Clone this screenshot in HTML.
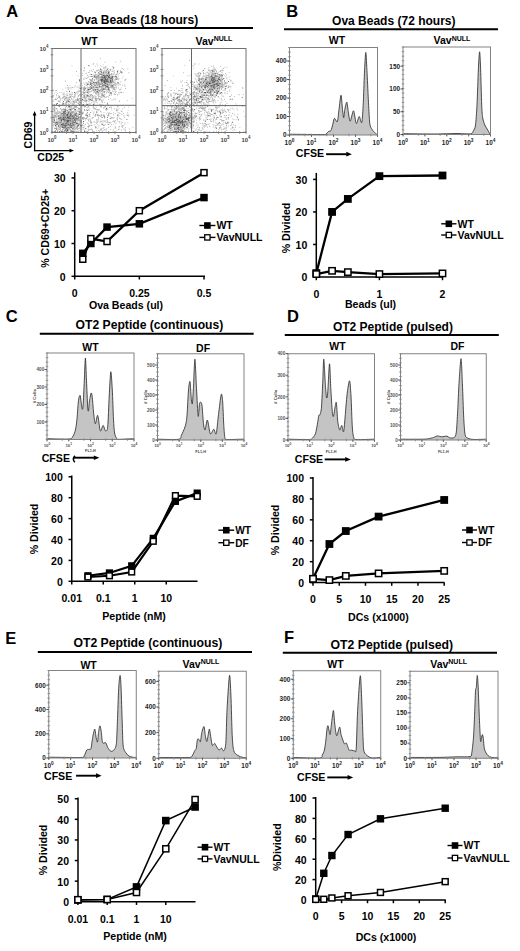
<!DOCTYPE html>
<html><head><meta charset="utf-8"><style>
html,body{margin:0;padding:0;background:#fff;}
svg{display:block;font-family:"Liberation Sans", sans-serif;}
</style></head><body>
<svg width="520" height="951" viewBox="0 0 520 951">
<rect width="520" height="951" fill="#fff"/>
<text x="6.20" y="16.60" font-size="16.5" font-weight="bold" text-anchor="start" fill="#000">A</text>
<text x="74.80" y="23.50" font-size="12" font-weight="bold" text-anchor="start" fill="#000">Ova Beads (18 hours)</text>
<line x1="39.00" y1="28.10" x2="253.00" y2="28.10" stroke="#000" stroke-width="2"/>
<text x="89.50" y="44.60" font-size="10.5" font-weight="bold" text-anchor="middle" fill="#000">WT</text>
<text x="214.00" y="45.00" font-size="10.5" font-weight="bold" text-anchor="middle" fill="#000">Vav<tspan font-size="7" dy="-3.6">NULL</tspan></text>
<path d="M75.4 128.7h.9v.9h-.9zM67.4 115.4h.9v.9h-.9zM59.9 120.2h.9v.9h-.9zM60.4 111.4h.9v.9h-.9zM70.6 114.5h.9v.9h-.9zM67.0 119.6h.9v.9h-.9zM57.2 123.2h.9v.9h-.9zM68.3 119.1h.9v.9h-.9zM75.0 121.2h.9v.9h-.9zM68.4 126.1h.9v.9h-.9zM71.5 120.8h.9v.9h-.9zM60.0 122.7h.9v.9h-.9zM67.5 124.3h.9v.9h-.9zM68.4 126.5h.9v.9h-.9zM71.3 113.5h.9v.9h-.9zM64.4 117.0h.9v.9h-.9zM79.9 119.4h.9v.9h-.9zM71.2 123.7h.9v.9h-.9zM65.2 110.7h.9v.9h-.9zM71.7 112.2h.9v.9h-.9zM64.2 127.5h.9v.9h-.9zM76.3 112.2h.9v.9h-.9zM58.3 119.7h.9v.9h-.9zM71.7 121.0h.9v.9h-.9zM69.0 114.1h.9v.9h-.9zM70.8 126.7h.9v.9h-.9zM64.2 111.4h.9v.9h-.9zM62.1 124.6h.9v.9h-.9zM55.7 119.4h.9v.9h-.9zM60.6 119.2h.9v.9h-.9zM65.4 120.1h.9v.9h-.9zM76.8 122.5h.9v.9h-.9zM63.9 122.3h.9v.9h-.9zM52.6 119.8h.9v.9h-.9zM70.0 116.6h.9v.9h-.9zM60.6 116.9h.9v.9h-.9zM66.0 127.5h.9v.9h-.9zM67.7 119.8h.9v.9h-.9zM69.5 109.1h.9v.9h-.9zM75.1 113.5h.9v.9h-.9zM69.9 113.2h.9v.9h-.9zM60.7 117.6h.9v.9h-.9zM79.3 124.2h.9v.9h-.9zM63.1 118.3h.9v.9h-.9zM59.5 119.8h.9v.9h-.9zM63.3 124.3h.9v.9h-.9zM61.5 115.7h.9v.9h-.9zM71.6 120.8h.9v.9h-.9zM74.5 111.8h.9v.9h-.9zM70.5 109.4h.9v.9h-.9zM65.7 117.8h.9v.9h-.9zM68.1 120.1h.9v.9h-.9zM74.0 125.3h.9v.9h-.9zM65.6 121.9h.9v.9h-.9zM71.3 126.2h.9v.9h-.9zM69.6 124.2h.9v.9h-.9zM65.3 113.6h.9v.9h-.9zM63.8 126.1h.9v.9h-.9zM73.4 120.9h.9v.9h-.9zM63.3 121.8h.9v.9h-.9zM77.8 128.1h.9v.9h-.9zM62.6 119.7h.9v.9h-.9zM73.3 127.6h.9v.9h-.9zM63.4 113.2h.9v.9h-.9zM69.3 113.1h.9v.9h-.9zM68.6 128.6h.9v.9h-.9zM60.3 124.8h.9v.9h-.9zM63.0 127.6h.9v.9h-.9zM72.1 121.8h.9v.9h-.9zM80.0 117.5h.9v.9h-.9zM62.5 131.1h.9v.9h-.9zM68.3 118.8h.9v.9h-.9zM74.0 106.1h.9v.9h-.9zM63.4 118.4h.9v.9h-.9zM78.8 108.0h.9v.9h-.9zM62.7 123.8h.9v.9h-.9zM69.7 128.6h.9v.9h-.9zM63.1 121.6h.9v.9h-.9zM74.6 125.4h.9v.9h-.9zM64.8 126.8h.9v.9h-.9zM61.0 130.8h.9v.9h-.9zM68.0 119.3h.9v.9h-.9zM68.8 125.1h.9v.9h-.9zM78.3 119.1h.9v.9h-.9zM64.6 123.5h.9v.9h-.9zM61.3 109.8h.9v.9h-.9zM72.4 117.7h.9v.9h-.9zM52.6 121.7h.9v.9h-.9zM68.0 129.6h.9v.9h-.9zM70.4 121.9h.9v.9h-.9zM70.8 117.8h.9v.9h-.9zM67.5 111.9h.9v.9h-.9zM70.4 115.2h.9v.9h-.9zM64.1 124.2h.9v.9h-.9zM73.0 114.0h.9v.9h-.9zM80.0 116.5h.9v.9h-.9zM72.4 125.7h.9v.9h-.9zM68.5 121.0h.9v.9h-.9zM78.7 125.3h.9v.9h-.9zM62.1 127.0h.9v.9h-.9zM68.3 114.3h.9v.9h-.9zM62.8 118.2h.9v.9h-.9zM71.5 122.3h.9v.9h-.9zM73.5 115.1h.9v.9h-.9zM67.5 119.2h.9v.9h-.9zM65.6 117.7h.9v.9h-.9zM77.1 128.3h.9v.9h-.9zM71.7 121.1h.9v.9h-.9zM73.8 119.5h.9v.9h-.9zM69.9 122.4h.9v.9h-.9zM67.6 129.9h.9v.9h-.9zM78.4 127.9h.9v.9h-.9zM71.6 117.3h.9v.9h-.9zM66.8 126.8h.9v.9h-.9zM74.6 125.1h.9v.9h-.9zM67.9 120.2h.9v.9h-.9zM72.4 119.5h.9v.9h-.9zM61.2 116.3h.9v.9h-.9zM66.1 122.0h.9v.9h-.9zM81.7 111.8h.9v.9h-.9zM70.1 119.5h.9v.9h-.9zM69.0 128.1h.9v.9h-.9zM75.1 119.1h.9v.9h-.9zM63.4 111.8h.9v.9h-.9zM66.5 127.5h.9v.9h-.9zM65.3 124.2h.9v.9h-.9zM71.6 122.4h.9v.9h-.9zM73.0 117.8h.9v.9h-.9zM65.0 125.0h.9v.9h-.9zM61.9 130.6h.9v.9h-.9zM71.3 116.8h.9v.9h-.9zM62.9 126.5h.9v.9h-.9zM59.3 116.2h.9v.9h-.9zM67.0 121.2h.9v.9h-.9zM67.1 122.3h.9v.9h-.9zM64.6 119.3h.9v.9h-.9zM75.2 123.9h.9v.9h-.9zM64.1 130.3h.9v.9h-.9zM54.1 120.5h.9v.9h-.9zM71.3 125.8h.9v.9h-.9zM67.7 117.7h.9v.9h-.9zM70.8 118.8h.9v.9h-.9zM70.1 102.9h.9v.9h-.9zM69.5 115.3h.9v.9h-.9zM73.1 124.5h.9v.9h-.9zM71.7 117.6h.9v.9h-.9zM69.8 117.9h.9v.9h-.9zM68.4 119.2h.9v.9h-.9zM61.3 131.1h.9v.9h-.9zM71.7 107.7h.9v.9h-.9zM72.8 111.6h.9v.9h-.9zM65.5 116.5h.9v.9h-.9zM63.5 121.4h.9v.9h-.9zM67.0 122.2h.9v.9h-.9zM71.2 114.7h.9v.9h-.9zM66.9 121.3h.9v.9h-.9zM62.9 115.0h.9v.9h-.9zM64.9 119.1h.9v.9h-.9zM64.8 122.6h.9v.9h-.9zM70.6 123.3h.9v.9h-.9zM70.1 114.7h.9v.9h-.9zM59.7 124.8h.9v.9h-.9zM59.5 118.7h.9v.9h-.9zM62.9 114.8h.9v.9h-.9zM62.9 111.0h.9v.9h-.9zM62.4 120.6h.9v.9h-.9zM59.9 124.0h.9v.9h-.9zM79.1 112.6h.9v.9h-.9zM65.5 128.5h.9v.9h-.9zM69.4 120.7h.9v.9h-.9zM73.0 128.6h.9v.9h-.9zM71.2 116.5h.9v.9h-.9zM62.5 109.1h.9v.9h-.9zM60.0 126.7h.9v.9h-.9zM66.3 112.0h.9v.9h-.9zM75.6 110.0h.9v.9h-.9zM75.2 118.1h.9v.9h-.9zM69.2 124.1h.9v.9h-.9zM68.7 127.6h.9v.9h-.9zM67.1 118.0h.9v.9h-.9zM62.7 111.3h.9v.9h-.9zM62.5 125.9h.9v.9h-.9zM72.4 128.3h.9v.9h-.9zM84.7 124.3h.9v.9h-.9zM70.3 112.1h.9v.9h-.9zM70.4 119.2h.9v.9h-.9zM69.0 108.6h.9v.9h-.9zM61.6 112.1h.9v.9h-.9zM53.1 124.6h.9v.9h-.9zM73.3 118.9h.9v.9h-.9zM69.3 114.0h.9v.9h-.9zM69.9 124.6h.9v.9h-.9zM77.0 129.4h.9v.9h-.9zM70.2 119.2h.9v.9h-.9zM61.6 116.4h.9v.9h-.9zM71.0 123.4h.9v.9h-.9zM71.2 120.1h.9v.9h-.9zM60.8 114.1h.9v.9h-.9zM69.3 116.5h.9v.9h-.9zM65.7 127.9h.9v.9h-.9zM70.0 109.4h.9v.9h-.9zM75.0 118.8h.9v.9h-.9zM54.2 120.7h.9v.9h-.9zM63.1 123.3h.9v.9h-.9zM74.9 126.7h.9v.9h-.9zM52.6 115.6h.9v.9h-.9zM68.2 103.9h.9v.9h-.9zM72.0 125.3h.9v.9h-.9zM62.0 117.7h.9v.9h-.9zM60.9 119.9h.9v.9h-.9zM66.7 120.0h.9v.9h-.9zM60.4 122.3h.9v.9h-.9zM64.8 125.7h.9v.9h-.9zM69.0 111.1h.9v.9h-.9zM57.6 120.4h.9v.9h-.9zM63.8 122.8h.9v.9h-.9zM72.2 120.1h.9v.9h-.9zM56.0 112.8h.9v.9h-.9zM70.7 113.7h.9v.9h-.9zM70.4 114.7h.9v.9h-.9zM66.4 102.2h.9v.9h-.9zM65.6 123.4h.9v.9h-.9zM61.2 114.9h.9v.9h-.9zM66.7 120.4h.9v.9h-.9zM56.3 126.7h.9v.9h-.9zM57.9 115.1h.9v.9h-.9zM75.7 114.0h.9v.9h-.9zM56.3 120.5h.9v.9h-.9zM61.0 113.3h.9v.9h-.9zM62.4 115.5h.9v.9h-.9zM60.7 113.8h.9v.9h-.9zM77.5 116.0h.9v.9h-.9zM73.3 111.6h.9v.9h-.9zM70.5 112.5h.9v.9h-.9zM64.0 123.8h.9v.9h-.9zM63.6 108.2h.9v.9h-.9zM63.4 119.1h.9v.9h-.9zM70.7 114.0h.9v.9h-.9zM65.1 120.4h.9v.9h-.9zM56.3 119.4h.9v.9h-.9zM61.6 122.6h.9v.9h-.9zM66.3 119.0h.9v.9h-.9zM52.6 119.3h.9v.9h-.9zM64.6 114.3h.9v.9h-.9zM70.9 116.9h.9v.9h-.9zM60.8 119.2h.9v.9h-.9zM56.4 119.3h.9v.9h-.9zM71.6 127.6h.9v.9h-.9zM64.3 109.3h.9v.9h-.9zM65.9 128.2h.9v.9h-.9zM67.9 127.7h.9v.9h-.9zM72.4 129.4h.9v.9h-.9zM70.9 116.0h.9v.9h-.9zM63.6 108.9h.9v.9h-.9zM80.7 122.5h.9v.9h-.9zM62.9 116.4h.9v.9h-.9zM67.9 116.2h.9v.9h-.9zM64.2 117.4h.9v.9h-.9zM73.9 118.9h.9v.9h-.9zM76.0 115.0h.9v.9h-.9zM63.5 119.5h.9v.9h-.9zM73.7 127.3h.9v.9h-.9zM60.0 127.7h.9v.9h-.9zM67.6 129.5h.9v.9h-.9zM65.9 115.0h.9v.9h-.9zM72.1 123.7h.9v.9h-.9zM64.0 120.1h.9v.9h-.9zM67.8 121.9h.9v.9h-.9zM55.9 112.8h.9v.9h-.9zM67.4 121.6h.9v.9h-.9zM75.7 118.2h.9v.9h-.9zM60.2 129.6h.9v.9h-.9zM74.4 126.2h.9v.9h-.9zM72.4 123.4h.9v.9h-.9zM60.7 120.2h.9v.9h-.9zM69.3 123.8h.9v.9h-.9zM70.1 114.0h.9v.9h-.9zM63.1 118.0h.9v.9h-.9zM69.0 119.9h.9v.9h-.9zM70.8 108.7h.9v.9h-.9zM64.3 125.3h.9v.9h-.9zM54.2 113.5h.9v.9h-.9zM56.2 127.3h.9v.9h-.9zM67.2 116.6h.9v.9h-.9zM68.0 119.5h.9v.9h-.9zM72.9 127.0h.9v.9h-.9zM72.9 122.1h.9v.9h-.9zM72.0 124.9h.9v.9h-.9zM69.2 120.5h.9v.9h-.9zM68.0 118.5h.9v.9h-.9zM66.5 123.0h.9v.9h-.9zM68.3 120.8h.9v.9h-.9zM60.0 112.5h.9v.9h-.9zM62.1 109.3h.9v.9h-.9zM55.3 108.4h.9v.9h-.9zM63.9 116.5h.9v.9h-.9zM61.9 117.0h.9v.9h-.9zM60.4 115.3h.9v.9h-.9zM64.7 119.7h.9v.9h-.9zM62.9 124.9h.9v.9h-.9zM71.2 131.1h.9v.9h-.9zM58.5 124.1h.9v.9h-.9zM65.0 110.1h.9v.9h-.9zM66.8 131.1h.9v.9h-.9zM75.5 130.9h.9v.9h-.9zM74.8 110.7h.9v.9h-.9zM69.7 120.9h.9v.9h-.9zM69.8 113.8h.9v.9h-.9zM54.1 131.1h.9v.9h-.9zM63.8 121.1h.9v.9h-.9zM58.9 125.8h.9v.9h-.9zM68.1 119.1h.9v.9h-.9zM64.2 119.6h.9v.9h-.9zM67.9 117.6h.9v.9h-.9zM73.3 121.3h.9v.9h-.9zM66.4 114.8h.9v.9h-.9zM74.9 127.8h.9v.9h-.9zM71.5 108.9h.9v.9h-.9zM67.2 127.7h.9v.9h-.9zM64.1 124.8h.9v.9h-.9zM70.4 105.3h.9v.9h-.9zM64.4 118.6h.9v.9h-.9zM62.9 114.6h.9v.9h-.9zM77.3 119.3h.9v.9h-.9zM72.1 112.0h.9v.9h-.9zM53.5 117.2h.9v.9h-.9zM69.6 115.7h.9v.9h-.9zM70.4 124.8h.9v.9h-.9zM64.1 119.6h.9v.9h-.9zM62.2 126.5h.9v.9h-.9zM78.5 123.0h.9v.9h-.9zM63.7 115.8h.9v.9h-.9zM65.2 125.3h.9v.9h-.9zM62.1 128.9h.9v.9h-.9zM59.1 120.0h.9v.9h-.9zM64.4 124.8h.9v.9h-.9zM83.4 127.0h.9v.9h-.9zM52.8 121.7h.9v.9h-.9zM82.4 113.0h.9v.9h-.9zM72.9 107.5h.9v.9h-.9zM77.3 114.9h.9v.9h-.9zM72.3 125.5h.9v.9h-.9zM69.1 110.9h.9v.9h-.9zM75.7 116.9h.9v.9h-.9zM74.9 119.1h.9v.9h-.9zM68.8 123.0h.9v.9h-.9zM63.8 112.9h.9v.9h-.9zM70.5 117.9h.9v.9h-.9zM69.8 120.8h.9v.9h-.9zM62.1 118.7h.9v.9h-.9zM71.0 122.9h.9v.9h-.9zM61.6 114.6h.9v.9h-.9zM69.2 121.1h.9v.9h-.9zM72.5 113.1h.9v.9h-.9zM73.0 130.6h.9v.9h-.9zM73.2 120.8h.9v.9h-.9zM72.9 112.3h.9v.9h-.9zM56.4 113.1h.9v.9h-.9zM63.3 113.3h.9v.9h-.9zM77.9 116.3h.9v.9h-.9zM72.0 119.9h.9v.9h-.9zM70.2 129.5h.9v.9h-.9zM68.0 112.8h.9v.9h-.9zM60.4 120.5h.9v.9h-.9zM65.4 119.1h.9v.9h-.9zM71.3 114.7h.9v.9h-.9zM69.0 124.7h.9v.9h-.9zM66.8 119.4h.9v.9h-.9zM71.0 123.5h.9v.9h-.9zM75.0 118.6h.9v.9h-.9zM59.6 116.7h.9v.9h-.9zM59.0 118.8h.9v.9h-.9zM73.7 106.5h.9v.9h-.9zM59.3 124.6h.9v.9h-.9zM65.0 124.8h.9v.9h-.9zM58.4 119.7h.9v.9h-.9zM71.8 127.3h.9v.9h-.9zM77.6 119.7h.9v.9h-.9zM61.3 117.7h.9v.9h-.9zM74.7 114.5h.9v.9h-.9zM78.9 111.9h.9v.9h-.9zM70.6 115.1h.9v.9h-.9zM55.7 122.4h.9v.9h-.9zM59.5 127.2h.9v.9h-.9zM61.2 120.6h.9v.9h-.9zM63.9 120.8h.9v.9h-.9zM71.0 120.4h.9v.9h-.9zM62.5 117.4h.9v.9h-.9zM72.0 119.9h.9v.9h-.9zM56.4 119.1h.9v.9h-.9zM64.5 114.0h.9v.9h-.9zM68.3 113.2h.9v.9h-.9zM65.4 113.2h.9v.9h-.9zM69.9 121.7h.9v.9h-.9zM71.6 119.1h.9v.9h-.9zM71.9 120.7h.9v.9h-.9zM58.6 125.7h.9v.9h-.9zM68.4 117.8h.9v.9h-.9zM52.6 107.2h.9v.9h-.9zM59.3 117.7h.9v.9h-.9zM70.0 119.5h.9v.9h-.9zM60.6 118.0h.9v.9h-.9zM65.5 117.3h.9v.9h-.9zM55.6 121.4h.9v.9h-.9zM74.2 111.8h.9v.9h-.9zM59.6 125.7h.9v.9h-.9zM64.9 126.9h.9v.9h-.9zM69.7 118.3h.9v.9h-.9zM68.9 117.7h.9v.9h-.9zM69.4 126.9h.9v.9h-.9zM55.2 126.3h.9v.9h-.9zM72.4 119.8h.9v.9h-.9zM53.2 120.6h.9v.9h-.9zM62.7 118.8h.9v.9h-.9zM67.4 114.6h.9v.9h-.9zM66.2 120.1h.9v.9h-.9zM76.5 119.4h.9v.9h-.9zM66.1 127.4h.9v.9h-.9zM56.8 123.7h.9v.9h-.9zM69.6 116.4h.9v.9h-.9zM64.1 121.7h.9v.9h-.9zM69.8 127.2h.9v.9h-.9zM53.6 111.2h.9v.9h-.9zM58.3 118.3h.9v.9h-.9zM71.0 125.0h.9v.9h-.9zM65.1 129.1h.9v.9h-.9zM66.5 124.1h.9v.9h-.9zM62.1 125.0h.9v.9h-.9zM72.6 131.2h.9v.9h-.9zM64.2 113.0h.9v.9h-.9zM63.6 112.0h.9v.9h-.9zM72.2 108.3h.9v.9h-.9zM64.0 126.4h.9v.9h-.9zM65.4 122.8h.9v.9h-.9zM70.2 123.6h.9v.9h-.9zM73.9 123.9h.9v.9h-.9zM65.1 116.1h.9v.9h-.9zM69.6 127.4h.9v.9h-.9zM72.1 115.8h.9v.9h-.9zM68.3 120.0h.9v.9h-.9zM63.9 127.8h.9v.9h-.9zM71.0 122.2h.9v.9h-.9zM59.1 104.2h.9v.9h-.9zM65.6 119.9h.9v.9h-.9zM65.3 122.9h.9v.9h-.9zM66.9 130.3h.9v.9h-.9zM66.2 118.4h.9v.9h-.9zM76.2 124.5h.9v.9h-.9zM71.5 123.2h.9v.9h-.9zM66.7 121.9h.9v.9h-.9zM70.5 120.6h.9v.9h-.9zM54.8 128.3h.9v.9h-.9zM63.9 116.6h.9v.9h-.9zM64.8 115.7h.9v.9h-.9zM72.7 118.2h.9v.9h-.9zM70.1 111.9h.9v.9h-.9zM71.9 113.2h.9v.9h-.9zM71.5 115.6h.9v.9h-.9zM63.1 112.5h.9v.9h-.9zM58.7 118.7h.9v.9h-.9zM74.4 114.9h.9v.9h-.9zM63.0 119.8h.9v.9h-.9zM68.5 126.3h.9v.9h-.9zM66.0 127.3h.9v.9h-.9zM60.5 121.0h.9v.9h-.9zM72.0 123.5h.9v.9h-.9zM62.4 113.8h.9v.9h-.9zM55.0 116.8h.9v.9h-.9zM65.3 111.0h.9v.9h-.9zM72.5 121.0h.9v.9h-.9zM65.4 116.8h.9v.9h-.9zM70.3 117.1h.9v.9h-.9zM73.9 110.2h.9v.9h-.9zM60.0 130.8h.9v.9h-.9zM73.8 129.8h.9v.9h-.9zM73.5 125.5h.9v.9h-.9zM65.8 128.8h.9v.9h-.9zM69.7 112.2h.9v.9h-.9zM83.0 120.8h.9v.9h-.9zM75.2 115.8h.9v.9h-.9zM60.9 125.3h.9v.9h-.9zM68.6 112.0h.9v.9h-.9zM53.6 126.6h.9v.9h-.9zM59.6 124.5h.9v.9h-.9zM73.9 122.2h.9v.9h-.9zM76.9 122.2h.9v.9h-.9zM68.9 120.0h.9v.9h-.9zM69.7 122.1h.9v.9h-.9zM75.0 115.3h.9v.9h-.9zM70.9 109.5h.9v.9h-.9zM67.4 130.9h.9v.9h-.9zM67.5 127.7h.9v.9h-.9zM64.6 122.7h.9v.9h-.9zM69.4 106.8h.9v.9h-.9zM61.8 131.1h.9v.9h-.9zM61.6 127.2h.9v.9h-.9zM78.2 119.7h.9v.9h-.9zM73.5 122.2h.9v.9h-.9zM69.8 114.1h.9v.9h-.9zM64.1 111.9h.9v.9h-.9zM64.8 119.8h.9v.9h-.9zM71.4 127.6h.9v.9h-.9zM62.7 104.2h.9v.9h-.9zM57.9 127.6h.9v.9h-.9zM71.7 128.5h.9v.9h-.9zM68.6 113.5h.9v.9h-.9zM59.6 121.3h.9v.9h-.9zM68.5 110.5h.9v.9h-.9zM69.4 126.1h.9v.9h-.9zM78.1 114.9h.9v.9h-.9zM70.7 124.7h.9v.9h-.9zM70.7 121.7h.9v.9h-.9zM68.0 111.1h.9v.9h-.9zM68.6 115.3h.9v.9h-.9zM76.7 131.1h.9v.9h-.9zM74.2 107.1h.9v.9h-.9zM73.5 120.7h.9v.9h-.9zM59.9 112.7h.9v.9h-.9zM73.9 116.1h.9v.9h-.9zM66.5 120.4h.9v.9h-.9zM73.1 103.9h.9v.9h-.9zM75.0 115.1h.9v.9h-.9zM64.4 123.7h.9v.9h-.9zM70.9 119.1h.9v.9h-.9zM60.3 116.3h.9v.9h-.9zM56.6 124.7h.9v.9h-.9zM76.6 116.2h.9v.9h-.9zM63.9 111.3h.9v.9h-.9zM62.4 113.9h.9v.9h-.9zM67.1 130.4h.9v.9h-.9zM73.8 125.9h.9v.9h-.9zM60.7 125.0h.9v.9h-.9zM62.3 114.7h.9v.9h-.9zM71.8 119.4h.9v.9h-.9zM65.0 124.5h.9v.9h-.9zM59.5 124.1h.9v.9h-.9zM77.2 119.2h.9v.9h-.9zM63.6 121.8h.9v.9h-.9zM61.9 123.6h.9v.9h-.9zM64.6 122.6h.9v.9h-.9zM68.7 111.8h.9v.9h-.9zM70.1 123.6h.9v.9h-.9zM63.9 123.9h.9v.9h-.9zM63.4 120.7h.9v.9h-.9zM70.4 123.3h.9v.9h-.9zM62.8 119.1h.9v.9h-.9zM55.1 125.2h.9v.9h-.9zM59.7 116.4h.9v.9h-.9zM63.7 122.5h.9v.9h-.9zM65.2 118.3h.9v.9h-.9zM67.5 118.0h.9v.9h-.9zM66.9 114.1h.9v.9h-.9zM63.4 112.7h.9v.9h-.9zM71.3 122.0h.9v.9h-.9zM63.1 123.3h.9v.9h-.9zM56.9 105.0h.9v.9h-.9zM59.3 129.0h.9v.9h-.9zM68.6 129.3h.9v.9h-.9zM62.4 126.1h.9v.9h-.9zM77.3 125.9h.9v.9h-.9zM68.9 126.5h.9v.9h-.9zM59.5 115.4h.9v.9h-.9zM67.1 115.4h.9v.9h-.9zM78.4 124.0h.9v.9h-.9zM62.2 130.1h.9v.9h-.9zM77.2 127.1h.9v.9h-.9zM69.0 126.9h.9v.9h-.9zM77.2 129.0h.9v.9h-.9zM63.9 109.3h.9v.9h-.9zM56.0 129.1h.9v.9h-.9zM73.9 127.1h.9v.9h-.9zM67.0 120.5h.9v.9h-.9zM70.2 122.8h.9v.9h-.9zM58.1 120.9h.9v.9h-.9zM66.0 128.5h.9v.9h-.9zM60.1 108.1h.9v.9h-.9zM77.9 117.9h.9v.9h-.9zM62.4 122.3h.9v.9h-.9zM77.0 126.5h.9v.9h-.9zM72.7 125.6h.9v.9h-.9zM65.1 120.5h.9v.9h-.9zM69.7 130.9h.9v.9h-.9zM69.4 118.5h.9v.9h-.9zM66.2 118.4h.9v.9h-.9zM60.8 123.0h.9v.9h-.9zM62.7 119.5h.9v.9h-.9zM58.5 129.5h.9v.9h-.9zM78.2 118.8h.9v.9h-.9zM55.1 122.9h.9v.9h-.9zM68.6 123.0h.9v.9h-.9zM71.4 117.3h.9v.9h-.9zM74.4 121.9h.9v.9h-.9zM79.3 119.3h.9v.9h-.9zM52.6 131.1h.9v.9h-.9zM70.6 109.0h.9v.9h-.9zM63.0 115.2h.9v.9h-.9zM73.1 116.2h.9v.9h-.9zM74.6 117.0h.9v.9h-.9zM73.2 116.3h.9v.9h-.9zM59.2 123.5h.9v.9h-.9zM56.3 113.8h.9v.9h-.9zM69.6 109.9h.9v.9h-.9zM69.2 112.4h.9v.9h-.9zM73.4 125.1h.9v.9h-.9zM81.0 121.2h.9v.9h-.9zM63.8 124.9h.9v.9h-.9zM58.2 117.3h.9v.9h-.9zM60.5 116.6h.9v.9h-.9zM59.8 122.3h.9v.9h-.9zM67.2 119.5h.9v.9h-.9zM68.9 122.3h.9v.9h-.9zM63.8 126.5h.9v.9h-.9zM76.3 102.2h.9v.9h-.9zM72.3 113.4h.9v.9h-.9zM69.3 120.5h.9v.9h-.9zM58.8 111.9h.9v.9h-.9zM58.9 117.6h.9v.9h-.9zM65.1 118.4h.9v.9h-.9zM66.7 122.5h.9v.9h-.9zM64.9 129.5h.9v.9h-.9zM66.6 124.1h.9v.9h-.9zM65.7 126.8h.9v.9h-.9zM66.6 114.9h.9v.9h-.9zM79.4 108.3h.9v.9h-.9zM68.1 117.9h.9v.9h-.9zM69.2 117.5h.9v.9h-.9zM61.2 122.0h.9v.9h-.9zM67.0 118.6h.9v.9h-.9zM62.7 129.2h.9v.9h-.9zM68.4 118.9h.9v.9h-.9zM58.8 115.3h.9v.9h-.9zM71.8 115.5h.9v.9h-.9zM71.2 119.3h.9v.9h-.9zM69.6 122.1h.9v.9h-.9zM64.2 118.4h.9v.9h-.9zM66.6 123.9h.9v.9h-.9zM82.7 125.2h.9v.9h-.9zM66.2 115.8h.9v.9h-.9zM67.8 119.7h.9v.9h-.9zM68.7 119.8h.9v.9h-.9zM66.8 127.6h.9v.9h-.9zM78.0 120.6h.9v.9h-.9zM77.3 125.6h.9v.9h-.9zM74.8 121.6h.9v.9h-.9zM68.4 124.8h.9v.9h-.9zM60.7 120.3h.9v.9h-.9zM59.6 125.5h.9v.9h-.9zM68.4 123.6h.9v.9h-.9zM64.8 115.4h.9v.9h-.9zM73.3 117.4h.9v.9h-.9zM65.6 120.2h.9v.9h-.9zM60.2 113.7h.9v.9h-.9zM73.6 118.1h.9v.9h-.9zM65.4 114.7h.9v.9h-.9zM73.1 122.8h.9v.9h-.9zM63.5 109.7h.9v.9h-.9zM78.7 116.6h.9v.9h-.9zM59.4 117.0h.9v.9h-.9zM59.6 120.0h.9v.9h-.9zM63.4 112.9h.9v.9h-.9zM71.4 114.9h.9v.9h-.9zM54.9 122.0h.9v.9h-.9zM56.2 115.8h.9v.9h-.9zM63.7 127.6h.9v.9h-.9zM73.9 121.9h.9v.9h-.9zM70.7 117.3h.9v.9h-.9zM62.5 115.8h.9v.9h-.9zM58.4 123.3h.9v.9h-.9zM59.9 128.3h.9v.9h-.9zM77.8 120.5h.9v.9h-.9zM66.7 114.9h.9v.9h-.9zM72.9 120.5h.9v.9h-.9zM57.3 114.4h.9v.9h-.9zM70.1 117.0h.9v.9h-.9zM69.9 121.5h.9v.9h-.9zM76.3 119.4h.9v.9h-.9zM73.9 126.6h.9v.9h-.9zM75.6 117.9h.9v.9h-.9zM65.7 116.4h.9v.9h-.9zM67.8 112.9h.9v.9h-.9zM61.5 117.4h.9v.9h-.9zM65.2 126.0h.9v.9h-.9zM59.9 118.9h.9v.9h-.9zM60.0 114.8h.9v.9h-.9zM63.5 122.5h.9v.9h-.9zM78.3 131.1h.9v.9h-.9zM66.5 107.7h.9v.9h-.9zM77.1 120.1h.9v.9h-.9zM64.3 126.6h.9v.9h-.9zM66.3 118.7h.9v.9h-.9zM61.3 125.5h.9v.9h-.9zM72.5 114.9h.9v.9h-.9zM62.3 117.5h.9v.9h-.9zM62.0 118.6h.9v.9h-.9zM73.5 123.6h.9v.9h-.9zM53.9 119.9h.9v.9h-.9zM72.1 119.7h.9v.9h-.9zM63.7 123.1h.9v.9h-.9zM63.6 119.8h.9v.9h-.9zM82.9 112.2h.9v.9h-.9zM67.5 120.2h.9v.9h-.9zM76.8 123.7h.9v.9h-.9zM68.4 118.2h.9v.9h-.9zM75.1 120.4h.9v.9h-.9zM66.4 121.0h.9v.9h-.9zM71.5 120.2h.9v.9h-.9zM67.5 124.1h.9v.9h-.9zM70.6 117.1h.9v.9h-.9zM60.3 117.8h.9v.9h-.9zM63.7 125.3h.9v.9h-.9zM71.1 120.4h.9v.9h-.9zM60.0 112.2h.9v.9h-.9zM69.4 118.5h.9v.9h-.9zM70.7 108.2h.9v.9h-.9zM74.5 129.0h.9v.9h-.9zM68.1 121.4h.9v.9h-.9zM65.7 125.4h.9v.9h-.9zM61.1 116.5h.9v.9h-.9zM69.6 111.5h.9v.9h-.9zM70.2 122.7h.9v.9h-.9zM78.4 116.8h.9v.9h-.9zM68.0 124.8h.9v.9h-.9zM66.9 126.3h.9v.9h-.9zM67.0 121.5h.9v.9h-.9zM67.0 123.9h.9v.9h-.9zM62.8 125.3h.9v.9h-.9zM73.7 113.7h.9v.9h-.9zM57.3 112.0h.9v.9h-.9zM61.8 124.1h.9v.9h-.9zM67.4 131.3h.9v.9h-.9zM77.3 110.8h.9v.9h-.9zM64.5 118.2h.9v.9h-.9zM77.4 124.7h.9v.9h-.9zM73.0 115.1h.9v.9h-.9zM80.2 113.4h.9v.9h-.9zM67.2 114.2h.9v.9h-.9zM61.2 121.5h.9v.9h-.9zM61.2 124.1h.9v.9h-.9zM70.4 120.3h.9v.9h-.9zM71.1 126.8h.9v.9h-.9zM74.1 113.2h.9v.9h-.9zM71.2 125.4h.9v.9h-.9zM64.6 117.7h.9v.9h-.9zM74.8 124.0h.9v.9h-.9zM67.9 128.6h.9v.9h-.9zM73.1 130.4h.9v.9h-.9zM64.5 125.9h.9v.9h-.9zM54.1 116.1h.9v.9h-.9zM77.9 114.2h.9v.9h-.9zM66.0 117.9h.9v.9h-.9zM70.1 126.8h.9v.9h-.9zM77.4 119.1h.9v.9h-.9zM69.2 125.3h.9v.9h-.9zM74.5 118.3h.9v.9h-.9zM75.8 111.4h.9v.9h-.9zM68.8 111.7h.9v.9h-.9zM64.0 115.3h.9v.9h-.9zM78.5 130.0h.9v.9h-.9zM72.1 121.0h.9v.9h-.9zM54.3 109.8h.9v.9h-.9zM68.2 124.4h.9v.9h-.9zM62.0 123.2h.9v.9h-.9zM81.8 124.4h.9v.9h-.9zM66.8 119.3h.9v.9h-.9zM69.9 121.9h.9v.9h-.9zM57.7 129.3h.9v.9h-.9zM64.1 126.6h.9v.9h-.9zM60.6 116.7h.9v.9h-.9zM60.9 119.6h.9v.9h-.9zM64.7 121.0h.9v.9h-.9zM70.1 129.8h.9v.9h-.9zM70.0 123.1h.9v.9h-.9zM70.2 124.9h.9v.9h-.9zM72.9 121.7h.9v.9h-.9zM59.4 114.3h.9v.9h-.9zM68.9 118.1h.9v.9h-.9zM64.3 116.9h.9v.9h-.9zM62.3 126.6h.9v.9h-.9zM72.1 112.4h.9v.9h-.9zM64.0 126.3h.9v.9h-.9zM69.1 120.4h.9v.9h-.9zM68.6 121.7h.9v.9h-.9zM62.5 129.0h.9v.9h-.9zM52.6 111.7h.9v.9h-.9zM56.2 112.3h.9v.9h-.9zM64.8 121.2h.9v.9h-.9zM75.8 123.4h.9v.9h-.9zM67.8 119.1h.9v.9h-.9zM69.5 124.8h.9v.9h-.9zM62.2 130.5h.9v.9h-.9zM66.9 125.1h.9v.9h-.9zM64.5 128.2h.9v.9h-.9zM73.6 121.9h.9v.9h-.9zM71.1 118.1h.9v.9h-.9zM61.1 126.9h.9v.9h-.9zM59.2 116.9h.9v.9h-.9zM59.4 114.3h.9v.9h-.9zM60.7 124.4h.9v.9h-.9zM54.9 115.0h.9v.9h-.9zM67.5 129.7h.9v.9h-.9zM74.5 121.7h.9v.9h-.9zM57.9 116.0h.9v.9h-.9zM77.0 114.7h.9v.9h-.9zM60.0 117.3h.9v.9h-.9zM57.1 116.2h.9v.9h-.9zM71.4 126.9h.9v.9h-.9zM70.0 114.2h.9v.9h-.9zM63.3 111.8h.9v.9h-.9zM66.1 122.4h.9v.9h-.9zM67.3 114.4h.9v.9h-.9zM70.7 125.5h.9v.9h-.9zM75.0 107.1h.9v.9h-.9zM52.6 113.5h.9v.9h-.9zM71.7 120.2h.9v.9h-.9zM68.6 118.5h.9v.9h-.9zM62.6 114.1h.9v.9h-.9zM87.6 118.5h.9v.9h-.9zM70.6 123.3h.9v.9h-.9zM72.8 119.7h.9v.9h-.9zM62.9 116.5h.9v.9h-.9zM60.5 117.9h.9v.9h-.9zM59.0 122.0h.9v.9h-.9zM71.3 127.3h.9v.9h-.9zM75.4 117.8h.9v.9h-.9zM68.2 115.2h.9v.9h-.9zM70.3 119.6h.9v.9h-.9zM60.1 126.0h.9v.9h-.9zM66.1 111.7h.9v.9h-.9zM55.9 124.1h.9v.9h-.9zM55.5 124.0h.9v.9h-.9zM76.8 123.2h.9v.9h-.9zM63.1 121.3h.9v.9h-.9zM54.9 123.7h.9v.9h-.9zM71.2 120.9h.9v.9h-.9zM74.0 119.0h.9v.9h-.9zM56.0 128.5h.9v.9h-.9zM67.6 116.3h.9v.9h-.9zM63.7 117.8h.9v.9h-.9zM68.3 112.4h.9v.9h-.9zM71.2 118.1h.9v.9h-.9zM71.1 114.8h.9v.9h-.9zM69.3 118.2h.9v.9h-.9zM73.6 117.2h.9v.9h-.9zM63.1 119.8h.9v.9h-.9zM63.3 120.5h.9v.9h-.9zM63.4 117.2h.9v.9h-.9zM54.2 123.5h.9v.9h-.9zM69.4 121.7h.9v.9h-.9zM70.5 121.1h.9v.9h-.9zM63.0 123.7h.9v.9h-.9zM66.8 121.0h.9v.9h-.9zM60.0 120.5h.9v.9h-.9zM66.7 114.9h.9v.9h-.9zM62.1 117.5h.9v.9h-.9zM67.1 116.3h.9v.9h-.9zM60.0 120.4h.9v.9h-.9zM59.2 121.9h.9v.9h-.9zM61.5 118.8h.9v.9h-.9zM74.2 106.8h.9v.9h-.9zM58.4 116.9h.9v.9h-.9zM66.1 114.8h.9v.9h-.9zM60.9 116.3h.9v.9h-.9zM60.5 120.6h.9v.9h-.9zM67.2 124.0h.9v.9h-.9zM69.7 107.2h.9v.9h-.9zM67.4 114.7h.9v.9h-.9zM72.6 118.1h.9v.9h-.9zM61.4 126.2h.9v.9h-.9zM69.9 108.6h.9v.9h-.9zM65.9 124.2h.9v.9h-.9zM59.0 125.6h.9v.9h-.9zM65.0 116.7h.9v.9h-.9zM56.3 128.3h.9v.9h-.9zM69.3 108.7h.9v.9h-.9zM62.1 116.2h.9v.9h-.9zM65.7 115.1h.9v.9h-.9zM72.5 123.4h.9v.9h-.9zM71.6 126.1h.9v.9h-.9zM64.9 102.4h.9v.9h-.9zM59.5 122.9h.9v.9h-.9zM60.5 112.9h.9v.9h-.9zM70.8 119.3h.9v.9h-.9zM70.2 119.4h.9v.9h-.9zM70.9 124.0h.9v.9h-.9zM69.7 111.0h.9v.9h-.9zM65.6 123.0h.9v.9h-.9zM64.5 122.9h.9v.9h-.9zM67.7 127.0h.9v.9h-.9zM52.6 121.0h.9v.9h-.9zM73.8 124.0h.9v.9h-.9zM63.7 118.7h.9v.9h-.9zM64.7 122.5h.9v.9h-.9zM73.8 122.7h.9v.9h-.9zM53.6 117.7h.9v.9h-.9zM66.1 116.0h.9v.9h-.9zM67.5 119.7h.9v.9h-.9zM66.4 118.3h.9v.9h-.9zM68.8 116.5h.9v.9h-.9zM70.5 109.5h.9v.9h-.9zM64.5 121.7h.9v.9h-.9zM62.9 101.2h.9v.9h-.9zM57.7 118.8h.9v.9h-.9zM62.8 124.0h.9v.9h-.9zM67.0 113.8h.9v.9h-.9zM61.5 125.6h.9v.9h-.9zM67.7 122.1h.9v.9h-.9zM67.1 121.2h.9v.9h-.9zM63.5 114.2h.9v.9h-.9zM60.7 114.8h.9v.9h-.9zM67.3 119.3h.9v.9h-.9zM56.7 124.5h.9v.9h-.9zM55.9 126.0h.9v.9h-.9zM63.8 111.7h.9v.9h-.9zM76.4 114.2h.9v.9h-.9zM65.3 119.0h.9v.9h-.9zM53.8 121.4h.9v.9h-.9zM55.2 116.5h.9v.9h-.9zM67.4 129.4h.9v.9h-.9zM62.3 119.8h.9v.9h-.9zM64.6 126.8h.9v.9h-.9zM70.3 118.5h.9v.9h-.9zM74.2 96.5h.9v.9h-.9zM63.8 115.8h.9v.9h-.9zM53.9 115.1h.9v.9h-.9zM52.5 119.8h.9v.9h-.9zM63.9 119.1h.9v.9h-.9zM82.4 128.7h.9v.9h-.9zM72.6 114.9h.9v.9h-.9zM62.6 128.3h.9v.9h-.9zM56.7 113.4h.9v.9h-.9zM65.0 119.5h.9v.9h-.9zM61.0 114.4h.9v.9h-.9zM60.0 112.1h.9v.9h-.9zM63.5 131.1h.9v.9h-.9zM56.0 119.4h.9v.9h-.9zM66.3 122.9h.9v.9h-.9zM64.3 109.5h.9v.9h-.9zM62.1 115.4h.9v.9h-.9zM67.8 106.2h.9v.9h-.9zM55.3 124.3h.9v.9h-.9zM58.6 112.8h.9v.9h-.9zM61.7 113.0h.9v.9h-.9zM71.7 119.7h.9v.9h-.9zM70.2 112.5h.9v.9h-.9zM75.4 106.0h.9v.9h-.9zM59.6 116.3h.9v.9h-.9zM84.6 117.9h.9v.9h-.9zM76.5 112.7h.9v.9h-.9zM52.6 114.8h.9v.9h-.9zM64.6 116.0h.9v.9h-.9zM65.6 118.3h.9v.9h-.9zM62.8 108.4h.9v.9h-.9zM77.4 125.9h.9v.9h-.9zM56.9 111.0h.9v.9h-.9zM59.2 101.0h.9v.9h-.9zM55.3 121.6h.9v.9h-.9zM55.2 116.0h.9v.9h-.9zM64.5 113.3h.9v.9h-.9zM71.2 119.4h.9v.9h-.9zM78.0 120.7h.9v.9h-.9zM61.6 131.2h.9v.9h-.9zM69.7 121.9h.9v.9h-.9zM69.6 115.4h.9v.9h-.9zM58.7 127.8h.9v.9h-.9zM60.5 115.6h.9v.9h-.9zM74.8 125.9h.9v.9h-.9zM67.2 131.1h.9v.9h-.9zM79.3 119.5h.9v.9h-.9zM64.9 126.9h.9v.9h-.9zM73.1 130.6h.9v.9h-.9zM79.5 120.4h.9v.9h-.9zM71.3 110.4h.9v.9h-.9zM71.9 111.9h.9v.9h-.9zM54.9 131.1h.9v.9h-.9zM82.9 117.1h.9v.9h-.9zM69.8 131.1h.9v.9h-.9zM55.0 130.0h.9v.9h-.9zM64.2 123.0h.9v.9h-.9zM77.7 125.6h.9v.9h-.9zM79.6 109.7h.9v.9h-.9zM74.8 118.1h.9v.9h-.9zM69.3 105.7h.9v.9h-.9zM86.2 117.6h.9v.9h-.9zM71.1 106.3h.9v.9h-.9zM65.2 119.5h.9v.9h-.9zM68.1 109.2h.9v.9h-.9zM70.2 114.8h.9v.9h-.9zM77.6 109.8h.9v.9h-.9zM62.0 115.7h.9v.9h-.9zM58.9 126.9h.9v.9h-.9zM52.6 108.5h.9v.9h-.9zM56.6 122.1h.9v.9h-.9zM53.7 124.3h.9v.9h-.9zM70.0 121.2h.9v.9h-.9zM63.7 128.7h.9v.9h-.9zM63.1 113.9h.9v.9h-.9zM65.4 128.7h.9v.9h-.9zM79.3 126.7h.9v.9h-.9zM75.2 128.4h.9v.9h-.9zM71.3 99.2h.9v.9h-.9zM68.6 117.0h.9v.9h-.9zM56.5 103.1h.9v.9h-.9zM68.3 109.3h.9v.9h-.9zM67.0 111.5h.9v.9h-.9zM70.0 110.3h.9v.9h-.9zM62.9 115.9h.9v.9h-.9zM52.6 118.8h.9v.9h-.9zM67.2 119.9h.9v.9h-.9zM70.0 110.2h.9v.9h-.9zM78.6 124.0h.9v.9h-.9zM70.1 116.1h.9v.9h-.9zM60.6 113.3h.9v.9h-.9zM70.4 118.8h.9v.9h-.9zM74.4 119.9h.9v.9h-.9zM63.0 127.3h.9v.9h-.9zM70.4 114.2h.9v.9h-.9zM67.0 128.9h.9v.9h-.9zM79.7 117.2h.9v.9h-.9zM84.0 117.3h.9v.9h-.9zM63.6 124.1h.9v.9h-.9zM77.3 118.3h.9v.9h-.9zM78.0 108.0h.9v.9h-.9zM71.0 122.8h.9v.9h-.9zM70.7 123.3h.9v.9h-.9zM68.6 122.6h.9v.9h-.9zM74.7 109.2h.9v.9h-.9zM67.6 120.2h.9v.9h-.9zM70.4 131.1h.9v.9h-.9zM64.6 111.4h.9v.9h-.9zM69.4 129.2h.9v.9h-.9zM72.9 120.5h.9v.9h-.9zM52.9 116.1h.9v.9h-.9zM65.8 117.6h.9v.9h-.9zM76.5 115.4h.9v.9h-.9zM61.3 116.7h.9v.9h-.9zM67.3 123.5h.9v.9h-.9zM66.3 125.4h.9v.9h-.9zM66.5 119.9h.9v.9h-.9zM82.7 118.9h.9v.9h-.9zM75.7 122.1h.9v.9h-.9zM71.0 114.2h.9v.9h-.9zM57.2 109.5h.9v.9h-.9zM66.0 116.4h.9v.9h-.9zM69.2 117.7h.9v.9h-.9zM68.4 127.0h.9v.9h-.9zM78.5 101.3h.9v.9h-.9zM71.9 118.2h.9v.9h-.9zM70.2 116.3h.9v.9h-.9zM61.3 116.7h.9v.9h-.9zM74.3 118.3h.9v.9h-.9zM74.8 111.0h.9v.9h-.9zM59.9 116.7h.9v.9h-.9zM71.4 126.3h.9v.9h-.9zM68.8 125.9h.9v.9h-.9zM77.6 109.2h.9v.9h-.9zM52.8 109.6h.9v.9h-.9zM69.4 116.0h.9v.9h-.9zM65.2 114.1h.9v.9h-.9zM59.4 122.2h.9v.9h-.9zM66.6 120.4h.9v.9h-.9zM71.8 129.8h.9v.9h-.9zM78.6 119.5h.9v.9h-.9zM71.0 127.0h.9v.9h-.9zM61.8 117.0h.9v.9h-.9zM83.3 123.0h.9v.9h-.9zM72.4 103.5h.9v.9h-.9zM78.6 120.6h.9v.9h-.9zM61.5 118.8h.9v.9h-.9zM71.9 108.6h.9v.9h-.9zM75.0 100.7h.9v.9h-.9zM80.0 115.8h.9v.9h-.9zM69.3 115.9h.9v.9h-.9zM61.6 125.7h.9v.9h-.9zM58.4 117.4h.9v.9h-.9zM71.9 108.4h.9v.9h-.9zM74.9 115.3h.9v.9h-.9zM78.6 117.6h.9v.9h-.9zM58.0 125.8h.9v.9h-.9zM77.8 125.5h.9v.9h-.9zM75.3 121.8h.9v.9h-.9zM64.3 116.5h.9v.9h-.9zM68.5 100.9h.9v.9h-.9zM76.3 115.0h.9v.9h-.9zM52.6 116.7h.9v.9h-.9zM63.8 112.2h.9v.9h-.9zM54.0 110.7h.9v.9h-.9zM69.6 114.5h.9v.9h-.9zM73.8 128.6h.9v.9h-.9zM63.9 105.4h.9v.9h-.9zM58.2 118.5h.9v.9h-.9zM73.7 116.5h.9v.9h-.9zM77.9 123.7h.9v.9h-.9zM63.7 113.2h.9v.9h-.9zM66.7 113.1h.9v.9h-.9zM68.7 109.3h.9v.9h-.9zM70.6 109.6h.9v.9h-.9zM58.2 105.0h.9v.9h-.9zM56.3 114.1h.9v.9h-.9zM69.2 117.1h.9v.9h-.9zM69.4 118.3h.9v.9h-.9zM62.8 127.2h.9v.9h-.9zM57.0 109.8h.9v.9h-.9zM85.2 119.7h.9v.9h-.9zM57.2 130.7h.9v.9h-.9zM66.5 116.3h.9v.9h-.9zM58.0 117.4h.9v.9h-.9zM62.6 121.0h.9v.9h-.9zM78.2 118.3h.9v.9h-.9zM63.1 114.7h.9v.9h-.9zM79.4 113.4h.9v.9h-.9zM76.5 116.5h.9v.9h-.9zM73.5 108.7h.9v.9h-.9zM65.0 110.0h.9v.9h-.9zM59.8 117.5h.9v.9h-.9zM82.0 125.1h.9v.9h-.9zM67.0 113.2h.9v.9h-.9zM61.5 117.9h.9v.9h-.9zM81.9 117.2h.9v.9h-.9zM65.2 125.2h.9v.9h-.9zM62.2 102.4h.9v.9h-.9zM60.0 115.9h.9v.9h-.9zM59.9 125.8h.9v.9h-.9zM77.6 109.8h.9v.9h-.9zM67.3 119.6h.9v.9h-.9zM63.1 112.8h.9v.9h-.9zM70.8 114.7h.9v.9h-.9zM83.2 117.7h.9v.9h-.9zM67.0 119.4h.9v.9h-.9zM68.9 114.5h.9v.9h-.9zM72.1 124.4h.9v.9h-.9zM68.9 121.2h.9v.9h-.9zM54.5 114.4h.9v.9h-.9zM67.7 115.3h.9v.9h-.9zM76.7 120.9h.9v.9h-.9zM66.7 112.5h.9v.9h-.9zM63.4 115.8h.9v.9h-.9zM81.7 108.3h.9v.9h-.9zM81.4 125.3h.9v.9h-.9zM59.2 120.7h.9v.9h-.9zM54.3 123.5h.9v.9h-.9zM88.8 124.7h.9v.9h-.9zM70.3 117.4h.9v.9h-.9zM52.6 106.1h.9v.9h-.9zM52.6 108.2h.9v.9h-.9zM75.8 128.1h.9v.9h-.9zM69.4 114.7h.9v.9h-.9zM73.2 131.1h.9v.9h-.9zM68.3 129.0h.9v.9h-.9zM79.1 111.4h.9v.9h-.9zM68.1 111.3h.9v.9h-.9zM58.6 123.5h.9v.9h-.9zM66.3 116.0h.9v.9h-.9zM74.7 121.5h.9v.9h-.9zM52.6 125.1h.9v.9h-.9zM84.3 110.3h.9v.9h-.9zM77.8 123.4h.9v.9h-.9zM70.4 100.4h.9v.9h-.9zM57.5 114.9h.9v.9h-.9zM67.5 118.9h.9v.9h-.9zM74.2 119.0h.9v.9h-.9zM65.3 110.0h.9v.9h-.9zM60.1 116.3h.9v.9h-.9zM66.2 125.8h.9v.9h-.9zM74.1 122.9h.9v.9h-.9zM67.8 130.9h.9v.9h-.9zM61.7 129.2h.9v.9h-.9zM80.9 120.1h.9v.9h-.9zM62.2 113.0h.9v.9h-.9zM69.4 102.2h.9v.9h-.9zM78.5 111.1h.9v.9h-.9zM67.6 111.1h.9v.9h-.9zM61.8 105.3h.9v.9h-.9zM82.6 122.6h.9v.9h-.9zM54.1 122.0h.9v.9h-.9zM61.5 111.2h.9v.9h-.9zM65.4 102.3h.9v.9h-.9zM68.7 117.9h.9v.9h-.9zM80.4 111.0h.9v.9h-.9zM54.4 110.3h.9v.9h-.9zM61.7 124.6h.9v.9h-.9zM87.0 122.6h.9v.9h-.9zM70.8 109.0h.9v.9h-.9zM54.3 108.3h.9v.9h-.9zM72.9 127.0h.9v.9h-.9zM65.0 107.6h.9v.9h-.9zM73.9 117.1h.9v.9h-.9zM60.3 105.4h.9v.9h-.9zM62.7 120.4h.9v.9h-.9zM77.7 111.0h.9v.9h-.9zM54.1 117.8h.9v.9h-.9zM60.0 123.0h.9v.9h-.9zM64.9 103.7h.9v.9h-.9zM66.6 113.3h.9v.9h-.9zM62.2 113.3h.9v.9h-.9zM66.0 124.1h.9v.9h-.9zM71.5 118.2h.9v.9h-.9zM59.4 105.4h.9v.9h-.9zM84.1 130.1h.9v.9h-.9zM52.6 121.0h.9v.9h-.9zM70.5 118.8h.9v.9h-.9zM68.6 114.7h.9v.9h-.9zM76.0 120.3h.9v.9h-.9zM68.8 114.4h.9v.9h-.9zM79.3 116.3h.9v.9h-.9zM69.3 113.8h.9v.9h-.9zM71.3 110.9h.9v.9h-.9zM79.8 103.5h.9v.9h-.9zM68.0 115.6h.9v.9h-.9zM78.7 119.0h.9v.9h-.9zM70.1 120.0h.9v.9h-.9zM68.9 116.2h.9v.9h-.9zM69.1 109.3h.9v.9h-.9zM84.2 131.1h.9v.9h-.9zM69.1 129.3h.9v.9h-.9zM68.9 108.6h.9v.9h-.9zM83.0 105.5h.9v.9h-.9zM57.6 127.4h.9v.9h-.9zM74.9 122.7h.9v.9h-.9zM63.6 112.3h.9v.9h-.9zM56.4 127.7h.9v.9h-.9zM71.0 122.4h.9v.9h-.9zM62.1 114.2h.9v.9h-.9zM64.0 127.2h.9v.9h-.9zM68.9 123.2h.9v.9h-.9zM70.5 112.9h.9v.9h-.9zM56.6 131.3h.9v.9h-.9zM82.5 117.8h.9v.9h-.9zM76.7 128.5h.9v.9h-.9zM80.6 125.7h.9v.9h-.9zM66.0 123.6h.9v.9h-.9zM62.5 120.0h.9v.9h-.9zM58.6 105.1h.9v.9h-.9zM70.8 123.4h.9v.9h-.9zM71.2 111.9h.9v.9h-.9zM66.8 107.7h.9v.9h-.9zM70.8 122.6h.9v.9h-.9zM84.2 110.0h.9v.9h-.9zM65.7 117.2h.9v.9h-.9zM88.1 120.0h.9v.9h-.9zM71.2 106.2h.9v.9h-.9zM65.8 131.1h.9v.9h-.9zM79.3 123.4h.9v.9h-.9zM69.2 113.2h.9v.9h-.9zM87.3 113.6h.9v.9h-.9zM62.7 124.1h.9v.9h-.9zM69.3 111.0h.9v.9h-.9zM55.3 111.5h.9v.9h-.9zM81.2 113.5h.9v.9h-.9zM114.9 83.1h.9v.9h-.9zM101.0 79.8h.9v.9h-.9zM105.7 80.2h.9v.9h-.9zM110.4 86.4h.9v.9h-.9zM107.0 72.9h.9v.9h-.9zM109.3 74.7h.9v.9h-.9zM104.5 77.7h.9v.9h-.9zM110.2 84.4h.9v.9h-.9zM109.4 74.3h.9v.9h-.9zM111.9 76.6h.9v.9h-.9zM97.9 83.7h.9v.9h-.9zM116.4 73.9h.9v.9h-.9zM103.9 76.1h.9v.9h-.9zM103.5 85.0h.9v.9h-.9zM110.5 79.9h.9v.9h-.9zM107.0 75.3h.9v.9h-.9zM103.2 75.6h.9v.9h-.9zM109.3 82.3h.9v.9h-.9zM104.1 82.6h.9v.9h-.9zM101.4 89.4h.9v.9h-.9zM100.2 76.3h.9v.9h-.9zM105.6 83.1h.9v.9h-.9zM107.5 74.7h.9v.9h-.9zM109.2 83.0h.9v.9h-.9zM99.9 68.5h.9v.9h-.9zM109.2 73.9h.9v.9h-.9zM111.6 88.1h.9v.9h-.9zM113.0 80.6h.9v.9h-.9zM110.7 78.2h.9v.9h-.9zM101.4 78.4h.9v.9h-.9zM103.7 80.2h.9v.9h-.9zM106.3 83.7h.9v.9h-.9zM98.0 82.2h.9v.9h-.9zM104.6 78.8h.9v.9h-.9zM111.9 79.6h.9v.9h-.9zM110.9 86.9h.9v.9h-.9zM105.7 70.0h.9v.9h-.9zM103.2 76.7h.9v.9h-.9zM106.8 80.2h.9v.9h-.9zM95.4 86.9h.9v.9h-.9zM102.8 72.3h.9v.9h-.9zM123.1 69.1h.9v.9h-.9zM102.3 79.3h.9v.9h-.9zM103.6 78.8h.9v.9h-.9zM107.6 74.1h.9v.9h-.9zM100.6 71.8h.9v.9h-.9zM107.2 91.1h.9v.9h-.9zM112.3 78.5h.9v.9h-.9zM113.1 82.1h.9v.9h-.9zM106.8 75.0h.9v.9h-.9zM105.9 81.1h.9v.9h-.9zM99.2 73.3h.9v.9h-.9zM104.4 75.0h.9v.9h-.9zM105.5 80.6h.9v.9h-.9zM107.9 82.4h.9v.9h-.9zM106.4 80.4h.9v.9h-.9zM105.6 79.0h.9v.9h-.9zM104.2 80.5h.9v.9h-.9zM110.5 85.6h.9v.9h-.9zM114.6 82.8h.9v.9h-.9zM102.7 72.5h.9v.9h-.9zM97.4 77.5h.9v.9h-.9zM107.0 84.0h.9v.9h-.9zM106.5 79.1h.9v.9h-.9zM99.4 82.5h.9v.9h-.9zM117.6 82.7h.9v.9h-.9zM101.5 82.1h.9v.9h-.9zM107.3 80.8h.9v.9h-.9zM99.4 80.9h.9v.9h-.9zM110.9 73.1h.9v.9h-.9zM108.6 85.3h.9v.9h-.9zM107.8 75.6h.9v.9h-.9zM104.9 82.7h.9v.9h-.9zM109.1 78.5h.9v.9h-.9zM102.5 75.5h.9v.9h-.9zM105.0 73.2h.9v.9h-.9zM108.1 88.7h.9v.9h-.9zM106.7 82.0h.9v.9h-.9zM104.6 81.7h.9v.9h-.9zM101.4 73.6h.9v.9h-.9zM102.8 81.5h.9v.9h-.9zM102.5 75.4h.9v.9h-.9zM102.6 88.3h.9v.9h-.9zM97.0 84.5h.9v.9h-.9zM102.7 76.2h.9v.9h-.9zM102.9 79.3h.9v.9h-.9zM103.3 77.7h.9v.9h-.9zM106.6 75.6h.9v.9h-.9zM107.0 77.9h.9v.9h-.9zM105.7 79.4h.9v.9h-.9zM108.2 70.0h.9v.9h-.9zM110.8 76.1h.9v.9h-.9zM101.0 84.1h.9v.9h-.9zM102.4 79.3h.9v.9h-.9zM101.0 81.0h.9v.9h-.9zM107.7 77.7h.9v.9h-.9zM104.8 71.3h.9v.9h-.9zM112.1 75.7h.9v.9h-.9zM105.2 76.5h.9v.9h-.9zM107.3 77.8h.9v.9h-.9zM103.9 77.5h.9v.9h-.9zM99.8 84.1h.9v.9h-.9zM106.5 81.2h.9v.9h-.9zM102.3 83.9h.9v.9h-.9zM96.5 87.3h.9v.9h-.9zM102.8 77.8h.9v.9h-.9zM97.7 78.8h.9v.9h-.9zM106.2 76.5h.9v.9h-.9zM112.9 77.9h.9v.9h-.9zM110.5 79.1h.9v.9h-.9zM106.9 77.5h.9v.9h-.9zM102.9 86.0h.9v.9h-.9zM112.1 84.7h.9v.9h-.9zM102.3 76.9h.9v.9h-.9zM106.8 77.2h.9v.9h-.9zM109.3 87.0h.9v.9h-.9zM102.9 76.9h.9v.9h-.9zM97.7 85.1h.9v.9h-.9zM102.3 79.0h.9v.9h-.9zM104.3 75.6h.9v.9h-.9zM108.8 85.4h.9v.9h-.9zM112.7 77.4h.9v.9h-.9zM122.6 75.7h.9v.9h-.9zM106.1 72.5h.9v.9h-.9zM102.6 78.4h.9v.9h-.9zM100.6 76.8h.9v.9h-.9zM99.3 76.7h.9v.9h-.9zM94.3 74.8h.9v.9h-.9zM103.4 78.2h.9v.9h-.9zM112.8 73.5h.9v.9h-.9zM102.0 83.0h.9v.9h-.9zM100.9 77.1h.9v.9h-.9zM96.6 63.5h.9v.9h-.9zM117.6 82.6h.9v.9h-.9zM116.9 78.4h.9v.9h-.9zM100.8 80.0h.9v.9h-.9zM108.0 81.8h.9v.9h-.9zM101.6 79.6h.9v.9h-.9zM108.0 85.6h.9v.9h-.9zM103.9 88.3h.9v.9h-.9zM109.4 80.9h.9v.9h-.9zM102.6 80.6h.9v.9h-.9zM109.3 74.0h.9v.9h-.9zM109.4 80.3h.9v.9h-.9zM104.5 74.9h.9v.9h-.9zM104.8 82.3h.9v.9h-.9zM115.2 79.7h.9v.9h-.9zM111.2 82.6h.9v.9h-.9zM105.1 66.9h.9v.9h-.9zM106.9 78.6h.9v.9h-.9zM99.7 79.1h.9v.9h-.9zM112.6 76.0h.9v.9h-.9zM93.0 84.0h.9v.9h-.9zM96.1 69.7h.9v.9h-.9zM103.9 76.3h.9v.9h-.9zM106.8 77.9h.9v.9h-.9zM107.7 76.8h.9v.9h-.9zM107.9 76.4h.9v.9h-.9zM97.6 78.8h.9v.9h-.9zM103.9 78.9h.9v.9h-.9zM105.0 80.0h.9v.9h-.9zM94.1 85.9h.9v.9h-.9zM109.2 78.1h.9v.9h-.9zM110.9 92.0h.9v.9h-.9zM101.5 85.6h.9v.9h-.9zM115.3 75.0h.9v.9h-.9zM108.5 72.5h.9v.9h-.9zM107.4 75.6h.9v.9h-.9zM112.7 85.0h.9v.9h-.9zM115.3 78.5h.9v.9h-.9zM102.6 78.4h.9v.9h-.9zM100.5 77.7h.9v.9h-.9zM110.4 83.8h.9v.9h-.9zM108.2 71.3h.9v.9h-.9zM114.2 88.1h.9v.9h-.9zM110.7 77.0h.9v.9h-.9zM109.5 78.5h.9v.9h-.9zM97.5 84.6h.9v.9h-.9zM110.7 81.6h.9v.9h-.9zM109.8 79.2h.9v.9h-.9zM104.3 77.4h.9v.9h-.9zM108.7 70.9h.9v.9h-.9zM104.8 81.9h.9v.9h-.9zM104.8 67.3h.9v.9h-.9zM106.9 83.4h.9v.9h-.9zM107.0 79.3h.9v.9h-.9zM108.5 84.1h.9v.9h-.9zM107.5 78.7h.9v.9h-.9zM116.9 70.8h.9v.9h-.9zM106.7 78.6h.9v.9h-.9zM111.7 78.6h.9v.9h-.9zM104.6 89.3h.9v.9h-.9zM104.0 83.9h.9v.9h-.9zM106.1 85.0h.9v.9h-.9zM102.0 80.5h.9v.9h-.9zM109.2 79.1h.9v.9h-.9zM107.7 71.3h.9v.9h-.9zM108.8 77.7h.9v.9h-.9zM116.3 74.3h.9v.9h-.9zM98.0 89.1h.9v.9h-.9zM116.6 78.0h.9v.9h-.9zM95.6 75.5h.9v.9h-.9zM107.7 81.2h.9v.9h-.9zM111.4 84.9h.9v.9h-.9zM109.5 78.2h.9v.9h-.9zM113.5 86.9h.9v.9h-.9zM108.1 77.2h.9v.9h-.9zM110.3 79.8h.9v.9h-.9zM105.9 79.6h.9v.9h-.9zM112.4 86.5h.9v.9h-.9zM111.6 81.2h.9v.9h-.9zM104.2 71.3h.9v.9h-.9zM101.4 81.1h.9v.9h-.9zM91.3 81.1h.9v.9h-.9zM110.0 79.2h.9v.9h-.9zM109.8 74.2h.9v.9h-.9zM106.5 77.0h.9v.9h-.9zM106.4 79.0h.9v.9h-.9zM103.6 70.2h.9v.9h-.9zM104.7 66.6h.9v.9h-.9zM106.5 81.1h.9v.9h-.9zM110.0 76.4h.9v.9h-.9zM104.4 81.1h.9v.9h-.9zM108.3 73.0h.9v.9h-.9zM108.8 87.5h.9v.9h-.9zM96.5 77.0h.9v.9h-.9zM104.4 73.9h.9v.9h-.9zM98.8 87.3h.9v.9h-.9zM107.1 81.1h.9v.9h-.9zM111.3 73.1h.9v.9h-.9zM112.7 75.9h.9v.9h-.9zM111.8 79.0h.9v.9h-.9zM113.5 81.9h.9v.9h-.9zM105.9 84.0h.9v.9h-.9zM102.7 82.3h.9v.9h-.9zM98.6 78.3h.9v.9h-.9zM100.8 85.7h.9v.9h-.9zM104.4 81.1h.9v.9h-.9zM103.3 86.0h.9v.9h-.9zM104.4 76.1h.9v.9h-.9zM103.9 72.4h.9v.9h-.9zM109.8 84.6h.9v.9h-.9zM113.6 81.6h.9v.9h-.9zM105.3 85.6h.9v.9h-.9zM114.0 76.0h.9v.9h-.9zM99.3 76.7h.9v.9h-.9zM106.1 84.6h.9v.9h-.9zM112.0 81.0h.9v.9h-.9zM112.4 77.8h.9v.9h-.9zM105.6 68.2h.9v.9h-.9zM103.3 77.9h.9v.9h-.9zM112.5 78.6h.9v.9h-.9zM104.2 69.4h.9v.9h-.9zM105.0 75.9h.9v.9h-.9zM98.1 77.8h.9v.9h-.9zM102.9 77.9h.9v.9h-.9zM106.4 82.5h.9v.9h-.9zM99.9 70.8h.9v.9h-.9zM107.0 79.6h.9v.9h-.9zM102.2 78.0h.9v.9h-.9zM101.6 86.0h.9v.9h-.9zM115.4 84.7h.9v.9h-.9zM99.7 82.5h.9v.9h-.9zM107.9 79.5h.9v.9h-.9zM105.3 77.8h.9v.9h-.9zM102.9 75.7h.9v.9h-.9zM101.7 90.9h.9v.9h-.9zM109.1 75.8h.9v.9h-.9zM102.6 81.8h.9v.9h-.9zM115.9 87.5h.9v.9h-.9zM100.9 72.6h.9v.9h-.9zM102.7 80.6h.9v.9h-.9zM103.2 76.3h.9v.9h-.9zM117.3 72.8h.9v.9h-.9zM109.7 78.3h.9v.9h-.9zM99.1 80.4h.9v.9h-.9zM105.1 75.7h.9v.9h-.9zM103.8 79.5h.9v.9h-.9zM120.2 81.5h.9v.9h-.9zM104.7 72.1h.9v.9h-.9zM107.3 83.0h.9v.9h-.9zM121.4 71.3h.9v.9h-.9zM98.2 70.2h.9v.9h-.9zM97.6 84.9h.9v.9h-.9zM105.5 75.5h.9v.9h-.9zM105.3 84.8h.9v.9h-.9zM110.7 77.2h.9v.9h-.9zM112.8 84.1h.9v.9h-.9zM104.7 76.8h.9v.9h-.9zM104.0 74.4h.9v.9h-.9zM94.5 84.7h.9v.9h-.9zM113.5 67.0h.9v.9h-.9zM104.4 74.3h.9v.9h-.9zM103.9 81.0h.9v.9h-.9zM112.0 81.5h.9v.9h-.9zM109.9 84.6h.9v.9h-.9zM107.5 84.7h.9v.9h-.9zM110.9 75.7h.9v.9h-.9zM110.1 77.1h.9v.9h-.9zM98.5 82.0h.9v.9h-.9zM103.5 81.7h.9v.9h-.9zM109.7 78.8h.9v.9h-.9zM94.7 81.6h.9v.9h-.9zM112.3 66.0h.9v.9h-.9zM102.8 76.1h.9v.9h-.9zM107.4 77.6h.9v.9h-.9zM101.2 69.4h.9v.9h-.9zM95.9 77.9h.9v.9h-.9zM109.5 73.9h.9v.9h-.9zM109.5 77.0h.9v.9h-.9zM110.8 85.5h.9v.9h-.9zM108.5 74.4h.9v.9h-.9zM111.7 80.0h.9v.9h-.9zM109.8 84.8h.9v.9h-.9zM98.9 85.1h.9v.9h-.9zM107.4 85.7h.9v.9h-.9zM105.5 83.1h.9v.9h-.9zM111.3 85.7h.9v.9h-.9zM104.4 86.3h.9v.9h-.9zM103.4 73.1h.9v.9h-.9zM101.6 72.6h.9v.9h-.9zM113.7 83.9h.9v.9h-.9zM96.0 77.9h.9v.9h-.9zM107.5 80.1h.9v.9h-.9zM103.1 75.6h.9v.9h-.9zM110.7 78.6h.9v.9h-.9zM101.2 80.4h.9v.9h-.9zM102.5 77.8h.9v.9h-.9zM119.9 72.0h.9v.9h-.9zM100.7 86.8h.9v.9h-.9zM107.2 78.2h.9v.9h-.9zM111.3 78.1h.9v.9h-.9zM100.7 86.6h.9v.9h-.9zM106.6 80.0h.9v.9h-.9zM107.0 78.8h.9v.9h-.9zM97.0 83.5h.9v.9h-.9zM106.5 78.0h.9v.9h-.9zM105.1 78.6h.9v.9h-.9zM101.2 82.9h.9v.9h-.9zM107.6 85.5h.9v.9h-.9zM108.9 74.0h.9v.9h-.9zM102.6 78.1h.9v.9h-.9zM106.0 86.1h.9v.9h-.9zM96.4 78.1h.9v.9h-.9zM116.9 82.4h.9v.9h-.9zM113.0 88.2h.9v.9h-.9zM110.4 69.3h.9v.9h-.9zM108.0 78.1h.9v.9h-.9zM101.2 84.1h.9v.9h-.9zM102.1 85.4h.9v.9h-.9zM108.5 76.5h.9v.9h-.9zM101.4 88.2h.9v.9h-.9zM104.9 80.8h.9v.9h-.9zM104.2 78.1h.9v.9h-.9zM96.7 75.4h.9v.9h-.9zM106.8 72.9h.9v.9h-.9zM102.6 79.5h.9v.9h-.9zM101.5 70.5h.9v.9h-.9zM110.7 79.0h.9v.9h-.9zM104.2 76.7h.9v.9h-.9zM107.9 76.9h.9v.9h-.9zM106.2 84.5h.9v.9h-.9zM113.7 87.3h.9v.9h-.9zM100.5 78.8h.9v.9h-.9zM99.0 73.7h.9v.9h-.9zM98.4 77.0h.9v.9h-.9zM103.5 74.1h.9v.9h-.9zM110.2 77.8h.9v.9h-.9zM107.2 73.7h.9v.9h-.9zM109.1 83.1h.9v.9h-.9zM100.3 73.6h.9v.9h-.9zM110.1 84.6h.9v.9h-.9zM101.0 69.3h.9v.9h-.9zM101.1 79.3h.9v.9h-.9zM105.7 77.2h.9v.9h-.9zM108.4 74.5h.9v.9h-.9zM105.0 77.3h.9v.9h-.9zM107.4 79.0h.9v.9h-.9zM108.1 80.0h.9v.9h-.9zM110.5 74.2h.9v.9h-.9zM124.7 85.9h.9v.9h-.9zM98.5 82.2h.9v.9h-.9zM112.6 67.4h.9v.9h-.9zM101.7 81.5h.9v.9h-.9zM96.8 83.4h.9v.9h-.9zM103.5 79.0h.9v.9h-.9zM114.1 79.5h.9v.9h-.9zM102.9 77.0h.9v.9h-.9zM113.4 82.1h.9v.9h-.9zM114.3 90.9h.9v.9h-.9zM101.1 78.6h.9v.9h-.9zM108.5 72.5h.9v.9h-.9zM100.7 71.6h.9v.9h-.9zM104.4 79.4h.9v.9h-.9zM115.1 92.0h.9v.9h-.9zM107.6 80.9h.9v.9h-.9zM93.6 79.1h.9v.9h-.9zM114.0 86.8h.9v.9h-.9zM103.5 76.1h.9v.9h-.9zM106.4 75.9h.9v.9h-.9zM100.9 76.0h.9v.9h-.9zM116.1 86.4h.9v.9h-.9zM107.8 83.5h.9v.9h-.9zM103.2 76.0h.9v.9h-.9zM98.9 85.3h.9v.9h-.9zM94.1 75.8h.9v.9h-.9zM121.7 77.7h.9v.9h-.9zM105.2 81.2h.9v.9h-.9zM106.5 73.6h.9v.9h-.9zM104.4 77.3h.9v.9h-.9zM106.7 78.9h.9v.9h-.9zM104.3 84.4h.9v.9h-.9zM112.9 78.2h.9v.9h-.9zM111.5 84.9h.9v.9h-.9zM105.9 71.1h.9v.9h-.9zM104.3 79.1h.9v.9h-.9zM107.5 79.6h.9v.9h-.9zM111.4 74.4h.9v.9h-.9zM100.1 74.2h.9v.9h-.9zM103.4 81.4h.9v.9h-.9zM109.6 76.9h.9v.9h-.9zM109.1 73.6h.9v.9h-.9zM105.4 70.2h.9v.9h-.9zM113.8 72.6h.9v.9h-.9zM101.1 87.4h.9v.9h-.9zM111.4 73.8h.9v.9h-.9zM111.1 92.7h.9v.9h-.9zM107.6 74.3h.9v.9h-.9zM102.7 87.7h.9v.9h-.9zM103.1 74.9h.9v.9h-.9zM101.5 70.5h.9v.9h-.9zM109.7 75.9h.9v.9h-.9zM113.9 76.1h.9v.9h-.9zM106.0 69.4h.9v.9h-.9zM95.9 81.7h.9v.9h-.9zM104.4 78.0h.9v.9h-.9zM106.2 82.3h.9v.9h-.9zM109.4 82.8h.9v.9h-.9zM91.8 71.1h.9v.9h-.9zM118.0 85.2h.9v.9h-.9zM96.5 76.4h.9v.9h-.9zM108.4 74.9h.9v.9h-.9zM103.3 71.1h.9v.9h-.9zM100.0 89.0h.9v.9h-.9zM106.6 78.5h.9v.9h-.9zM109.3 75.1h.9v.9h-.9zM107.8 78.5h.9v.9h-.9zM109.6 74.0h.9v.9h-.9zM104.9 84.7h.9v.9h-.9zM108.9 74.4h.9v.9h-.9zM95.0 81.9h.9v.9h-.9zM108.1 76.0h.9v.9h-.9zM100.4 78.6h.9v.9h-.9zM107.3 82.1h.9v.9h-.9zM108.5 81.0h.9v.9h-.9zM102.3 80.8h.9v.9h-.9zM106.9 91.7h.9v.9h-.9zM102.8 77.6h.9v.9h-.9zM106.4 78.2h.9v.9h-.9zM105.0 81.6h.9v.9h-.9zM100.8 82.0h.9v.9h-.9zM111.6 76.1h.9v.9h-.9zM108.5 79.7h.9v.9h-.9zM107.7 75.1h.9v.9h-.9zM98.2 80.7h.9v.9h-.9zM109.9 80.5h.9v.9h-.9zM103.4 83.8h.9v.9h-.9zM94.2 82.4h.9v.9h-.9zM100.7 78.9h.9v.9h-.9zM100.5 73.7h.9v.9h-.9zM105.0 83.2h.9v.9h-.9zM79.3 81.3h.9v.9h-.9zM90.6 82.8h.9v.9h-.9zM117.7 76.6h.9v.9h-.9zM103.0 75.5h.9v.9h-.9zM97.2 90.1h.9v.9h-.9zM105.0 83.4h.9v.9h-.9zM85.6 73.3h.9v.9h-.9zM93.1 91.7h.9v.9h-.9zM97.9 75.5h.9v.9h-.9zM110.0 86.2h.9v.9h-.9zM94.6 71.5h.9v.9h-.9zM95.1 89.3h.9v.9h-.9zM92.4 89.4h.9v.9h-.9zM91.4 99.7h.9v.9h-.9zM99.2 79.4h.9v.9h-.9zM108.7 91.2h.9v.9h-.9zM94.4 79.6h.9v.9h-.9zM104.8 87.5h.9v.9h-.9zM112.5 69.6h.9v.9h-.9zM102.9 98.7h.9v.9h-.9zM95.7 74.0h.9v.9h-.9zM92.0 88.2h.9v.9h-.9zM108.0 76.3h.9v.9h-.9zM107.8 87.2h.9v.9h-.9zM98.9 74.7h.9v.9h-.9zM108.3 85.8h.9v.9h-.9zM92.3 82.6h.9v.9h-.9zM103.7 92.0h.9v.9h-.9zM117.0 95.4h.9v.9h-.9zM96.1 92.6h.9v.9h-.9zM106.1 81.7h.9v.9h-.9zM95.2 84.2h.9v.9h-.9zM115.5 88.9h.9v.9h-.9zM92.7 96.0h.9v.9h-.9zM98.3 84.2h.9v.9h-.9zM103.0 85.0h.9v.9h-.9zM91.9 80.0h.9v.9h-.9zM82.8 91.1h.9v.9h-.9zM115.5 74.0h.9v.9h-.9zM88.1 95.4h.9v.9h-.9zM105.7 97.1h.9v.9h-.9zM115.2 93.9h.9v.9h-.9zM100.6 90.6h.9v.9h-.9zM105.7 83.1h.9v.9h-.9zM107.8 79.8h.9v.9h-.9zM100.0 88.7h.9v.9h-.9zM110.1 86.9h.9v.9h-.9zM92.9 86.5h.9v.9h-.9zM122.0 84.8h.9v.9h-.9zM108.7 74.0h.9v.9h-.9zM104.7 87.7h.9v.9h-.9zM94.9 84.5h.9v.9h-.9zM99.6 89.9h.9v.9h-.9zM102.8 71.5h.9v.9h-.9zM86.9 74.8h.9v.9h-.9zM95.7 75.7h.9v.9h-.9zM90.6 85.7h.9v.9h-.9zM122.7 92.4h.9v.9h-.9zM99.1 86.4h.9v.9h-.9zM108.8 89.1h.9v.9h-.9zM98.4 74.2h.9v.9h-.9zM90.4 100.2h.9v.9h-.9zM109.4 77.6h.9v.9h-.9zM97.0 84.7h.9v.9h-.9zM87.8 76.2h.9v.9h-.9zM103.6 80.5h.9v.9h-.9zM84.4 77.2h.9v.9h-.9zM114.4 98.6h.9v.9h-.9zM93.2 90.0h.9v.9h-.9zM100.3 78.1h.9v.9h-.9zM108.7 92.7h.9v.9h-.9zM83.7 70.6h.9v.9h-.9zM112.6 91.3h.9v.9h-.9zM92.9 89.4h.9v.9h-.9zM109.6 69.1h.9v.9h-.9zM85.3 88.2h.9v.9h-.9zM91.1 87.6h.9v.9h-.9zM90.0 86.6h.9v.9h-.9zM106.8 78.2h.9v.9h-.9zM97.1 80.6h.9v.9h-.9zM104.0 83.6h.9v.9h-.9zM100.5 83.3h.9v.9h-.9zM99.7 86.2h.9v.9h-.9zM88.7 89.6h.9v.9h-.9zM113.6 85.2h.9v.9h-.9zM84.5 94.0h.9v.9h-.9zM99.1 85.2h.9v.9h-.9zM102.3 101.3h.9v.9h-.9zM91.1 84.7h.9v.9h-.9zM97.8 90.5h.9v.9h-.9zM109.3 92.4h.9v.9h-.9zM104.5 87.6h.9v.9h-.9zM105.5 89.0h.9v.9h-.9zM125.0 88.0h.9v.9h-.9zM74.6 85.5h.9v.9h-.9zM103.6 74.7h.9v.9h-.9zM100.7 84.1h.9v.9h-.9zM94.5 87.0h.9v.9h-.9zM86.7 95.6h.9v.9h-.9zM83.5 70.2h.9v.9h-.9zM110.3 90.4h.9v.9h-.9zM108.6 70.8h.9v.9h-.9zM105.5 75.8h.9v.9h-.9zM109.4 91.5h.9v.9h-.9zM85.6 78.1h.9v.9h-.9zM86.6 97.4h.9v.9h-.9zM112.9 74.1h.9v.9h-.9zM100.0 58.3h.9v.9h-.9zM108.8 88.3h.9v.9h-.9zM96.2 75.8h.9v.9h-.9zM99.3 85.4h.9v.9h-.9zM112.1 86.9h.9v.9h-.9zM97.8 89.5h.9v.9h-.9zM105.0 84.4h.9v.9h-.9zM105.9 92.7h.9v.9h-.9zM100.8 80.6h.9v.9h-.9zM89.4 73.7h.9v.9h-.9zM127.4 68.6h.9v.9h-.9zM102.2 86.3h.9v.9h-.9zM112.2 77.6h.9v.9h-.9zM101.7 82.9h.9v.9h-.9zM102.6 87.0h.9v.9h-.9zM106.0 70.0h.9v.9h-.9zM104.0 77.3h.9v.9h-.9zM114.8 78.9h.9v.9h-.9zM95.1 90.2h.9v.9h-.9zM119.9 84.3h.9v.9h-.9zM96.6 80.6h.9v.9h-.9zM83.8 69.9h.9v.9h-.9zM128.4 72.3h.9v.9h-.9zM97.1 89.5h.9v.9h-.9zM106.6 84.1h.9v.9h-.9zM100.4 95.9h.9v.9h-.9zM124.0 84.8h.9v.9h-.9zM89.2 70.5h.9v.9h-.9zM98.4 94.1h.9v.9h-.9zM105.1 81.9h.9v.9h-.9zM106.0 86.3h.9v.9h-.9zM106.7 85.0h.9v.9h-.9zM89.8 87.3h.9v.9h-.9zM97.5 73.2h.9v.9h-.9zM124.7 80.3h.9v.9h-.9zM110.8 77.9h.9v.9h-.9zM101.5 93.3h.9v.9h-.9zM89.0 84.5h.9v.9h-.9zM114.8 79.3h.9v.9h-.9zM106.3 82.1h.9v.9h-.9zM96.0 78.9h.9v.9h-.9zM101.9 84.1h.9v.9h-.9zM96.6 87.9h.9v.9h-.9zM99.6 86.2h.9v.9h-.9zM108.4 85.2h.9v.9h-.9zM99.2 74.4h.9v.9h-.9zM97.1 65.4h.9v.9h-.9zM100.8 69.1h.9v.9h-.9zM105.0 88.4h.9v.9h-.9zM90.4 86.2h.9v.9h-.9zM85.9 72.8h.9v.9h-.9zM101.1 87.8h.9v.9h-.9zM108.4 87.9h.9v.9h-.9zM97.5 87.2h.9v.9h-.9zM105.6 77.0h.9v.9h-.9zM101.0 90.9h.9v.9h-.9zM111.5 76.0h.9v.9h-.9zM106.1 91.5h.9v.9h-.9zM95.7 85.0h.9v.9h-.9zM102.3 87.3h.9v.9h-.9zM106.2 86.2h.9v.9h-.9zM101.3 91.2h.9v.9h-.9zM71.5 65.4h.9v.9h-.9zM97.4 86.7h.9v.9h-.9zM95.1 76.1h.9v.9h-.9zM95.6 76.8h.9v.9h-.9zM103.1 91.4h.9v.9h-.9zM105.6 89.4h.9v.9h-.9zM107.3 82.3h.9v.9h-.9zM82.4 72.8h.9v.9h-.9zM93.8 88.3h.9v.9h-.9zM111.1 79.8h.9v.9h-.9zM99.7 86.3h.9v.9h-.9zM99.6 79.6h.9v.9h-.9zM84.2 84.1h.9v.9h-.9zM107.4 68.1h.9v.9h-.9zM100.7 88.9h.9v.9h-.9zM107.4 89.0h.9v.9h-.9zM97.4 88.7h.9v.9h-.9zM108.5 90.1h.9v.9h-.9zM96.3 86.2h.9v.9h-.9zM102.8 80.7h.9v.9h-.9zM93.4 89.4h.9v.9h-.9zM90.1 91.3h.9v.9h-.9zM100.5 80.3h.9v.9h-.9zM112.9 81.8h.9v.9h-.9zM101.2 78.3h.9v.9h-.9zM84.1 86.5h.9v.9h-.9zM95.7 93.9h.9v.9h-.9zM109.5 76.5h.9v.9h-.9zM85.7 82.0h.9v.9h-.9zM107.8 80.9h.9v.9h-.9zM117.2 81.8h.9v.9h-.9zM96.2 87.2h.9v.9h-.9zM104.9 85.2h.9v.9h-.9zM104.8 82.7h.9v.9h-.9zM119.1 73.2h.9v.9h-.9zM89.7 76.0h.9v.9h-.9zM112.5 71.1h.9v.9h-.9zM97.1 70.1h.9v.9h-.9zM86.9 91.6h.9v.9h-.9zM96.9 76.1h.9v.9h-.9zM104.1 84.0h.9v.9h-.9zM103.1 88.4h.9v.9h-.9zM88.5 101.0h.9v.9h-.9zM118.1 83.2h.9v.9h-.9zM80.8 93.4h.9v.9h-.9zM94.9 93.2h.9v.9h-.9zM99.1 76.3h.9v.9h-.9zM95.1 65.7h.9v.9h-.9zM90.8 95.8h.9v.9h-.9zM91.8 85.6h.9v.9h-.9zM76.2 82.0h.9v.9h-.9zM95.4 88.6h.9v.9h-.9zM86.7 87.3h.9v.9h-.9zM98.9 104.3h.9v.9h-.9zM116.1 76.5h.9v.9h-.9zM101.8 91.9h.9v.9h-.9zM92.2 85.6h.9v.9h-.9zM99.5 83.8h.9v.9h-.9zM106.9 70.6h.9v.9h-.9zM102.0 80.2h.9v.9h-.9zM100.0 90.0h.9v.9h-.9zM77.5 75.4h.9v.9h-.9zM89.1 96.6h.9v.9h-.9zM115.5 87.1h.9v.9h-.9zM93.9 89.1h.9v.9h-.9zM90.8 70.1h.9v.9h-.9zM110.4 80.5h.9v.9h-.9zM89.9 83.5h.9v.9h-.9zM113.1 87.6h.9v.9h-.9zM100.0 64.9h.9v.9h-.9zM104.0 94.5h.9v.9h-.9zM102.9 78.6h.9v.9h-.9zM99.1 92.7h.9v.9h-.9zM92.8 69.1h.9v.9h-.9zM97.4 95.2h.9v.9h-.9zM124.9 79.0h.9v.9h-.9zM105.7 76.2h.9v.9h-.9zM97.5 74.7h.9v.9h-.9zM117.6 83.3h.9v.9h-.9zM92.2 99.1h.9v.9h-.9zM118.5 93.5h.9v.9h-.9zM97.1 85.3h.9v.9h-.9zM112.1 87.1h.9v.9h-.9zM97.0 75.6h.9v.9h-.9zM97.2 95.2h.9v.9h-.9zM96.2 82.8h.9v.9h-.9zM116.3 73.6h.9v.9h-.9zM99.1 82.5h.9v.9h-.9zM114.8 79.5h.9v.9h-.9zM102.2 85.5h.9v.9h-.9zM101.1 75.7h.9v.9h-.9zM111.0 93.4h.9v.9h-.9zM86.4 107.2h.9v.9h-.9zM104.5 83.1h.9v.9h-.9zM117.9 83.2h.9v.9h-.9zM100.8 98.9h.9v.9h-.9zM92.7 74.3h.9v.9h-.9zM106.3 74.0h.9v.9h-.9zM81.7 99.8h.9v.9h-.9zM112.8 89.2h.9v.9h-.9zM103.0 81.4h.9v.9h-.9zM108.8 76.0h.9v.9h-.9zM91.5 84.8h.9v.9h-.9zM106.4 89.8h.9v.9h-.9zM83.3 89.8h.9v.9h-.9zM114.4 83.4h.9v.9h-.9zM103.1 76.0h.9v.9h-.9zM120.9 72.3h.9v.9h-.9zM114.9 83.5h.9v.9h-.9zM107.0 87.0h.9v.9h-.9zM103.3 95.5h.9v.9h-.9zM94.9 91.4h.9v.9h-.9zM101.4 80.2h.9v.9h-.9zM108.2 85.1h.9v.9h-.9zM96.5 79.0h.9v.9h-.9zM112.0 79.4h.9v.9h-.9zM89.6 80.9h.9v.9h-.9zM114.2 88.6h.9v.9h-.9zM87.5 77.1h.9v.9h-.9zM90.5 99.4h.9v.9h-.9zM85.8 90.7h.9v.9h-.9zM114.2 84.1h.9v.9h-.9zM106.7 81.7h.9v.9h-.9zM102.8 84.0h.9v.9h-.9zM88.6 95.8h.9v.9h-.9zM103.9 96.2h.9v.9h-.9zM103.3 78.0h.9v.9h-.9zM111.3 76.9h.9v.9h-.9zM92.6 88.2h.9v.9h-.9zM110.0 98.2h.9v.9h-.9zM103.8 78.7h.9v.9h-.9zM106.3 85.7h.9v.9h-.9zM93.6 89.0h.9v.9h-.9zM111.3 99.7h.9v.9h-.9zM125.5 78.8h.9v.9h-.9zM86.6 84.0h.9v.9h-.9zM106.3 81.0h.9v.9h-.9zM109.2 83.9h.9v.9h-.9zM96.6 89.1h.9v.9h-.9zM96.4 70.8h.9v.9h-.9zM119.1 83.5h.9v.9h-.9zM98.8 99.4h.9v.9h-.9zM96.9 102.4h.9v.9h-.9zM89.9 95.5h.9v.9h-.9zM104.6 93.7h.9v.9h-.9zM92.4 82.6h.9v.9h-.9zM102.4 94.5h.9v.9h-.9zM102.7 64.4h.9v.9h-.9zM106.6 87.2h.9v.9h-.9zM91.3 90.8h.9v.9h-.9zM104.0 94.1h.9v.9h-.9zM112.2 91.4h.9v.9h-.9zM97.4 77.6h.9v.9h-.9zM103.7 76.2h.9v.9h-.9zM113.6 70.3h.9v.9h-.9zM85.3 91.2h.9v.9h-.9zM101.1 89.5h.9v.9h-.9zM103.6 81.2h.9v.9h-.9zM94.2 71.3h.9v.9h-.9zM93.3 84.3h.9v.9h-.9zM110.8 85.8h.9v.9h-.9zM91.9 89.5h.9v.9h-.9zM103.3 90.7h.9v.9h-.9zM101.6 88.7h.9v.9h-.9zM90.4 98.8h.9v.9h-.9zM109.7 76.4h.9v.9h-.9zM94.9 73.5h.9v.9h-.9zM91.5 79.4h.9v.9h-.9zM98.2 89.6h.9v.9h-.9zM88.0 92.7h.9v.9h-.9zM117.9 87.5h.9v.9h-.9zM105.6 71.8h.9v.9h-.9zM98.1 80.1h.9v.9h-.9zM97.7 87.8h.9v.9h-.9zM77.9 98.5h.9v.9h-.9zM83.6 92.5h.9v.9h-.9zM98.2 89.3h.9v.9h-.9zM96.7 83.8h.9v.9h-.9zM84.0 67.1h.9v.9h-.9zM114.9 94.1h.9v.9h-.9zM97.4 86.8h.9v.9h-.9zM104.5 61.8h.9v.9h-.9zM98.3 68.9h.9v.9h-.9zM111.4 70.9h.9v.9h-.9zM89.8 86.0h.9v.9h-.9zM115.6 91.0h.9v.9h-.9zM111.5 81.0h.9v.9h-.9zM101.3 75.6h.9v.9h-.9zM104.8 79.5h.9v.9h-.9zM107.1 86.1h.9v.9h-.9zM99.8 89.2h.9v.9h-.9zM84.5 84.2h.9v.9h-.9zM79.1 80.7h.9v.9h-.9zM101.8 85.0h.9v.9h-.9zM95.6 96.2h.9v.9h-.9zM101.9 85.7h.9v.9h-.9zM95.8 101.6h.9v.9h-.9zM99.7 89.1h.9v.9h-.9zM97.4 93.7h.9v.9h-.9zM105.1 71.9h.9v.9h-.9zM102.6 89.4h.9v.9h-.9zM113.9 87.7h.9v.9h-.9zM98.8 85.7h.9v.9h-.9zM113.1 98.9h.9v.9h-.9zM107.5 95.9h.9v.9h-.9zM92.1 85.9h.9v.9h-.9zM112.8 82.1h.9v.9h-.9zM107.2 81.2h.9v.9h-.9zM93.8 82.3h.9v.9h-.9zM102.1 81.1h.9v.9h-.9zM102.5 104.5h.9v.9h-.9zM90.1 81.9h.9v.9h-.9zM112.5 82.3h.9v.9h-.9zM95.7 84.3h.9v.9h-.9zM92.0 80.9h.9v.9h-.9zM111.5 75.0h.9v.9h-.9zM106.1 71.6h.9v.9h-.9zM101.5 93.8h.9v.9h-.9zM95.2 91.8h.9v.9h-.9zM118.4 92.0h.9v.9h-.9zM124.4 79.7h.9v.9h-.9zM102.8 86.3h.9v.9h-.9zM81.7 86.9h.9v.9h-.9zM89.9 76.2h.9v.9h-.9zM111.5 80.2h.9v.9h-.9zM90.2 86.4h.9v.9h-.9zM91.8 87.7h.9v.9h-.9zM107.5 88.2h.9v.9h-.9zM101.6 88.0h.9v.9h-.9zM97.3 80.6h.9v.9h-.9zM97.7 90.8h.9v.9h-.9zM76.1 71.1h.9v.9h-.9zM107.5 85.2h.9v.9h-.9zM85.4 87.0h.9v.9h-.9zM124.3 84.4h.9v.9h-.9zM109.1 89.8h.9v.9h-.9zM100.9 88.7h.9v.9h-.9zM97.3 74.4h.9v.9h-.9zM94.5 89.5h.9v.9h-.9zM117.7 74.6h.9v.9h-.9zM119.1 89.3h.9v.9h-.9zM104.7 89.3h.9v.9h-.9zM87.2 85.5h.9v.9h-.9zM96.4 82.8h.9v.9h-.9zM80.6 69.1h.9v.9h-.9zM114.3 83.8h.9v.9h-.9zM87.9 88.8h.9v.9h-.9zM100.9 81.9h.9v.9h-.9zM97.4 74.8h.9v.9h-.9zM96.7 81.3h.9v.9h-.9zM112.9 86.9h.9v.9h-.9zM113.8 81.9h.9v.9h-.9zM107.8 80.9h.9v.9h-.9zM95.8 90.2h.9v.9h-.9zM90.5 88.4h.9v.9h-.9zM100.5 91.1h.9v.9h-.9zM102.2 77.0h.9v.9h-.9zM114.9 77.8h.9v.9h-.9zM114.0 71.8h.9v.9h-.9zM95.3 74.7h.9v.9h-.9zM106.6 81.0h.9v.9h-.9zM98.1 94.5h.9v.9h-.9zM103.2 96.3h.9v.9h-.9zM110.7 94.7h.9v.9h-.9zM83.7 68.1h.9v.9h-.9zM90.5 74.1h.9v.9h-.9zM87.3 74.9h.9v.9h-.9zM113.7 74.4h.9v.9h-.9zM105.6 66.2h.9v.9h-.9zM108.3 99.0h.9v.9h-.9zM111.5 84.3h.9v.9h-.9zM101.6 102.4h.9v.9h-.9zM108.5 74.4h.9v.9h-.9zM108.4 75.8h.9v.9h-.9zM108.3 88.1h.9v.9h-.9zM93.4 77.0h.9v.9h-.9zM113.8 83.7h.9v.9h-.9zM88.6 88.7h.9v.9h-.9zM94.5 89.5h.9v.9h-.9zM98.3 92.3h.9v.9h-.9zM110.3 82.0h.9v.9h-.9zM106.6 76.7h.9v.9h-.9zM80.6 92.4h.9v.9h-.9zM97.7 76.9h.9v.9h-.9zM115.0 98.6h.9v.9h-.9zM94.3 97.5h.9v.9h-.9zM108.2 78.6h.9v.9h-.9zM98.3 86.6h.9v.9h-.9zM99.3 82.2h.9v.9h-.9zM111.2 94.7h.9v.9h-.9zM100.7 86.4h.9v.9h-.9zM106.2 88.5h.9v.9h-.9zM107.8 83.4h.9v.9h-.9zM104.7 88.7h.9v.9h-.9zM91.8 78.8h.9v.9h-.9zM86.5 77.8h.9v.9h-.9zM99.2 82.5h.9v.9h-.9zM110.3 93.7h.9v.9h-.9zM94.1 83.5h.9v.9h-.9zM111.9 77.1h.9v.9h-.9zM89.1 82.4h.9v.9h-.9zM114.5 77.2h.9v.9h-.9zM99.3 71.0h.9v.9h-.9zM90.6 80.6h.9v.9h-.9zM82.0 75.2h.9v.9h-.9zM95.6 98.1h.9v.9h-.9zM101.5 89.7h.9v.9h-.9zM108.2 96.8h.9v.9h-.9zM101.4 66.2h.9v.9h-.9zM102.7 96.1h.9v.9h-.9zM85.7 85.0h.9v.9h-.9zM105.8 81.3h.9v.9h-.9zM114.8 81.5h.9v.9h-.9zM109.1 90.2h.9v.9h-.9zM89.1 65.2h.9v.9h-.9zM105.9 72.6h.9v.9h-.9zM102.0 77.6h.9v.9h-.9zM105.9 80.9h.9v.9h-.9zM98.1 82.0h.9v.9h-.9zM103.7 81.2h.9v.9h-.9zM108.6 72.6h.9v.9h-.9zM92.6 83.1h.9v.9h-.9zM95.2 74.5h.9v.9h-.9zM95.4 78.3h.9v.9h-.9zM108.1 92.0h.9v.9h-.9zM99.1 79.0h.9v.9h-.9zM103.2 72.4h.9v.9h-.9zM104.8 84.0h.9v.9h-.9zM120.1 89.1h.9v.9h-.9zM93.6 75.6h.9v.9h-.9zM88.5 86.8h.9v.9h-.9zM102.9 83.8h.9v.9h-.9zM98.5 86.7h.9v.9h-.9zM89.3 79.0h.9v.9h-.9zM106.2 95.9h.9v.9h-.9zM89.6 97.7h.9v.9h-.9zM110.8 78.7h.9v.9h-.9zM116.9 94.2h.9v.9h-.9zM95.0 82.7h.9v.9h-.9zM104.9 82.0h.9v.9h-.9zM91.6 76.4h.9v.9h-.9zM88.3 81.4h.9v.9h-.9zM91.6 79.5h.9v.9h-.9zM101.5 74.9h.9v.9h-.9zM103.7 73.8h.9v.9h-.9zM93.8 80.1h.9v.9h-.9zM98.7 100.1h.9v.9h-.9zM115.0 61.7h.9v.9h-.9zM120.7 87.6h.9v.9h-.9zM98.6 74.4h.9v.9h-.9zM99.0 70.6h.9v.9h-.9zM88.5 65.7h.9v.9h-.9zM91.6 79.7h.9v.9h-.9zM114.4 89.6h.9v.9h-.9zM100.6 96.9h.9v.9h-.9zM102.0 76.3h.9v.9h-.9zM109.5 79.9h.9v.9h-.9zM96.4 91.8h.9v.9h-.9zM112.5 89.5h.9v.9h-.9zM111.5 82.6h.9v.9h-.9zM90.8 90.8h.9v.9h-.9zM102.8 72.3h.9v.9h-.9zM101.2 79.5h.9v.9h-.9zM120.2 60.8h.9v.9h-.9zM111.2 87.0h.9v.9h-.9zM90.5 96.9h.9v.9h-.9zM92.7 97.6h.9v.9h-.9zM98.9 72.3h.9v.9h-.9zM102.5 89.5h.9v.9h-.9zM87.8 93.4h.9v.9h-.9zM98.9 77.4h.9v.9h-.9zM102.4 72.4h.9v.9h-.9zM113.5 89.0h.9v.9h-.9zM77.8 92.2h.9v.9h-.9zM88.4 104.2h.9v.9h-.9zM77.3 98.7h.9v.9h-.9zM81.6 105.9h.9v.9h-.9zM83.4 99.5h.9v.9h-.9zM96.1 100.3h.9v.9h-.9zM99.7 103.7h.9v.9h-.9zM94.8 95.7h.9v.9h-.9zM80.4 95.5h.9v.9h-.9zM100.2 97.2h.9v.9h-.9zM78.4 99.5h.9v.9h-.9zM78.3 98.5h.9v.9h-.9zM87.4 107.5h.9v.9h-.9zM90.7 87.1h.9v.9h-.9zM92.2 97.5h.9v.9h-.9zM84.6 98.3h.9v.9h-.9zM86.1 109.6h.9v.9h-.9zM94.9 99.5h.9v.9h-.9zM77.5 102.6h.9v.9h-.9zM101.8 91.5h.9v.9h-.9zM82.3 99.2h.9v.9h-.9zM84.0 89.8h.9v.9h-.9zM101.5 97.0h.9v.9h-.9zM84.6 95.4h.9v.9h-.9zM84.5 97.9h.9v.9h-.9zM90.7 80.7h.9v.9h-.9zM97.6 93.8h.9v.9h-.9zM80.4 100.0h.9v.9h-.9zM95.2 96.9h.9v.9h-.9zM89.7 88.0h.9v.9h-.9zM74.4 101.9h.9v.9h-.9zM90.6 100.1h.9v.9h-.9zM82.8 100.0h.9v.9h-.9zM79.1 93.9h.9v.9h-.9zM103.6 111.9h.9v.9h-.9zM84.2 105.7h.9v.9h-.9zM86.0 95.1h.9v.9h-.9zM80.6 95.1h.9v.9h-.9zM66.9 97.3h.9v.9h-.9zM94.2 84.8h.9v.9h-.9zM81.4 98.8h.9v.9h-.9zM94.1 91.6h.9v.9h-.9zM92.3 98.3h.9v.9h-.9zM98.2 96.0h.9v.9h-.9zM79.5 101.8h.9v.9h-.9zM89.1 104.5h.9v.9h-.9zM68.9 91.2h.9v.9h-.9zM80.3 99.4h.9v.9h-.9zM89.1 95.8h.9v.9h-.9zM95.2 88.8h.9v.9h-.9zM80.7 93.7h.9v.9h-.9zM89.9 103.4h.9v.9h-.9zM86.7 90.2h.9v.9h-.9zM96.1 91.2h.9v.9h-.9zM89.3 87.5h.9v.9h-.9zM101.3 86.7h.9v.9h-.9zM104.0 101.9h.9v.9h-.9zM83.1 92.9h.9v.9h-.9zM88.8 91.9h.9v.9h-.9zM89.4 93.8h.9v.9h-.9zM76.8 107.0h.9v.9h-.9zM82.3 92.0h.9v.9h-.9zM92.9 86.1h.9v.9h-.9zM73.6 96.1h.9v.9h-.9zM82.5 88.5h.9v.9h-.9zM85.8 83.1h.9v.9h-.9zM88.5 88.6h.9v.9h-.9zM89.2 115.3h.9v.9h-.9zM80.8 86.9h.9v.9h-.9zM97.6 92.0h.9v.9h-.9zM85.0 98.1h.9v.9h-.9zM88.6 96.0h.9v.9h-.9zM80.5 102.0h.9v.9h-.9zM80.2 100.4h.9v.9h-.9zM79.5 90.8h.9v.9h-.9zM93.5 105.3h.9v.9h-.9zM101.0 95.5h.9v.9h-.9zM106.7 103.7h.9v.9h-.9zM96.3 92.0h.9v.9h-.9zM91.1 102.3h.9v.9h-.9zM92.8 101.1h.9v.9h-.9zM84.8 93.7h.9v.9h-.9zM92.7 87.0h.9v.9h-.9zM83.0 102.2h.9v.9h-.9zM87.1 91.9h.9v.9h-.9zM77.9 96.0h.9v.9h-.9zM90.7 94.0h.9v.9h-.9zM90.7 105.3h.9v.9h-.9zM92.3 100.1h.9v.9h-.9zM89.2 109.8h.9v.9h-.9zM81.0 102.5h.9v.9h-.9zM82.6 94.0h.9v.9h-.9zM92.0 96.6h.9v.9h-.9zM72.9 103.4h.9v.9h-.9zM92.1 88.3h.9v.9h-.9zM88.4 98.4h.9v.9h-.9zM95.8 106.8h.9v.9h-.9zM83.1 89.6h.9v.9h-.9zM81.1 94.7h.9v.9h-.9zM88.1 81.0h.9v.9h-.9zM90.6 87.5h.9v.9h-.9zM86.1 100.9h.9v.9h-.9zM78.3 100.6h.9v.9h-.9zM72.0 87.1h.9v.9h-.9zM89.9 87.5h.9v.9h-.9zM98.1 97.4h.9v.9h-.9zM89.2 99.1h.9v.9h-.9zM76.2 99.6h.9v.9h-.9zM73.7 92.3h.9v.9h-.9zM75.2 99.4h.9v.9h-.9zM93.3 107.0h.9v.9h-.9zM80.6 87.9h.9v.9h-.9zM73.4 87.2h.9v.9h-.9zM83.6 90.0h.9v.9h-.9zM91.6 88.2h.9v.9h-.9zM86.3 104.9h.9v.9h-.9zM89.3 87.1h.9v.9h-.9zM86.6 88.3h.9v.9h-.9zM93.8 95.3h.9v.9h-.9zM79.4 109.9h.9v.9h-.9zM81.5 111.7h.9v.9h-.9zM87.2 90.7h.9v.9h-.9zM86.4 92.1h.9v.9h-.9zM97.2 90.0h.9v.9h-.9zM80.7 83.0h.9v.9h-.9zM85.0 98.4h.9v.9h-.9zM84.5 89.2h.9v.9h-.9zM73.3 101.9h.9v.9h-.9zM88.9 100.3h.9v.9h-.9zM77.7 90.5h.9v.9h-.9zM83.9 96.7h.9v.9h-.9zM73.3 104.2h.9v.9h-.9zM83.0 87.7h.9v.9h-.9zM95.9 93.6h.9v.9h-.9zM78.7 91.1h.9v.9h-.9zM92.6 87.4h.9v.9h-.9zM88.7 102.9h.9v.9h-.9zM82.6 92.4h.9v.9h-.9zM100.0 111.1h.9v.9h-.9zM89.3 91.3h.9v.9h-.9zM84.8 99.6h.9v.9h-.9zM95.5 95.9h.9v.9h-.9zM100.8 104.8h.9v.9h-.9zM87.1 95.0h.9v.9h-.9zM86.8 99.8h.9v.9h-.9zM77.2 91.4h.9v.9h-.9zM84.7 92.1h.9v.9h-.9zM76.6 87.2h.9v.9h-.9zM85.5 86.7h.9v.9h-.9zM93.9 105.2h.9v.9h-.9zM96.2 112.3h.9v.9h-.9zM91.4 93.9h.9v.9h-.9zM70.7 88.4h.9v.9h-.9zM87.9 96.5h.9v.9h-.9zM93.5 91.8h.9v.9h-.9zM79.1 94.3h.9v.9h-.9zM86.0 99.4h.9v.9h-.9zM97.0 89.5h.9v.9h-.9zM93.4 102.6h.9v.9h-.9zM85.0 98.1h.9v.9h-.9zM98.5 86.2h.9v.9h-.9zM87.7 90.1h.9v.9h-.9zM79.3 104.5h.9v.9h-.9zM79.7 84.2h.9v.9h-.9zM88.2 87.3h.9v.9h-.9zM77.6 85.8h.9v.9h-.9zM81.6 98.3h.9v.9h-.9zM68.8 92.7h.9v.9h-.9zM79.7 85.2h.9v.9h-.9zM79.7 85.5h.9v.9h-.9zM102.4 99.8h.9v.9h-.9zM104.8 91.2h.9v.9h-.9zM87.1 93.7h.9v.9h-.9zM86.4 93.9h.9v.9h-.9zM90.5 95.9h.9v.9h-.9zM77.3 106.9h.9v.9h-.9zM90.8 99.9h.9v.9h-.9zM94.3 107.8h.9v.9h-.9zM86.4 94.4h.9v.9h-.9zM78.6 89.7h.9v.9h-.9zM75.2 85.7h.9v.9h-.9zM80.2 89.7h.9v.9h-.9zM89.5 114.7h.9v.9h-.9zM88.3 99.3h.9v.9h-.9zM85.5 99.9h.9v.9h-.9zM81.6 100.3h.9v.9h-.9zM95.1 92.8h.9v.9h-.9zM78.6 99.0h.9v.9h-.9zM101.0 100.1h.9v.9h-.9zM93.1 96.8h.9v.9h-.9zM93.6 108.4h.9v.9h-.9zM80.2 91.0h.9v.9h-.9zM84.0 93.2h.9v.9h-.9zM76.6 98.7h.9v.9h-.9zM88.3 95.8h.9v.9h-.9zM100.0 98.8h.9v.9h-.9zM100.6 100.9h.9v.9h-.9zM72.5 104.5h.9v.9h-.9zM91.6 85.7h.9v.9h-.9zM91.5 90.2h.9v.9h-.9zM95.1 100.2h.9v.9h-.9zM83.0 104.6h.9v.9h-.9zM95.4 114.4h.9v.9h-.9zM101.9 95.5h.9v.9h-.9zM85.4 101.5h.9v.9h-.9zM82.7 95.9h.9v.9h-.9zM97.7 109.4h.9v.9h-.9zM76.0 91.8h.9v.9h-.9zM83.7 87.5h.9v.9h-.9zM78.0 95.2h.9v.9h-.9zM87.1 85.7h.9v.9h-.9zM92.1 87.4h.9v.9h-.9zM83.4 82.6h.9v.9h-.9zM91.3 98.4h.9v.9h-.9zM76.2 107.7h.9v.9h-.9zM103.0 105.2h.9v.9h-.9zM95.5 98.2h.9v.9h-.9zM72.6 101.0h.9v.9h-.9zM83.5 96.9h.9v.9h-.9zM70.6 87.0h.9v.9h-.9zM84.2 95.8h.9v.9h-.9zM74.6 109.3h.9v.9h-.9zM72.1 104.7h.9v.9h-.9zM55.4 99.0h.9v.9h-.9zM68.7 87.6h.9v.9h-.9zM67.1 93.4h.9v.9h-.9zM70.6 107.5h.9v.9h-.9zM66.8 99.8h.9v.9h-.9zM58.8 101.0h.9v.9h-.9zM64.3 96.0h.9v.9h-.9zM72.0 96.1h.9v.9h-.9zM79.8 103.7h.9v.9h-.9zM55.5 97.6h.9v.9h-.9zM69.3 101.7h.9v.9h-.9zM68.9 104.1h.9v.9h-.9zM66.8 107.6h.9v.9h-.9zM72.8 104.2h.9v.9h-.9zM73.6 97.3h.9v.9h-.9zM68.5 87.5h.9v.9h-.9zM69.0 90.8h.9v.9h-.9zM72.4 100.3h.9v.9h-.9zM63.3 94.3h.9v.9h-.9zM69.1 99.0h.9v.9h-.9zM62.7 92.8h.9v.9h-.9zM69.8 93.9h.9v.9h-.9zM65.2 87.5h.9v.9h-.9zM71.6 102.8h.9v.9h-.9zM75.2 92.3h.9v.9h-.9zM53.0 95.3h.9v.9h-.9zM77.1 98.1h.9v.9h-.9zM65.3 104.8h.9v.9h-.9zM65.4 103.0h.9v.9h-.9zM74.2 100.6h.9v.9h-.9zM74.1 102.9h.9v.9h-.9zM65.1 106.8h.9v.9h-.9zM88.3 103.9h.9v.9h-.9zM69.4 85.4h.9v.9h-.9zM53.5 99.5h.9v.9h-.9zM74.5 101.1h.9v.9h-.9zM52.6 100.8h.9v.9h-.9zM59.7 101.8h.9v.9h-.9zM75.3 101.9h.9v.9h-.9zM65.4 98.1h.9v.9h-.9zM81.5 110.4h.9v.9h-.9zM58.4 106.2h.9v.9h-.9zM82.5 97.2h.9v.9h-.9zM68.0 96.9h.9v.9h-.9zM70.6 96.0h.9v.9h-.9zM68.5 99.0h.9v.9h-.9zM63.0 94.3h.9v.9h-.9zM66.3 103.5h.9v.9h-.9zM66.3 97.0h.9v.9h-.9zM66.8 95.0h.9v.9h-.9zM70.8 94.8h.9v.9h-.9zM57.0 93.2h.9v.9h-.9zM68.1 106.8h.9v.9h-.9zM72.4 105.6h.9v.9h-.9zM86.3 95.8h.9v.9h-.9zM55.9 103.2h.9v.9h-.9zM74.4 104.9h.9v.9h-.9zM52.6 101.0h.9v.9h-.9zM54.1 93.4h.9v.9h-.9zM80.5 96.0h.9v.9h-.9zM66.1 96.8h.9v.9h-.9zM68.1 100.7h.9v.9h-.9zM62.0 97.5h.9v.9h-.9zM63.7 103.5h.9v.9h-.9zM70.1 102.7h.9v.9h-.9zM64.0 109.2h.9v.9h-.9zM67.5 101.5h.9v.9h-.9zM71.2 98.1h.9v.9h-.9zM73.7 97.0h.9v.9h-.9zM58.2 95.2h.9v.9h-.9zM74.9 95.5h.9v.9h-.9zM74.2 101.9h.9v.9h-.9zM61.8 104.2h.9v.9h-.9zM60.5 98.5h.9v.9h-.9zM60.0 98.5h.9v.9h-.9zM69.2 100.8h.9v.9h-.9zM68.2 103.2h.9v.9h-.9zM52.6 104.1h.9v.9h-.9zM66.0 106.0h.9v.9h-.9zM55.6 91.9h.9v.9h-.9zM55.3 90.1h.9v.9h-.9zM64.4 99.6h.9v.9h-.9zM66.8 99.0h.9v.9h-.9zM73.3 97.5h.9v.9h-.9zM72.8 102.1h.9v.9h-.9zM53.7 108.2h.9v.9h-.9zM75.6 106.5h.9v.9h-.9zM60.8 91.9h.9v.9h-.9zM70.3 93.6h.9v.9h-.9zM76.8 97.4h.9v.9h-.9zM65.4 100.4h.9v.9h-.9zM73.9 102.9h.9v.9h-.9zM65.6 97.0h.9v.9h-.9zM79.0 102.0h.9v.9h-.9zM68.1 99.3h.9v.9h-.9zM68.5 106.9h.9v.9h-.9zM56.3 95.2h.9v.9h-.9zM73.6 105.2h.9v.9h-.9zM68.5 97.6h.9v.9h-.9zM84.8 101.1h.9v.9h-.9zM62.5 94.3h.9v.9h-.9zM79.2 100.7h.9v.9h-.9zM69.2 94.3h.9v.9h-.9zM58.8 92.2h.9v.9h-.9zM71.4 105.3h.9v.9h-.9zM59.4 95.8h.9v.9h-.9zM67.4 95.2h.9v.9h-.9zM71.7 92.1h.9v.9h-.9zM70.9 101.7h.9v.9h-.9zM59.1 105.9h.9v.9h-.9zM66.7 98.3h.9v.9h-.9zM78.4 95.1h.9v.9h-.9zM53.2 94.9h.9v.9h-.9zM67.3 88.4h.9v.9h-.9zM61.6 110.8h.9v.9h-.9zM52.6 95.6h.9v.9h-.9zM74.9 93.1h.9v.9h-.9zM58.1 97.1h.9v.9h-.9zM59.8 99.8h.9v.9h-.9zM79.1 104.4h.9v.9h-.9zM68.9 95.8h.9v.9h-.9zM63.8 92.5h.9v.9h-.9zM64.6 98.1h.9v.9h-.9zM72.7 98.9h.9v.9h-.9zM83.9 88.4h.9v.9h-.9zM68.9 94.3h.9v.9h-.9zM69.5 99.5h.9v.9h-.9zM68.2 88.8h.9v.9h-.9zM64.2 109.1h.9v.9h-.9zM56.1 95.3h.9v.9h-.9zM79.4 104.9h.9v.9h-.9zM61.8 103.6h.9v.9h-.9zM65.9 93.8h.9v.9h-.9zM62.3 88.8h.9v.9h-.9zM68.7 98.5h.9v.9h-.9zM74.9 93.5h.9v.9h-.9zM56.2 94.2h.9v.9h-.9zM65.6 98.3h.9v.9h-.9zM72.7 108.1h.9v.9h-.9zM74.5 100.9h.9v.9h-.9zM66.0 104.2h.9v.9h-.9zM81.7 94.0h.9v.9h-.9zM64.1 99.6h.9v.9h-.9zM67.5 100.2h.9v.9h-.9zM54.0 104.0h.9v.9h-.9zM62.3 100.2h.9v.9h-.9zM68.3 101.1h.9v.9h-.9zM64.4 94.5h.9v.9h-.9zM77.7 95.5h.9v.9h-.9zM57.0 97.8h.9v.9h-.9zM109.7 118.3h.9v.9h-.9zM98.2 119.5h.9v.9h-.9zM87.8 126.8h.9v.9h-.9zM105.7 109.9h.9v.9h-.9zM115.0 126.3h.9v.9h-.9zM101.9 101.6h.9v.9h-.9zM102.8 125.1h.9v.9h-.9zM83.0 123.2h.9v.9h-.9zM108.6 121.8h.9v.9h-.9zM120.6 113.4h.9v.9h-.9zM96.8 120.6h.9v.9h-.9zM95.5 126.1h.9v.9h-.9zM108.0 126.9h.9v.9h-.9zM92.2 116.9h.9v.9h-.9zM110.5 116.5h.9v.9h-.9zM66.6 131.1h.9v.9h-.9zM93.5 111.5h.9v.9h-.9zM89.4 114.7h.9v.9h-.9zM97.8 125.4h.9v.9h-.9zM103.3 114.2h.9v.9h-.9zM90.2 116.4h.9v.9h-.9zM88.9 118.6h.9v.9h-.9zM82.3 127.0h.9v.9h-.9zM97.3 115.2h.9v.9h-.9zM106.5 119.7h.9v.9h-.9zM73.1 108.1h.9v.9h-.9zM101.8 120.8h.9v.9h-.9zM93.8 121.3h.9v.9h-.9zM91.2 122.7h.9v.9h-.9zM93.7 115.4h.9v.9h-.9zM76.8 128.3h.9v.9h-.9zM102.0 131.1h.9v.9h-.9zM121.5 118.7h.9v.9h-.9zM96.7 111.8h.9v.9h-.9zM100.9 111.7h.9v.9h-.9zM100.3 115.8h.9v.9h-.9zM100.8 114.1h.9v.9h-.9zM98.2 115.7h.9v.9h-.9zM91.7 110.4h.9v.9h-.9zM83.4 118.9h.9v.9h-.9zM102.7 130.0h.9v.9h-.9zM96.6 119.3h.9v.9h-.9zM128.4 115.5h.9v.9h-.9zM95.5 113.7h.9v.9h-.9zM100.5 119.5h.9v.9h-.9zM76.1 101.4h.9v.9h-.9zM96.6 122.0h.9v.9h-.9zM91.9 129.0h.9v.9h-.9zM92.8 112.8h.9v.9h-.9zM77.0 122.6h.9v.9h-.9zM97.8 108.9h.9v.9h-.9zM121.4 111.1h.9v.9h-.9zM106.3 128.3h.9v.9h-.9zM80.7 126.0h.9v.9h-.9zM111.2 124.1h.9v.9h-.9zM103.2 127.9h.9v.9h-.9zM93.1 103.9h.9v.9h-.9zM90.5 121.5h.9v.9h-.9zM122.4 108.5h.9v.9h-.9zM79.3 127.8h.9v.9h-.9zM101.2 117.0h.9v.9h-.9zM96.3 118.9h.9v.9h-.9zM107.1 119.0h.9v.9h-.9zM98.2 118.3h.9v.9h-.9zM102.2 127.7h.9v.9h-.9zM82.8 117.3h.9v.9h-.9zM81.1 109.8h.9v.9h-.9zM118.4 115.6h.9v.9h-.9zM96.6 109.0h.9v.9h-.9zM90.3 129.1h.9v.9h-.9zM102.1 123.8h.9v.9h-.9zM85.8 104.0h.9v.9h-.9zM105.2 123.8h.9v.9h-.9zM107.2 120.6h.9v.9h-.9zM104.4 116.7h.9v.9h-.9zM100.4 104.2h.9v.9h-.9zM99.4 125.6h.9v.9h-.9zM110.1 126.2h.9v.9h-.9zM100.3 121.1h.9v.9h-.9zM92.7 117.1h.9v.9h-.9zM85.1 114.3h.9v.9h-.9zM87.7 119.2h.9v.9h-.9zM95.1 115.9h.9v.9h-.9zM94.2 102.7h.9v.9h-.9zM80.1 117.7h.9v.9h-.9zM100.4 106.2h.9v.9h-.9zM99.0 131.1h.9v.9h-.9zM95.8 127.1h.9v.9h-.9zM83.5 117.7h.9v.9h-.9zM103.4 119.9h.9v.9h-.9zM108.5 114.0h.9v.9h-.9zM117.1 116.8h.9v.9h-.9zM89.1 125.5h.9v.9h-.9zM87.4 89.1h.9v.9h-.9zM117.3 105.6h.9v.9h-.9zM119.8 118.0h.9v.9h-.9zM91.4 117.9h.9v.9h-.9zM106.3 113.6h.9v.9h-.9zM84.9 124.0h.9v.9h-.9zM102.7 121.5h.9v.9h-.9zM97.5 109.6h.9v.9h-.9zM96.9 104.7h.9v.9h-.9zM111.0 117.2h.9v.9h-.9zM107.6 122.7h.9v.9h-.9zM99.0 109.3h.9v.9h-.9zM84.5 118.1h.9v.9h-.9zM97.6 121.3h.9v.9h-.9zM107.3 121.5h.9v.9h-.9zM122.0 122.2h.9v.9h-.9zM132.4 126.8h.9v.9h-.9zM95.9 111.7h.9v.9h-.9zM85.9 108.9h.9v.9h-.9zM103.3 114.1h.9v.9h-.9zM117.6 111.8h.9v.9h-.9zM119.2 112.6h.9v.9h-.9zM89.3 125.2h.9v.9h-.9zM114.3 116.9h.9v.9h-.9zM112.9 112.6h.9v.9h-.9zM88.6 116.1h.9v.9h-.9zM121.1 110.6h.9v.9h-.9zM92.2 117.6h.9v.9h-.9zM109.9 129.1h.9v.9h-.9zM109.7 113.0h.9v.9h-.9zM96.2 122.9h.9v.9h-.9zM124.5 129.3h.9v.9h-.9zM108.0 113.0h.9v.9h-.9zM120.8 110.9h.9v.9h-.9zM123.2 113.0h.9v.9h-.9zM87.7 106.6h.9v.9h-.9zM101.5 114.8h.9v.9h-.9zM127.8 115.0h.9v.9h-.9zM89.2 107.7h.9v.9h-.9zM93.3 114.4h.9v.9h-.9zM127.6 113.6h.9v.9h-.9zM109.2 122.1h.9v.9h-.9zM119.1 117.6h.9v.9h-.9zM117.5 121.3h.9v.9h-.9zM85.1 106.2h.9v.9h-.9zM117.1 106.4h.9v.9h-.9zM124.0 107.1h.9v.9h-.9zM83.3 128.7h.9v.9h-.9zM90.4 125.2h.9v.9h-.9zM90.1 120.3h.9v.9h-.9zM90.3 119.3h.9v.9h-.9zM115.2 120.2h.9v.9h-.9zM121.5 113.9h.9v.9h-.9zM106.6 121.7h.9v.9h-.9zM124.4 122.5h.9v.9h-.9zM82.1 118.0h.9v.9h-.9zM81.6 114.0h.9v.9h-.9zM123.4 115.0h.9v.9h-.9zM100.3 129.1h.9v.9h-.9zM114.1 108.7h.9v.9h-.9zM127.4 122.4h.9v.9h-.9zM127.7 110.2h.9v.9h-.9zM118.2 113.6h.9v.9h-.9zM88.0 106.0h.9v.9h-.9zM109.0 106.9h.9v.9h-.9zM86.5 115.7h.9v.9h-.9zM108.4 113.7h.9v.9h-.9zM81.3 106.6h.9v.9h-.9zM105.9 130.6h.9v.9h-.9zM110.9 113.0h.9v.9h-.9zM98.1 130.0h.9v.9h-.9zM91.0 128.5h.9v.9h-.9zM101.2 124.1h.9v.9h-.9zM104.6 107.2h.9v.9h-.9zM87.1 126.2h.9v.9h-.9zM110.4 122.1h.9v.9h-.9zM125.0 127.3h.9v.9h-.9zM99.6 129.6h.9v.9h-.9zM104.3 121.0h.9v.9h-.9zM88.0 123.5h.9v.9h-.9zM92.8 107.5h.9v.9h-.9zM106.0 107.8h.9v.9h-.9zM103.9 115.4h.9v.9h-.9zM122.7 125.1h.9v.9h-.9zM89.1 113.5h.9v.9h-.9zM82.4 112.1h.9v.9h-.9zM115.8 107.9h.9v.9h-.9zM94.9 126.3h.9v.9h-.9zM85.6 129.4h.9v.9h-.9zM91.4 125.1h.9v.9h-.9zM98.0 117.2h.9v.9h-.9zM96.2 119.6h.9v.9h-.9zM105.7 108.8h.9v.9h-.9zM109.1 112.4h.9v.9h-.9zM102.9 115.5h.9v.9h-.9zM85.6 114.3h.9v.9h-.9zM110.4 106.3h.9v.9h-.9zM89.2 128.9h.9v.9h-.9zM101.2 106.7h.9v.9h-.9zM115.4 123.1h.9v.9h-.9zM109.1 107.0h.9v.9h-.9zM128.0 106.7h.9v.9h-.9zM111.7 117.3h.9v.9h-.9zM120.6 119.2h.9v.9h-.9zM84.6 124.2h.9v.9h-.9zM104.1 116.7h.9v.9h-.9zM99.4 121.7h.9v.9h-.9zM111.1 108.6h.9v.9h-.9zM117.0 119.6h.9v.9h-.9zM88.3 129.4h.9v.9h-.9zM91.1 124.6h.9v.9h-.9zM97.1 124.2h.9v.9h-.9zM111.0 108.6h.9v.9h-.9zM109.0 122.2h.9v.9h-.9zM82.8 122.5h.9v.9h-.9zM88.4 127.5h.9v.9h-.9zM97.5 114.1h.9v.9h-.9zM89.7 120.8h.9v.9h-.9zM91.1 121.6h.9v.9h-.9zM88.3 109.0h.9v.9h-.9zM83.1 123.2h.9v.9h-.9zM105.5 121.8h.9v.9h-.9zM108.4 126.7h.9v.9h-.9zM113.0 129.5h.9v.9h-.9zM112.9 124.4h.9v.9h-.9zM107.2 108.9h.9v.9h-.9zM107.3 112.2h.9v.9h-.9zM100.6 121.0h.9v.9h-.9zM88.8 114.2h.9v.9h-.9zM118.5 127.5h.9v.9h-.9zM116.5 110.3h.9v.9h-.9zM98.3 127.4h.9v.9h-.9zM121.2 122.5h.9v.9h-.9zM123.4 128.5h.9v.9h-.9zM100.7 128.0h.9v.9h-.9zM88.3 120.7h.9v.9h-.9zM93.7 122.1h.9v.9h-.9zM104.7 120.2h.9v.9h-.9zM116.5 118.5h.9v.9h-.9zM122.0 124.9h.9v.9h-.9zM120.6 123.7h.9v.9h-.9zM127.2 112.2h.9v.9h-.9zM87.5 110.2h.9v.9h-.9zM113.8 108.4h.9v.9h-.9zM83.7 128.7h.9v.9h-.9zM107.4 107.4h.9v.9h-.9zM104.4 117.6h.9v.9h-.9zM82.1 118.3h.9v.9h-.9zM94.3 124.3h.9v.9h-.9zM103.5 127.0h.9v.9h-.9zM95.6 121.8h.9v.9h-.9zM121.1 129.6h.9v.9h-.9zM92.1 130.8h.9v.9h-.9zM84.2 130.2h.9v.9h-.9zM114.8 113.2h.9v.9h-.9zM118.4 108.5h.9v.9h-.9zM116.9 109.4h.9v.9h-.9zM97.8 110.0h.9v.9h-.9zM115.9 130.4h.9v.9h-.9zM85.9 130.9h.9v.9h-.9zM110.8 107.0h.9v.9h-.9zM96.6 127.9h.9v.9h-.9zM109.7 123.7h.9v.9h-.9zM116.6 117.7h.9v.9h-.9zM113.1 114.3h.9v.9h-.9zM117.6 106.5h.9v.9h-.9zM105.0 109.2h.9v.9h-.9zM54.7 122.4h.9v.9h-.9zM73.3 118.3h.9v.9h-.9zM133.6 114.8h.9v.9h-.9zM112.7 130.9h.9v.9h-.9zM105.4 129.3h.9v.9h-.9zM83.8 125.8h.9v.9h-.9zM96.0 130.3h.9v.9h-.9zM78.7 119.5h.9v.9h-.9zM112.4 121.0h.9v.9h-.9zM74.5 100.0h.9v.9h-.9zM79.0 122.2h.9v.9h-.9zM69.4 114.8h.9v.9h-.9zM83.9 96.0h.9v.9h-.9zM72.5 103.8h.9v.9h-.9zM112.7 129.7h.9v.9h-.9zM131.8 97.9h.9v.9h-.9zM121.1 125.8h.9v.9h-.9zM80.7 102.6h.9v.9h-.9zM108.5 115.5h.9v.9h-.9zM109.4 83.1h.9v.9h-.9zM90.9 84.8h.9v.9h-.9zM128.9 128.6h.9v.9h-.9zM66.3 95.4h.9v.9h-.9zM68.4 110.5h.9v.9h-.9zM54.1 112.4h.9v.9h-.9zM98.4 83.9h.9v.9h-.9zM127.2 99.9h.9v.9h-.9zM99.7 129.8h.9v.9h-.9zM56.1 90.0h.9v.9h-.9zM91.8 129.8h.9v.9h-.9zM70.7 96.5h.9v.9h-.9zM92.9 106.1h.9v.9h-.9zM111.2 93.4h.9v.9h-.9zM66.2 100.6h.9v.9h-.9zM124.4 124.2h.9v.9h-.9zM119.6 91.5h.9v.9h-.9zM86.3 102.8h.9v.9h-.9zM111.7 99.7h.9v.9h-.9zM53.1 89.7h.9v.9h-.9zM81.9 85.4h.9v.9h-.9zM68.7 114.1h.9v.9h-.9zM78.9 114.1h.9v.9h-.9zM94.4 90.5h.9v.9h-.9zM96.2 109.3h.9v.9h-.9zM74.0 128.6h.9v.9h-.9zM115.1 120.4h.9v.9h-.9zM101.5 91.0h.9v.9h-.9zM67.4 87.1h.9v.9h-.9zM67.1 100.6h.9v.9h-.9zM100.6 122.6h.9v.9h-.9z" fill="#000" fill-opacity="0.3"/>
<path d="M68.3 120.8h.9v.9h-.9zM72.9 117.8h.9v.9h-.9zM66.7 121.2h.9v.9h-.9zM73.3 117.6h.9v.9h-.9zM75.7 119.2h.9v.9h-.9zM68.0 112.6h.9v.9h-.9zM58.2 118.0h.9v.9h-.9zM70.8 127.1h.9v.9h-.9zM67.2 115.5h.9v.9h-.9zM57.6 113.2h.9v.9h-.9zM68.2 120.1h.9v.9h-.9zM72.4 127.9h.9v.9h-.9zM61.3 131.1h.9v.9h-.9zM66.7 113.8h.9v.9h-.9zM67.0 120.8h.9v.9h-.9zM64.8 113.1h.9v.9h-.9zM74.3 113.8h.9v.9h-.9zM69.9 109.1h.9v.9h-.9zM73.4 117.0h.9v.9h-.9zM65.1 130.4h.9v.9h-.9zM54.6 131.0h.9v.9h-.9zM74.0 119.3h.9v.9h-.9zM61.6 113.0h.9v.9h-.9zM64.9 111.3h.9v.9h-.9zM78.5 117.5h.9v.9h-.9zM59.3 117.7h.9v.9h-.9zM62.3 123.3h.9v.9h-.9zM67.1 120.7h.9v.9h-.9zM67.6 127.0h.9v.9h-.9zM53.7 119.1h.9v.9h-.9zM67.1 130.0h.9v.9h-.9zM65.8 120.5h.9v.9h-.9zM65.2 127.3h.9v.9h-.9zM66.9 129.1h.9v.9h-.9zM68.0 112.3h.9v.9h-.9zM76.2 126.8h.9v.9h-.9zM74.2 119.5h.9v.9h-.9zM61.7 124.1h.9v.9h-.9zM63.7 112.4h.9v.9h-.9zM68.1 124.0h.9v.9h-.9zM77.9 125.1h.9v.9h-.9zM57.0 124.2h.9v.9h-.9zM63.0 117.1h.9v.9h-.9zM63.6 109.4h.9v.9h-.9zM65.7 114.8h.9v.9h-.9zM55.1 112.7h.9v.9h-.9zM74.6 109.0h.9v.9h-.9zM63.6 114.9h.9v.9h-.9zM81.1 125.2h.9v.9h-.9zM64.6 110.4h.9v.9h-.9zM74.8 121.8h.9v.9h-.9zM64.7 126.0h.9v.9h-.9zM75.6 130.7h.9v.9h-.9zM66.9 114.3h.9v.9h-.9zM61.1 123.9h.9v.9h-.9zM58.1 125.1h.9v.9h-.9zM72.3 116.1h.9v.9h-.9zM65.2 109.1h.9v.9h-.9zM75.6 112.8h.9v.9h-.9zM75.2 113.5h.9v.9h-.9zM54.5 128.1h.9v.9h-.9zM62.9 124.9h.9v.9h-.9zM77.2 118.3h.9v.9h-.9zM66.5 124.8h.9v.9h-.9zM65.8 117.7h.9v.9h-.9zM56.3 128.5h.9v.9h-.9zM82.3 112.9h.9v.9h-.9zM65.4 129.3h.9v.9h-.9zM62.3 127.0h.9v.9h-.9zM72.4 121.9h.9v.9h-.9zM64.6 112.6h.9v.9h-.9zM62.2 126.8h.9v.9h-.9zM61.3 119.5h.9v.9h-.9zM60.7 118.7h.9v.9h-.9zM64.9 119.4h.9v.9h-.9zM62.3 118.7h.9v.9h-.9zM70.1 118.3h.9v.9h-.9zM61.8 124.4h.9v.9h-.9zM72.3 115.5h.9v.9h-.9zM60.9 119.7h.9v.9h-.9zM63.1 123.5h.9v.9h-.9zM60.6 108.8h.9v.9h-.9zM61.1 120.4h.9v.9h-.9zM80.7 121.7h.9v.9h-.9zM71.8 123.2h.9v.9h-.9zM76.3 118.4h.9v.9h-.9zM58.8 118.0h.9v.9h-.9zM68.2 120.9h.9v.9h-.9zM69.4 106.1h.9v.9h-.9zM83.2 121.1h.9v.9h-.9zM63.7 126.7h.9v.9h-.9zM59.7 122.2h.9v.9h-.9zM70.6 130.5h.9v.9h-.9zM55.5 115.3h.9v.9h-.9zM66.3 114.6h.9v.9h-.9zM70.9 130.2h.9v.9h-.9zM72.6 125.4h.9v.9h-.9zM64.0 130.6h.9v.9h-.9zM75.8 117.7h.9v.9h-.9zM63.7 116.6h.9v.9h-.9zM67.5 114.2h.9v.9h-.9zM54.2 119.8h.9v.9h-.9zM52.7 116.7h.9v.9h-.9zM75.4 117.8h.9v.9h-.9zM69.9 126.7h.9v.9h-.9zM80.0 125.1h.9v.9h-.9zM65.5 123.1h.9v.9h-.9zM58.6 111.3h.9v.9h-.9zM70.1 124.5h.9v.9h-.9zM70.0 120.4h.9v.9h-.9zM63.4 113.5h.9v.9h-.9zM63.1 117.1h.9v.9h-.9zM57.5 123.2h.9v.9h-.9zM76.0 115.8h.9v.9h-.9zM68.7 118.2h.9v.9h-.9zM63.7 116.7h.9v.9h-.9zM63.4 127.4h.9v.9h-.9zM72.6 120.4h.9v.9h-.9zM66.9 110.0h.9v.9h-.9zM73.3 124.3h.9v.9h-.9zM68.7 124.8h.9v.9h-.9zM62.3 118.6h.9v.9h-.9zM67.8 123.7h.9v.9h-.9zM66.9 117.0h.9v.9h-.9zM70.3 115.6h.9v.9h-.9zM70.0 123.3h.9v.9h-.9zM73.6 115.6h.9v.9h-.9zM73.7 115.7h.9v.9h-.9zM55.0 125.0h.9v.9h-.9zM68.2 119.9h.9v.9h-.9zM61.4 125.7h.9v.9h-.9zM60.3 117.0h.9v.9h-.9zM64.3 125.0h.9v.9h-.9zM61.4 124.0h.9v.9h-.9zM75.6 106.1h.9v.9h-.9zM67.2 129.9h.9v.9h-.9zM75.2 120.6h.9v.9h-.9zM76.9 123.1h.9v.9h-.9zM70.5 126.2h.9v.9h-.9zM67.4 120.6h.9v.9h-.9zM72.3 123.4h.9v.9h-.9zM67.7 117.9h.9v.9h-.9zM73.9 122.2h.9v.9h-.9zM60.4 118.4h.9v.9h-.9zM75.1 113.6h.9v.9h-.9zM68.7 116.1h.9v.9h-.9zM62.6 119.0h.9v.9h-.9zM63.0 117.5h.9v.9h-.9zM63.5 114.8h.9v.9h-.9zM75.6 118.0h.9v.9h-.9zM67.4 122.2h.9v.9h-.9zM56.2 124.4h.9v.9h-.9zM67.1 116.7h.9v.9h-.9zM82.3 117.6h.9v.9h-.9zM68.0 123.4h.9v.9h-.9zM64.0 118.4h.9v.9h-.9zM71.7 116.6h.9v.9h-.9zM67.4 117.1h.9v.9h-.9zM65.2 117.1h.9v.9h-.9zM78.3 123.7h.9v.9h-.9zM56.9 130.5h.9v.9h-.9zM71.7 118.5h.9v.9h-.9zM57.8 121.8h.9v.9h-.9zM79.1 114.1h.9v.9h-.9zM58.1 115.7h.9v.9h-.9zM76.3 112.9h.9v.9h-.9zM64.2 120.6h.9v.9h-.9zM77.0 125.5h.9v.9h-.9zM76.2 123.0h.9v.9h-.9zM53.8 117.3h.9v.9h-.9zM85.7 115.1h.9v.9h-.9zM53.3 122.3h.9v.9h-.9zM84.4 131.1h.9v.9h-.9zM66.3 130.2h.9v.9h-.9zM77.8 116.8h.9v.9h-.9zM75.1 109.0h.9v.9h-.9zM57.0 121.8h.9v.9h-.9zM72.5 121.5h.9v.9h-.9zM69.1 117.7h.9v.9h-.9zM69.4 96.9h.9v.9h-.9zM54.3 107.3h.9v.9h-.9zM54.2 106.2h.9v.9h-.9zM64.7 111.4h.9v.9h-.9zM59.1 131.1h.9v.9h-.9zM63.5 119.1h.9v.9h-.9zM69.6 117.7h.9v.9h-.9zM64.7 123.7h.9v.9h-.9zM73.7 131.1h.9v.9h-.9zM71.9 118.4h.9v.9h-.9zM66.4 128.0h.9v.9h-.9zM67.5 119.8h.9v.9h-.9zM74.5 120.2h.9v.9h-.9zM86.0 113.4h.9v.9h-.9zM75.8 122.8h.9v.9h-.9zM68.2 117.1h.9v.9h-.9zM72.6 110.9h.9v.9h-.9zM53.8 109.5h.9v.9h-.9zM56.2 108.3h.9v.9h-.9zM66.5 119.7h.9v.9h-.9zM58.1 126.2h.9v.9h-.9zM73.5 117.8h.9v.9h-.9zM70.3 113.2h.9v.9h-.9zM56.3 117.5h.9v.9h-.9zM75.2 114.9h.9v.9h-.9zM65.7 109.5h.9v.9h-.9zM66.5 122.6h.9v.9h-.9zM69.9 114.5h.9v.9h-.9zM55.7 121.7h.9v.9h-.9zM87.0 115.0h.9v.9h-.9zM55.9 122.0h.9v.9h-.9zM78.8 108.6h.9v.9h-.9zM71.3 125.0h.9v.9h-.9zM86.9 116.5h.9v.9h-.9zM79.8 120.7h.9v.9h-.9zM77.9 103.3h.9v.9h-.9zM70.7 114.3h.9v.9h-.9zM63.1 111.8h.9v.9h-.9zM65.5 124.7h.9v.9h-.9zM86.9 110.0h.9v.9h-.9zM71.9 131.1h.9v.9h-.9zM71.5 111.6h.9v.9h-.9zM76.3 126.5h.9v.9h-.9zM55.7 122.9h.9v.9h-.9zM69.3 119.7h.9v.9h-.9zM58.9 105.6h.9v.9h-.9zM63.7 110.9h.9v.9h-.9zM65.6 125.4h.9v.9h-.9zM108.2 76.1h.9v.9h-.9zM94.8 72.1h.9v.9h-.9zM99.7 73.8h.9v.9h-.9zM106.5 79.5h.9v.9h-.9zM107.2 75.0h.9v.9h-.9zM101.7 82.7h.9v.9h-.9zM102.3 84.8h.9v.9h-.9zM104.3 75.8h.9v.9h-.9zM105.4 79.4h.9v.9h-.9zM116.3 76.9h.9v.9h-.9zM104.9 78.8h.9v.9h-.9zM107.2 69.1h.9v.9h-.9zM103.5 67.4h.9v.9h-.9zM103.9 88.7h.9v.9h-.9zM110.0 80.5h.9v.9h-.9zM103.1 72.6h.9v.9h-.9zM107.1 86.6h.9v.9h-.9zM110.0 69.7h.9v.9h-.9zM106.9 80.6h.9v.9h-.9zM104.5 80.5h.9v.9h-.9zM98.1 80.7h.9v.9h-.9zM104.1 82.3h.9v.9h-.9zM100.5 77.4h.9v.9h-.9zM105.3 78.9h.9v.9h-.9zM108.5 82.0h.9v.9h-.9zM115.9 75.9h.9v.9h-.9zM109.1 77.0h.9v.9h-.9zM104.3 77.5h.9v.9h-.9zM99.6 86.4h.9v.9h-.9zM98.9 90.3h.9v.9h-.9zM108.0 73.2h.9v.9h-.9zM105.2 75.3h.9v.9h-.9zM100.6 79.0h.9v.9h-.9zM104.9 81.5h.9v.9h-.9zM101.7 80.3h.9v.9h-.9zM106.9 75.3h.9v.9h-.9zM107.8 88.6h.9v.9h-.9zM103.4 76.9h.9v.9h-.9zM116.5 83.5h.9v.9h-.9zM104.1 82.1h.9v.9h-.9zM104.2 79.8h.9v.9h-.9zM102.6 78.4h.9v.9h-.9zM103.7 82.0h.9v.9h-.9zM91.9 78.2h.9v.9h-.9zM102.9 88.5h.9v.9h-.9zM106.8 78.6h.9v.9h-.9zM111.7 84.9h.9v.9h-.9zM100.8 76.5h.9v.9h-.9zM111.6 77.1h.9v.9h-.9zM106.3 80.9h.9v.9h-.9zM110.3 78.0h.9v.9h-.9zM101.4 74.1h.9v.9h-.9zM98.0 72.3h.9v.9h-.9zM103.8 80.7h.9v.9h-.9zM112.2 79.3h.9v.9h-.9zM110.9 82.2h.9v.9h-.9zM105.9 74.8h.9v.9h-.9zM101.1 80.6h.9v.9h-.9zM105.5 81.5h.9v.9h-.9zM103.2 74.8h.9v.9h-.9zM103.7 81.9h.9v.9h-.9zM108.4 72.2h.9v.9h-.9zM103.3 75.0h.9v.9h-.9zM111.6 85.8h.9v.9h-.9zM105.1 78.2h.9v.9h-.9zM105.7 86.3h.9v.9h-.9zM112.4 76.1h.9v.9h-.9zM109.8 81.4h.9v.9h-.9zM112.6 86.2h.9v.9h-.9zM111.4 77.9h.9v.9h-.9zM103.4 81.5h.9v.9h-.9zM112.1 76.7h.9v.9h-.9zM107.8 72.0h.9v.9h-.9zM113.0 67.5h.9v.9h-.9zM97.8 82.4h.9v.9h-.9zM96.4 81.9h.9v.9h-.9zM119.9 70.6h.9v.9h-.9zM102.1 76.6h.9v.9h-.9zM108.6 71.6h.9v.9h-.9zM117.3 70.6h.9v.9h-.9zM105.6 76.8h.9v.9h-.9zM117.2 71.5h.9v.9h-.9zM96.1 83.4h.9v.9h-.9zM110.2 79.7h.9v.9h-.9zM110.3 93.0h.9v.9h-.9zM121.7 68.2h.9v.9h-.9zM101.7 78.8h.9v.9h-.9zM100.0 68.8h.9v.9h-.9zM91.0 74.1h.9v.9h-.9zM89.2 88.9h.9v.9h-.9zM104.1 76.7h.9v.9h-.9zM94.2 76.3h.9v.9h-.9zM107.1 83.9h.9v.9h-.9zM99.3 95.7h.9v.9h-.9zM90.2 82.8h.9v.9h-.9zM98.8 90.9h.9v.9h-.9zM100.9 79.7h.9v.9h-.9zM107.4 103.9h.9v.9h-.9zM108.2 86.8h.9v.9h-.9zM104.4 81.6h.9v.9h-.9zM110.4 91.9h.9v.9h-.9zM94.6 77.1h.9v.9h-.9zM91.2 75.9h.9v.9h-.9zM102.1 79.0h.9v.9h-.9zM106.2 80.5h.9v.9h-.9zM103.3 67.5h.9v.9h-.9zM91.2 87.2h.9v.9h-.9zM102.3 93.4h.9v.9h-.9zM93.6 75.4h.9v.9h-.9zM94.5 85.1h.9v.9h-.9zM110.4 81.2h.9v.9h-.9zM102.2 74.7h.9v.9h-.9zM120.8 71.4h.9v.9h-.9zM102.8 89.1h.9v.9h-.9zM92.8 86.8h.9v.9h-.9zM87.7 84.0h.9v.9h-.9zM103.9 91.5h.9v.9h-.9zM102.9 79.9h.9v.9h-.9zM90.8 79.7h.9v.9h-.9zM105.2 86.8h.9v.9h-.9zM87.5 82.8h.9v.9h-.9zM100.4 92.7h.9v.9h-.9zM98.2 75.7h.9v.9h-.9zM107.6 81.0h.9v.9h-.9zM120.7 92.0h.9v.9h-.9zM105.3 83.0h.9v.9h-.9zM90.7 82.5h.9v.9h-.9zM91.6 83.3h.9v.9h-.9zM98.6 83.4h.9v.9h-.9zM83.5 86.7h.9v.9h-.9zM79.1 80.0h.9v.9h-.9zM83.4 78.6h.9v.9h-.9zM92.2 78.4h.9v.9h-.9zM106.9 78.8h.9v.9h-.9zM92.8 81.6h.9v.9h-.9zM101.6 79.3h.9v.9h-.9zM94.5 82.3h.9v.9h-.9zM99.4 83.6h.9v.9h-.9zM91.6 76.0h.9v.9h-.9zM116.7 78.4h.9v.9h-.9zM101.9 89.9h.9v.9h-.9zM97.9 75.4h.9v.9h-.9zM116.2 79.0h.9v.9h-.9zM90.7 84.5h.9v.9h-.9zM89.9 88.9h.9v.9h-.9zM87.5 83.1h.9v.9h-.9zM100.6 70.5h.9v.9h-.9zM109.2 74.8h.9v.9h-.9zM101.2 71.8h.9v.9h-.9zM96.5 76.7h.9v.9h-.9zM90.1 84.0h.9v.9h-.9zM93.4 89.6h.9v.9h-.9zM121.6 72.3h.9v.9h-.9zM108.3 77.1h.9v.9h-.9zM96.6 91.0h.9v.9h-.9zM96.4 87.0h.9v.9h-.9zM87.1 104.1h.9v.9h-.9zM95.3 86.5h.9v.9h-.9zM103.6 84.6h.9v.9h-.9zM87.6 89.4h.9v.9h-.9zM114.9 76.1h.9v.9h-.9zM103.5 77.0h.9v.9h-.9zM104.8 78.9h.9v.9h-.9zM117.8 82.2h.9v.9h-.9zM95.2 98.6h.9v.9h-.9zM99.3 85.7h.9v.9h-.9zM110.5 82.6h.9v.9h-.9zM100.5 105.8h.9v.9h-.9zM101.1 80.9h.9v.9h-.9zM90.0 79.5h.9v.9h-.9zM88.1 64.9h.9v.9h-.9zM104.8 85.1h.9v.9h-.9zM108.4 89.3h.9v.9h-.9zM101.1 79.5h.9v.9h-.9zM95.0 89.3h.9v.9h-.9zM96.6 82.4h.9v.9h-.9zM88.4 72.2h.9v.9h-.9zM79.1 79.3h.9v.9h-.9zM106.7 86.1h.9v.9h-.9zM111.8 80.6h.9v.9h-.9zM94.4 101.4h.9v.9h-.9zM118.4 78.5h.9v.9h-.9zM101.5 94.6h.9v.9h-.9zM119.1 100.7h.9v.9h-.9zM115.3 85.4h.9v.9h-.9zM92.9 63.5h.9v.9h-.9zM108.9 94.8h.9v.9h-.9zM106.1 108.1h.9v.9h-.9zM84.3 89.7h.9v.9h-.9zM80.1 88.1h.9v.9h-.9zM108.2 88.7h.9v.9h-.9zM87.0 83.9h.9v.9h-.9zM88.1 89.1h.9v.9h-.9zM84.9 88.2h.9v.9h-.9zM84.3 100.4h.9v.9h-.9zM104.1 91.4h.9v.9h-.9zM83.1 104.6h.9v.9h-.9zM93.1 82.0h.9v.9h-.9zM96.8 88.9h.9v.9h-.9zM93.2 104.1h.9v.9h-.9zM83.7 92.0h.9v.9h-.9zM82.0 105.1h.9v.9h-.9zM97.5 98.0h.9v.9h-.9zM102.8 94.8h.9v.9h-.9zM93.3 104.0h.9v.9h-.9zM86.2 99.9h.9v.9h-.9zM74.2 108.5h.9v.9h-.9zM79.5 104.9h.9v.9h-.9zM79.0 103.8h.9v.9h-.9zM99.3 98.4h.9v.9h-.9zM89.9 99.0h.9v.9h-.9zM86.6 103.9h.9v.9h-.9zM91.4 100.2h.9v.9h-.9zM83.9 109.3h.9v.9h-.9zM90.4 94.8h.9v.9h-.9zM87.2 95.5h.9v.9h-.9zM87.5 95.0h.9v.9h-.9zM80.3 94.2h.9v.9h-.9zM74.1 92.0h.9v.9h-.9zM97.6 92.6h.9v.9h-.9zM104.4 96.6h.9v.9h-.9zM79.6 98.0h.9v.9h-.9zM85.6 97.4h.9v.9h-.9zM95.8 98.4h.9v.9h-.9zM85.5 96.4h.9v.9h-.9zM88.1 91.4h.9v.9h-.9zM83.6 94.9h.9v.9h-.9zM78.7 87.5h.9v.9h-.9zM83.7 97.3h.9v.9h-.9zM96.3 111.4h.9v.9h-.9zM83.5 92.2h.9v.9h-.9zM83.5 88.6h.9v.9h-.9zM97.0 91.3h.9v.9h-.9zM87.1 91.9h.9v.9h-.9zM82.5 104.0h.9v.9h-.9zM88.5 98.4h.9v.9h-.9zM80.7 88.6h.9v.9h-.9zM73.3 100.9h.9v.9h-.9zM91.9 95.2h.9v.9h-.9zM77.5 99.4h.9v.9h-.9zM97.1 114.6h.9v.9h-.9zM79.1 111.5h.9v.9h-.9zM98.9 98.8h.9v.9h-.9zM83.7 95.3h.9v.9h-.9zM96.3 99.6h.9v.9h-.9zM71.7 93.8h.9v.9h-.9zM68.0 100.7h.9v.9h-.9zM68.4 106.0h.9v.9h-.9zM64.2 98.7h.9v.9h-.9zM63.1 102.9h.9v.9h-.9zM57.8 100.6h.9v.9h-.9zM63.1 101.3h.9v.9h-.9zM82.0 98.9h.9v.9h-.9zM70.1 96.4h.9v.9h-.9zM63.0 96.4h.9v.9h-.9zM64.6 96.6h.9v.9h-.9zM55.5 99.0h.9v.9h-.9zM59.3 97.3h.9v.9h-.9zM76.5 100.4h.9v.9h-.9zM66.2 101.5h.9v.9h-.9zM62.5 97.5h.9v.9h-.9zM74.2 94.5h.9v.9h-.9zM62.6 103.6h.9v.9h-.9zM77.0 99.6h.9v.9h-.9zM58.6 96.2h.9v.9h-.9zM56.9 103.1h.9v.9h-.9zM76.8 93.4h.9v.9h-.9zM66.9 84.9h.9v.9h-.9zM68.3 100.9h.9v.9h-.9zM112.6 117.5h.9v.9h-.9zM95.4 105.2h.9v.9h-.9zM100.7 115.3h.9v.9h-.9zM87.0 111.9h.9v.9h-.9zM103.5 115.3h.9v.9h-.9zM126.7 114.8h.9v.9h-.9zM88.3 125.8h.9v.9h-.9zM107.2 115.4h.9v.9h-.9zM113.6 120.6h.9v.9h-.9zM95.1 114.6h.9v.9h-.9zM90.5 122.3h.9v.9h-.9zM119.3 121.6h.9v.9h-.9zM108.1 114.7h.9v.9h-.9zM80.5 112.2h.9v.9h-.9zM94.8 108.5h.9v.9h-.9zM116.9 114.5h.9v.9h-.9zM78.0 113.4h.9v.9h-.9zM113.9 121.7h.9v.9h-.9zM107.0 117.0h.9v.9h-.9zM107.0 102.8h.9v.9h-.9zM104.0 116.5h.9v.9h-.9zM114.7 127.5h.9v.9h-.9zM101.1 129.4h.9v.9h-.9zM88.3 129.7h.9v.9h-.9zM117.4 115.2h.9v.9h-.9zM122.2 126.6h.9v.9h-.9zM84.3 106.5h.9v.9h-.9zM104.7 106.0h.9v.9h-.9zM116.5 109.4h.9v.9h-.9zM103.4 107.5h.9v.9h-.9zM126.4 119.1h.9v.9h-.9zM125.0 130.4h.9v.9h-.9zM116.3 109.9h.9v.9h-.9zM95.0 127.4h.9v.9h-.9zM102.0 116.9h.9v.9h-.9zM102.3 123.8h.9v.9h-.9zM123.8 116.7h.9v.9h-.9zM107.8 124.1h.9v.9h-.9zM104.2 129.4h.9v.9h-.9zM85.6 118.3h.9v.9h-.9zM106.4 108.7h.9v.9h-.9zM118.2 129.2h.9v.9h-.9zM110.4 118.0h.9v.9h-.9zM103.7 124.8h.9v.9h-.9zM90.2 111.9h.9v.9h-.9zM98.7 115.1h.9v.9h-.9zM69.2 91.1h.9v.9h-.9zM90.8 87.9h.9v.9h-.9zM108.2 104.9h.9v.9h-.9zM66.4 90.8h.9v.9h-.9zM85.2 128.0h.9v.9h-.9zM113.8 93.5h.9v.9h-.9zM56.1 104.1h.9v.9h-.9zM118.8 125.9h.9v.9h-.9zM64.9 80.7h.9v.9h-.9zM100.5 80.1h.9v.9h-.9z" fill="#000" fill-opacity="0.55"/>
<rect x="52.00" y="48.50" width="84.00" height="84.00" fill="none" stroke="#707070" stroke-width="1.0"/>
<line x1="81.00" y1="48.50" x2="81.00" y2="132.50" stroke="#666" stroke-width="1.0"/>
<line x1="52.00" y1="105.30" x2="136.00" y2="105.30" stroke="#666" stroke-width="1.0"/>
<path d="M50.70 132.50h2.6 M50.70 117.82h2.6 M50.70 111.50h2.6 M50.70 96.82h2.6 M50.70 90.50h2.6 M50.70 75.82h2.6 M50.70 69.50h2.6 M50.70 54.82h2.6 M50.70 48.50h2.6" stroke="#777" stroke-width="0.9" fill="none"/>
<path d="M52.00 131.20v2.6 M66.68 131.20v2.6 M73.00 131.20v2.6 M87.68 131.20v2.6 M94.00 131.20v2.6 M108.68 131.20v2.6 M115.00 131.20v2.6 M129.68 131.20v2.6 M136.00 131.20v2.6" stroke="#777" stroke-width="0.9" fill="none"/>
<text x="44.00" y="134.60" font-size="5.9" font-weight="bold" text-anchor="middle" fill="#444">10<tspan font-size="4.43" dy="-2.95">0</tspan></text>
<text x="52.00" y="141.70" font-size="5.9" font-weight="bold" text-anchor="middle" fill="#444">10<tspan font-size="4.43" dy="-2.95">0</tspan></text>
<text x="44.00" y="113.60" font-size="5.9" font-weight="bold" text-anchor="middle" fill="#444">10<tspan font-size="4.43" dy="-2.95">1</tspan></text>
<text x="73.00" y="141.70" font-size="5.9" font-weight="bold" text-anchor="middle" fill="#444">10<tspan font-size="4.43" dy="-2.95">1</tspan></text>
<text x="44.00" y="92.60" font-size="5.9" font-weight="bold" text-anchor="middle" fill="#444">10<tspan font-size="4.43" dy="-2.95">2</tspan></text>
<text x="94.00" y="141.70" font-size="5.9" font-weight="bold" text-anchor="middle" fill="#444">10<tspan font-size="4.43" dy="-2.95">2</tspan></text>
<text x="44.00" y="71.60" font-size="5.9" font-weight="bold" text-anchor="middle" fill="#444">10<tspan font-size="4.43" dy="-2.95">3</tspan></text>
<text x="115.00" y="141.70" font-size="5.9" font-weight="bold" text-anchor="middle" fill="#444">10<tspan font-size="4.43" dy="-2.95">3</tspan></text>
<text x="44.00" y="50.60" font-size="5.9" font-weight="bold" text-anchor="middle" fill="#444">10<tspan font-size="4.43" dy="-2.95">4</tspan></text>
<text x="136.00" y="141.70" font-size="5.9" font-weight="bold" text-anchor="middle" fill="#444">10<tspan font-size="4.43" dy="-2.95">4</tspan></text>
<path d="M192.7 116.5h.9v.9h-.9zM180.1 121.4h.9v.9h-.9zM182.9 112.1h.9v.9h-.9zM174.8 116.0h.9v.9h-.9zM170.5 115.4h.9v.9h-.9zM174.2 118.8h.9v.9h-.9zM171.6 123.0h.9v.9h-.9zM173.9 101.3h.9v.9h-.9zM185.2 118.1h.9v.9h-.9zM172.7 122.1h.9v.9h-.9zM179.0 120.8h.9v.9h-.9zM171.9 121.6h.9v.9h-.9zM167.5 129.2h.9v.9h-.9zM169.3 119.3h.9v.9h-.9zM175.6 117.1h.9v.9h-.9zM176.1 107.5h.9v.9h-.9zM178.4 109.9h.9v.9h-.9zM166.4 131.1h.9v.9h-.9zM181.2 119.7h.9v.9h-.9zM177.8 111.0h.9v.9h-.9zM169.7 122.3h.9v.9h-.9zM162.7 121.4h.9v.9h-.9zM165.2 120.4h.9v.9h-.9zM169.3 130.4h.9v.9h-.9zM183.3 116.6h.9v.9h-.9zM164.2 114.9h.9v.9h-.9zM176.3 113.7h.9v.9h-.9zM178.5 125.7h.9v.9h-.9zM176.3 117.1h.9v.9h-.9zM181.8 117.9h.9v.9h-.9zM182.2 117.8h.9v.9h-.9zM169.7 120.3h.9v.9h-.9zM175.8 124.3h.9v.9h-.9zM162.6 119.5h.9v.9h-.9zM182.0 111.8h.9v.9h-.9zM181.0 118.4h.9v.9h-.9zM177.4 118.4h.9v.9h-.9zM174.5 116.6h.9v.9h-.9zM183.7 125.0h.9v.9h-.9zM180.5 116.9h.9v.9h-.9zM183.5 121.6h.9v.9h-.9zM182.1 128.4h.9v.9h-.9zM191.5 127.9h.9v.9h-.9zM187.9 122.0h.9v.9h-.9zM182.5 121.1h.9v.9h-.9zM179.0 117.3h.9v.9h-.9zM181.5 128.9h.9v.9h-.9zM176.0 121.7h.9v.9h-.9zM181.2 120.3h.9v.9h-.9zM183.3 121.7h.9v.9h-.9zM182.0 124.1h.9v.9h-.9zM184.5 121.8h.9v.9h-.9zM178.6 110.7h.9v.9h-.9zM186.4 114.7h.9v.9h-.9zM184.1 113.4h.9v.9h-.9zM172.9 121.2h.9v.9h-.9zM174.5 116.1h.9v.9h-.9zM183.2 124.4h.9v.9h-.9zM171.9 117.4h.9v.9h-.9zM173.9 120.2h.9v.9h-.9zM182.4 119.3h.9v.9h-.9zM172.2 116.6h.9v.9h-.9zM178.9 122.1h.9v.9h-.9zM181.3 121.2h.9v.9h-.9zM185.1 125.3h.9v.9h-.9zM162.6 119.6h.9v.9h-.9zM196.7 112.7h.9v.9h-.9zM178.3 127.0h.9v.9h-.9zM177.5 128.5h.9v.9h-.9zM176.2 116.0h.9v.9h-.9zM170.5 123.9h.9v.9h-.9zM179.2 120.5h.9v.9h-.9zM176.7 116.1h.9v.9h-.9zM180.8 122.7h.9v.9h-.9zM170.3 119.6h.9v.9h-.9zM174.1 128.5h.9v.9h-.9zM180.8 131.1h.9v.9h-.9zM170.4 123.4h.9v.9h-.9zM175.7 119.6h.9v.9h-.9zM170.6 124.1h.9v.9h-.9zM178.7 122.9h.9v.9h-.9zM179.5 115.1h.9v.9h-.9zM162.9 118.9h.9v.9h-.9zM173.4 117.3h.9v.9h-.9zM183.7 119.9h.9v.9h-.9zM187.3 121.6h.9v.9h-.9zM182.7 112.9h.9v.9h-.9zM179.7 128.2h.9v.9h-.9zM182.3 122.7h.9v.9h-.9zM166.9 130.6h.9v.9h-.9zM187.2 125.2h.9v.9h-.9zM180.5 127.8h.9v.9h-.9zM171.9 124.7h.9v.9h-.9zM188.6 126.2h.9v.9h-.9zM167.1 108.7h.9v.9h-.9zM177.0 119.2h.9v.9h-.9zM171.4 111.8h.9v.9h-.9zM176.2 113.6h.9v.9h-.9zM173.0 125.7h.9v.9h-.9zM179.1 116.0h.9v.9h-.9zM170.2 119.4h.9v.9h-.9zM188.8 115.8h.9v.9h-.9zM176.1 124.7h.9v.9h-.9zM172.5 120.8h.9v.9h-.9zM168.7 124.5h.9v.9h-.9zM185.0 116.6h.9v.9h-.9zM178.7 118.0h.9v.9h-.9zM181.6 125.5h.9v.9h-.9zM192.9 109.5h.9v.9h-.9zM175.5 118.0h.9v.9h-.9zM176.1 124.7h.9v.9h-.9zM172.8 112.5h.9v.9h-.9zM170.2 123.2h.9v.9h-.9zM176.4 116.0h.9v.9h-.9zM183.2 116.4h.9v.9h-.9zM175.6 114.7h.9v.9h-.9zM188.9 120.2h.9v.9h-.9zM174.2 119.0h.9v.9h-.9zM176.0 121.0h.9v.9h-.9zM166.4 113.5h.9v.9h-.9zM180.8 127.0h.9v.9h-.9zM170.9 121.2h.9v.9h-.9zM173.7 106.8h.9v.9h-.9zM175.5 114.0h.9v.9h-.9zM183.2 119.2h.9v.9h-.9zM177.2 111.7h.9v.9h-.9zM178.9 128.8h.9v.9h-.9zM169.6 125.6h.9v.9h-.9zM186.6 119.3h.9v.9h-.9zM184.7 121.0h.9v.9h-.9zM174.3 108.4h.9v.9h-.9zM193.0 122.0h.9v.9h-.9zM176.4 112.4h.9v.9h-.9zM188.7 113.5h.9v.9h-.9zM187.1 127.0h.9v.9h-.9zM177.2 112.5h.9v.9h-.9zM183.3 126.8h.9v.9h-.9zM172.9 122.3h.9v.9h-.9zM170.8 117.8h.9v.9h-.9zM182.2 131.1h.9v.9h-.9zM178.0 120.7h.9v.9h-.9zM165.2 121.5h.9v.9h-.9zM171.6 112.1h.9v.9h-.9zM167.8 121.3h.9v.9h-.9zM174.9 124.6h.9v.9h-.9zM176.0 120.5h.9v.9h-.9zM187.0 125.3h.9v.9h-.9zM182.5 129.4h.9v.9h-.9zM178.9 114.5h.9v.9h-.9zM172.3 111.1h.9v.9h-.9zM179.8 118.1h.9v.9h-.9zM180.8 125.5h.9v.9h-.9zM172.2 121.6h.9v.9h-.9zM185.8 121.0h.9v.9h-.9zM183.6 119.3h.9v.9h-.9zM171.3 119.1h.9v.9h-.9zM165.2 124.8h.9v.9h-.9zM169.5 121.3h.9v.9h-.9zM179.7 119.3h.9v.9h-.9zM173.8 115.6h.9v.9h-.9zM179.0 118.3h.9v.9h-.9zM173.2 116.1h.9v.9h-.9zM165.0 118.3h.9v.9h-.9zM175.8 124.6h.9v.9h-.9zM186.7 127.7h.9v.9h-.9zM173.0 124.4h.9v.9h-.9zM176.4 122.7h.9v.9h-.9zM173.7 121.5h.9v.9h-.9zM172.5 122.3h.9v.9h-.9zM189.1 112.2h.9v.9h-.9zM168.8 123.6h.9v.9h-.9zM182.7 118.2h.9v.9h-.9zM181.4 123.1h.9v.9h-.9zM181.1 128.9h.9v.9h-.9zM173.2 124.5h.9v.9h-.9zM178.8 116.3h.9v.9h-.9zM180.8 112.6h.9v.9h-.9zM167.7 127.1h.9v.9h-.9zM170.2 130.8h.9v.9h-.9zM184.4 117.3h.9v.9h-.9zM171.7 106.9h.9v.9h-.9zM177.0 110.5h.9v.9h-.9zM187.9 110.2h.9v.9h-.9zM177.9 103.8h.9v.9h-.9zM175.2 128.6h.9v.9h-.9zM174.5 115.5h.9v.9h-.9zM174.3 122.8h.9v.9h-.9zM183.4 119.0h.9v.9h-.9zM163.9 122.4h.9v.9h-.9zM183.9 131.1h.9v.9h-.9zM173.9 125.1h.9v.9h-.9zM189.2 114.3h.9v.9h-.9zM178.0 114.1h.9v.9h-.9zM172.9 119.3h.9v.9h-.9zM180.7 115.3h.9v.9h-.9zM175.5 128.8h.9v.9h-.9zM180.8 124.7h.9v.9h-.9zM180.1 119.3h.9v.9h-.9zM180.3 123.7h.9v.9h-.9zM177.5 126.0h.9v.9h-.9zM173.0 117.0h.9v.9h-.9zM169.8 127.9h.9v.9h-.9zM180.9 121.8h.9v.9h-.9zM181.6 115.4h.9v.9h-.9zM178.1 117.3h.9v.9h-.9zM165.1 118.8h.9v.9h-.9zM171.7 129.2h.9v.9h-.9zM172.5 116.7h.9v.9h-.9zM184.0 120.4h.9v.9h-.9zM168.6 121.9h.9v.9h-.9zM172.4 130.9h.9v.9h-.9zM170.4 115.9h.9v.9h-.9zM162.6 116.3h.9v.9h-.9zM171.1 122.2h.9v.9h-.9zM175.5 120.2h.9v.9h-.9zM194.0 131.1h.9v.9h-.9zM188.1 130.7h.9v.9h-.9zM171.3 108.5h.9v.9h-.9zM179.2 123.5h.9v.9h-.9zM176.1 118.2h.9v.9h-.9zM186.8 119.0h.9v.9h-.9zM174.2 119.3h.9v.9h-.9zM175.2 120.5h.9v.9h-.9zM181.0 113.9h.9v.9h-.9zM172.0 109.4h.9v.9h-.9zM182.3 125.9h.9v.9h-.9zM181.0 123.1h.9v.9h-.9zM181.8 121.9h.9v.9h-.9zM170.9 126.3h.9v.9h-.9zM186.4 110.4h.9v.9h-.9zM175.9 113.5h.9v.9h-.9zM180.9 118.7h.9v.9h-.9zM187.0 127.3h.9v.9h-.9zM174.4 117.5h.9v.9h-.9zM173.6 124.0h.9v.9h-.9zM171.3 123.2h.9v.9h-.9zM168.2 126.9h.9v.9h-.9zM180.6 113.4h.9v.9h-.9zM172.3 121.3h.9v.9h-.9zM179.3 102.9h.9v.9h-.9zM178.8 129.8h.9v.9h-.9zM174.5 112.2h.9v.9h-.9zM185.6 122.0h.9v.9h-.9zM178.8 124.3h.9v.9h-.9zM169.3 116.3h.9v.9h-.9zM170.0 113.5h.9v.9h-.9zM175.3 114.0h.9v.9h-.9zM188.2 123.6h.9v.9h-.9zM172.1 114.8h.9v.9h-.9zM191.3 118.7h.9v.9h-.9zM172.2 121.6h.9v.9h-.9zM175.9 115.9h.9v.9h-.9zM184.4 116.0h.9v.9h-.9zM171.8 123.7h.9v.9h-.9zM176.2 114.0h.9v.9h-.9zM175.7 117.9h.9v.9h-.9zM176.0 115.9h.9v.9h-.9zM181.3 118.3h.9v.9h-.9zM173.5 127.0h.9v.9h-.9zM171.3 125.1h.9v.9h-.9zM181.4 118.6h.9v.9h-.9zM171.8 122.1h.9v.9h-.9zM172.6 121.3h.9v.9h-.9zM180.2 126.9h.9v.9h-.9zM180.1 126.8h.9v.9h-.9zM172.5 118.2h.9v.9h-.9zM181.7 127.7h.9v.9h-.9zM184.9 114.5h.9v.9h-.9zM175.9 124.3h.9v.9h-.9zM180.3 116.2h.9v.9h-.9zM190.6 121.5h.9v.9h-.9zM179.3 125.4h.9v.9h-.9zM176.5 115.1h.9v.9h-.9zM171.2 122.8h.9v.9h-.9zM174.5 119.0h.9v.9h-.9zM182.7 127.1h.9v.9h-.9zM175.8 122.0h.9v.9h-.9zM165.2 113.5h.9v.9h-.9zM172.8 115.0h.9v.9h-.9zM182.0 107.8h.9v.9h-.9zM180.7 124.6h.9v.9h-.9zM192.0 117.5h.9v.9h-.9zM180.5 129.5h.9v.9h-.9zM183.6 114.8h.9v.9h-.9zM175.2 113.5h.9v.9h-.9zM177.9 124.6h.9v.9h-.9zM186.4 123.9h.9v.9h-.9zM183.3 126.9h.9v.9h-.9zM172.1 124.6h.9v.9h-.9zM183.9 119.4h.9v.9h-.9zM171.2 121.4h.9v.9h-.9zM178.5 124.7h.9v.9h-.9zM165.8 118.2h.9v.9h-.9zM190.7 128.3h.9v.9h-.9zM176.5 118.7h.9v.9h-.9zM175.7 114.6h.9v.9h-.9zM174.5 120.2h.9v.9h-.9zM169.6 120.0h.9v.9h-.9zM174.5 111.1h.9v.9h-.9zM177.8 121.8h.9v.9h-.9zM181.1 124.6h.9v.9h-.9zM168.1 109.1h.9v.9h-.9zM184.2 125.1h.9v.9h-.9zM185.8 125.1h.9v.9h-.9zM174.0 128.7h.9v.9h-.9zM162.6 122.9h.9v.9h-.9zM173.9 124.8h.9v.9h-.9zM185.3 116.7h.9v.9h-.9zM186.4 127.0h.9v.9h-.9zM167.2 131.1h.9v.9h-.9zM169.8 112.3h.9v.9h-.9zM183.7 116.1h.9v.9h-.9zM170.8 130.1h.9v.9h-.9zM187.2 121.0h.9v.9h-.9zM187.8 120.5h.9v.9h-.9zM179.2 118.7h.9v.9h-.9zM168.9 118.4h.9v.9h-.9zM171.3 123.0h.9v.9h-.9zM178.5 117.0h.9v.9h-.9zM185.9 122.7h.9v.9h-.9zM189.4 118.1h.9v.9h-.9zM175.0 116.1h.9v.9h-.9zM179.0 119.5h.9v.9h-.9zM177.7 131.1h.9v.9h-.9zM180.2 118.9h.9v.9h-.9zM175.5 119.2h.9v.9h-.9zM184.1 120.7h.9v.9h-.9zM172.2 120.5h.9v.9h-.9zM176.3 118.9h.9v.9h-.9zM169.6 119.7h.9v.9h-.9zM165.7 128.1h.9v.9h-.9zM182.3 125.0h.9v.9h-.9zM171.4 121.9h.9v.9h-.9zM185.9 119.2h.9v.9h-.9zM170.5 119.8h.9v.9h-.9zM162.8 126.1h.9v.9h-.9zM180.4 112.2h.9v.9h-.9zM182.1 127.4h.9v.9h-.9zM181.7 124.5h.9v.9h-.9zM187.6 121.9h.9v.9h-.9zM186.7 119.3h.9v.9h-.9zM173.0 118.6h.9v.9h-.9zM170.7 122.9h.9v.9h-.9zM172.9 122.7h.9v.9h-.9zM179.6 130.3h.9v.9h-.9zM176.4 119.5h.9v.9h-.9zM173.5 131.1h.9v.9h-.9zM185.6 119.2h.9v.9h-.9zM168.5 116.7h.9v.9h-.9zM177.7 130.0h.9v.9h-.9zM169.2 129.2h.9v.9h-.9zM168.2 122.6h.9v.9h-.9zM170.0 117.9h.9v.9h-.9zM162.6 124.1h.9v.9h-.9zM177.7 114.2h.9v.9h-.9zM163.6 120.1h.9v.9h-.9zM177.3 111.8h.9v.9h-.9zM180.6 119.7h.9v.9h-.9zM183.8 119.3h.9v.9h-.9zM169.3 113.7h.9v.9h-.9zM175.5 115.1h.9v.9h-.9zM179.3 115.2h.9v.9h-.9zM183.3 127.6h.9v.9h-.9zM173.6 115.5h.9v.9h-.9zM179.9 114.8h.9v.9h-.9zM169.7 125.4h.9v.9h-.9zM180.4 108.0h.9v.9h-.9zM172.9 112.7h.9v.9h-.9zM176.0 121.5h.9v.9h-.9zM174.4 121.3h.9v.9h-.9zM183.3 118.5h.9v.9h-.9zM169.2 114.5h.9v.9h-.9zM176.3 122.7h.9v.9h-.9zM172.2 116.9h.9v.9h-.9zM183.7 117.3h.9v.9h-.9zM178.5 121.1h.9v.9h-.9zM184.9 121.8h.9v.9h-.9zM177.0 118.6h.9v.9h-.9zM173.9 126.5h.9v.9h-.9zM191.3 110.9h.9v.9h-.9zM173.4 118.6h.9v.9h-.9zM174.5 118.2h.9v.9h-.9zM168.0 116.5h.9v.9h-.9zM169.0 120.3h.9v.9h-.9zM181.6 120.1h.9v.9h-.9zM176.7 116.3h.9v.9h-.9zM173.4 118.2h.9v.9h-.9zM183.1 114.4h.9v.9h-.9zM173.6 120.3h.9v.9h-.9zM171.4 124.3h.9v.9h-.9zM174.9 123.4h.9v.9h-.9zM188.7 115.2h.9v.9h-.9zM168.9 113.5h.9v.9h-.9zM180.5 123.6h.9v.9h-.9zM177.4 120.2h.9v.9h-.9zM187.3 125.7h.9v.9h-.9zM178.9 124.1h.9v.9h-.9zM167.7 127.5h.9v.9h-.9zM190.8 121.3h.9v.9h-.9zM174.6 127.8h.9v.9h-.9zM174.2 121.0h.9v.9h-.9zM181.4 119.5h.9v.9h-.9zM182.0 108.9h.9v.9h-.9zM175.0 120.7h.9v.9h-.9zM180.3 113.6h.9v.9h-.9zM179.1 115.8h.9v.9h-.9zM179.2 126.5h.9v.9h-.9zM183.6 126.2h.9v.9h-.9zM173.3 121.4h.9v.9h-.9zM183.2 121.8h.9v.9h-.9zM178.7 128.8h.9v.9h-.9zM169.7 111.3h.9v.9h-.9zM185.7 131.1h.9v.9h-.9zM180.7 121.0h.9v.9h-.9zM162.8 120.1h.9v.9h-.9zM193.3 118.2h.9v.9h-.9zM172.9 116.8h.9v.9h-.9zM187.7 117.9h.9v.9h-.9zM180.2 127.7h.9v.9h-.9zM178.7 120.6h.9v.9h-.9zM170.8 113.2h.9v.9h-.9zM184.5 112.8h.9v.9h-.9zM184.4 127.9h.9v.9h-.9zM187.2 119.4h.9v.9h-.9zM172.1 121.1h.9v.9h-.9zM185.9 123.8h.9v.9h-.9zM180.6 119.8h.9v.9h-.9zM170.0 129.8h.9v.9h-.9zM180.6 124.7h.9v.9h-.9zM165.3 115.5h.9v.9h-.9zM174.8 119.9h.9v.9h-.9zM185.2 117.2h.9v.9h-.9zM178.3 116.2h.9v.9h-.9zM176.1 122.7h.9v.9h-.9zM169.4 125.2h.9v.9h-.9zM180.4 115.8h.9v.9h-.9zM185.9 116.6h.9v.9h-.9zM186.6 118.1h.9v.9h-.9zM187.0 122.9h.9v.9h-.9zM172.6 124.9h.9v.9h-.9zM178.0 116.3h.9v.9h-.9zM176.6 127.9h.9v.9h-.9zM179.8 119.1h.9v.9h-.9zM182.7 112.2h.9v.9h-.9zM181.7 128.4h.9v.9h-.9zM170.1 114.0h.9v.9h-.9zM172.0 119.3h.9v.9h-.9zM171.1 122.2h.9v.9h-.9zM181.2 123.2h.9v.9h-.9zM173.9 125.5h.9v.9h-.9zM167.6 116.6h.9v.9h-.9zM177.0 128.1h.9v.9h-.9zM175.1 124.2h.9v.9h-.9zM188.0 131.1h.9v.9h-.9zM188.7 115.8h.9v.9h-.9zM179.3 123.5h.9v.9h-.9zM181.9 123.6h.9v.9h-.9zM176.8 120.8h.9v.9h-.9zM168.7 124.8h.9v.9h-.9zM179.6 117.1h.9v.9h-.9zM189.1 120.6h.9v.9h-.9zM173.4 124.1h.9v.9h-.9zM180.4 124.4h.9v.9h-.9zM177.0 125.1h.9v.9h-.9zM178.3 127.7h.9v.9h-.9zM179.7 115.7h.9v.9h-.9zM171.0 124.0h.9v.9h-.9zM181.5 120.2h.9v.9h-.9zM179.4 115.8h.9v.9h-.9zM170.4 117.1h.9v.9h-.9zM178.2 120.8h.9v.9h-.9zM189.7 115.0h.9v.9h-.9zM174.8 121.1h.9v.9h-.9zM181.5 114.5h.9v.9h-.9zM168.4 122.1h.9v.9h-.9zM180.0 124.0h.9v.9h-.9zM181.7 111.5h.9v.9h-.9zM184.4 119.8h.9v.9h-.9zM190.9 118.3h.9v.9h-.9zM163.8 119.9h.9v.9h-.9zM178.8 122.5h.9v.9h-.9zM178.9 117.5h.9v.9h-.9zM166.9 119.6h.9v.9h-.9zM175.5 116.7h.9v.9h-.9zM177.9 118.8h.9v.9h-.9zM164.7 115.6h.9v.9h-.9zM172.2 119.0h.9v.9h-.9zM181.1 108.2h.9v.9h-.9zM185.3 117.4h.9v.9h-.9zM181.0 114.2h.9v.9h-.9zM177.4 121.9h.9v.9h-.9zM179.3 119.5h.9v.9h-.9zM178.4 116.6h.9v.9h-.9zM175.1 125.0h.9v.9h-.9zM186.5 118.2h.9v.9h-.9zM173.4 121.3h.9v.9h-.9zM184.5 119.4h.9v.9h-.9zM171.5 109.5h.9v.9h-.9zM183.0 122.1h.9v.9h-.9zM173.5 122.6h.9v.9h-.9zM170.2 126.6h.9v.9h-.9zM184.1 127.4h.9v.9h-.9zM174.8 128.9h.9v.9h-.9zM166.8 126.0h.9v.9h-.9zM185.9 118.9h.9v.9h-.9zM183.7 121.3h.9v.9h-.9zM186.8 119.2h.9v.9h-.9zM177.9 113.7h.9v.9h-.9zM190.7 115.7h.9v.9h-.9zM170.9 115.3h.9v.9h-.9zM180.4 129.7h.9v.9h-.9zM183.9 112.1h.9v.9h-.9zM178.7 119.5h.9v.9h-.9zM186.1 121.4h.9v.9h-.9zM190.1 115.0h.9v.9h-.9zM185.0 126.0h.9v.9h-.9zM173.0 112.8h.9v.9h-.9zM173.4 122.8h.9v.9h-.9zM182.6 121.5h.9v.9h-.9zM177.8 125.0h.9v.9h-.9zM179.5 129.2h.9v.9h-.9zM175.8 117.1h.9v.9h-.9zM177.7 120.4h.9v.9h-.9zM185.8 118.3h.9v.9h-.9zM174.3 116.6h.9v.9h-.9zM172.7 109.1h.9v.9h-.9zM178.5 123.6h.9v.9h-.9zM178.7 116.1h.9v.9h-.9zM183.5 124.8h.9v.9h-.9zM179.2 124.3h.9v.9h-.9zM176.9 123.0h.9v.9h-.9zM181.0 113.5h.9v.9h-.9zM174.4 116.4h.9v.9h-.9zM180.1 105.4h.9v.9h-.9zM179.4 120.5h.9v.9h-.9zM168.1 121.9h.9v.9h-.9zM172.8 117.0h.9v.9h-.9zM186.4 118.6h.9v.9h-.9zM184.3 120.4h.9v.9h-.9zM175.7 118.3h.9v.9h-.9zM182.4 125.4h.9v.9h-.9zM171.7 116.2h.9v.9h-.9zM180.0 123.7h.9v.9h-.9zM170.8 126.7h.9v.9h-.9zM174.6 124.9h.9v.9h-.9zM171.8 121.5h.9v.9h-.9zM191.9 120.6h.9v.9h-.9zM180.6 121.3h.9v.9h-.9zM174.4 130.7h.9v.9h-.9zM187.6 116.6h.9v.9h-.9zM180.9 131.1h.9v.9h-.9zM180.6 121.1h.9v.9h-.9zM183.9 125.5h.9v.9h-.9zM169.9 115.8h.9v.9h-.9zM187.8 117.3h.9v.9h-.9zM177.3 116.8h.9v.9h-.9zM189.8 113.3h.9v.9h-.9zM178.8 118.3h.9v.9h-.9zM175.7 113.4h.9v.9h-.9zM172.5 119.4h.9v.9h-.9zM179.2 109.7h.9v.9h-.9zM178.2 115.5h.9v.9h-.9zM177.3 118.0h.9v.9h-.9zM180.5 120.6h.9v.9h-.9zM166.8 106.4h.9v.9h-.9zM168.3 122.2h.9v.9h-.9zM166.8 114.6h.9v.9h-.9zM189.3 118.4h.9v.9h-.9zM181.6 117.5h.9v.9h-.9zM178.2 108.5h.9v.9h-.9zM179.6 123.9h.9v.9h-.9zM166.4 125.9h.9v.9h-.9zM189.7 105.4h.9v.9h-.9zM176.2 128.8h.9v.9h-.9zM181.9 116.3h.9v.9h-.9zM173.5 118.3h.9v.9h-.9zM181.9 115.4h.9v.9h-.9zM172.5 130.5h.9v.9h-.9zM174.2 108.7h.9v.9h-.9zM179.9 114.8h.9v.9h-.9zM169.5 111.1h.9v.9h-.9zM186.5 123.5h.9v.9h-.9zM171.0 119.5h.9v.9h-.9zM181.4 123.9h.9v.9h-.9zM177.5 108.0h.9v.9h-.9zM188.4 119.7h.9v.9h-.9zM186.4 112.8h.9v.9h-.9zM182.6 128.4h.9v.9h-.9zM184.9 113.2h.9v.9h-.9zM172.2 124.6h.9v.9h-.9zM183.6 127.0h.9v.9h-.9zM181.6 122.0h.9v.9h-.9zM184.0 108.7h.9v.9h-.9zM177.2 130.7h.9v.9h-.9zM175.9 122.5h.9v.9h-.9zM179.3 118.3h.9v.9h-.9zM177.4 121.0h.9v.9h-.9zM184.0 107.7h.9v.9h-.9zM179.1 127.2h.9v.9h-.9zM170.0 119.5h.9v.9h-.9zM192.9 116.8h.9v.9h-.9zM184.0 122.0h.9v.9h-.9zM168.2 119.0h.9v.9h-.9zM165.7 118.4h.9v.9h-.9zM183.4 124.4h.9v.9h-.9zM179.4 117.3h.9v.9h-.9zM181.7 127.9h.9v.9h-.9zM182.5 126.5h.9v.9h-.9zM180.5 123.2h.9v.9h-.9zM171.8 129.6h.9v.9h-.9zM173.0 116.2h.9v.9h-.9zM175.8 118.9h.9v.9h-.9zM177.5 128.5h.9v.9h-.9zM187.2 117.9h.9v.9h-.9zM188.6 124.1h.9v.9h-.9zM179.6 128.3h.9v.9h-.9zM178.3 122.5h.9v.9h-.9zM178.6 113.6h.9v.9h-.9zM169.5 114.8h.9v.9h-.9zM171.9 117.0h.9v.9h-.9zM174.0 127.1h.9v.9h-.9zM177.6 125.2h.9v.9h-.9zM179.7 115.4h.9v.9h-.9zM175.7 111.6h.9v.9h-.9zM177.2 120.9h.9v.9h-.9zM183.8 112.4h.9v.9h-.9zM176.4 107.0h.9v.9h-.9zM167.5 112.6h.9v.9h-.9zM175.4 130.4h.9v.9h-.9zM182.3 119.3h.9v.9h-.9zM174.7 117.2h.9v.9h-.9zM180.2 119.7h.9v.9h-.9zM182.3 117.1h.9v.9h-.9zM182.7 117.9h.9v.9h-.9zM185.0 126.3h.9v.9h-.9zM178.2 115.9h.9v.9h-.9zM170.3 117.6h.9v.9h-.9zM170.5 116.5h.9v.9h-.9zM171.6 123.0h.9v.9h-.9zM162.6 131.1h.9v.9h-.9zM171.4 123.9h.9v.9h-.9zM180.4 116.6h.9v.9h-.9zM187.8 115.0h.9v.9h-.9zM168.5 118.8h.9v.9h-.9zM180.8 117.9h.9v.9h-.9zM177.9 119.8h.9v.9h-.9zM180.0 116.4h.9v.9h-.9zM186.9 118.9h.9v.9h-.9zM178.6 114.6h.9v.9h-.9zM177.6 129.4h.9v.9h-.9zM179.3 116.1h.9v.9h-.9zM178.9 120.6h.9v.9h-.9zM182.1 130.1h.9v.9h-.9zM167.6 116.2h.9v.9h-.9zM173.0 108.7h.9v.9h-.9zM176.3 119.8h.9v.9h-.9zM182.9 124.2h.9v.9h-.9zM181.6 124.0h.9v.9h-.9zM174.6 131.1h.9v.9h-.9zM171.6 123.4h.9v.9h-.9zM184.0 123.3h.9v.9h-.9zM182.5 126.3h.9v.9h-.9zM180.2 114.9h.9v.9h-.9zM174.3 109.9h.9v.9h-.9zM183.4 117.3h.9v.9h-.9zM172.3 120.5h.9v.9h-.9zM172.2 109.6h.9v.9h-.9zM183.8 119.9h.9v.9h-.9zM177.0 125.0h.9v.9h-.9zM185.6 116.4h.9v.9h-.9zM180.2 121.3h.9v.9h-.9zM171.0 129.6h.9v.9h-.9zM179.9 119.7h.9v.9h-.9zM169.5 120.5h.9v.9h-.9zM171.8 129.1h.9v.9h-.9zM175.1 127.1h.9v.9h-.9zM168.4 121.6h.9v.9h-.9zM178.4 115.1h.9v.9h-.9zM184.2 118.1h.9v.9h-.9zM184.2 121.6h.9v.9h-.9zM173.4 119.8h.9v.9h-.9zM172.2 119.9h.9v.9h-.9zM181.0 124.1h.9v.9h-.9zM171.3 113.4h.9v.9h-.9zM176.8 119.1h.9v.9h-.9zM179.3 111.4h.9v.9h-.9zM187.6 108.3h.9v.9h-.9zM171.5 117.3h.9v.9h-.9zM166.2 117.7h.9v.9h-.9zM172.5 111.2h.9v.9h-.9zM174.3 128.1h.9v.9h-.9zM178.3 128.3h.9v.9h-.9zM185.5 121.2h.9v.9h-.9zM175.5 107.4h.9v.9h-.9zM164.4 121.6h.9v.9h-.9zM171.9 118.7h.9v.9h-.9zM178.0 108.6h.9v.9h-.9zM173.7 127.6h.9v.9h-.9zM170.7 113.9h.9v.9h-.9zM178.0 119.4h.9v.9h-.9zM178.4 117.0h.9v.9h-.9zM181.5 128.7h.9v.9h-.9zM177.2 123.2h.9v.9h-.9zM176.1 116.7h.9v.9h-.9zM172.5 124.8h.9v.9h-.9zM174.1 109.9h.9v.9h-.9zM174.4 117.4h.9v.9h-.9zM182.9 126.3h.9v.9h-.9zM179.6 129.5h.9v.9h-.9zM182.1 129.6h.9v.9h-.9zM169.4 120.3h.9v.9h-.9zM178.3 119.3h.9v.9h-.9zM171.9 119.0h.9v.9h-.9zM177.8 126.7h.9v.9h-.9zM174.3 121.8h.9v.9h-.9zM177.3 121.0h.9v.9h-.9zM168.4 120.5h.9v.9h-.9zM193.9 120.5h.9v.9h-.9zM180.4 122.6h.9v.9h-.9zM167.8 118.8h.9v.9h-.9zM176.0 119.6h.9v.9h-.9zM169.2 127.1h.9v.9h-.9zM177.4 118.0h.9v.9h-.9zM167.7 122.5h.9v.9h-.9zM179.8 111.9h.9v.9h-.9zM188.1 119.1h.9v.9h-.9zM167.8 127.6h.9v.9h-.9zM170.8 115.2h.9v.9h-.9zM168.5 114.9h.9v.9h-.9zM175.7 114.1h.9v.9h-.9zM179.1 114.4h.9v.9h-.9zM176.7 107.2h.9v.9h-.9zM173.9 119.9h.9v.9h-.9zM181.2 118.2h.9v.9h-.9zM178.0 122.3h.9v.9h-.9zM171.7 123.4h.9v.9h-.9zM179.2 117.1h.9v.9h-.9zM184.1 121.4h.9v.9h-.9zM184.1 128.8h.9v.9h-.9zM180.9 123.2h.9v.9h-.9zM176.6 117.7h.9v.9h-.9zM182.2 121.6h.9v.9h-.9zM187.7 123.0h.9v.9h-.9zM177.9 113.1h.9v.9h-.9zM176.6 122.0h.9v.9h-.9zM176.4 116.1h.9v.9h-.9zM178.1 129.6h.9v.9h-.9zM170.1 123.3h.9v.9h-.9zM175.8 120.3h.9v.9h-.9zM179.5 116.5h.9v.9h-.9zM173.1 126.0h.9v.9h-.9zM168.4 114.9h.9v.9h-.9zM172.2 115.8h.9v.9h-.9zM178.0 131.2h.9v.9h-.9zM173.8 119.7h.9v.9h-.9zM174.7 126.4h.9v.9h-.9zM172.2 122.2h.9v.9h-.9zM173.4 117.1h.9v.9h-.9zM188.4 115.1h.9v.9h-.9zM176.6 122.6h.9v.9h-.9zM189.3 122.1h.9v.9h-.9zM174.6 121.9h.9v.9h-.9zM188.3 123.6h.9v.9h-.9zM171.8 127.1h.9v.9h-.9zM172.1 127.7h.9v.9h-.9zM180.7 124.2h.9v.9h-.9zM179.2 122.0h.9v.9h-.9zM162.6 113.4h.9v.9h-.9zM190.8 121.0h.9v.9h-.9zM176.6 123.9h.9v.9h-.9zM183.4 121.6h.9v.9h-.9zM184.0 124.1h.9v.9h-.9zM173.7 121.4h.9v.9h-.9zM183.9 115.2h.9v.9h-.9zM177.8 116.1h.9v.9h-.9zM175.7 111.4h.9v.9h-.9zM178.1 116.7h.9v.9h-.9zM184.3 118.4h.9v.9h-.9zM190.3 127.1h.9v.9h-.9zM178.2 122.7h.9v.9h-.9zM169.3 119.9h.9v.9h-.9zM173.2 112.9h.9v.9h-.9zM170.4 128.2h.9v.9h-.9zM173.9 120.2h.9v.9h-.9zM172.3 117.7h.9v.9h-.9zM173.8 119.5h.9v.9h-.9zM177.4 125.2h.9v.9h-.9zM176.8 119.4h.9v.9h-.9zM171.8 123.6h.9v.9h-.9zM179.8 118.3h.9v.9h-.9zM165.7 119.5h.9v.9h-.9zM177.3 127.5h.9v.9h-.9zM175.7 125.1h.9v.9h-.9zM170.5 111.1h.9v.9h-.9zM173.4 121.1h.9v.9h-.9zM169.4 108.7h.9v.9h-.9zM172.7 118.9h.9v.9h-.9zM164.9 118.8h.9v.9h-.9zM181.3 112.9h.9v.9h-.9zM177.4 119.0h.9v.9h-.9zM178.1 121.2h.9v.9h-.9zM170.3 122.6h.9v.9h-.9zM189.5 121.7h.9v.9h-.9zM167.4 117.7h.9v.9h-.9zM188.3 118.3h.9v.9h-.9zM177.3 111.9h.9v.9h-.9zM166.5 118.9h.9v.9h-.9zM178.6 115.6h.9v.9h-.9zM178.7 117.3h.9v.9h-.9zM163.2 117.8h.9v.9h-.9zM167.0 121.5h.9v.9h-.9zM178.7 122.1h.9v.9h-.9zM184.0 115.7h.9v.9h-.9zM171.2 119.7h.9v.9h-.9zM167.2 120.4h.9v.9h-.9zM181.5 116.4h.9v.9h-.9zM174.7 115.6h.9v.9h-.9zM177.5 122.5h.9v.9h-.9zM170.1 125.1h.9v.9h-.9zM170.4 120.1h.9v.9h-.9zM178.4 114.0h.9v.9h-.9zM174.5 113.4h.9v.9h-.9zM183.1 118.8h.9v.9h-.9zM167.1 124.2h.9v.9h-.9zM174.2 130.7h.9v.9h-.9zM175.8 123.6h.9v.9h-.9zM169.5 118.3h.9v.9h-.9zM175.7 125.0h.9v.9h-.9zM185.2 120.4h.9v.9h-.9zM175.8 114.4h.9v.9h-.9zM172.4 119.0h.9v.9h-.9zM183.5 130.4h.9v.9h-.9zM170.6 124.8h.9v.9h-.9zM185.7 123.8h.9v.9h-.9zM187.4 120.2h.9v.9h-.9zM174.3 121.1h.9v.9h-.9zM173.1 108.8h.9v.9h-.9zM177.1 123.3h.9v.9h-.9zM185.4 119.1h.9v.9h-.9zM184.2 115.2h.9v.9h-.9zM184.7 115.8h.9v.9h-.9zM176.1 112.1h.9v.9h-.9zM187.9 117.6h.9v.9h-.9zM184.2 119.5h.9v.9h-.9zM178.7 124.4h.9v.9h-.9zM169.5 122.6h.9v.9h-.9zM174.8 114.3h.9v.9h-.9zM184.0 119.2h.9v.9h-.9zM185.4 120.9h.9v.9h-.9zM177.3 116.5h.9v.9h-.9zM183.3 116.8h.9v.9h-.9zM176.8 116.5h.9v.9h-.9zM192.0 108.1h.9v.9h-.9zM182.5 126.9h.9v.9h-.9zM184.6 131.0h.9v.9h-.9zM186.9 110.6h.9v.9h-.9zM178.2 114.6h.9v.9h-.9zM176.0 119.0h.9v.9h-.9zM184.0 125.2h.9v.9h-.9zM177.2 115.5h.9v.9h-.9zM174.5 125.6h.9v.9h-.9zM185.6 113.7h.9v.9h-.9zM174.1 110.8h.9v.9h-.9zM179.4 130.5h.9v.9h-.9zM169.3 116.3h.9v.9h-.9zM170.4 120.7h.9v.9h-.9zM184.0 111.6h.9v.9h-.9zM182.0 131.1h.9v.9h-.9zM180.8 108.5h.9v.9h-.9zM171.2 123.1h.9v.9h-.9zM177.0 124.4h.9v.9h-.9zM170.7 119.1h.9v.9h-.9zM172.1 113.3h.9v.9h-.9zM181.1 128.1h.9v.9h-.9zM172.7 111.0h.9v.9h-.9zM180.1 115.5h.9v.9h-.9zM168.9 118.1h.9v.9h-.9zM163.0 122.7h.9v.9h-.9zM185.7 123.0h.9v.9h-.9zM170.1 125.7h.9v.9h-.9zM170.9 127.9h.9v.9h-.9zM171.7 123.8h.9v.9h-.9zM164.0 127.7h.9v.9h-.9zM169.2 119.8h.9v.9h-.9zM183.0 125.8h.9v.9h-.9zM178.2 111.2h.9v.9h-.9zM185.9 118.3h.9v.9h-.9zM168.4 129.3h.9v.9h-.9zM194.7 118.4h.9v.9h-.9zM184.8 126.4h.9v.9h-.9zM180.3 124.5h.9v.9h-.9zM179.7 108.5h.9v.9h-.9zM172.7 117.6h.9v.9h-.9zM171.9 121.0h.9v.9h-.9zM177.1 124.5h.9v.9h-.9zM191.8 116.1h.9v.9h-.9zM182.5 131.2h.9v.9h-.9zM177.4 110.9h.9v.9h-.9zM179.5 119.7h.9v.9h-.9zM174.5 125.5h.9v.9h-.9zM189.5 118.2h.9v.9h-.9zM171.3 111.9h.9v.9h-.9zM180.1 117.1h.9v.9h-.9zM164.5 108.2h.9v.9h-.9zM181.0 126.1h.9v.9h-.9zM168.9 129.2h.9v.9h-.9zM174.1 121.2h.9v.9h-.9zM170.9 126.6h.9v.9h-.9zM176.0 120.1h.9v.9h-.9zM179.6 116.0h.9v.9h-.9zM186.4 122.4h.9v.9h-.9zM173.2 113.3h.9v.9h-.9zM178.6 121.2h.9v.9h-.9zM176.2 113.4h.9v.9h-.9zM185.8 121.0h.9v.9h-.9zM176.3 116.4h.9v.9h-.9zM168.9 125.8h.9v.9h-.9zM176.0 128.7h.9v.9h-.9zM188.8 120.1h.9v.9h-.9zM182.1 130.3h.9v.9h-.9zM171.4 124.7h.9v.9h-.9zM177.0 122.9h.9v.9h-.9zM186.9 117.3h.9v.9h-.9zM182.4 131.1h.9v.9h-.9zM185.3 123.1h.9v.9h-.9zM179.8 119.4h.9v.9h-.9zM188.4 117.0h.9v.9h-.9zM175.1 114.3h.9v.9h-.9zM178.6 117.2h.9v.9h-.9zM199.3 110.5h.9v.9h-.9zM180.4 124.2h.9v.9h-.9zM178.9 119.6h.9v.9h-.9zM167.1 119.5h.9v.9h-.9zM185.7 111.8h.9v.9h-.9zM182.4 125.5h.9v.9h-.9zM179.3 119.8h.9v.9h-.9zM165.1 127.8h.9v.9h-.9zM199.2 128.6h.9v.9h-.9zM171.6 114.1h.9v.9h-.9zM178.6 113.5h.9v.9h-.9zM163.1 114.9h.9v.9h-.9zM185.7 131.1h.9v.9h-.9zM182.7 123.8h.9v.9h-.9zM183.3 122.4h.9v.9h-.9zM178.9 112.0h.9v.9h-.9zM173.5 121.1h.9v.9h-.9zM193.8 117.2h.9v.9h-.9zM184.0 113.4h.9v.9h-.9zM190.7 123.8h.9v.9h-.9zM173.4 113.3h.9v.9h-.9zM190.4 113.0h.9v.9h-.9zM171.2 107.2h.9v.9h-.9zM175.7 131.1h.9v.9h-.9zM195.6 101.7h.9v.9h-.9zM171.3 121.6h.9v.9h-.9zM177.4 125.7h.9v.9h-.9zM184.3 113.6h.9v.9h-.9zM178.1 121.5h.9v.9h-.9zM174.1 99.8h.9v.9h-.9zM173.4 120.1h.9v.9h-.9zM179.4 102.5h.9v.9h-.9zM169.5 123.0h.9v.9h-.9zM170.2 125.1h.9v.9h-.9zM167.1 102.6h.9v.9h-.9zM181.7 113.1h.9v.9h-.9zM165.3 115.9h.9v.9h-.9zM179.3 112.1h.9v.9h-.9zM193.8 114.9h.9v.9h-.9zM165.9 118.8h.9v.9h-.9zM179.4 117.6h.9v.9h-.9zM191.3 121.6h.9v.9h-.9zM176.0 123.7h.9v.9h-.9zM185.0 120.0h.9v.9h-.9zM169.3 126.7h.9v.9h-.9zM182.7 108.0h.9v.9h-.9zM183.9 115.4h.9v.9h-.9zM175.9 112.7h.9v.9h-.9zM174.4 127.5h.9v.9h-.9zM183.6 109.4h.9v.9h-.9zM182.2 127.8h.9v.9h-.9zM191.8 122.2h.9v.9h-.9zM170.4 115.4h.9v.9h-.9zM172.1 112.6h.9v.9h-.9zM166.1 118.6h.9v.9h-.9zM179.8 113.0h.9v.9h-.9zM195.0 114.5h.9v.9h-.9zM185.5 131.1h.9v.9h-.9zM182.1 131.1h.9v.9h-.9zM185.6 110.3h.9v.9h-.9zM171.5 105.9h.9v.9h-.9zM172.6 112.6h.9v.9h-.9zM180.4 100.8h.9v.9h-.9zM162.6 114.5h.9v.9h-.9zM171.7 124.7h.9v.9h-.9zM174.6 111.7h.9v.9h-.9zM181.9 104.2h.9v.9h-.9zM180.5 125.8h.9v.9h-.9zM186.0 111.5h.9v.9h-.9zM193.9 121.3h.9v.9h-.9zM182.2 126.2h.9v.9h-.9zM177.9 116.5h.9v.9h-.9zM178.0 122.0h.9v.9h-.9zM184.2 117.3h.9v.9h-.9zM185.6 128.7h.9v.9h-.9zM180.8 105.5h.9v.9h-.9zM162.6 114.6h.9v.9h-.9zM176.0 116.7h.9v.9h-.9zM178.5 117.2h.9v.9h-.9zM189.9 117.6h.9v.9h-.9zM173.4 113.8h.9v.9h-.9zM175.2 116.7h.9v.9h-.9zM170.0 104.4h.9v.9h-.9zM165.8 108.4h.9v.9h-.9zM167.6 113.7h.9v.9h-.9zM180.8 113.6h.9v.9h-.9zM165.3 127.0h.9v.9h-.9zM176.7 100.5h.9v.9h-.9zM173.8 113.7h.9v.9h-.9zM180.5 103.4h.9v.9h-.9zM179.0 125.7h.9v.9h-.9zM164.7 123.4h.9v.9h-.9zM191.7 111.7h.9v.9h-.9zM173.4 120.6h.9v.9h-.9zM183.2 118.1h.9v.9h-.9zM180.9 115.8h.9v.9h-.9zM181.3 113.9h.9v.9h-.9zM180.1 112.6h.9v.9h-.9zM173.6 104.8h.9v.9h-.9zM171.3 118.2h.9v.9h-.9zM187.8 116.4h.9v.9h-.9zM170.9 114.9h.9v.9h-.9zM190.9 108.2h.9v.9h-.9zM204.0 110.1h.9v.9h-.9zM185.4 118.6h.9v.9h-.9zM192.4 126.3h.9v.9h-.9zM187.8 129.2h.9v.9h-.9zM180.1 123.0h.9v.9h-.9zM178.0 123.2h.9v.9h-.9zM179.4 111.9h.9v.9h-.9zM169.0 113.6h.9v.9h-.9zM175.2 109.0h.9v.9h-.9zM178.7 122.2h.9v.9h-.9zM181.5 113.2h.9v.9h-.9zM177.7 128.5h.9v.9h-.9zM186.1 115.6h.9v.9h-.9zM174.3 124.6h.9v.9h-.9zM168.0 113.2h.9v.9h-.9zM174.8 124.7h.9v.9h-.9zM175.4 124.7h.9v.9h-.9zM173.9 118.6h.9v.9h-.9zM172.2 121.3h.9v.9h-.9zM174.1 117.1h.9v.9h-.9zM170.3 129.7h.9v.9h-.9zM173.5 130.5h.9v.9h-.9zM175.7 107.7h.9v.9h-.9zM171.8 119.4h.9v.9h-.9zM168.3 130.8h.9v.9h-.9zM180.9 120.2h.9v.9h-.9zM172.3 126.7h.9v.9h-.9zM177.0 106.7h.9v.9h-.9zM177.9 121.2h.9v.9h-.9zM175.7 114.6h.9v.9h-.9zM180.8 107.1h.9v.9h-.9zM185.9 113.1h.9v.9h-.9zM191.8 127.6h.9v.9h-.9zM166.6 111.2h.9v.9h-.9zM184.6 120.7h.9v.9h-.9zM182.7 123.8h.9v.9h-.9zM162.6 130.4h.9v.9h-.9zM166.6 120.0h.9v.9h-.9zM169.8 121.9h.9v.9h-.9zM178.0 116.4h.9v.9h-.9zM186.4 111.3h.9v.9h-.9zM183.5 109.9h.9v.9h-.9zM184.9 124.8h.9v.9h-.9zM180.4 127.9h.9v.9h-.9zM191.7 118.7h.9v.9h-.9zM181.2 108.1h.9v.9h-.9zM170.1 127.7h.9v.9h-.9zM185.9 113.2h.9v.9h-.9zM180.3 112.4h.9v.9h-.9zM190.1 112.9h.9v.9h-.9zM190.9 118.0h.9v.9h-.9zM168.5 125.9h.9v.9h-.9zM184.2 122.9h.9v.9h-.9zM188.9 114.1h.9v.9h-.9zM164.5 117.4h.9v.9h-.9zM181.6 120.9h.9v.9h-.9zM171.1 122.2h.9v.9h-.9zM166.8 119.9h.9v.9h-.9zM184.4 121.3h.9v.9h-.9zM183.9 105.8h.9v.9h-.9zM176.0 116.1h.9v.9h-.9zM175.9 115.0h.9v.9h-.9zM179.8 123.9h.9v.9h-.9zM186.3 117.5h.9v.9h-.9zM176.4 121.4h.9v.9h-.9zM172.8 125.0h.9v.9h-.9zM182.0 121.1h.9v.9h-.9zM183.9 110.7h.9v.9h-.9zM170.0 114.5h.9v.9h-.9zM175.6 112.7h.9v.9h-.9zM169.6 128.4h.9v.9h-.9zM177.9 118.0h.9v.9h-.9zM162.6 119.5h.9v.9h-.9zM182.2 125.8h.9v.9h-.9zM162.6 112.2h.9v.9h-.9zM192.3 119.2h.9v.9h-.9zM190.3 124.2h.9v.9h-.9zM189.8 113.7h.9v.9h-.9zM185.2 118.9h.9v.9h-.9zM177.7 105.0h.9v.9h-.9zM180.1 101.6h.9v.9h-.9zM183.4 107.9h.9v.9h-.9zM189.8 106.7h.9v.9h-.9zM183.2 122.4h.9v.9h-.9zM182.4 101.0h.9v.9h-.9zM184.8 118.6h.9v.9h-.9zM183.8 120.6h.9v.9h-.9zM180.1 127.1h.9v.9h-.9zM184.0 121.3h.9v.9h-.9zM176.4 122.8h.9v.9h-.9zM169.3 112.7h.9v.9h-.9zM182.4 128.1h.9v.9h-.9zM172.6 120.9h.9v.9h-.9zM180.1 130.4h.9v.9h-.9zM187.4 101.5h.9v.9h-.9zM175.0 120.4h.9v.9h-.9zM184.1 115.2h.9v.9h-.9zM187.0 117.5h.9v.9h-.9zM168.2 118.0h.9v.9h-.9zM185.6 121.3h.9v.9h-.9zM186.8 122.9h.9v.9h-.9zM187.3 125.2h.9v.9h-.9zM183.2 108.0h.9v.9h-.9zM180.5 110.3h.9v.9h-.9zM168.7 102.9h.9v.9h-.9zM198.9 119.6h.9v.9h-.9zM167.4 118.8h.9v.9h-.9zM178.8 125.0h.9v.9h-.9zM170.0 115.4h.9v.9h-.9zM186.2 118.4h.9v.9h-.9zM190.1 124.9h.9v.9h-.9zM180.8 88.1h.9v.9h-.9zM176.6 105.2h.9v.9h-.9zM189.5 115.7h.9v.9h-.9zM171.7 121.6h.9v.9h-.9zM169.8 110.9h.9v.9h-.9zM174.2 126.4h.9v.9h-.9zM180.5 120.2h.9v.9h-.9zM166.7 117.7h.9v.9h-.9zM187.6 119.7h.9v.9h-.9zM178.3 116.5h.9v.9h-.9zM180.8 126.9h.9v.9h-.9zM184.8 105.4h.9v.9h-.9zM182.1 108.7h.9v.9h-.9zM180.1 109.6h.9v.9h-.9zM192.4 130.7h.9v.9h-.9zM180.7 128.1h.9v.9h-.9zM173.2 109.7h.9v.9h-.9zM174.6 119.2h.9v.9h-.9zM185.7 121.2h.9v.9h-.9zM171.2 120.2h.9v.9h-.9zM185.2 116.0h.9v.9h-.9zM180.2 119.0h.9v.9h-.9zM186.8 121.3h.9v.9h-.9zM187.7 119.5h.9v.9h-.9zM184.2 115.2h.9v.9h-.9zM174.8 108.5h.9v.9h-.9zM182.4 125.6h.9v.9h-.9zM180.0 122.3h.9v.9h-.9zM183.1 114.1h.9v.9h-.9zM187.4 117.5h.9v.9h-.9zM177.5 121.2h.9v.9h-.9zM175.7 127.7h.9v.9h-.9zM175.8 125.6h.9v.9h-.9zM176.2 108.8h.9v.9h-.9zM181.4 119.7h.9v.9h-.9zM181.5 114.2h.9v.9h-.9zM167.2 125.6h.9v.9h-.9zM188.8 116.5h.9v.9h-.9zM177.9 106.9h.9v.9h-.9zM181.2 109.4h.9v.9h-.9zM180.3 127.8h.9v.9h-.9zM174.3 114.8h.9v.9h-.9zM169.6 113.2h.9v.9h-.9zM170.4 124.3h.9v.9h-.9zM172.3 123.7h.9v.9h-.9zM185.9 117.4h.9v.9h-.9zM177.2 118.1h.9v.9h-.9zM164.4 117.7h.9v.9h-.9zM189.8 111.7h.9v.9h-.9zM195.1 113.0h.9v.9h-.9zM181.4 128.8h.9v.9h-.9zM189.9 110.6h.9v.9h-.9zM186.8 111.1h.9v.9h-.9zM179.0 112.2h.9v.9h-.9zM188.5 128.2h.9v.9h-.9zM176.3 131.1h.9v.9h-.9zM180.6 117.5h.9v.9h-.9zM166.2 112.6h.9v.9h-.9zM176.1 118.4h.9v.9h-.9zM164.0 118.1h.9v.9h-.9zM172.8 117.3h.9v.9h-.9zM176.0 117.5h.9v.9h-.9zM181.6 124.5h.9v.9h-.9zM169.4 118.9h.9v.9h-.9zM177.8 111.0h.9v.9h-.9zM189.2 106.1h.9v.9h-.9zM165.2 117.7h.9v.9h-.9zM167.1 127.1h.9v.9h-.9zM190.4 116.0h.9v.9h-.9zM164.3 131.1h.9v.9h-.9zM193.1 118.5h.9v.9h-.9zM184.2 116.3h.9v.9h-.9zM175.2 115.1h.9v.9h-.9zM183.0 120.7h.9v.9h-.9zM180.9 121.9h.9v.9h-.9zM186.1 116.9h.9v.9h-.9zM162.6 114.6h.9v.9h-.9zM170.8 124.1h.9v.9h-.9zM174.4 120.4h.9v.9h-.9zM169.6 128.0h.9v.9h-.9zM184.7 109.6h.9v.9h-.9zM189.1 121.8h.9v.9h-.9zM170.7 109.0h.9v.9h-.9zM177.8 120.8h.9v.9h-.9zM171.2 117.0h.9v.9h-.9zM186.1 103.9h.9v.9h-.9zM192.0 123.5h.9v.9h-.9zM168.9 120.6h.9v.9h-.9zM195.9 128.5h.9v.9h-.9zM186.4 113.8h.9v.9h-.9zM194.0 115.8h.9v.9h-.9zM173.5 109.0h.9v.9h-.9zM175.5 107.8h.9v.9h-.9zM179.6 112.3h.9v.9h-.9zM171.7 120.9h.9v.9h-.9zM192.1 118.1h.9v.9h-.9zM183.6 106.1h.9v.9h-.9zM173.6 129.0h.9v.9h-.9zM182.2 109.2h.9v.9h-.9zM188.9 106.7h.9v.9h-.9zM169.3 119.9h.9v.9h-.9zM192.6 125.7h.9v.9h-.9zM178.1 121.2h.9v.9h-.9zM183.4 123.6h.9v.9h-.9zM171.9 127.7h.9v.9h-.9zM174.7 122.8h.9v.9h-.9zM169.2 117.3h.9v.9h-.9zM162.6 111.4h.9v.9h-.9zM169.2 127.7h.9v.9h-.9zM165.1 123.3h.9v.9h-.9zM165.1 126.7h.9v.9h-.9zM192.1 117.3h.9v.9h-.9zM210.7 73.9h.9v.9h-.9zM219.3 70.9h.9v.9h-.9zM211.0 82.7h.9v.9h-.9zM214.3 81.8h.9v.9h-.9zM198.7 80.8h.9v.9h-.9zM209.4 85.4h.9v.9h-.9zM220.4 87.3h.9v.9h-.9zM211.2 84.2h.9v.9h-.9zM217.3 73.9h.9v.9h-.9zM219.7 86.9h.9v.9h-.9zM207.1 77.9h.9v.9h-.9zM211.3 85.9h.9v.9h-.9zM219.1 84.1h.9v.9h-.9zM207.0 82.0h.9v.9h-.9zM206.4 81.3h.9v.9h-.9zM196.5 76.0h.9v.9h-.9zM218.3 87.1h.9v.9h-.9zM213.7 72.2h.9v.9h-.9zM216.0 84.4h.9v.9h-.9zM211.8 74.3h.9v.9h-.9zM210.0 82.4h.9v.9h-.9zM210.3 81.7h.9v.9h-.9zM213.6 68.0h.9v.9h-.9zM212.8 74.5h.9v.9h-.9zM221.2 74.2h.9v.9h-.9zM218.8 77.1h.9v.9h-.9zM212.2 70.7h.9v.9h-.9zM213.9 84.3h.9v.9h-.9zM211.6 79.8h.9v.9h-.9zM215.4 81.2h.9v.9h-.9zM216.1 71.6h.9v.9h-.9zM209.4 84.7h.9v.9h-.9zM209.7 79.1h.9v.9h-.9zM211.2 85.2h.9v.9h-.9zM213.4 88.7h.9v.9h-.9zM211.5 80.2h.9v.9h-.9zM212.6 74.5h.9v.9h-.9zM205.0 82.6h.9v.9h-.9zM213.5 95.7h.9v.9h-.9zM228.7 76.5h.9v.9h-.9zM211.3 83.2h.9v.9h-.9zM205.1 83.8h.9v.9h-.9zM213.5 80.3h.9v.9h-.9zM212.0 80.6h.9v.9h-.9zM205.4 77.2h.9v.9h-.9zM216.3 79.7h.9v.9h-.9zM209.6 76.2h.9v.9h-.9zM217.4 81.4h.9v.9h-.9zM206.5 84.8h.9v.9h-.9zM218.4 80.7h.9v.9h-.9zM212.6 88.5h.9v.9h-.9zM206.9 82.9h.9v.9h-.9zM219.5 74.3h.9v.9h-.9zM211.3 74.7h.9v.9h-.9zM213.5 77.4h.9v.9h-.9zM216.1 76.3h.9v.9h-.9zM212.5 81.8h.9v.9h-.9zM217.4 75.3h.9v.9h-.9zM210.7 77.7h.9v.9h-.9zM210.4 80.8h.9v.9h-.9zM214.6 79.8h.9v.9h-.9zM221.5 72.3h.9v.9h-.9zM224.8 88.3h.9v.9h-.9zM218.8 79.3h.9v.9h-.9zM204.7 84.7h.9v.9h-.9zM223.4 84.4h.9v.9h-.9zM221.7 81.5h.9v.9h-.9zM219.8 82.6h.9v.9h-.9zM212.2 75.0h.9v.9h-.9zM211.2 84.0h.9v.9h-.9zM217.8 83.3h.9v.9h-.9zM214.9 84.6h.9v.9h-.9zM211.9 82.3h.9v.9h-.9zM215.2 74.7h.9v.9h-.9zM212.2 73.0h.9v.9h-.9zM208.8 86.9h.9v.9h-.9zM224.4 83.3h.9v.9h-.9zM211.7 69.8h.9v.9h-.9zM212.1 83.4h.9v.9h-.9zM217.5 77.9h.9v.9h-.9zM215.4 79.5h.9v.9h-.9zM211.6 89.8h.9v.9h-.9zM208.5 85.0h.9v.9h-.9zM215.8 84.3h.9v.9h-.9zM220.3 75.4h.9v.9h-.9zM215.7 82.4h.9v.9h-.9zM216.8 83.1h.9v.9h-.9zM212.6 87.0h.9v.9h-.9zM209.1 92.1h.9v.9h-.9zM219.7 83.8h.9v.9h-.9zM207.2 74.7h.9v.9h-.9zM206.3 82.0h.9v.9h-.9zM214.7 80.1h.9v.9h-.9zM202.1 78.1h.9v.9h-.9zM217.2 79.5h.9v.9h-.9zM220.2 80.9h.9v.9h-.9zM220.9 87.7h.9v.9h-.9zM198.5 78.1h.9v.9h-.9zM221.5 87.8h.9v.9h-.9zM213.4 82.3h.9v.9h-.9zM221.6 76.8h.9v.9h-.9zM210.8 76.6h.9v.9h-.9zM212.2 85.6h.9v.9h-.9zM216.7 82.2h.9v.9h-.9zM217.8 78.8h.9v.9h-.9zM212.6 78.9h.9v.9h-.9zM199.9 74.5h.9v.9h-.9zM213.3 73.4h.9v.9h-.9zM208.4 73.0h.9v.9h-.9zM202.4 81.4h.9v.9h-.9zM212.6 73.2h.9v.9h-.9zM214.8 89.8h.9v.9h-.9zM215.9 80.5h.9v.9h-.9zM217.6 72.5h.9v.9h-.9zM211.5 86.1h.9v.9h-.9zM213.6 67.6h.9v.9h-.9zM214.7 81.6h.9v.9h-.9zM214.9 79.9h.9v.9h-.9zM218.5 83.4h.9v.9h-.9zM226.3 81.7h.9v.9h-.9zM216.1 81.3h.9v.9h-.9zM208.5 81.0h.9v.9h-.9zM214.0 71.0h.9v.9h-.9zM227.0 82.5h.9v.9h-.9zM214.1 84.1h.9v.9h-.9zM222.7 85.3h.9v.9h-.9zM212.8 82.4h.9v.9h-.9zM211.3 76.9h.9v.9h-.9zM211.5 76.1h.9v.9h-.9zM229.9 86.7h.9v.9h-.9zM213.9 74.4h.9v.9h-.9zM205.5 79.4h.9v.9h-.9zM221.6 83.7h.9v.9h-.9zM223.5 78.2h.9v.9h-.9zM212.1 78.2h.9v.9h-.9zM208.3 75.5h.9v.9h-.9zM214.3 91.8h.9v.9h-.9zM213.6 82.8h.9v.9h-.9zM202.2 82.9h.9v.9h-.9zM212.7 77.3h.9v.9h-.9zM204.7 87.2h.9v.9h-.9zM219.5 78.9h.9v.9h-.9zM209.6 81.3h.9v.9h-.9zM208.7 71.7h.9v.9h-.9zM208.6 88.9h.9v.9h-.9zM205.6 81.1h.9v.9h-.9zM213.0 74.0h.9v.9h-.9zM220.6 92.5h.9v.9h-.9zM217.6 82.0h.9v.9h-.9zM220.3 85.8h.9v.9h-.9zM199.4 84.5h.9v.9h-.9zM215.1 82.9h.9v.9h-.9zM218.7 81.3h.9v.9h-.9zM216.0 76.6h.9v.9h-.9zM221.0 81.0h.9v.9h-.9zM218.5 79.5h.9v.9h-.9zM206.1 81.5h.9v.9h-.9zM213.1 84.2h.9v.9h-.9zM214.7 86.7h.9v.9h-.9zM215.5 81.6h.9v.9h-.9zM218.0 73.7h.9v.9h-.9zM208.0 87.0h.9v.9h-.9zM211.1 84.8h.9v.9h-.9zM216.7 72.7h.9v.9h-.9zM217.1 76.7h.9v.9h-.9zM211.8 74.6h.9v.9h-.9zM213.2 86.4h.9v.9h-.9zM221.9 86.9h.9v.9h-.9zM213.6 79.6h.9v.9h-.9zM211.6 73.5h.9v.9h-.9zM228.8 86.1h.9v.9h-.9zM220.4 80.7h.9v.9h-.9zM214.5 82.8h.9v.9h-.9zM205.9 86.1h.9v.9h-.9zM210.8 87.1h.9v.9h-.9zM212.6 78.1h.9v.9h-.9zM211.3 79.7h.9v.9h-.9zM218.7 77.8h.9v.9h-.9zM209.2 84.1h.9v.9h-.9zM205.0 84.2h.9v.9h-.9zM213.7 81.8h.9v.9h-.9zM212.1 78.7h.9v.9h-.9zM210.1 81.6h.9v.9h-.9zM218.0 78.8h.9v.9h-.9zM217.8 78.9h.9v.9h-.9zM224.5 81.8h.9v.9h-.9zM206.9 75.0h.9v.9h-.9zM207.2 85.4h.9v.9h-.9zM218.4 80.8h.9v.9h-.9zM202.1 70.8h.9v.9h-.9zM211.3 90.2h.9v.9h-.9zM220.8 85.2h.9v.9h-.9zM205.4 80.0h.9v.9h-.9zM222.7 87.1h.9v.9h-.9zM205.7 79.6h.9v.9h-.9zM214.4 75.1h.9v.9h-.9zM219.8 75.0h.9v.9h-.9zM213.9 83.2h.9v.9h-.9zM211.5 84.8h.9v.9h-.9zM208.0 70.0h.9v.9h-.9zM212.3 79.7h.9v.9h-.9zM207.7 81.0h.9v.9h-.9zM216.4 87.8h.9v.9h-.9zM208.8 78.9h.9v.9h-.9zM211.9 79.4h.9v.9h-.9zM218.3 78.5h.9v.9h-.9zM199.5 73.7h.9v.9h-.9zM216.1 73.0h.9v.9h-.9zM220.5 83.4h.9v.9h-.9zM207.3 81.7h.9v.9h-.9zM229.4 79.2h.9v.9h-.9zM212.0 71.8h.9v.9h-.9zM220.0 81.1h.9v.9h-.9zM210.0 81.8h.9v.9h-.9zM222.9 68.1h.9v.9h-.9zM213.3 82.0h.9v.9h-.9zM207.0 80.4h.9v.9h-.9zM217.3 93.6h.9v.9h-.9zM222.2 73.7h.9v.9h-.9zM215.0 89.6h.9v.9h-.9zM211.0 83.0h.9v.9h-.9zM212.5 75.2h.9v.9h-.9zM213.9 87.1h.9v.9h-.9zM214.8 72.5h.9v.9h-.9zM215.9 93.2h.9v.9h-.9zM217.9 80.6h.9v.9h-.9zM209.5 85.5h.9v.9h-.9zM220.0 85.7h.9v.9h-.9zM211.9 88.2h.9v.9h-.9zM216.7 80.1h.9v.9h-.9zM212.1 71.1h.9v.9h-.9zM213.0 65.6h.9v.9h-.9zM213.0 80.5h.9v.9h-.9zM216.1 81.9h.9v.9h-.9zM212.0 82.9h.9v.9h-.9zM208.6 75.4h.9v.9h-.9zM216.8 73.2h.9v.9h-.9zM214.4 77.8h.9v.9h-.9zM200.3 85.2h.9v.9h-.9zM209.4 79.7h.9v.9h-.9zM215.7 80.2h.9v.9h-.9zM214.9 79.5h.9v.9h-.9zM210.4 78.2h.9v.9h-.9zM213.1 79.7h.9v.9h-.9zM207.7 82.1h.9v.9h-.9zM213.4 85.0h.9v.9h-.9zM213.4 74.5h.9v.9h-.9zM209.4 84.6h.9v.9h-.9zM208.7 76.3h.9v.9h-.9zM208.6 70.4h.9v.9h-.9zM217.0 80.6h.9v.9h-.9zM217.0 83.8h.9v.9h-.9zM216.4 85.5h.9v.9h-.9zM212.9 82.8h.9v.9h-.9zM211.3 73.0h.9v.9h-.9zM210.1 88.3h.9v.9h-.9zM220.4 86.2h.9v.9h-.9zM218.0 79.7h.9v.9h-.9zM216.0 78.2h.9v.9h-.9zM219.4 82.9h.9v.9h-.9zM211.7 82.5h.9v.9h-.9zM214.7 79.3h.9v.9h-.9zM211.7 77.7h.9v.9h-.9zM218.1 84.2h.9v.9h-.9zM209.9 83.8h.9v.9h-.9zM209.9 76.8h.9v.9h-.9zM212.6 84.1h.9v.9h-.9zM205.3 75.4h.9v.9h-.9zM216.3 77.9h.9v.9h-.9zM211.8 76.9h.9v.9h-.9zM213.9 70.6h.9v.9h-.9zM221.3 87.9h.9v.9h-.9zM217.8 80.0h.9v.9h-.9zM207.8 72.7h.9v.9h-.9zM221.8 82.9h.9v.9h-.9zM211.8 86.3h.9v.9h-.9zM216.5 85.5h.9v.9h-.9zM217.5 78.5h.9v.9h-.9zM211.5 82.4h.9v.9h-.9zM211.5 83.5h.9v.9h-.9zM206.4 79.8h.9v.9h-.9zM213.2 80.4h.9v.9h-.9zM196.7 82.1h.9v.9h-.9zM219.2 75.6h.9v.9h-.9zM218.0 81.7h.9v.9h-.9zM209.4 81.5h.9v.9h-.9zM220.9 81.8h.9v.9h-.9zM222.7 85.4h.9v.9h-.9zM211.5 79.9h.9v.9h-.9zM214.3 82.6h.9v.9h-.9zM216.4 84.5h.9v.9h-.9zM209.9 84.4h.9v.9h-.9zM226.4 84.9h.9v.9h-.9zM217.3 87.9h.9v.9h-.9zM217.6 77.2h.9v.9h-.9zM213.1 78.0h.9v.9h-.9zM221.2 71.7h.9v.9h-.9zM213.1 84.8h.9v.9h-.9zM212.9 76.7h.9v.9h-.9zM209.5 78.0h.9v.9h-.9zM220.9 78.0h.9v.9h-.9zM218.6 76.6h.9v.9h-.9zM205.1 76.9h.9v.9h-.9zM206.8 83.8h.9v.9h-.9zM213.7 77.7h.9v.9h-.9zM219.5 85.7h.9v.9h-.9zM213.5 89.1h.9v.9h-.9zM222.3 81.7h.9v.9h-.9zM215.0 81.3h.9v.9h-.9zM216.5 85.0h.9v.9h-.9zM219.2 85.8h.9v.9h-.9zM219.0 75.8h.9v.9h-.9zM219.5 80.2h.9v.9h-.9zM221.3 79.5h.9v.9h-.9zM215.4 81.0h.9v.9h-.9zM221.9 92.6h.9v.9h-.9zM211.5 78.1h.9v.9h-.9zM214.3 79.8h.9v.9h-.9zM211.2 84.9h.9v.9h-.9zM215.8 83.0h.9v.9h-.9zM216.1 85.7h.9v.9h-.9zM213.7 81.0h.9v.9h-.9zM221.3 79.8h.9v.9h-.9zM213.4 87.8h.9v.9h-.9zM217.1 81.0h.9v.9h-.9zM217.8 82.7h.9v.9h-.9zM203.3 75.7h.9v.9h-.9zM211.5 80.4h.9v.9h-.9zM209.4 69.7h.9v.9h-.9zM212.2 78.1h.9v.9h-.9zM207.5 77.4h.9v.9h-.9zM211.0 77.5h.9v.9h-.9zM208.4 79.3h.9v.9h-.9zM213.8 78.2h.9v.9h-.9zM210.9 69.9h.9v.9h-.9zM209.1 76.8h.9v.9h-.9zM216.8 86.0h.9v.9h-.9zM214.5 84.5h.9v.9h-.9zM208.5 86.8h.9v.9h-.9zM210.2 82.2h.9v.9h-.9zM207.7 76.8h.9v.9h-.9zM214.6 85.3h.9v.9h-.9zM212.8 79.0h.9v.9h-.9zM208.9 77.2h.9v.9h-.9zM212.5 87.3h.9v.9h-.9zM211.7 83.4h.9v.9h-.9zM203.6 86.4h.9v.9h-.9zM217.5 75.9h.9v.9h-.9zM217.0 73.6h.9v.9h-.9zM210.1 81.3h.9v.9h-.9zM212.6 85.9h.9v.9h-.9zM219.6 85.2h.9v.9h-.9zM205.8 81.2h.9v.9h-.9zM225.8 83.2h.9v.9h-.9zM210.2 75.7h.9v.9h-.9zM211.3 88.5h.9v.9h-.9zM217.4 92.3h.9v.9h-.9zM210.0 93.9h.9v.9h-.9zM221.7 77.8h.9v.9h-.9zM217.7 83.2h.9v.9h-.9zM218.4 83.7h.9v.9h-.9zM210.2 81.1h.9v.9h-.9zM204.5 83.7h.9v.9h-.9zM212.6 73.4h.9v.9h-.9zM203.8 84.3h.9v.9h-.9zM214.2 73.0h.9v.9h-.9zM210.8 79.8h.9v.9h-.9zM213.3 72.7h.9v.9h-.9zM208.4 76.6h.9v.9h-.9zM224.4 75.3h.9v.9h-.9zM213.7 80.4h.9v.9h-.9zM212.2 81.5h.9v.9h-.9zM220.3 76.5h.9v.9h-.9zM213.7 74.3h.9v.9h-.9zM218.8 85.4h.9v.9h-.9zM215.4 77.9h.9v.9h-.9zM214.1 78.4h.9v.9h-.9zM213.2 86.5h.9v.9h-.9zM219.0 82.6h.9v.9h-.9zM207.3 80.3h.9v.9h-.9zM221.8 75.7h.9v.9h-.9zM205.0 77.2h.9v.9h-.9zM218.6 84.0h.9v.9h-.9zM215.6 79.9h.9v.9h-.9zM213.2 83.4h.9v.9h-.9zM214.2 75.1h.9v.9h-.9zM206.8 80.2h.9v.9h-.9zM216.4 87.2h.9v.9h-.9zM206.1 75.1h.9v.9h-.9zM215.2 86.7h.9v.9h-.9zM211.8 81.2h.9v.9h-.9zM214.9 77.7h.9v.9h-.9zM213.4 77.2h.9v.9h-.9zM215.0 68.8h.9v.9h-.9zM217.8 82.8h.9v.9h-.9zM213.7 77.2h.9v.9h-.9zM214.1 86.0h.9v.9h-.9zM210.5 71.8h.9v.9h-.9zM211.7 78.6h.9v.9h-.9zM214.5 82.2h.9v.9h-.9zM209.2 73.3h.9v.9h-.9zM215.0 80.6h.9v.9h-.9zM221.0 75.7h.9v.9h-.9zM214.5 82.5h.9v.9h-.9zM214.9 79.7h.9v.9h-.9zM209.3 82.8h.9v.9h-.9zM205.5 78.6h.9v.9h-.9zM212.4 82.2h.9v.9h-.9zM210.1 78.3h.9v.9h-.9zM216.9 86.3h.9v.9h-.9zM212.4 82.3h.9v.9h-.9zM210.3 78.5h.9v.9h-.9zM216.7 79.8h.9v.9h-.9zM219.0 84.9h.9v.9h-.9zM213.7 69.2h.9v.9h-.9zM210.1 70.5h.9v.9h-.9zM208.5 84.1h.9v.9h-.9zM214.2 79.6h.9v.9h-.9zM212.3 75.4h.9v.9h-.9zM214.2 75.3h.9v.9h-.9zM222.2 82.4h.9v.9h-.9zM221.5 81.8h.9v.9h-.9zM217.2 91.4h.9v.9h-.9zM225.7 82.8h.9v.9h-.9zM225.2 83.5h.9v.9h-.9zM207.9 83.8h.9v.9h-.9zM217.1 80.4h.9v.9h-.9zM211.0 80.3h.9v.9h-.9zM214.3 79.3h.9v.9h-.9zM212.2 84.1h.9v.9h-.9zM213.7 77.6h.9v.9h-.9zM221.6 75.1h.9v.9h-.9zM224.9 89.7h.9v.9h-.9zM220.4 75.2h.9v.9h-.9zM214.3 85.3h.9v.9h-.9zM215.9 84.2h.9v.9h-.9zM210.6 76.1h.9v.9h-.9zM213.9 83.7h.9v.9h-.9zM213.8 85.4h.9v.9h-.9zM213.6 85.3h.9v.9h-.9zM206.9 75.3h.9v.9h-.9zM209.7 78.9h.9v.9h-.9zM215.1 82.7h.9v.9h-.9zM217.7 80.9h.9v.9h-.9zM210.5 77.6h.9v.9h-.9zM220.8 85.2h.9v.9h-.9zM207.0 71.8h.9v.9h-.9zM209.9 85.0h.9v.9h-.9zM222.5 78.9h.9v.9h-.9zM218.0 76.7h.9v.9h-.9zM215.3 76.7h.9v.9h-.9zM216.2 84.6h.9v.9h-.9zM211.8 84.8h.9v.9h-.9zM208.3 79.0h.9v.9h-.9zM181.1 102.9h.9v.9h-.9zM195.8 79.6h.9v.9h-.9zM209.6 83.2h.9v.9h-.9zM205.5 89.3h.9v.9h-.9zM217.7 76.2h.9v.9h-.9zM215.5 77.1h.9v.9h-.9zM218.4 90.0h.9v.9h-.9zM221.8 69.3h.9v.9h-.9zM209.9 84.0h.9v.9h-.9zM217.8 80.7h.9v.9h-.9zM205.3 83.1h.9v.9h-.9zM224.0 84.5h.9v.9h-.9zM190.5 80.0h.9v.9h-.9zM206.6 90.4h.9v.9h-.9zM208.1 74.9h.9v.9h-.9zM198.1 73.5h.9v.9h-.9zM197.5 89.7h.9v.9h-.9zM200.4 85.5h.9v.9h-.9zM221.5 77.4h.9v.9h-.9zM206.8 92.1h.9v.9h-.9zM212.8 80.8h.9v.9h-.9zM201.4 88.3h.9v.9h-.9zM202.5 86.4h.9v.9h-.9zM206.3 89.5h.9v.9h-.9zM198.5 77.3h.9v.9h-.9zM205.1 103.6h.9v.9h-.9zM231.6 81.5h.9v.9h-.9zM205.9 100.2h.9v.9h-.9zM207.2 81.7h.9v.9h-.9zM205.5 84.1h.9v.9h-.9zM218.1 91.1h.9v.9h-.9zM216.0 84.4h.9v.9h-.9zM186.7 92.4h.9v.9h-.9zM204.3 79.4h.9v.9h-.9zM210.7 85.4h.9v.9h-.9zM229.8 80.8h.9v.9h-.9zM203.8 83.2h.9v.9h-.9zM208.9 88.7h.9v.9h-.9zM214.6 80.9h.9v.9h-.9zM196.1 87.9h.9v.9h-.9zM212.7 86.5h.9v.9h-.9zM203.3 82.1h.9v.9h-.9zM218.7 74.3h.9v.9h-.9zM208.5 96.6h.9v.9h-.9zM206.4 81.2h.9v.9h-.9zM221.6 86.4h.9v.9h-.9zM195.8 92.0h.9v.9h-.9zM221.3 99.7h.9v.9h-.9zM213.8 81.3h.9v.9h-.9zM211.3 94.1h.9v.9h-.9zM180.7 81.8h.9v.9h-.9zM202.3 87.9h.9v.9h-.9zM214.7 69.6h.9v.9h-.9zM226.5 77.9h.9v.9h-.9zM204.6 93.9h.9v.9h-.9zM208.0 101.2h.9v.9h-.9zM214.6 80.1h.9v.9h-.9zM205.9 84.7h.9v.9h-.9zM221.0 89.0h.9v.9h-.9zM206.3 94.1h.9v.9h-.9zM226.5 102.8h.9v.9h-.9zM214.5 70.1h.9v.9h-.9zM205.2 89.7h.9v.9h-.9zM222.5 100.4h.9v.9h-.9zM225.8 76.8h.9v.9h-.9zM214.0 100.4h.9v.9h-.9zM210.1 89.6h.9v.9h-.9zM212.2 98.1h.9v.9h-.9zM198.6 88.3h.9v.9h-.9zM208.4 80.4h.9v.9h-.9zM210.3 72.4h.9v.9h-.9zM207.3 88.0h.9v.9h-.9zM205.6 93.2h.9v.9h-.9zM210.0 86.6h.9v.9h-.9zM207.9 85.7h.9v.9h-.9zM210.0 85.9h.9v.9h-.9zM201.9 95.8h.9v.9h-.9zM213.0 82.2h.9v.9h-.9zM206.0 82.1h.9v.9h-.9zM208.2 81.6h.9v.9h-.9zM193.9 90.9h.9v.9h-.9zM203.1 102.2h.9v.9h-.9zM191.6 65.3h.9v.9h-.9zM199.2 76.3h.9v.9h-.9zM203.1 78.8h.9v.9h-.9zM197.5 95.2h.9v.9h-.9zM212.1 98.8h.9v.9h-.9zM210.8 78.7h.9v.9h-.9zM200.8 93.5h.9v.9h-.9zM220.6 101.8h.9v.9h-.9zM223.0 89.9h.9v.9h-.9zM216.5 73.4h.9v.9h-.9zM214.3 88.3h.9v.9h-.9zM193.4 67.9h.9v.9h-.9zM222.5 95.8h.9v.9h-.9zM199.6 96.3h.9v.9h-.9zM215.7 84.7h.9v.9h-.9zM206.8 82.0h.9v.9h-.9zM217.9 87.7h.9v.9h-.9zM218.7 96.9h.9v.9h-.9zM201.2 83.7h.9v.9h-.9zM216.5 92.1h.9v.9h-.9zM215.8 75.2h.9v.9h-.9zM214.9 78.7h.9v.9h-.9zM217.8 85.7h.9v.9h-.9zM220.8 75.2h.9v.9h-.9zM200.2 81.3h.9v.9h-.9zM208.9 94.9h.9v.9h-.9zM217.9 76.8h.9v.9h-.9zM202.7 79.0h.9v.9h-.9zM201.8 98.6h.9v.9h-.9zM210.8 89.1h.9v.9h-.9zM186.4 80.2h.9v.9h-.9zM213.6 86.0h.9v.9h-.9zM199.6 82.1h.9v.9h-.9zM210.7 75.5h.9v.9h-.9zM205.3 85.0h.9v.9h-.9zM204.4 92.1h.9v.9h-.9zM200.9 87.0h.9v.9h-.9zM227.2 87.4h.9v.9h-.9zM198.2 88.3h.9v.9h-.9zM208.4 89.3h.9v.9h-.9zM209.0 100.9h.9v.9h-.9zM220.9 76.0h.9v.9h-.9zM225.1 73.1h.9v.9h-.9zM220.8 98.1h.9v.9h-.9zM196.7 93.3h.9v.9h-.9zM210.0 94.3h.9v.9h-.9zM218.1 87.3h.9v.9h-.9zM222.8 84.0h.9v.9h-.9zM205.6 89.3h.9v.9h-.9zM206.4 97.9h.9v.9h-.9zM211.7 99.2h.9v.9h-.9zM204.4 68.0h.9v.9h-.9zM209.6 75.8h.9v.9h-.9zM211.6 78.3h.9v.9h-.9zM211.2 87.8h.9v.9h-.9zM215.2 91.8h.9v.9h-.9zM187.2 91.1h.9v.9h-.9zM213.9 67.3h.9v.9h-.9zM198.1 82.9h.9v.9h-.9zM194.5 73.5h.9v.9h-.9zM205.3 73.6h.9v.9h-.9zM224.4 89.0h.9v.9h-.9zM227.1 91.3h.9v.9h-.9zM204.6 92.8h.9v.9h-.9zM189.1 99.2h.9v.9h-.9zM202.4 99.5h.9v.9h-.9zM212.5 85.9h.9v.9h-.9zM204.3 85.6h.9v.9h-.9zM213.6 90.7h.9v.9h-.9zM225.8 85.3h.9v.9h-.9zM230.4 86.3h.9v.9h-.9zM206.8 85.8h.9v.9h-.9zM200.7 80.8h.9v.9h-.9zM183.2 72.3h.9v.9h-.9zM213.9 91.4h.9v.9h-.9zM192.0 84.0h.9v.9h-.9zM215.3 101.8h.9v.9h-.9zM206.8 87.0h.9v.9h-.9zM208.7 78.3h.9v.9h-.9zM204.2 75.8h.9v.9h-.9zM220.0 103.5h.9v.9h-.9zM209.7 75.8h.9v.9h-.9zM215.7 89.3h.9v.9h-.9zM197.8 78.7h.9v.9h-.9zM212.4 99.9h.9v.9h-.9zM229.4 91.2h.9v.9h-.9zM208.8 104.6h.9v.9h-.9zM202.8 83.4h.9v.9h-.9zM217.5 88.7h.9v.9h-.9zM203.7 85.8h.9v.9h-.9zM213.5 72.2h.9v.9h-.9zM217.1 88.8h.9v.9h-.9zM220.9 84.0h.9v.9h-.9zM203.2 80.9h.9v.9h-.9zM199.4 72.0h.9v.9h-.9zM205.0 84.7h.9v.9h-.9zM213.5 84.6h.9v.9h-.9zM210.0 94.4h.9v.9h-.9zM192.4 86.0h.9v.9h-.9zM214.0 88.6h.9v.9h-.9zM201.8 99.1h.9v.9h-.9zM200.9 85.8h.9v.9h-.9zM205.9 78.5h.9v.9h-.9zM209.9 81.2h.9v.9h-.9zM225.3 88.1h.9v.9h-.9zM220.7 98.7h.9v.9h-.9zM199.2 80.6h.9v.9h-.9zM224.3 91.7h.9v.9h-.9zM221.8 87.5h.9v.9h-.9zM200.1 96.0h.9v.9h-.9zM218.5 91.2h.9v.9h-.9zM205.3 87.2h.9v.9h-.9zM215.0 86.5h.9v.9h-.9zM212.4 89.0h.9v.9h-.9zM187.4 75.6h.9v.9h-.9zM212.5 95.1h.9v.9h-.9zM212.6 90.2h.9v.9h-.9zM214.7 96.9h.9v.9h-.9zM206.2 83.2h.9v.9h-.9zM220.2 65.8h.9v.9h-.9zM190.6 88.1h.9v.9h-.9zM195.6 75.3h.9v.9h-.9zM209.2 84.4h.9v.9h-.9zM211.7 84.5h.9v.9h-.9zM202.8 94.0h.9v.9h-.9zM200.7 84.3h.9v.9h-.9zM213.4 98.7h.9v.9h-.9zM216.2 83.0h.9v.9h-.9zM199.5 81.6h.9v.9h-.9zM189.1 60.0h.9v.9h-.9zM218.3 81.4h.9v.9h-.9zM203.3 74.8h.9v.9h-.9zM211.1 85.6h.9v.9h-.9zM188.0 84.2h.9v.9h-.9zM205.6 87.4h.9v.9h-.9zM197.7 93.3h.9v.9h-.9zM214.0 84.5h.9v.9h-.9zM209.1 93.0h.9v.9h-.9zM212.2 94.0h.9v.9h-.9zM215.0 78.2h.9v.9h-.9zM202.3 105.7h.9v.9h-.9zM201.9 87.2h.9v.9h-.9zM208.9 81.2h.9v.9h-.9zM192.3 80.9h.9v.9h-.9zM206.8 93.9h.9v.9h-.9zM205.6 72.2h.9v.9h-.9zM209.6 77.1h.9v.9h-.9zM219.2 82.2h.9v.9h-.9zM203.7 88.4h.9v.9h-.9zM207.4 76.7h.9v.9h-.9zM211.3 66.0h.9v.9h-.9zM204.1 93.8h.9v.9h-.9zM204.0 68.4h.9v.9h-.9zM216.6 82.2h.9v.9h-.9zM215.9 70.5h.9v.9h-.9zM207.6 94.8h.9v.9h-.9zM200.8 84.1h.9v.9h-.9zM219.1 90.4h.9v.9h-.9zM207.5 96.9h.9v.9h-.9zM203.5 95.4h.9v.9h-.9zM212.1 84.1h.9v.9h-.9zM207.3 87.8h.9v.9h-.9zM195.0 73.6h.9v.9h-.9zM223.8 66.9h.9v.9h-.9zM209.7 90.1h.9v.9h-.9zM197.8 75.2h.9v.9h-.9zM218.4 76.9h.9v.9h-.9zM212.4 94.0h.9v.9h-.9zM192.2 81.5h.9v.9h-.9zM221.3 70.2h.9v.9h-.9zM221.0 80.4h.9v.9h-.9zM201.9 78.8h.9v.9h-.9zM205.3 78.2h.9v.9h-.9zM214.6 81.7h.9v.9h-.9zM199.0 84.8h.9v.9h-.9zM193.3 84.4h.9v.9h-.9zM207.7 95.4h.9v.9h-.9zM194.8 78.3h.9v.9h-.9zM216.5 91.7h.9v.9h-.9zM188.5 86.1h.9v.9h-.9zM203.6 81.5h.9v.9h-.9zM207.9 90.5h.9v.9h-.9zM203.4 78.2h.9v.9h-.9zM216.8 79.2h.9v.9h-.9zM212.5 74.1h.9v.9h-.9zM215.9 81.6h.9v.9h-.9zM201.4 78.9h.9v.9h-.9zM211.3 80.7h.9v.9h-.9zM211.7 96.8h.9v.9h-.9zM221.2 86.2h.9v.9h-.9zM218.8 79.0h.9v.9h-.9zM216.9 86.9h.9v.9h-.9zM216.4 85.8h.9v.9h-.9zM205.8 81.4h.9v.9h-.9zM239.3 94.4h.9v.9h-.9zM210.9 95.6h.9v.9h-.9zM206.7 98.9h.9v.9h-.9zM209.0 89.9h.9v.9h-.9zM226.5 66.8h.9v.9h-.9zM213.6 103.4h.9v.9h-.9zM231.1 94.6h.9v.9h-.9zM212.5 89.5h.9v.9h-.9zM206.2 75.3h.9v.9h-.9zM191.4 90.0h.9v.9h-.9zM225.7 82.5h.9v.9h-.9zM224.3 82.8h.9v.9h-.9zM184.3 65.2h.9v.9h-.9zM210.8 71.9h.9v.9h-.9zM199.4 88.0h.9v.9h-.9zM212.3 79.2h.9v.9h-.9zM213.0 90.1h.9v.9h-.9zM207.6 83.4h.9v.9h-.9zM221.4 92.4h.9v.9h-.9zM204.2 87.0h.9v.9h-.9zM216.4 92.0h.9v.9h-.9zM209.9 82.8h.9v.9h-.9zM208.6 85.7h.9v.9h-.9zM216.2 84.1h.9v.9h-.9zM201.3 90.0h.9v.9h-.9zM196.5 88.0h.9v.9h-.9zM199.0 82.6h.9v.9h-.9zM213.6 96.5h.9v.9h-.9zM212.8 86.8h.9v.9h-.9zM201.7 94.9h.9v.9h-.9zM205.6 76.5h.9v.9h-.9zM199.8 82.8h.9v.9h-.9zM229.3 88.7h.9v.9h-.9zM186.5 85.1h.9v.9h-.9zM203.0 89.9h.9v.9h-.9zM193.1 65.5h.9v.9h-.9zM214.8 95.3h.9v.9h-.9zM220.7 89.2h.9v.9h-.9zM199.0 88.7h.9v.9h-.9zM217.6 80.8h.9v.9h-.9zM192.5 93.1h.9v.9h-.9zM202.9 72.1h.9v.9h-.9zM232.2 83.1h.9v.9h-.9zM202.4 82.9h.9v.9h-.9zM204.6 78.1h.9v.9h-.9zM201.2 78.5h.9v.9h-.9zM206.7 77.2h.9v.9h-.9zM207.9 84.5h.9v.9h-.9zM220.3 92.2h.9v.9h-.9zM202.8 103.4h.9v.9h-.9zM206.8 99.0h.9v.9h-.9zM201.6 77.6h.9v.9h-.9zM209.9 80.5h.9v.9h-.9zM200.2 86.5h.9v.9h-.9zM198.5 63.6h.9v.9h-.9zM211.6 76.3h.9v.9h-.9zM215.0 86.4h.9v.9h-.9zM225.1 81.9h.9v.9h-.9zM203.6 85.1h.9v.9h-.9zM210.0 97.7h.9v.9h-.9zM210.8 72.4h.9v.9h-.9zM189.7 75.2h.9v.9h-.9zM204.0 86.3h.9v.9h-.9zM205.5 91.9h.9v.9h-.9zM211.0 81.2h.9v.9h-.9zM215.0 80.4h.9v.9h-.9zM206.3 94.7h.9v.9h-.9zM215.0 73.9h.9v.9h-.9zM209.5 84.7h.9v.9h-.9zM218.0 85.0h.9v.9h-.9zM224.0 82.5h.9v.9h-.9zM196.8 85.9h.9v.9h-.9zM222.9 73.9h.9v.9h-.9zM222.7 85.5h.9v.9h-.9zM213.2 92.8h.9v.9h-.9zM200.7 82.2h.9v.9h-.9zM215.2 82.2h.9v.9h-.9zM238.3 93.9h.9v.9h-.9zM197.1 88.1h.9v.9h-.9zM199.8 84.9h.9v.9h-.9zM212.7 83.3h.9v.9h-.9zM205.7 84.8h.9v.9h-.9zM214.8 82.7h.9v.9h-.9zM213.3 100.1h.9v.9h-.9zM215.5 90.8h.9v.9h-.9zM216.2 88.3h.9v.9h-.9zM223.2 95.7h.9v.9h-.9zM210.3 94.0h.9v.9h-.9zM210.3 83.4h.9v.9h-.9zM207.2 84.2h.9v.9h-.9zM212.3 82.5h.9v.9h-.9zM212.8 79.5h.9v.9h-.9zM203.7 72.9h.9v.9h-.9zM202.6 89.4h.9v.9h-.9zM194.7 86.5h.9v.9h-.9zM211.5 87.2h.9v.9h-.9zM208.8 83.3h.9v.9h-.9zM208.1 84.6h.9v.9h-.9zM212.8 94.1h.9v.9h-.9zM208.7 99.2h.9v.9h-.9zM176.2 87.7h.9v.9h-.9zM210.9 95.3h.9v.9h-.9zM207.8 68.5h.9v.9h-.9zM201.2 100.3h.9v.9h-.9zM207.8 91.7h.9v.9h-.9zM209.5 83.8h.9v.9h-.9zM192.8 92.5h.9v.9h-.9zM210.7 70.6h.9v.9h-.9zM212.2 86.1h.9v.9h-.9zM200.5 85.4h.9v.9h-.9zM197.6 76.4h.9v.9h-.9zM206.3 86.6h.9v.9h-.9zM198.1 93.0h.9v.9h-.9zM202.2 86.0h.9v.9h-.9zM202.4 76.6h.9v.9h-.9zM199.1 78.4h.9v.9h-.9zM207.8 102.6h.9v.9h-.9zM193.5 92.2h.9v.9h-.9zM210.7 95.2h.9v.9h-.9zM198.7 92.2h.9v.9h-.9zM205.8 86.5h.9v.9h-.9zM226.0 74.6h.9v.9h-.9zM208.4 77.3h.9v.9h-.9zM228.4 85.0h.9v.9h-.9zM217.2 82.3h.9v.9h-.9zM203.1 82.5h.9v.9h-.9zM206.2 90.1h.9v.9h-.9zM215.6 90.3h.9v.9h-.9zM216.2 90.9h.9v.9h-.9zM206.8 79.4h.9v.9h-.9zM228.8 71.9h.9v.9h-.9zM201.4 83.5h.9v.9h-.9zM197.6 88.7h.9v.9h-.9zM212.3 86.7h.9v.9h-.9zM220.9 93.7h.9v.9h-.9zM214.4 79.5h.9v.9h-.9zM205.4 89.0h.9v.9h-.9zM193.0 86.3h.9v.9h-.9zM206.2 104.2h.9v.9h-.9zM219.6 78.4h.9v.9h-.9zM207.0 87.5h.9v.9h-.9zM200.9 81.4h.9v.9h-.9zM201.6 76.9h.9v.9h-.9zM194.0 86.4h.9v.9h-.9zM213.2 86.1h.9v.9h-.9zM214.8 94.6h.9v.9h-.9zM202.3 107.0h.9v.9h-.9zM197.1 73.0h.9v.9h-.9zM213.5 83.4h.9v.9h-.9zM218.0 90.1h.9v.9h-.9zM205.5 92.7h.9v.9h-.9zM224.0 99.0h.9v.9h-.9zM214.8 96.2h.9v.9h-.9zM208.3 86.1h.9v.9h-.9zM216.5 83.7h.9v.9h-.9zM205.2 82.3h.9v.9h-.9zM207.5 103.7h.9v.9h-.9zM196.2 88.7h.9v.9h-.9zM201.0 82.6h.9v.9h-.9zM214.5 86.3h.9v.9h-.9zM221.3 95.4h.9v.9h-.9zM205.2 78.9h.9v.9h-.9zM201.4 82.1h.9v.9h-.9zM209.0 85.0h.9v.9h-.9zM215.9 93.3h.9v.9h-.9zM195.5 84.5h.9v.9h-.9zM205.9 76.7h.9v.9h-.9zM200.2 105.6h.9v.9h-.9zM216.2 91.0h.9v.9h-.9zM189.0 87.6h.9v.9h-.9zM234.0 96.2h.9v.9h-.9zM205.9 86.3h.9v.9h-.9zM205.0 95.5h.9v.9h-.9zM211.3 78.7h.9v.9h-.9zM204.1 81.1h.9v.9h-.9zM196.6 87.5h.9v.9h-.9zM211.3 87.8h.9v.9h-.9zM212.9 86.7h.9v.9h-.9zM183.8 96.6h.9v.9h-.9zM202.6 76.2h.9v.9h-.9zM196.0 74.4h.9v.9h-.9zM210.0 84.9h.9v.9h-.9zM207.7 81.7h.9v.9h-.9zM210.4 80.1h.9v.9h-.9zM197.4 74.7h.9v.9h-.9zM218.4 74.5h.9v.9h-.9zM219.4 77.4h.9v.9h-.9zM205.9 78.4h.9v.9h-.9zM208.7 94.7h.9v.9h-.9zM209.5 89.8h.9v.9h-.9zM201.6 83.7h.9v.9h-.9zM209.0 81.7h.9v.9h-.9zM211.5 84.4h.9v.9h-.9zM212.1 76.6h.9v.9h-.9zM198.0 72.5h.9v.9h-.9zM210.5 87.5h.9v.9h-.9zM212.9 84.0h.9v.9h-.9zM202.8 78.7h.9v.9h-.9zM210.0 89.3h.9v.9h-.9zM217.6 92.7h.9v.9h-.9zM207.8 84.9h.9v.9h-.9zM197.3 88.9h.9v.9h-.9zM203.7 89.1h.9v.9h-.9zM201.0 106.8h.9v.9h-.9zM190.7 73.4h.9v.9h-.9zM203.0 81.2h.9v.9h-.9zM200.3 85.1h.9v.9h-.9zM220.9 87.9h.9v.9h-.9zM215.8 70.2h.9v.9h-.9zM211.3 88.3h.9v.9h-.9zM197.5 85.2h.9v.9h-.9zM208.8 82.6h.9v.9h-.9zM208.5 67.2h.9v.9h-.9zM209.5 78.6h.9v.9h-.9zM200.9 79.7h.9v.9h-.9zM210.0 91.5h.9v.9h-.9zM198.2 79.5h.9v.9h-.9zM193.4 89.0h.9v.9h-.9zM222.2 86.2h.9v.9h-.9zM230.1 99.1h.9v.9h-.9zM217.0 85.5h.9v.9h-.9zM202.8 78.1h.9v.9h-.9zM216.4 90.6h.9v.9h-.9zM200.5 106.9h.9v.9h-.9zM193.5 101.4h.9v.9h-.9zM213.5 85.6h.9v.9h-.9zM198.0 79.8h.9v.9h-.9zM211.0 76.2h.9v.9h-.9zM224.3 89.5h.9v.9h-.9zM199.0 74.9h.9v.9h-.9zM230.8 98.7h.9v.9h-.9zM211.5 92.2h.9v.9h-.9zM196.4 87.9h.9v.9h-.9zM198.1 100.2h.9v.9h-.9zM194.3 95.5h.9v.9h-.9zM235.5 103.6h.9v.9h-.9zM201.9 77.9h.9v.9h-.9zM207.9 100.8h.9v.9h-.9zM226.8 79.4h.9v.9h-.9zM198.2 72.8h.9v.9h-.9zM216.0 80.7h.9v.9h-.9zM224.6 92.8h.9v.9h-.9zM205.2 84.9h.9v.9h-.9zM192.9 93.4h.9v.9h-.9zM198.5 76.5h.9v.9h-.9zM224.8 82.8h.9v.9h-.9zM214.2 78.2h.9v.9h-.9zM205.4 73.6h.9v.9h-.9zM211.5 80.8h.9v.9h-.9zM206.5 95.1h.9v.9h-.9zM203.0 73.1h.9v.9h-.9zM203.0 86.2h.9v.9h-.9zM222.4 83.5h.9v.9h-.9zM217.0 84.1h.9v.9h-.9zM205.0 79.1h.9v.9h-.9zM210.6 83.0h.9v.9h-.9zM208.8 87.0h.9v.9h-.9zM222.7 70.0h.9v.9h-.9zM173.2 75.7h.9v.9h-.9zM216.2 81.1h.9v.9h-.9zM209.2 69.4h.9v.9h-.9zM196.9 89.1h.9v.9h-.9zM196.6 81.6h.9v.9h-.9zM196.4 89.5h.9v.9h-.9zM200.3 91.7h.9v.9h-.9zM219.6 104.0h.9v.9h-.9zM195.8 93.0h.9v.9h-.9zM203.4 90.2h.9v.9h-.9zM221.2 80.6h.9v.9h-.9zM214.6 76.5h.9v.9h-.9zM208.9 89.6h.9v.9h-.9zM211.7 82.0h.9v.9h-.9zM213.3 77.2h.9v.9h-.9zM202.5 93.2h.9v.9h-.9zM222.4 70.4h.9v.9h-.9zM201.0 96.9h.9v.9h-.9zM200.3 95.6h.9v.9h-.9zM219.0 88.8h.9v.9h-.9zM196.8 96.4h.9v.9h-.9zM211.5 88.3h.9v.9h-.9zM194.3 92.1h.9v.9h-.9zM218.7 92.0h.9v.9h-.9zM197.0 96.4h.9v.9h-.9zM202.4 96.3h.9v.9h-.9zM196.6 92.0h.9v.9h-.9zM200.3 111.1h.9v.9h-.9zM196.0 81.2h.9v.9h-.9zM209.2 91.9h.9v.9h-.9zM190.5 104.4h.9v.9h-.9zM187.6 95.5h.9v.9h-.9zM200.9 103.5h.9v.9h-.9zM202.8 93.4h.9v.9h-.9zM208.8 89.8h.9v.9h-.9zM204.1 104.4h.9v.9h-.9zM186.4 99.2h.9v.9h-.9zM202.5 95.1h.9v.9h-.9zM226.7 93.1h.9v.9h-.9zM215.8 85.6h.9v.9h-.9zM195.4 102.0h.9v.9h-.9zM188.3 97.5h.9v.9h-.9zM211.9 95.2h.9v.9h-.9zM187.6 84.6h.9v.9h-.9zM206.8 94.4h.9v.9h-.9zM192.2 102.9h.9v.9h-.9zM198.6 107.9h.9v.9h-.9zM202.3 97.6h.9v.9h-.9zM191.4 100.9h.9v.9h-.9zM188.7 103.6h.9v.9h-.9zM196.2 97.5h.9v.9h-.9zM193.3 88.1h.9v.9h-.9zM194.0 105.8h.9v.9h-.9zM196.6 97.4h.9v.9h-.9zM196.0 99.8h.9v.9h-.9zM214.0 93.9h.9v.9h-.9zM198.5 98.7h.9v.9h-.9zM202.8 107.1h.9v.9h-.9zM205.8 95.6h.9v.9h-.9zM204.2 98.4h.9v.9h-.9zM201.8 94.8h.9v.9h-.9zM212.4 113.8h.9v.9h-.9zM184.4 81.9h.9v.9h-.9zM207.2 98.1h.9v.9h-.9zM198.6 83.6h.9v.9h-.9zM197.7 100.0h.9v.9h-.9zM200.6 92.1h.9v.9h-.9zM193.8 84.6h.9v.9h-.9zM196.4 95.3h.9v.9h-.9zM198.4 101.6h.9v.9h-.9zM181.7 103.6h.9v.9h-.9zM197.5 98.1h.9v.9h-.9zM210.6 96.5h.9v.9h-.9zM195.9 108.3h.9v.9h-.9zM186.3 107.7h.9v.9h-.9zM184.5 106.8h.9v.9h-.9zM196.1 92.5h.9v.9h-.9zM198.8 89.2h.9v.9h-.9zM183.4 96.2h.9v.9h-.9zM186.9 88.8h.9v.9h-.9zM206.1 97.0h.9v.9h-.9zM201.6 96.1h.9v.9h-.9zM189.5 109.5h.9v.9h-.9zM201.7 89.7h.9v.9h-.9zM194.1 99.9h.9v.9h-.9zM193.2 106.4h.9v.9h-.9zM201.3 94.1h.9v.9h-.9zM201.6 94.6h.9v.9h-.9zM195.6 88.3h.9v.9h-.9zM207.7 105.7h.9v.9h-.9zM203.7 99.4h.9v.9h-.9zM203.7 102.3h.9v.9h-.9zM194.1 91.8h.9v.9h-.9zM193.3 111.0h.9v.9h-.9zM176.5 92.8h.9v.9h-.9zM204.9 105.1h.9v.9h-.9zM197.3 97.9h.9v.9h-.9zM198.7 97.7h.9v.9h-.9zM195.4 95.7h.9v.9h-.9zM202.5 96.5h.9v.9h-.9zM201.2 95.6h.9v.9h-.9zM195.2 103.1h.9v.9h-.9zM201.9 81.3h.9v.9h-.9zM199.8 89.6h.9v.9h-.9zM213.5 109.3h.9v.9h-.9zM213.9 99.0h.9v.9h-.9zM204.2 97.4h.9v.9h-.9zM190.7 94.7h.9v.9h-.9zM195.9 113.0h.9v.9h-.9zM208.8 88.0h.9v.9h-.9zM193.0 104.5h.9v.9h-.9zM190.7 82.6h.9v.9h-.9zM199.8 93.4h.9v.9h-.9zM201.6 105.7h.9v.9h-.9zM182.3 107.2h.9v.9h-.9zM195.7 100.6h.9v.9h-.9zM215.5 91.4h.9v.9h-.9zM192.0 102.8h.9v.9h-.9zM189.3 103.0h.9v.9h-.9zM194.5 102.7h.9v.9h-.9zM193.6 97.7h.9v.9h-.9zM182.9 95.5h.9v.9h-.9zM206.7 104.9h.9v.9h-.9zM203.2 94.8h.9v.9h-.9zM193.2 96.1h.9v.9h-.9zM202.5 91.6h.9v.9h-.9zM198.4 87.6h.9v.9h-.9zM205.5 80.9h.9v.9h-.9zM196.2 104.2h.9v.9h-.9zM210.5 90.7h.9v.9h-.9zM192.0 91.9h.9v.9h-.9zM197.2 97.5h.9v.9h-.9zM176.0 106.0h.9v.9h-.9zM200.5 82.0h.9v.9h-.9zM198.7 75.6h.9v.9h-.9zM219.1 93.6h.9v.9h-.9zM205.3 99.3h.9v.9h-.9zM189.6 98.6h.9v.9h-.9zM201.1 99.5h.9v.9h-.9zM202.1 80.2h.9v.9h-.9zM209.4 101.1h.9v.9h-.9zM212.7 92.5h.9v.9h-.9zM194.8 89.6h.9v.9h-.9zM202.4 100.0h.9v.9h-.9zM198.4 94.4h.9v.9h-.9zM191.6 94.9h.9v.9h-.9zM199.2 95.9h.9v.9h-.9zM200.1 97.6h.9v.9h-.9zM206.4 91.0h.9v.9h-.9zM222.0 104.6h.9v.9h-.9zM206.1 100.9h.9v.9h-.9zM217.7 99.9h.9v.9h-.9zM196.5 106.7h.9v.9h-.9zM192.7 102.0h.9v.9h-.9zM201.3 86.3h.9v.9h-.9zM180.4 90.2h.9v.9h-.9zM188.0 97.7h.9v.9h-.9zM182.8 92.3h.9v.9h-.9zM187.8 95.7h.9v.9h-.9zM198.8 108.0h.9v.9h-.9zM184.6 95.1h.9v.9h-.9zM203.5 104.6h.9v.9h-.9zM204.1 94.7h.9v.9h-.9zM193.1 86.4h.9v.9h-.9zM191.2 84.6h.9v.9h-.9zM184.6 99.0h.9v.9h-.9zM202.7 92.1h.9v.9h-.9zM182.9 95.6h.9v.9h-.9zM196.9 105.4h.9v.9h-.9zM202.4 89.0h.9v.9h-.9zM195.3 87.4h.9v.9h-.9zM207.8 91.2h.9v.9h-.9zM196.9 101.8h.9v.9h-.9zM194.5 95.7h.9v.9h-.9zM210.9 111.0h.9v.9h-.9zM181.3 92.1h.9v.9h-.9zM205.2 86.4h.9v.9h-.9zM189.1 99.7h.9v.9h-.9zM194.0 100.3h.9v.9h-.9zM203.4 99.1h.9v.9h-.9zM205.0 92.0h.9v.9h-.9zM207.7 99.3h.9v.9h-.9zM204.9 95.3h.9v.9h-.9zM185.4 90.3h.9v.9h-.9zM215.3 100.4h.9v.9h-.9zM196.1 94.6h.9v.9h-.9zM205.5 89.9h.9v.9h-.9zM199.3 97.7h.9v.9h-.9zM185.3 103.6h.9v.9h-.9zM188.1 105.1h.9v.9h-.9zM194.4 85.6h.9v.9h-.9zM210.0 101.1h.9v.9h-.9zM182.4 105.2h.9v.9h-.9zM184.3 108.8h.9v.9h-.9zM190.0 99.0h.9v.9h-.9zM197.4 100.3h.9v.9h-.9zM203.4 85.3h.9v.9h-.9zM191.8 93.8h.9v.9h-.9zM195.9 86.7h.9v.9h-.9zM186.3 101.4h.9v.9h-.9zM195.6 99.1h.9v.9h-.9zM185.3 105.7h.9v.9h-.9zM182.4 88.3h.9v.9h-.9zM205.1 92.3h.9v.9h-.9zM194.3 99.1h.9v.9h-.9zM203.5 97.1h.9v.9h-.9zM215.4 91.8h.9v.9h-.9zM201.9 98.3h.9v.9h-.9zM191.7 97.2h.9v.9h-.9zM201.3 101.1h.9v.9h-.9zM217.2 110.4h.9v.9h-.9zM185.5 96.2h.9v.9h-.9zM199.3 102.3h.9v.9h-.9zM199.9 97.4h.9v.9h-.9zM193.8 97.5h.9v.9h-.9zM178.5 93.3h.9v.9h-.9zM180.3 80.7h.9v.9h-.9zM189.0 92.6h.9v.9h-.9zM201.2 99.3h.9v.9h-.9zM207.8 89.2h.9v.9h-.9zM200.4 88.8h.9v.9h-.9zM185.5 94.3h.9v.9h-.9zM207.4 101.8h.9v.9h-.9zM209.1 99.2h.9v.9h-.9zM185.7 89.5h.9v.9h-.9zM208.6 95.7h.9v.9h-.9zM218.3 96.7h.9v.9h-.9zM194.3 103.2h.9v.9h-.9zM198.1 98.8h.9v.9h-.9zM187.8 99.9h.9v.9h-.9zM178.7 101.0h.9v.9h-.9zM194.6 99.3h.9v.9h-.9zM198.3 102.0h.9v.9h-.9zM198.5 105.9h.9v.9h-.9zM189.1 100.5h.9v.9h-.9zM199.0 111.8h.9v.9h-.9zM190.7 101.9h.9v.9h-.9zM179.5 106.3h.9v.9h-.9zM190.8 89.0h.9v.9h-.9zM197.8 88.2h.9v.9h-.9zM186.1 102.3h.9v.9h-.9zM199.8 106.8h.9v.9h-.9zM187.5 101.2h.9v.9h-.9zM204.6 88.3h.9v.9h-.9zM209.1 92.2h.9v.9h-.9zM197.2 104.2h.9v.9h-.9zM206.8 98.5h.9v.9h-.9zM189.7 98.9h.9v.9h-.9zM207.7 95.1h.9v.9h-.9zM201.9 90.9h.9v.9h-.9zM201.2 86.5h.9v.9h-.9zM195.4 93.5h.9v.9h-.9zM197.8 101.2h.9v.9h-.9zM168.4 101.3h.9v.9h-.9zM178.2 99.4h.9v.9h-.9zM176.8 103.1h.9v.9h-.9zM163.9 108.1h.9v.9h-.9zM175.5 105.0h.9v.9h-.9zM176.8 96.5h.9v.9h-.9zM176.0 103.0h.9v.9h-.9zM167.1 95.7h.9v.9h-.9zM182.0 101.7h.9v.9h-.9zM177.9 102.5h.9v.9h-.9zM179.4 95.1h.9v.9h-.9zM174.1 90.2h.9v.9h-.9zM190.4 108.6h.9v.9h-.9zM185.9 94.0h.9v.9h-.9zM173.3 102.4h.9v.9h-.9zM164.5 102.8h.9v.9h-.9zM181.7 98.2h.9v.9h-.9zM178.4 93.7h.9v.9h-.9zM173.6 95.5h.9v.9h-.9zM182.8 97.4h.9v.9h-.9zM195.9 99.2h.9v.9h-.9zM171.5 97.7h.9v.9h-.9zM166.7 99.4h.9v.9h-.9zM174.5 112.4h.9v.9h-.9zM183.5 98.8h.9v.9h-.9zM186.8 105.2h.9v.9h-.9zM166.8 98.8h.9v.9h-.9zM182.2 101.9h.9v.9h-.9zM173.9 99.6h.9v.9h-.9zM167.4 106.0h.9v.9h-.9zM193.2 103.8h.9v.9h-.9zM194.4 101.6h.9v.9h-.9zM184.0 100.3h.9v.9h-.9zM170.6 94.0h.9v.9h-.9zM183.9 98.0h.9v.9h-.9zM172.6 98.9h.9v.9h-.9zM184.8 99.3h.9v.9h-.9zM178.4 96.2h.9v.9h-.9zM175.1 105.3h.9v.9h-.9zM188.8 104.4h.9v.9h-.9zM181.3 109.1h.9v.9h-.9zM183.3 100.2h.9v.9h-.9zM167.4 100.4h.9v.9h-.9zM177.7 100.1h.9v.9h-.9zM167.0 106.6h.9v.9h-.9zM185.2 99.2h.9v.9h-.9zM178.6 99.1h.9v.9h-.9zM166.3 97.6h.9v.9h-.9zM191.6 108.9h.9v.9h-.9zM192.8 98.7h.9v.9h-.9zM190.2 97.9h.9v.9h-.9zM184.3 96.6h.9v.9h-.9zM191.6 99.2h.9v.9h-.9zM174.1 100.1h.9v.9h-.9zM176.8 98.3h.9v.9h-.9zM201.8 91.2h.9v.9h-.9zM180.6 94.4h.9v.9h-.9zM180.9 101.1h.9v.9h-.9zM180.8 110.3h.9v.9h-.9zM182.2 98.6h.9v.9h-.9zM180.1 104.5h.9v.9h-.9zM181.3 94.2h.9v.9h-.9zM178.4 100.1h.9v.9h-.9zM190.8 91.9h.9v.9h-.9zM171.4 100.7h.9v.9h-.9zM170.9 95.8h.9v.9h-.9zM170.3 94.8h.9v.9h-.9zM170.6 94.0h.9v.9h-.9zM189.9 109.2h.9v.9h-.9zM190.1 107.2h.9v.9h-.9zM168.2 92.1h.9v.9h-.9zM179.2 101.2h.9v.9h-.9zM166.8 94.0h.9v.9h-.9zM193.7 101.8h.9v.9h-.9zM180.3 95.7h.9v.9h-.9zM180.5 109.7h.9v.9h-.9zM176.9 103.1h.9v.9h-.9zM179.7 95.4h.9v.9h-.9zM180.2 103.7h.9v.9h-.9zM192.5 96.2h.9v.9h-.9zM182.2 92.4h.9v.9h-.9zM177.1 97.8h.9v.9h-.9zM171.3 105.8h.9v.9h-.9zM183.5 105.1h.9v.9h-.9zM184.3 103.0h.9v.9h-.9zM163.5 97.8h.9v.9h-.9zM169.4 106.2h.9v.9h-.9zM188.9 99.5h.9v.9h-.9zM193.2 98.2h.9v.9h-.9zM180.3 104.9h.9v.9h-.9zM175.7 107.7h.9v.9h-.9zM164.6 104.7h.9v.9h-.9zM181.0 103.5h.9v.9h-.9zM178.8 90.0h.9v.9h-.9zM179.1 94.4h.9v.9h-.9zM178.6 104.3h.9v.9h-.9zM187.1 110.4h.9v.9h-.9zM183.7 104.3h.9v.9h-.9zM177.7 99.7h.9v.9h-.9zM170.8 105.2h.9v.9h-.9zM176.3 97.7h.9v.9h-.9zM170.6 102.9h.9v.9h-.9zM175.7 103.0h.9v.9h-.9zM176.1 102.1h.9v.9h-.9zM184.0 99.1h.9v.9h-.9zM177.7 106.4h.9v.9h-.9zM175.0 104.1h.9v.9h-.9zM185.5 95.1h.9v.9h-.9zM186.9 104.7h.9v.9h-.9zM170.6 94.8h.9v.9h-.9zM182.7 98.8h.9v.9h-.9zM182.3 103.0h.9v.9h-.9zM171.0 100.0h.9v.9h-.9zM170.2 95.3h.9v.9h-.9zM177.7 96.1h.9v.9h-.9zM177.2 100.1h.9v.9h-.9zM183.3 102.3h.9v.9h-.9zM189.0 95.5h.9v.9h-.9zM176.0 92.8h.9v.9h-.9zM182.2 97.6h.9v.9h-.9zM179.7 100.0h.9v.9h-.9zM175.1 104.9h.9v.9h-.9zM163.8 108.6h.9v.9h-.9zM180.3 101.3h.9v.9h-.9zM191.5 99.5h.9v.9h-.9zM170.8 100.2h.9v.9h-.9zM174.8 98.8h.9v.9h-.9zM170.5 93.1h.9v.9h-.9zM195.8 97.8h.9v.9h-.9zM191.2 105.7h.9v.9h-.9zM172.9 102.6h.9v.9h-.9zM181.8 97.9h.9v.9h-.9zM171.6 101.3h.9v.9h-.9zM170.9 101.2h.9v.9h-.9zM177.6 94.1h.9v.9h-.9zM172.4 98.6h.9v.9h-.9zM164.8 96.0h.9v.9h-.9zM178.9 96.0h.9v.9h-.9zM222.0 120.7h.9v.9h-.9zM208.5 113.1h.9v.9h-.9zM224.8 117.2h.9v.9h-.9zM230.8 115.5h.9v.9h-.9zM205.2 124.1h.9v.9h-.9zM220.8 119.3h.9v.9h-.9zM202.6 128.8h.9v.9h-.9zM202.0 127.3h.9v.9h-.9zM226.4 118.5h.9v.9h-.9zM223.9 110.4h.9v.9h-.9zM198.9 114.2h.9v.9h-.9zM219.7 119.0h.9v.9h-.9zM193.6 117.8h.9v.9h-.9zM211.2 114.0h.9v.9h-.9zM193.4 113.6h.9v.9h-.9zM223.2 112.1h.9v.9h-.9zM223.1 120.1h.9v.9h-.9zM189.7 114.5h.9v.9h-.9zM217.5 123.5h.9v.9h-.9zM228.2 110.6h.9v.9h-.9zM235.6 119.3h.9v.9h-.9zM181.2 116.0h.9v.9h-.9zM205.9 125.4h.9v.9h-.9zM219.3 127.7h.9v.9h-.9zM229.3 111.9h.9v.9h-.9zM208.8 131.1h.9v.9h-.9zM224.2 128.2h.9v.9h-.9zM219.3 111.8h.9v.9h-.9zM242.1 106.2h.9v.9h-.9zM184.4 128.1h.9v.9h-.9zM213.3 131.1h.9v.9h-.9zM190.8 116.5h.9v.9h-.9zM208.0 115.0h.9v.9h-.9zM213.3 111.7h.9v.9h-.9zM207.1 126.8h.9v.9h-.9zM217.0 123.4h.9v.9h-.9zM212.8 109.2h.9v.9h-.9zM224.4 116.8h.9v.9h-.9zM215.2 122.4h.9v.9h-.9zM231.1 123.6h.9v.9h-.9zM220.2 113.5h.9v.9h-.9zM215.2 113.8h.9v.9h-.9zM209.4 126.0h.9v.9h-.9zM218.2 122.9h.9v.9h-.9zM209.0 125.9h.9v.9h-.9zM222.3 123.6h.9v.9h-.9zM219.3 127.0h.9v.9h-.9zM215.9 118.0h.9v.9h-.9zM224.6 127.5h.9v.9h-.9zM213.8 115.4h.9v.9h-.9zM216.3 117.0h.9v.9h-.9zM239.4 126.9h.9v.9h-.9zM195.2 114.6h.9v.9h-.9zM190.1 109.2h.9v.9h-.9zM206.0 124.1h.9v.9h-.9zM243.2 111.4h.9v.9h-.9zM203.9 122.8h.9v.9h-.9zM216.1 119.1h.9v.9h-.9zM207.3 115.5h.9v.9h-.9zM219.8 122.9h.9v.9h-.9zM222.2 120.3h.9v.9h-.9zM199.6 115.9h.9v.9h-.9zM204.7 131.1h.9v.9h-.9zM200.2 130.5h.9v.9h-.9zM207.2 112.6h.9v.9h-.9zM219.5 125.1h.9v.9h-.9zM204.9 125.8h.9v.9h-.9zM205.9 112.2h.9v.9h-.9zM204.9 110.5h.9v.9h-.9zM200.8 111.1h.9v.9h-.9zM222.7 109.5h.9v.9h-.9zM206.5 130.5h.9v.9h-.9zM204.7 123.1h.9v.9h-.9zM207.5 123.8h.9v.9h-.9zM219.8 114.0h.9v.9h-.9zM212.7 120.5h.9v.9h-.9zM227.9 114.7h.9v.9h-.9zM225.3 100.9h.9v.9h-.9zM204.9 107.0h.9v.9h-.9zM210.1 113.7h.9v.9h-.9zM189.2 120.6h.9v.9h-.9zM196.0 119.5h.9v.9h-.9zM209.1 119.1h.9v.9h-.9zM208.7 114.8h.9v.9h-.9zM188.8 115.1h.9v.9h-.9zM223.4 125.9h.9v.9h-.9zM200.7 114.0h.9v.9h-.9zM215.3 107.5h.9v.9h-.9zM184.4 123.8h.9v.9h-.9zM211.3 109.9h.9v.9h-.9zM215.1 119.6h.9v.9h-.9zM199.6 107.9h.9v.9h-.9zM215.3 111.4h.9v.9h-.9zM194.7 116.8h.9v.9h-.9zM201.5 102.2h.9v.9h-.9zM203.4 103.3h.9v.9h-.9zM175.9 105.4h.9v.9h-.9zM221.4 119.7h.9v.9h-.9zM230.3 107.7h.9v.9h-.9zM205.1 121.1h.9v.9h-.9zM243.4 131.1h.9v.9h-.9zM208.8 123.7h.9v.9h-.9zM203.5 126.0h.9v.9h-.9zM244.6 116.1h.9v.9h-.9zM198.7 112.2h.9v.9h-.9zM208.1 111.3h.9v.9h-.9zM199.8 119.0h.9v.9h-.9zM224.2 115.0h.9v.9h-.9zM224.3 120.4h.9v.9h-.9zM221.7 110.3h.9v.9h-.9zM216.6 124.9h.9v.9h-.9zM222.4 110.3h.9v.9h-.9zM221.3 130.6h.9v.9h-.9zM215.1 106.6h.9v.9h-.9zM204.7 119.4h.9v.9h-.9zM215.2 110.2h.9v.9h-.9zM209.5 112.9h.9v.9h-.9zM204.9 125.6h.9v.9h-.9zM213.8 117.8h.9v.9h-.9zM215.2 124.9h.9v.9h-.9zM206.7 112.1h.9v.9h-.9zM217.3 117.1h.9v.9h-.9zM221.2 124.6h.9v.9h-.9zM234.5 114.9h.9v.9h-.9zM208.0 108.7h.9v.9h-.9zM192.6 121.1h.9v.9h-.9zM233.6 128.8h.9v.9h-.9zM206.5 115.0h.9v.9h-.9zM212.9 126.5h.9v.9h-.9zM228.2 123.2h.9v.9h-.9zM220.4 127.0h.9v.9h-.9zM192.5 117.0h.9v.9h-.9zM208.4 123.7h.9v.9h-.9zM224.4 128.7h.9v.9h-.9zM222.6 111.3h.9v.9h-.9zM196.4 122.2h.9v.9h-.9zM213.5 124.5h.9v.9h-.9zM193.1 120.5h.9v.9h-.9zM232.0 126.6h.9v.9h-.9zM232.3 121.9h.9v.9h-.9zM221.9 107.7h.9v.9h-.9zM193.5 118.7h.9v.9h-.9zM218.5 129.1h.9v.9h-.9zM203.2 118.7h.9v.9h-.9zM225.7 118.9h.9v.9h-.9zM216.0 130.8h.9v.9h-.9zM236.5 107.8h.9v.9h-.9zM225.1 128.7h.9v.9h-.9zM209.6 108.5h.9v.9h-.9zM206.2 117.6h.9v.9h-.9zM227.6 121.5h.9v.9h-.9zM223.0 128.8h.9v.9h-.9zM202.5 123.6h.9v.9h-.9zM229.7 109.5h.9v.9h-.9zM202.6 107.0h.9v.9h-.9zM192.5 130.3h.9v.9h-.9zM204.6 114.5h.9v.9h-.9zM202.0 108.1h.9v.9h-.9zM203.9 112.5h.9v.9h-.9zM211.4 109.0h.9v.9h-.9zM207.0 113.8h.9v.9h-.9zM198.6 129.8h.9v.9h-.9zM223.2 128.4h.9v.9h-.9zM215.1 113.2h.9v.9h-.9zM206.5 111.2h.9v.9h-.9zM226.3 127.1h.9v.9h-.9zM202.1 109.5h.9v.9h-.9zM215.0 126.6h.9v.9h-.9zM193.6 127.7h.9v.9h-.9zM227.8 118.7h.9v.9h-.9zM235.0 126.8h.9v.9h-.9zM219.3 115.3h.9v.9h-.9zM226.2 123.6h.9v.9h-.9zM192.1 113.6h.9v.9h-.9zM207.3 113.9h.9v.9h-.9zM221.4 128.6h.9v.9h-.9zM236.7 116.1h.9v.9h-.9zM202.6 107.4h.9v.9h-.9zM216.2 128.0h.9v.9h-.9zM220.6 116.6h.9v.9h-.9zM191.5 116.8h.9v.9h-.9zM203.7 126.8h.9v.9h-.9zM225.9 115.0h.9v.9h-.9zM219.0 106.6h.9v.9h-.9zM226.0 128.2h.9v.9h-.9zM233.6 128.7h.9v.9h-.9zM199.2 127.1h.9v.9h-.9zM218.5 106.5h.9v.9h-.9zM202.6 124.7h.9v.9h-.9zM209.2 112.6h.9v.9h-.9zM206.8 116.4h.9v.9h-.9zM227.8 117.1h.9v.9h-.9zM232.9 124.3h.9v.9h-.9zM213.3 130.9h.9v.9h-.9zM203.9 125.1h.9v.9h-.9zM212.6 114.5h.9v.9h-.9zM194.5 115.0h.9v.9h-.9zM237.1 109.6h.9v.9h-.9zM210.0 119.9h.9v.9h-.9zM209.5 108.2h.9v.9h-.9zM205.9 119.4h.9v.9h-.9zM223.0 121.7h.9v.9h-.9zM193.5 121.3h.9v.9h-.9zM201.1 129.8h.9v.9h-.9zM216.7 107.6h.9v.9h-.9zM202.2 127.9h.9v.9h-.9zM228.9 114.7h.9v.9h-.9zM220.0 110.5h.9v.9h-.9zM197.6 117.5h.9v.9h-.9zM199.7 117.8h.9v.9h-.9zM227.9 110.0h.9v.9h-.9zM197.7 124.5h.9v.9h-.9zM222.8 112.1h.9v.9h-.9zM226.2 130.1h.9v.9h-.9zM216.0 109.6h.9v.9h-.9zM221.5 120.6h.9v.9h-.9zM227.1 122.6h.9v.9h-.9zM225.1 123.1h.9v.9h-.9zM216.0 124.9h.9v.9h-.9zM192.7 125.5h.9v.9h-.9zM238.0 119.3h.9v.9h-.9zM226.2 117.7h.9v.9h-.9zM214.5 112.5h.9v.9h-.9zM202.3 123.5h.9v.9h-.9zM233.4 118.9h.9v.9h-.9zM225.1 111.2h.9v.9h-.9zM204.8 109.6h.9v.9h-.9zM232.2 107.8h.9v.9h-.9zM212.3 117.7h.9v.9h-.9zM233.4 109.3h.9v.9h-.9zM231.7 127.8h.9v.9h-.9zM198.7 130.2h.9v.9h-.9zM203.0 120.2h.9v.9h-.9zM228.2 125.6h.9v.9h-.9zM220.0 125.8h.9v.9h-.9zM195.6 128.9h.9v.9h-.9zM213.3 121.6h.9v.9h-.9zM221.2 129.2h.9v.9h-.9zM237.5 113.8h.9v.9h-.9zM197.8 128.9h.9v.9h-.9zM216.1 122.7h.9v.9h-.9zM203.8 108.7h.9v.9h-.9zM203.0 108.5h.9v.9h-.9zM234.7 125.0h.9v.9h-.9zM232.3 118.4h.9v.9h-.9zM220.9 109.0h.9v.9h-.9zM196.4 115.9h.9v.9h-.9zM194.7 112.6h.9v.9h-.9zM223.9 108.8h.9v.9h-.9zM223.3 123.8h.9v.9h-.9zM217.9 106.7h.9v.9h-.9zM212.5 124.4h.9v.9h-.9zM192.9 125.2h.9v.9h-.9zM204.5 107.3h.9v.9h-.9zM194.9 129.9h.9v.9h-.9zM216.1 115.2h.9v.9h-.9zM225.9 125.6h.9v.9h-.9zM214.8 127.6h.9v.9h-.9zM230.3 128.6h.9v.9h-.9zM218.9 110.3h.9v.9h-.9zM195.6 123.2h.9v.9h-.9zM224.6 127.3h.9v.9h-.9zM233.5 113.5h.9v.9h-.9zM197.9 113.4h.9v.9h-.9zM199.8 123.1h.9v.9h-.9zM232.2 130.4h.9v.9h-.9zM191.6 114.8h.9v.9h-.9zM198.6 107.6h.9v.9h-.9zM205.5 116.9h.9v.9h-.9zM191.4 115.4h.9v.9h-.9zM230.6 80.1h.9v.9h-.9zM192.6 83.2h.9v.9h-.9zM226.1 125.0h.9v.9h-.9zM164.5 85.1h.9v.9h-.9zM224.6 110.5h.9v.9h-.9zM199.0 114.0h.9v.9h-.9zM188.4 118.3h.9v.9h-.9zM201.5 113.7h.9v.9h-.9zM181.8 118.1h.9v.9h-.9zM205.2 92.5h.9v.9h-.9zM170.5 129.6h.9v.9h-.9zM188.9 87.1h.9v.9h-.9zM199.4 98.3h.9v.9h-.9zM232.8 83.1h.9v.9h-.9zM231.9 113.1h.9v.9h-.9zM193.4 104.0h.9v.9h-.9zM201.9 84.4h.9v.9h-.9zM179.1 102.2h.9v.9h-.9zM177.2 130.3h.9v.9h-.9zM242.8 93.9h.9v.9h-.9zM193.9 115.8h.9v.9h-.9zM216.2 81.7h.9v.9h-.9zM186.7 101.6h.9v.9h-.9zM166.9 80.0h.9v.9h-.9zM170.3 86.9h.9v.9h-.9zM208.7 90.9h.9v.9h-.9zM167.0 126.1h.9v.9h-.9zM211.9 81.5h.9v.9h-.9zM228.9 99.4h.9v.9h-.9zM177.4 98.6h.9v.9h-.9zM234.3 129.6h.9v.9h-.9zM182.2 130.8h.9v.9h-.9zM178.0 90.5h.9v.9h-.9zM201.8 122.7h.9v.9h-.9zM202.1 83.2h.9v.9h-.9zM195.7 125.2h.9v.9h-.9zM182.0 80.3h.9v.9h-.9zM198.2 95.7h.9v.9h-.9zM187.3 83.3h.9v.9h-.9zM194.4 115.0h.9v.9h-.9zM229.9 98.4h.9v.9h-.9zM192.8 100.2h.9v.9h-.9zM185.8 124.5h.9v.9h-.9zM201.2 85.6h.9v.9h-.9zM220.2 112.6h.9v.9h-.9zM229.2 89.9h.9v.9h-.9zM168.6 116.5h.9v.9h-.9zM225.3 85.9h.9v.9h-.9z" fill="#000" fill-opacity="0.3"/>
<path d="M177.6 121.8h.9v.9h-.9zM175.9 123.4h.9v.9h-.9zM162.6 119.1h.9v.9h-.9zM186.6 113.9h.9v.9h-.9zM187.3 118.0h.9v.9h-.9zM172.5 114.0h.9v.9h-.9zM175.7 118.8h.9v.9h-.9zM168.4 124.9h.9v.9h-.9zM169.5 114.0h.9v.9h-.9zM179.9 118.3h.9v.9h-.9zM185.8 121.4h.9v.9h-.9zM169.2 112.9h.9v.9h-.9zM174.8 122.1h.9v.9h-.9zM178.0 124.7h.9v.9h-.9zM187.7 118.3h.9v.9h-.9zM182.0 123.5h.9v.9h-.9zM184.6 121.1h.9v.9h-.9zM171.2 124.2h.9v.9h-.9zM177.6 114.5h.9v.9h-.9zM179.9 122.6h.9v.9h-.9zM188.8 117.5h.9v.9h-.9zM180.0 121.5h.9v.9h-.9zM183.7 125.3h.9v.9h-.9zM187.9 117.4h.9v.9h-.9zM183.9 124.6h.9v.9h-.9zM178.4 108.8h.9v.9h-.9zM170.5 111.6h.9v.9h-.9zM178.0 116.5h.9v.9h-.9zM181.7 130.6h.9v.9h-.9zM174.1 128.6h.9v.9h-.9zM180.0 115.9h.9v.9h-.9zM170.5 112.0h.9v.9h-.9zM180.2 112.4h.9v.9h-.9zM172.9 121.6h.9v.9h-.9zM178.6 121.5h.9v.9h-.9zM177.5 126.8h.9v.9h-.9zM177.6 124.9h.9v.9h-.9zM189.9 119.7h.9v.9h-.9zM182.4 122.9h.9v.9h-.9zM177.8 119.7h.9v.9h-.9zM182.3 123.9h.9v.9h-.9zM190.7 124.4h.9v.9h-.9zM177.9 127.4h.9v.9h-.9zM179.7 122.7h.9v.9h-.9zM183.0 110.3h.9v.9h-.9zM176.0 119.5h.9v.9h-.9zM178.5 123.2h.9v.9h-.9zM180.6 131.1h.9v.9h-.9zM178.9 111.4h.9v.9h-.9zM179.1 114.1h.9v.9h-.9zM180.4 117.2h.9v.9h-.9zM170.4 114.7h.9v.9h-.9zM175.4 124.7h.9v.9h-.9zM178.1 119.5h.9v.9h-.9zM179.2 112.8h.9v.9h-.9zM174.1 120.9h.9v.9h-.9zM168.8 118.6h.9v.9h-.9zM174.2 121.8h.9v.9h-.9zM178.9 120.2h.9v.9h-.9zM182.7 116.8h.9v.9h-.9zM177.9 124.4h.9v.9h-.9zM189.0 117.2h.9v.9h-.9zM170.1 115.7h.9v.9h-.9zM184.7 116.4h.9v.9h-.9zM182.8 130.7h.9v.9h-.9zM184.1 114.4h.9v.9h-.9zM173.5 131.2h.9v.9h-.9zM172.4 121.5h.9v.9h-.9zM178.2 131.1h.9v.9h-.9zM180.7 129.3h.9v.9h-.9zM180.9 121.8h.9v.9h-.9zM191.0 122.6h.9v.9h-.9zM178.3 117.1h.9v.9h-.9zM169.7 112.4h.9v.9h-.9zM186.4 126.8h.9v.9h-.9zM183.5 108.9h.9v.9h-.9zM180.2 126.4h.9v.9h-.9zM175.2 123.7h.9v.9h-.9zM172.7 120.4h.9v.9h-.9zM183.6 111.9h.9v.9h-.9zM172.4 118.1h.9v.9h-.9zM188.0 120.3h.9v.9h-.9zM177.3 125.3h.9v.9h-.9zM172.7 116.3h.9v.9h-.9zM183.4 122.2h.9v.9h-.9zM182.8 129.9h.9v.9h-.9zM178.1 120.9h.9v.9h-.9zM182.4 121.3h.9v.9h-.9zM188.1 112.0h.9v.9h-.9zM175.8 113.1h.9v.9h-.9zM176.5 122.9h.9v.9h-.9zM168.4 118.6h.9v.9h-.9zM178.5 128.8h.9v.9h-.9zM173.5 122.1h.9v.9h-.9zM183.1 126.6h.9v.9h-.9zM176.8 119.1h.9v.9h-.9zM176.3 122.5h.9v.9h-.9zM168.0 121.3h.9v.9h-.9zM170.8 122.1h.9v.9h-.9zM176.0 111.7h.9v.9h-.9zM175.8 129.7h.9v.9h-.9zM176.3 111.6h.9v.9h-.9zM180.6 126.9h.9v.9h-.9zM170.0 123.6h.9v.9h-.9zM178.8 125.1h.9v.9h-.9zM170.7 115.2h.9v.9h-.9zM186.1 119.3h.9v.9h-.9zM166.4 122.8h.9v.9h-.9zM171.8 123.9h.9v.9h-.9zM181.3 120.9h.9v.9h-.9zM179.7 116.4h.9v.9h-.9zM169.3 121.0h.9v.9h-.9zM174.4 120.1h.9v.9h-.9zM168.8 126.8h.9v.9h-.9zM176.4 118.3h.9v.9h-.9zM185.1 121.4h.9v.9h-.9zM189.2 122.3h.9v.9h-.9zM173.8 123.9h.9v.9h-.9zM176.3 131.1h.9v.9h-.9zM187.0 118.5h.9v.9h-.9zM176.1 124.5h.9v.9h-.9zM178.2 124.4h.9v.9h-.9zM180.4 117.1h.9v.9h-.9zM183.9 115.0h.9v.9h-.9zM174.2 113.9h.9v.9h-.9zM177.8 121.4h.9v.9h-.9zM170.5 125.5h.9v.9h-.9zM171.2 117.1h.9v.9h-.9zM171.8 122.0h.9v.9h-.9zM179.4 121.4h.9v.9h-.9zM170.5 127.7h.9v.9h-.9zM174.2 124.3h.9v.9h-.9zM171.2 124.3h.9v.9h-.9zM169.5 127.7h.9v.9h-.9zM176.4 123.7h.9v.9h-.9zM162.6 115.1h.9v.9h-.9zM169.1 125.8h.9v.9h-.9zM182.2 124.5h.9v.9h-.9zM186.6 118.5h.9v.9h-.9zM166.2 121.9h.9v.9h-.9zM163.9 128.7h.9v.9h-.9zM187.7 124.9h.9v.9h-.9zM180.2 131.1h.9v.9h-.9zM177.4 128.6h.9v.9h-.9zM175.2 115.9h.9v.9h-.9zM169.2 118.6h.9v.9h-.9zM174.8 116.8h.9v.9h-.9zM186.1 118.1h.9v.9h-.9zM179.5 120.7h.9v.9h-.9zM185.8 115.4h.9v.9h-.9zM175.2 120.0h.9v.9h-.9zM181.4 130.2h.9v.9h-.9zM171.2 122.4h.9v.9h-.9zM176.8 121.0h.9v.9h-.9zM175.7 107.8h.9v.9h-.9zM179.1 125.2h.9v.9h-.9zM177.3 127.9h.9v.9h-.9zM181.5 111.9h.9v.9h-.9zM183.9 123.9h.9v.9h-.9zM187.0 123.7h.9v.9h-.9zM178.1 126.9h.9v.9h-.9zM175.9 120.1h.9v.9h-.9zM193.6 96.5h.9v.9h-.9zM185.4 118.4h.9v.9h-.9zM167.6 110.2h.9v.9h-.9zM173.2 99.3h.9v.9h-.9zM170.4 112.2h.9v.9h-.9zM187.0 104.3h.9v.9h-.9zM184.3 126.0h.9v.9h-.9zM190.6 110.2h.9v.9h-.9zM183.5 112.2h.9v.9h-.9zM176.2 106.2h.9v.9h-.9zM182.1 119.9h.9v.9h-.9zM171.4 117.3h.9v.9h-.9zM191.5 109.5h.9v.9h-.9zM174.9 131.1h.9v.9h-.9zM186.6 123.8h.9v.9h-.9zM165.6 120.9h.9v.9h-.9zM190.3 123.1h.9v.9h-.9zM171.9 118.5h.9v.9h-.9zM164.2 124.9h.9v.9h-.9zM191.1 127.6h.9v.9h-.9zM171.8 120.5h.9v.9h-.9zM190.4 116.8h.9v.9h-.9zM178.9 120.1h.9v.9h-.9zM184.8 109.8h.9v.9h-.9zM162.7 129.5h.9v.9h-.9zM173.9 110.6h.9v.9h-.9zM183.1 118.9h.9v.9h-.9zM165.5 111.7h.9v.9h-.9zM180.6 111.7h.9v.9h-.9zM182.8 107.7h.9v.9h-.9zM186.8 103.7h.9v.9h-.9zM193.1 131.1h.9v.9h-.9zM163.9 106.5h.9v.9h-.9zM183.9 110.1h.9v.9h-.9zM182.1 121.8h.9v.9h-.9zM167.3 117.1h.9v.9h-.9zM175.9 120.1h.9v.9h-.9zM168.5 115.9h.9v.9h-.9zM187.6 119.0h.9v.9h-.9zM181.6 120.4h.9v.9h-.9zM169.6 120.0h.9v.9h-.9zM185.5 116.5h.9v.9h-.9zM188.2 119.5h.9v.9h-.9zM190.7 119.6h.9v.9h-.9zM177.2 121.4h.9v.9h-.9zM190.3 126.3h.9v.9h-.9zM182.3 120.8h.9v.9h-.9zM162.6 129.7h.9v.9h-.9zM169.7 111.9h.9v.9h-.9zM182.5 107.0h.9v.9h-.9zM172.8 114.3h.9v.9h-.9zM179.1 107.4h.9v.9h-.9zM177.5 127.9h.9v.9h-.9zM176.3 126.8h.9v.9h-.9zM167.4 119.4h.9v.9h-.9zM177.9 115.4h.9v.9h-.9zM219.1 88.2h.9v.9h-.9zM206.2 77.4h.9v.9h-.9zM209.5 89.3h.9v.9h-.9zM224.9 87.9h.9v.9h-.9zM213.7 79.0h.9v.9h-.9zM211.4 86.3h.9v.9h-.9zM211.0 78.9h.9v.9h-.9zM221.4 85.8h.9v.9h-.9zM203.2 82.1h.9v.9h-.9zM213.8 87.9h.9v.9h-.9zM216.2 93.6h.9v.9h-.9zM213.3 78.7h.9v.9h-.9zM209.3 83.0h.9v.9h-.9zM210.8 76.0h.9v.9h-.9zM220.3 83.3h.9v.9h-.9zM216.7 83.2h.9v.9h-.9zM213.3 76.9h.9v.9h-.9zM213.6 77.9h.9v.9h-.9zM221.9 84.7h.9v.9h-.9zM216.6 84.3h.9v.9h-.9zM219.1 88.3h.9v.9h-.9zM214.4 92.0h.9v.9h-.9zM216.9 80.1h.9v.9h-.9zM206.1 83.6h.9v.9h-.9zM218.8 83.0h.9v.9h-.9zM211.7 85.1h.9v.9h-.9zM218.2 77.9h.9v.9h-.9zM215.8 83.2h.9v.9h-.9zM219.1 86.5h.9v.9h-.9zM209.5 80.5h.9v.9h-.9zM212.1 88.9h.9v.9h-.9zM214.2 80.7h.9v.9h-.9zM220.8 74.5h.9v.9h-.9zM200.5 79.0h.9v.9h-.9zM214.1 81.2h.9v.9h-.9zM213.7 81.3h.9v.9h-.9zM214.9 73.0h.9v.9h-.9zM216.0 75.6h.9v.9h-.9zM216.9 84.7h.9v.9h-.9zM212.8 81.8h.9v.9h-.9zM205.1 79.3h.9v.9h-.9zM212.2 70.4h.9v.9h-.9zM208.1 89.9h.9v.9h-.9zM222.3 79.3h.9v.9h-.9zM215.2 80.4h.9v.9h-.9zM211.7 82.0h.9v.9h-.9zM220.4 79.2h.9v.9h-.9zM217.3 88.3h.9v.9h-.9zM220.0 70.5h.9v.9h-.9zM208.0 84.8h.9v.9h-.9zM213.0 85.6h.9v.9h-.9zM211.8 78.2h.9v.9h-.9zM213.9 84.2h.9v.9h-.9zM220.0 79.9h.9v.9h-.9zM211.3 75.3h.9v.9h-.9zM215.4 79.5h.9v.9h-.9zM204.6 84.8h.9v.9h-.9zM208.2 74.4h.9v.9h-.9zM206.9 81.8h.9v.9h-.9zM214.5 83.9h.9v.9h-.9zM214.9 87.6h.9v.9h-.9zM212.7 79.6h.9v.9h-.9zM214.5 75.8h.9v.9h-.9zM210.5 85.1h.9v.9h-.9zM212.1 76.9h.9v.9h-.9zM219.1 79.0h.9v.9h-.9zM199.5 90.0h.9v.9h-.9zM213.9 77.1h.9v.9h-.9zM219.4 74.3h.9v.9h-.9zM217.6 91.1h.9v.9h-.9zM218.1 90.9h.9v.9h-.9zM212.6 69.5h.9v.9h-.9zM215.1 75.9h.9v.9h-.9zM210.2 82.8h.9v.9h-.9zM213.9 85.4h.9v.9h-.9zM217.6 81.6h.9v.9h-.9zM218.2 85.2h.9v.9h-.9zM216.4 86.4h.9v.9h-.9zM214.7 87.7h.9v.9h-.9zM224.6 86.3h.9v.9h-.9zM217.7 84.9h.9v.9h-.9zM215.4 79.6h.9v.9h-.9zM208.6 82.1h.9v.9h-.9zM205.8 78.8h.9v.9h-.9zM213.7 86.6h.9v.9h-.9zM214.0 91.7h.9v.9h-.9zM210.4 85.9h.9v.9h-.9zM212.3 81.2h.9v.9h-.9zM208.7 74.4h.9v.9h-.9zM211.2 79.8h.9v.9h-.9zM218.2 79.2h.9v.9h-.9zM204.7 81.3h.9v.9h-.9zM219.1 76.9h.9v.9h-.9zM207.0 86.1h.9v.9h-.9zM211.0 88.7h.9v.9h-.9zM213.3 76.8h.9v.9h-.9zM223.9 80.5h.9v.9h-.9zM212.6 80.3h.9v.9h-.9zM208.0 92.7h.9v.9h-.9zM201.5 91.5h.9v.9h-.9zM190.8 96.4h.9v.9h-.9zM223.3 78.0h.9v.9h-.9zM211.5 100.6h.9v.9h-.9zM204.4 85.9h.9v.9h-.9zM213.5 77.0h.9v.9h-.9zM206.9 83.8h.9v.9h-.9zM194.1 95.4h.9v.9h-.9zM201.1 86.7h.9v.9h-.9zM210.9 110.5h.9v.9h-.9zM213.3 87.1h.9v.9h-.9zM231.9 98.8h.9v.9h-.9zM199.1 86.3h.9v.9h-.9zM225.8 86.2h.9v.9h-.9zM212.3 79.7h.9v.9h-.9zM198.9 84.0h.9v.9h-.9zM216.7 92.2h.9v.9h-.9zM220.0 93.2h.9v.9h-.9zM242.2 87.5h.9v.9h-.9zM209.4 88.5h.9v.9h-.9zM217.4 85.4h.9v.9h-.9zM216.1 95.1h.9v.9h-.9zM205.1 97.4h.9v.9h-.9zM200.2 73.0h.9v.9h-.9zM210.3 92.4h.9v.9h-.9zM199.7 96.3h.9v.9h-.9zM204.0 92.1h.9v.9h-.9zM195.6 99.7h.9v.9h-.9zM198.5 77.9h.9v.9h-.9zM205.6 85.3h.9v.9h-.9zM186.3 81.9h.9v.9h-.9zM217.4 83.7h.9v.9h-.9zM208.6 83.0h.9v.9h-.9zM197.6 84.1h.9v.9h-.9zM216.3 107.7h.9v.9h-.9zM206.2 83.7h.9v.9h-.9zM208.3 98.1h.9v.9h-.9zM193.7 81.8h.9v.9h-.9zM210.5 92.3h.9v.9h-.9zM199.0 100.9h.9v.9h-.9zM211.3 77.8h.9v.9h-.9zM200.5 78.3h.9v.9h-.9zM212.8 101.6h.9v.9h-.9zM187.4 95.0h.9v.9h-.9zM197.6 90.7h.9v.9h-.9zM229.5 96.0h.9v.9h-.9zM213.4 83.8h.9v.9h-.9zM225.1 104.5h.9v.9h-.9zM195.6 88.2h.9v.9h-.9zM193.3 91.5h.9v.9h-.9zM212.7 90.7h.9v.9h-.9zM222.1 75.3h.9v.9h-.9zM203.7 80.1h.9v.9h-.9zM189.4 99.3h.9v.9h-.9zM206.9 86.1h.9v.9h-.9zM214.8 75.3h.9v.9h-.9zM210.3 91.3h.9v.9h-.9zM206.1 82.7h.9v.9h-.9zM199.1 79.3h.9v.9h-.9zM194.4 63.6h.9v.9h-.9zM204.5 87.0h.9v.9h-.9zM206.5 101.7h.9v.9h-.9zM203.0 70.0h.9v.9h-.9zM210.4 95.2h.9v.9h-.9zM228.2 86.8h.9v.9h-.9zM204.9 85.9h.9v.9h-.9zM215.4 84.2h.9v.9h-.9zM199.0 90.8h.9v.9h-.9zM194.1 81.7h.9v.9h-.9zM212.8 71.2h.9v.9h-.9zM212.2 94.9h.9v.9h-.9zM224.0 80.2h.9v.9h-.9zM220.8 92.0h.9v.9h-.9zM199.2 91.3h.9v.9h-.9zM202.3 99.0h.9v.9h-.9zM217.2 75.8h.9v.9h-.9zM204.8 92.3h.9v.9h-.9zM198.4 80.0h.9v.9h-.9zM217.7 95.9h.9v.9h-.9zM205.3 91.9h.9v.9h-.9zM195.5 95.9h.9v.9h-.9zM196.4 99.6h.9v.9h-.9zM212.9 80.4h.9v.9h-.9zM202.5 85.1h.9v.9h-.9zM216.5 90.0h.9v.9h-.9zM227.9 81.1h.9v.9h-.9zM200.3 82.3h.9v.9h-.9zM199.8 102.3h.9v.9h-.9zM207.2 92.1h.9v.9h-.9zM181.7 90.4h.9v.9h-.9zM210.4 93.5h.9v.9h-.9zM182.0 85.4h.9v.9h-.9zM198.6 102.2h.9v.9h-.9zM200.6 115.4h.9v.9h-.9zM193.8 99.2h.9v.9h-.9zM211.5 109.7h.9v.9h-.9zM199.2 85.8h.9v.9h-.9zM205.1 87.5h.9v.9h-.9zM198.2 110.3h.9v.9h-.9zM195.7 88.9h.9v.9h-.9zM190.3 93.6h.9v.9h-.9zM185.5 89.5h.9v.9h-.9zM192.6 104.6h.9v.9h-.9zM197.7 97.8h.9v.9h-.9zM197.5 86.6h.9v.9h-.9zM187.6 96.8h.9v.9h-.9zM210.5 93.3h.9v.9h-.9zM189.8 104.5h.9v.9h-.9zM189.9 94.3h.9v.9h-.9zM193.5 94.2h.9v.9h-.9zM200.5 101.0h.9v.9h-.9zM190.3 94.0h.9v.9h-.9zM194.7 96.7h.9v.9h-.9zM211.5 90.6h.9v.9h-.9zM196.1 98.6h.9v.9h-.9zM194.0 95.7h.9v.9h-.9zM204.8 105.3h.9v.9h-.9zM186.3 89.1h.9v.9h-.9zM194.7 102.2h.9v.9h-.9zM200.1 96.0h.9v.9h-.9zM210.9 109.4h.9v.9h-.9zM209.5 91.7h.9v.9h-.9zM207.8 92.4h.9v.9h-.9zM217.1 93.1h.9v.9h-.9zM206.2 94.9h.9v.9h-.9zM193.6 93.7h.9v.9h-.9zM203.6 95.1h.9v.9h-.9zM185.9 91.4h.9v.9h-.9zM203.1 89.2h.9v.9h-.9zM188.9 105.7h.9v.9h-.9zM201.5 96.6h.9v.9h-.9zM201.1 108.2h.9v.9h-.9zM185.3 93.6h.9v.9h-.9zM190.1 81.8h.9v.9h-.9zM206.9 90.7h.9v.9h-.9zM196.8 102.5h.9v.9h-.9zM203.0 88.9h.9v.9h-.9zM194.4 87.1h.9v.9h-.9zM208.7 99.4h.9v.9h-.9zM194.2 109.0h.9v.9h-.9zM173.5 92.5h.9v.9h-.9zM177.1 97.2h.9v.9h-.9zM165.3 100.4h.9v.9h-.9zM186.1 103.5h.9v.9h-.9zM175.7 98.3h.9v.9h-.9zM181.1 100.3h.9v.9h-.9zM188.0 101.7h.9v.9h-.9zM172.7 99.3h.9v.9h-.9zM173.7 97.6h.9v.9h-.9zM175.0 93.6h.9v.9h-.9zM163.4 99.5h.9v.9h-.9zM186.4 98.4h.9v.9h-.9zM200.6 97.1h.9v.9h-.9zM176.6 97.5h.9v.9h-.9zM167.5 92.8h.9v.9h-.9zM194.0 109.3h.9v.9h-.9zM174.4 106.7h.9v.9h-.9zM190.2 104.8h.9v.9h-.9zM180.4 93.8h.9v.9h-.9zM179.5 105.1h.9v.9h-.9zM177.0 93.9h.9v.9h-.9zM185.1 103.9h.9v.9h-.9zM168.8 101.1h.9v.9h-.9zM178.6 96.8h.9v.9h-.9zM171.5 106.2h.9v.9h-.9zM178.8 98.9h.9v.9h-.9zM185.2 105.7h.9v.9h-.9zM164.6 98.6h.9v.9h-.9zM173.3 102.7h.9v.9h-.9zM185.9 100.1h.9v.9h-.9zM170.6 89.9h.9v.9h-.9zM168.2 96.8h.9v.9h-.9zM178.7 100.4h.9v.9h-.9zM192.7 97.8h.9v.9h-.9zM178.7 97.3h.9v.9h-.9zM186.9 102.3h.9v.9h-.9zM167.5 95.6h.9v.9h-.9zM176.9 97.4h.9v.9h-.9zM177.8 106.2h.9v.9h-.9zM173.3 97.0h.9v.9h-.9zM209.8 115.5h.9v.9h-.9zM214.8 112.7h.9v.9h-.9zM228.2 117.4h.9v.9h-.9zM210.7 121.0h.9v.9h-.9zM195.9 115.5h.9v.9h-.9zM210.5 118.7h.9v.9h-.9zM208.4 115.3h.9v.9h-.9zM218.6 122.8h.9v.9h-.9zM220.6 116.1h.9v.9h-.9zM191.9 109.6h.9v.9h-.9zM217.3 111.4h.9v.9h-.9zM220.2 112.6h.9v.9h-.9zM237.2 117.3h.9v.9h-.9zM199.2 117.6h.9v.9h-.9zM218.8 110.9h.9v.9h-.9zM230.4 124.9h.9v.9h-.9zM216.4 106.4h.9v.9h-.9zM237.9 119.4h.9v.9h-.9zM213.9 113.1h.9v.9h-.9zM226.4 123.1h.9v.9h-.9zM232.6 127.2h.9v.9h-.9zM204.8 120.5h.9v.9h-.9zM213.7 116.8h.9v.9h-.9zM207.2 119.1h.9v.9h-.9zM231.9 121.8h.9v.9h-.9zM221.8 112.7h.9v.9h-.9zM217.5 124.4h.9v.9h-.9zM202.6 108.4h.9v.9h-.9zM219.2 127.7h.9v.9h-.9zM216.1 127.6h.9v.9h-.9zM195.3 116.6h.9v.9h-.9zM197.3 126.7h.9v.9h-.9zM192.9 124.5h.9v.9h-.9zM218.9 121.9h.9v.9h-.9zM225.3 121.9h.9v.9h-.9zM227.4 109.0h.9v.9h-.9zM225.7 111.7h.9v.9h-.9zM204.5 107.6h.9v.9h-.9zM227.5 121.8h.9v.9h-.9zM175.4 128.7h.9v.9h-.9zM207.0 105.8h.9v.9h-.9zM180.7 99.5h.9v.9h-.9zM241.8 97.1h.9v.9h-.9zM186.1 106.2h.9v.9h-.9zM224.7 105.5h.9v.9h-.9zM201.5 92.1h.9v.9h-.9zM213.0 119.4h.9v.9h-.9zM220.2 112.0h.9v.9h-.9zM217.4 117.0h.9v.9h-.9z" fill="#000" fill-opacity="0.55"/>
<rect x="162.00" y="48.50" width="84.00" height="84.00" fill="none" stroke="#707070" stroke-width="1.0"/>
<line x1="191.50" y1="48.50" x2="191.50" y2="132.50" stroke="#666" stroke-width="1.0"/>
<line x1="162.00" y1="105.60" x2="246.00" y2="105.60" stroke="#666" stroke-width="1.0"/>
<path d="M160.70 132.50h2.6 M160.70 117.82h2.6 M160.70 111.50h2.6 M160.70 96.82h2.6 M160.70 90.50h2.6 M160.70 75.82h2.6 M160.70 69.50h2.6 M160.70 54.82h2.6 M160.70 48.50h2.6" stroke="#777" stroke-width="0.9" fill="none"/>
<path d="M162.00 131.20v2.6 M176.68 131.20v2.6 M183.00 131.20v2.6 M197.68 131.20v2.6 M204.00 131.20v2.6 M218.68 131.20v2.6 M225.00 131.20v2.6 M239.68 131.20v2.6 M246.00 131.20v2.6" stroke="#777" stroke-width="0.9" fill="none"/>
<text x="154.00" y="134.60" font-size="5.9" font-weight="bold" text-anchor="middle" fill="#444">10<tspan font-size="4.43" dy="-2.95">0</tspan></text>
<text x="162.00" y="141.70" font-size="5.9" font-weight="bold" text-anchor="middle" fill="#444">10<tspan font-size="4.43" dy="-2.95">0</tspan></text>
<text x="154.00" y="113.60" font-size="5.9" font-weight="bold" text-anchor="middle" fill="#444">10<tspan font-size="4.43" dy="-2.95">1</tspan></text>
<text x="183.00" y="141.70" font-size="5.9" font-weight="bold" text-anchor="middle" fill="#444">10<tspan font-size="4.43" dy="-2.95">1</tspan></text>
<text x="154.00" y="92.60" font-size="5.9" font-weight="bold" text-anchor="middle" fill="#444">10<tspan font-size="4.43" dy="-2.95">2</tspan></text>
<text x="204.00" y="141.70" font-size="5.9" font-weight="bold" text-anchor="middle" fill="#444">10<tspan font-size="4.43" dy="-2.95">2</tspan></text>
<text x="154.00" y="71.60" font-size="5.9" font-weight="bold" text-anchor="middle" fill="#444">10<tspan font-size="4.43" dy="-2.95">3</tspan></text>
<text x="225.00" y="141.70" font-size="5.9" font-weight="bold" text-anchor="middle" fill="#444">10<tspan font-size="4.43" dy="-2.95">3</tspan></text>
<text x="154.00" y="50.60" font-size="5.9" font-weight="bold" text-anchor="middle" fill="#444">10<tspan font-size="4.43" dy="-2.95">4</tspan></text>
<text x="246.00" y="141.70" font-size="5.9" font-weight="bold" text-anchor="middle" fill="#444">10<tspan font-size="4.43" dy="-2.95">4</tspan></text>
<line x1="34.60" y1="114.00" x2="34.60" y2="151.20" stroke="#000" stroke-width="1.3"/>
<path d="M34.60 111 L32.70 115.5 L36.50 115.5Z" fill="#000"/>
<line x1="34.00" y1="150.60" x2="71.00" y2="150.60" stroke="#000" stroke-width="1.3"/>
<path d="M74 150.6 L69.5 148.7 L69.5 152.5Z" fill="#000"/>
<text x="31.90" y="135.00" font-size="10.5" font-weight="bold" text-anchor="middle" fill="#000" transform="rotate(-90 31.90 135.00)">CD69</text>
<text x="37.30" y="160.90" font-size="10.5" font-weight="bold" text-anchor="start" fill="#000">CD25</text>
<line x1="74.70" y1="172.30" x2="74.70" y2="277.05" stroke="#000" stroke-width="1.5"/>
<line x1="73.95" y1="276.30" x2="205.00" y2="276.30" stroke="#000" stroke-width="1.5"/>
<line x1="71.50" y1="276.30" x2="74.70" y2="276.30" stroke="#000" stroke-width="1.5"/>
<text x="65.70" y="280.70" font-size="10.5" font-weight="bold" text-anchor="end" fill="#000">0</text>
<line x1="71.50" y1="243.50" x2="74.70" y2="243.50" stroke="#000" stroke-width="1.5"/>
<text x="65.70" y="247.90" font-size="10.5" font-weight="bold" text-anchor="end" fill="#000">10</text>
<line x1="71.50" y1="210.70" x2="74.70" y2="210.70" stroke="#000" stroke-width="1.5"/>
<text x="65.70" y="215.10" font-size="10.5" font-weight="bold" text-anchor="end" fill="#000">20</text>
<line x1="71.50" y1="177.90" x2="74.70" y2="177.90" stroke="#000" stroke-width="1.5"/>
<text x="65.70" y="182.30" font-size="10.5" font-weight="bold" text-anchor="end" fill="#000">30</text>
<line x1="74.70" y1="276.30" x2="74.70" y2="279.50" stroke="#000" stroke-width="1.5"/>
<text x="74.70" y="296.60" font-size="10.5" font-weight="bold" text-anchor="middle" fill="#000">0</text>
<line x1="139.35" y1="276.30" x2="139.35" y2="279.50" stroke="#000" stroke-width="1.5"/>
<text x="139.35" y="296.60" font-size="10.5" font-weight="bold" text-anchor="middle" fill="#000">0.25</text>
<line x1="204.00" y1="276.30" x2="204.00" y2="279.50" stroke="#000" stroke-width="1.5"/>
<text x="204.00" y="296.60" font-size="10.5" font-weight="bold" text-anchor="middle" fill="#000">0.5</text>
<path d="M82.78 253.34 L90.86 243.50 L107.03 227.10 L139.35 223.82 L204.00 197.58" fill="none" stroke="#000" stroke-width="2.3" stroke-linejoin="miter"/>
<path d="M82.78 259.24 L90.86 238.58 L107.03 241.53 L139.35 210.70 L204.00 172.65" fill="none" stroke="#000" stroke-width="2.3" stroke-linejoin="miter"/>
<rect x="79.03" y="249.59" width="7.50" height="7.50" fill="#000" stroke="none" stroke-width="1"/>
<rect x="87.11" y="239.75" width="7.50" height="7.50" fill="#000" stroke="none" stroke-width="1"/>
<rect x="103.28" y="223.35" width="7.50" height="7.50" fill="#000" stroke="none" stroke-width="1"/>
<rect x="135.60" y="220.07" width="7.50" height="7.50" fill="#000" stroke="none" stroke-width="1"/>
<rect x="200.25" y="193.83" width="7.50" height="7.50" fill="#000" stroke="none" stroke-width="1"/>
<rect x="79.78" y="256.24" width="6.00" height="6.00" fill="#fff" stroke="#000" stroke-width="1.5"/>
<rect x="87.86" y="235.58" width="6.00" height="6.00" fill="#fff" stroke="#000" stroke-width="1.5"/>
<rect x="104.03" y="238.53" width="6.00" height="6.00" fill="#fff" stroke="#000" stroke-width="1.5"/>
<rect x="136.35" y="207.70" width="6.00" height="6.00" fill="#fff" stroke="#000" stroke-width="1.5"/>
<rect x="201.00" y="169.65" width="6.00" height="6.00" fill="#fff" stroke="#000" stroke-width="1.5"/>
<text x="49.40" y="228.30" font-size="10.6" font-weight="bold" text-anchor="middle" fill="#000" transform="rotate(-90 49.40 228.30)">% CD69+CD25+</text>
<text x="126.00" y="309.10" font-size="10.6" font-weight="bold" text-anchor="middle" fill="#000">Ova Beads (ul)</text>
<line x1="199.40" y1="225.50" x2="215.40" y2="225.50" stroke="#000" stroke-width="1.4"/>
<rect x="204.10" y="222.20" width="6.60" height="6.60" fill="#000" stroke="none" stroke-width="1"/>
<text x="216.40" y="229.30" font-size="10.5" font-weight="bold" text-anchor="start" fill="#000">WT</text>
<line x1="199.40" y1="237.40" x2="215.40" y2="237.40" stroke="#000" stroke-width="1.4"/>
<rect x="204.75" y="234.75" width="5.30" height="5.30" fill="#fff" stroke="#000" stroke-width="1.3"/>
<text x="216.40" y="241.20" font-size="10.5" font-weight="bold" text-anchor="start" fill="#000">VavNULL</text>
<text x="286.20" y="16.60" font-size="16.5" font-weight="bold" text-anchor="start" fill="#000">B</text>
<text x="332.10" y="24.80" font-size="12" font-weight="bold" text-anchor="start" fill="#000">Ova Beads (72 hours)</text>
<line x1="284.00" y1="29.20" x2="498.00" y2="29.20" stroke="#000" stroke-width="2"/>
<text x="336.90" y="43.90" font-size="10.5" font-weight="bold" text-anchor="middle" fill="#000">WT</text>
<text x="452.00" y="44.20" font-size="10.5" font-weight="bold" text-anchor="middle" fill="#000">Vav<tspan font-size="7" dy="-3.6">NULL</tspan></text>
<path d="M290.00 134.20C294.83 134.26 319.42 134.66 324.50 134.60C329.58 134.54 325.74 134.23 326.30 133.80C326.86 133.37 327.84 131.98 328.50 131.50C329.16 131.02 330.41 131.37 331.00 130.40C331.59 129.43 332.22 126.29 332.70 124.60C333.18 122.91 333.76 118.71 334.40 118.30C335.04 117.89 336.66 122.92 337.30 121.70C337.94 120.48 338.48 113.31 339.00 109.60C339.52 105.89 340.51 95.20 341.00 95.20C341.49 95.20 342.12 106.45 342.50 109.60C342.88 112.75 343.38 117.70 343.70 117.70C344.02 117.70 344.37 111.78 344.80 109.60C345.23 107.42 346.31 101.78 346.80 102.10C347.29 102.42 347.82 109.23 348.30 111.90C348.78 114.57 349.47 121.35 350.20 121.20C350.93 121.05 352.65 110.48 353.50 110.80C354.35 111.12 355.50 122.70 356.30 123.50C357.10 124.30 358.43 116.64 359.20 116.50C359.97 116.36 361.23 124.43 361.80 122.50C362.37 120.57 362.94 109.52 363.30 102.70C363.66 95.88 364.05 80.83 364.40 73.80C364.75 66.77 365.42 52.50 365.80 52.50C366.18 52.50 366.72 66.77 367.10 73.80C367.48 80.83 368.12 95.74 368.50 102.70C368.88 109.66 369.32 119.79 369.80 123.50C370.28 127.21 371.12 127.83 371.90 129.20C372.68 130.57 374.69 132.56 375.40 133.30C376.11 134.04 376.78 134.37 377.00 134.50C377.22 134.63 377.00 134.24 377.00 134.20 L377.00 135.00 L290.00 135.00Z" fill="#c4c4c4" stroke="none"/>
<path d="M290.00 134.20C294.83 134.26 319.42 134.66 324.50 134.60C329.58 134.54 325.74 134.23 326.30 133.80C326.86 133.37 327.84 131.98 328.50 131.50C329.16 131.02 330.41 131.37 331.00 130.40C331.59 129.43 332.22 126.29 332.70 124.60C333.18 122.91 333.76 118.71 334.40 118.30C335.04 117.89 336.66 122.92 337.30 121.70C337.94 120.48 338.48 113.31 339.00 109.60C339.52 105.89 340.51 95.20 341.00 95.20C341.49 95.20 342.12 106.45 342.50 109.60C342.88 112.75 343.38 117.70 343.70 117.70C344.02 117.70 344.37 111.78 344.80 109.60C345.23 107.42 346.31 101.78 346.80 102.10C347.29 102.42 347.82 109.23 348.30 111.90C348.78 114.57 349.47 121.35 350.20 121.20C350.93 121.05 352.65 110.48 353.50 110.80C354.35 111.12 355.50 122.70 356.30 123.50C357.10 124.30 358.43 116.64 359.20 116.50C359.97 116.36 361.23 124.43 361.80 122.50C362.37 120.57 362.94 109.52 363.30 102.70C363.66 95.88 364.05 80.83 364.40 73.80C364.75 66.77 365.42 52.50 365.80 52.50C366.18 52.50 366.72 66.77 367.10 73.80C367.48 80.83 368.12 95.74 368.50 102.70C368.88 109.66 369.32 119.79 369.80 123.50C370.28 127.21 371.12 127.83 371.90 129.20C372.68 130.57 374.69 132.56 375.40 133.30C376.11 134.04 376.78 134.37 377.00 134.50C377.22 134.63 377.00 134.24 377.00 134.20" fill="none" stroke="#2e2e2e" stroke-width="0.85"/>
<rect x="289.50" y="47.50" width="88.00" height="87.50" fill="none" stroke="#7c7c7c" stroke-width="0.95"/>
<path d="M288.20 47.50h2.6 M288.20 52.11h2.6 M288.20 56.71h2.6 M288.20 61.32h2.6 M288.20 65.92h2.6 M288.20 70.53h2.6 M288.20 75.13h2.6 M288.20 79.74h2.6 M288.20 84.34h2.6 M288.20 88.95h2.6 M288.20 93.55h2.6 M288.20 98.16h2.6 M288.20 102.76h2.6 M288.20 107.37h2.6 M288.20 111.97h2.6 M288.20 116.58h2.6 M288.20 121.18h2.6 M288.20 125.79h2.6 M288.20 130.39h2.6 M288.20 135.00h2.6" stroke="#888" stroke-width="0.9" fill="none"/>
<path d="M289.50 133.70v2.6 M304.88 133.70v2.6 M311.50 133.70v2.6 M326.88 133.70v2.6 M333.50 133.70v2.6 M348.88 133.70v2.6 M355.50 133.70v2.6 M370.88 133.70v2.6 M377.50 133.70v2.6" stroke="#888" stroke-width="0.9" fill="none"/>
<line x1="287.00" y1="135.00" x2="289.50" y2="135.00" stroke="#333" stroke-width="0.8"/>
<text x="286.50" y="137.30" font-size="6.4" font-weight="bold" text-anchor="end" fill="#222">0</text>
<line x1="287.00" y1="116.50" x2="289.50" y2="116.50" stroke="#333" stroke-width="0.8"/>
<text x="286.50" y="118.80" font-size="6.4" font-weight="bold" text-anchor="end" fill="#222">100</text>
<line x1="287.00" y1="98.00" x2="289.50" y2="98.00" stroke="#333" stroke-width="0.8"/>
<text x="286.50" y="100.30" font-size="6.4" font-weight="bold" text-anchor="end" fill="#222">200</text>
<line x1="287.00" y1="79.50" x2="289.50" y2="79.50" stroke="#333" stroke-width="0.8"/>
<text x="286.50" y="81.80" font-size="6.4" font-weight="bold" text-anchor="end" fill="#222">300</text>
<line x1="287.00" y1="61.00" x2="289.50" y2="61.00" stroke="#333" stroke-width="0.8"/>
<text x="286.50" y="63.30" font-size="6.4" font-weight="bold" text-anchor="end" fill="#222">400</text>
<line x1="289.50" y1="135.00" x2="289.50" y2="137.00" stroke="#555" stroke-width="0.8"/>
<text x="289.50" y="145.20" font-size="6.4" font-weight="bold" text-anchor="middle" fill="#222">10<tspan font-size="4.80" dy="-3.20">0</tspan></text>
<line x1="311.50" y1="135.00" x2="311.50" y2="137.00" stroke="#555" stroke-width="0.8"/>
<text x="311.50" y="145.20" font-size="6.4" font-weight="bold" text-anchor="middle" fill="#222">10<tspan font-size="4.80" dy="-3.20">1</tspan></text>
<line x1="333.50" y1="135.00" x2="333.50" y2="137.00" stroke="#555" stroke-width="0.8"/>
<text x="333.50" y="145.20" font-size="6.4" font-weight="bold" text-anchor="middle" fill="#222">10<tspan font-size="4.80" dy="-3.20">2</tspan></text>
<line x1="355.50" y1="135.00" x2="355.50" y2="137.00" stroke="#555" stroke-width="0.8"/>
<text x="355.50" y="145.20" font-size="6.4" font-weight="bold" text-anchor="middle" fill="#222">10<tspan font-size="4.80" dy="-3.20">3</tspan></text>
<line x1="377.50" y1="135.00" x2="377.50" y2="137.00" stroke="#555" stroke-width="0.8"/>
<text x="377.50" y="145.20" font-size="6.4" font-weight="bold" text-anchor="middle" fill="#222">10<tspan font-size="4.80" dy="-3.20">4</tspan></text>
<path d="M403.50 133.70C407.83 133.74 427.05 134.03 434.40 134.00C441.75 133.97 450.95 133.53 456.00 133.50C461.05 133.47 468.06 134.16 470.50 133.80C472.94 133.44 472.70 132.12 473.40 130.90C474.10 129.68 475.00 128.74 475.50 125.10C476.00 121.46 476.59 112.78 477.00 104.90C477.41 97.02 478.04 76.23 478.40 68.80C478.76 61.37 479.29 51.80 479.60 51.80C479.91 51.80 480.31 61.37 480.60 68.80C480.89 76.23 481.41 98.03 481.70 104.90C481.99 111.77 482.25 115.07 482.70 117.90C483.15 120.73 484.19 123.39 484.90 125.10C485.61 126.81 487.09 128.85 487.80 130.10C488.51 131.35 489.69 133.50 490.00 134.00C490.31 134.50 490.00 133.74 490.00 133.70 L490.00 134.50 L403.50 134.50Z" fill="#c4c4c4" stroke="none"/>
<path d="M403.50 133.70C407.83 133.74 427.05 134.03 434.40 134.00C441.75 133.97 450.95 133.53 456.00 133.50C461.05 133.47 468.06 134.16 470.50 133.80C472.94 133.44 472.70 132.12 473.40 130.90C474.10 129.68 475.00 128.74 475.50 125.10C476.00 121.46 476.59 112.78 477.00 104.90C477.41 97.02 478.04 76.23 478.40 68.80C478.76 61.37 479.29 51.80 479.60 51.80C479.91 51.80 480.31 61.37 480.60 68.80C480.89 76.23 481.41 98.03 481.70 104.90C481.99 111.77 482.25 115.07 482.70 117.90C483.15 120.73 484.19 123.39 484.90 125.10C485.61 126.81 487.09 128.85 487.80 130.10C488.51 131.35 489.69 133.50 490.00 134.00C490.31 134.50 490.00 133.74 490.00 133.70" fill="none" stroke="#2e2e2e" stroke-width="0.85"/>
<rect x="403.00" y="47.00" width="87.50" height="87.50" fill="none" stroke="#7c7c7c" stroke-width="0.95"/>
<path d="M401.70 47.00h2.6 M401.70 51.61h2.6 M401.70 56.21h2.6 M401.70 60.82h2.6 M401.70 65.42h2.6 M401.70 70.03h2.6 M401.70 74.63h2.6 M401.70 79.24h2.6 M401.70 83.84h2.6 M401.70 88.45h2.6 M401.70 93.05h2.6 M401.70 97.66h2.6 M401.70 102.26h2.6 M401.70 106.87h2.6 M401.70 111.47h2.6 M401.70 116.08h2.6 M401.70 120.68h2.6 M401.70 125.29h2.6 M401.70 129.89h2.6 M401.70 134.50h2.6" stroke="#888" stroke-width="0.9" fill="none"/>
<path d="M403.00 133.20v2.6 M418.29 133.20v2.6 M424.88 133.20v2.6 M440.16 133.20v2.6 M446.75 133.20v2.6 M462.04 133.20v2.6 M468.62 133.20v2.6 M483.91 133.20v2.6 M490.50 133.20v2.6" stroke="#888" stroke-width="0.9" fill="none"/>
<line x1="400.50" y1="134.50" x2="403.00" y2="134.50" stroke="#333" stroke-width="0.8"/>
<text x="400.00" y="136.80" font-size="6.4" font-weight="bold" text-anchor="end" fill="#222">0</text>
<line x1="400.50" y1="111.75" x2="403.00" y2="111.75" stroke="#333" stroke-width="0.8"/>
<text x="400.00" y="114.05" font-size="6.4" font-weight="bold" text-anchor="end" fill="#222">50</text>
<line x1="400.50" y1="89.00" x2="403.00" y2="89.00" stroke="#333" stroke-width="0.8"/>
<text x="400.00" y="91.30" font-size="6.4" font-weight="bold" text-anchor="end" fill="#222">100</text>
<line x1="400.50" y1="66.25" x2="403.00" y2="66.25" stroke="#333" stroke-width="0.8"/>
<text x="400.00" y="68.55" font-size="6.4" font-weight="bold" text-anchor="end" fill="#222">150</text>
<line x1="403.00" y1="134.50" x2="403.00" y2="136.50" stroke="#555" stroke-width="0.8"/>
<text x="403.00" y="144.70" font-size="6.4" font-weight="bold" text-anchor="middle" fill="#222">10<tspan font-size="4.80" dy="-3.20">0</tspan></text>
<line x1="424.88" y1="134.50" x2="424.88" y2="136.50" stroke="#555" stroke-width="0.8"/>
<text x="424.88" y="144.70" font-size="6.4" font-weight="bold" text-anchor="middle" fill="#222">10<tspan font-size="4.80" dy="-3.20">1</tspan></text>
<line x1="446.75" y1="134.50" x2="446.75" y2="136.50" stroke="#555" stroke-width="0.8"/>
<text x="446.75" y="144.70" font-size="6.4" font-weight="bold" text-anchor="middle" fill="#222">10<tspan font-size="4.80" dy="-3.20">2</tspan></text>
<line x1="468.62" y1="134.50" x2="468.62" y2="136.50" stroke="#555" stroke-width="0.8"/>
<text x="468.62" y="144.70" font-size="6.4" font-weight="bold" text-anchor="middle" fill="#222">10<tspan font-size="4.80" dy="-3.20">3</tspan></text>
<line x1="490.50" y1="134.50" x2="490.50" y2="136.50" stroke="#555" stroke-width="0.8"/>
<text x="490.50" y="144.70" font-size="6.4" font-weight="bold" text-anchor="middle" fill="#222">10<tspan font-size="4.80" dy="-3.20">4</tspan></text>
<text x="295.80" y="157.20" font-size="10.6" font-weight="bold" text-anchor="start" fill="#000">CFSE</text>
<line x1="326.10" y1="154.20" x2="346.80" y2="154.20" stroke="#000" stroke-width="1.9"/>
<path d="M351.90 154.20 L346.30 151.80 L346.30 156.60Z" fill="#000"/>
<line x1="316.30" y1="172.90" x2="316.30" y2="277.75" stroke="#000" stroke-width="1.5"/>
<line x1="315.55" y1="277.00" x2="443.00" y2="277.00" stroke="#000" stroke-width="1.5"/>
<line x1="313.10" y1="277.00" x2="316.30" y2="277.00" stroke="#000" stroke-width="1.5"/>
<text x="307.30" y="281.40" font-size="10.5" font-weight="bold" text-anchor="end" fill="#000">0</text>
<line x1="313.10" y1="244.47" x2="316.30" y2="244.47" stroke="#000" stroke-width="1.5"/>
<text x="307.30" y="248.87" font-size="10.5" font-weight="bold" text-anchor="end" fill="#000">10</text>
<line x1="313.10" y1="211.93" x2="316.30" y2="211.93" stroke="#000" stroke-width="1.5"/>
<text x="307.30" y="216.33" font-size="10.5" font-weight="bold" text-anchor="end" fill="#000">20</text>
<line x1="313.10" y1="179.40" x2="316.30" y2="179.40" stroke="#000" stroke-width="1.5"/>
<text x="307.30" y="183.80" font-size="10.5" font-weight="bold" text-anchor="end" fill="#000">30</text>
<line x1="316.30" y1="277.00" x2="316.30" y2="280.20" stroke="#000" stroke-width="1.5"/>
<text x="316.30" y="297.90" font-size="10.5" font-weight="bold" text-anchor="middle" fill="#000">0</text>
<line x1="379.40" y1="277.00" x2="379.40" y2="280.20" stroke="#000" stroke-width="1.5"/>
<text x="379.40" y="297.90" font-size="10.5" font-weight="bold" text-anchor="middle" fill="#000">1</text>
<line x1="442.50" y1="277.00" x2="442.50" y2="280.20" stroke="#000" stroke-width="1.5"/>
<text x="442.50" y="297.90" font-size="10.5" font-weight="bold" text-anchor="middle" fill="#000">2</text>
<path d="M316.30 273.10 L332.07 211.93 L347.85 198.92 L379.40 176.15 L442.50 175.50" fill="none" stroke="#000" stroke-width="2.3" stroke-linejoin="miter"/>
<path d="M316.30 274.07 L332.07 270.82 L347.85 272.12 L379.40 274.07 L442.50 273.42" fill="none" stroke="#000" stroke-width="2.3" stroke-linejoin="miter"/>
<rect x="312.40" y="269.20" width="7.80" height="7.80" fill="#000" stroke="none" stroke-width="1"/>
<rect x="328.18" y="208.03" width="7.80" height="7.80" fill="#000" stroke="none" stroke-width="1"/>
<rect x="343.95" y="195.02" width="7.80" height="7.80" fill="#000" stroke="none" stroke-width="1"/>
<rect x="375.50" y="172.25" width="7.80" height="7.80" fill="#000" stroke="none" stroke-width="1"/>
<rect x="438.60" y="171.60" width="7.80" height="7.80" fill="#000" stroke="none" stroke-width="1"/>
<rect x="313.15" y="270.92" width="6.30" height="6.30" fill="#fff" stroke="#000" stroke-width="1.5"/>
<rect x="328.93" y="267.67" width="6.30" height="6.30" fill="#fff" stroke="#000" stroke-width="1.5"/>
<rect x="344.70" y="268.97" width="6.30" height="6.30" fill="#fff" stroke="#000" stroke-width="1.5"/>
<rect x="376.25" y="270.92" width="6.30" height="6.30" fill="#fff" stroke="#000" stroke-width="1.5"/>
<rect x="439.35" y="270.27" width="6.30" height="6.30" fill="#fff" stroke="#000" stroke-width="1.5"/>
<text x="290.20" y="228.00" font-size="10.6" font-weight="bold" text-anchor="middle" fill="#000" transform="rotate(-90 290.20 228.00)">% Divided</text>
<text x="370.50" y="308.30" font-size="10.6" font-weight="bold" text-anchor="middle" fill="#000">Beads (ul)</text>
<line x1="441.20" y1="223.80" x2="456.50" y2="223.80" stroke="#000" stroke-width="1.4"/>
<rect x="445.55" y="220.50" width="6.60" height="6.60" fill="#000" stroke="none" stroke-width="1"/>
<text x="457.50" y="227.60" font-size="10.5" font-weight="bold" text-anchor="start" fill="#000">WT</text>
<line x1="441.20" y1="235.00" x2="456.50" y2="235.00" stroke="#000" stroke-width="1.4"/>
<rect x="446.20" y="232.35" width="5.30" height="5.30" fill="#fff" stroke="#000" stroke-width="1.3"/>
<text x="457.50" y="238.80" font-size="10.5" font-weight="bold" text-anchor="start" fill="#000">VavNULL</text>
<text x="5.80" y="321.60" font-size="16.5" font-weight="bold" text-anchor="start" fill="#000">C</text>
<text x="75.60" y="328.80" font-size="12.15" font-weight="bold" text-anchor="start" fill="#000">OT2 Peptide (continuous)</text>
<line x1="39.80" y1="333.80" x2="253.70" y2="333.80" stroke="#000" stroke-width="2"/>
<text x="90.50" y="351.10" font-size="10.5" font-weight="bold" text-anchor="middle" fill="#000">WT</text>
<text x="203.10" y="351.50" font-size="10.5" font-weight="bold" text-anchor="middle" fill="#000">DF</text>
<path d="M47.50 438.70C50.54 438.74 65.62 439.38 69.20 439.00C72.78 438.62 72.23 437.26 73.10 436.00C73.97 434.74 74.87 432.24 75.40 430.00C75.93 427.76 76.51 423.78 76.90 420.00C77.29 416.22 77.86 406.29 78.20 403.00C78.54 399.71 79.01 397.51 79.30 396.50C79.59 395.49 80.03 394.89 80.30 395.80C80.57 396.71 80.92 401.12 81.20 403.00C81.48 404.88 82.03 408.86 82.30 409.20C82.57 409.54 82.82 409.38 83.10 405.40C83.38 401.42 83.98 387.44 84.30 380.80C84.62 374.16 85.09 358.00 85.40 358.00C85.71 358.00 86.18 373.94 86.50 380.80C86.82 387.66 87.42 402.80 87.70 407.00C87.98 411.20 88.25 411.67 88.50 410.80C88.75 409.93 89.12 403.29 89.50 400.80C89.88 398.31 90.81 393.43 91.20 393.00C91.59 392.57 91.94 394.68 92.30 397.70C92.66 400.72 93.37 410.95 93.80 414.60C94.23 418.25 94.85 423.69 95.40 423.80C95.95 423.91 97.01 414.42 97.70 415.40C98.39 416.38 99.54 429.40 100.30 430.80C101.06 432.20 102.39 425.40 103.10 425.40C103.81 425.40 104.76 430.59 105.40 430.80C106.04 431.01 107.17 431.77 107.70 426.90C108.23 422.03 108.77 403.71 109.20 396.00C109.63 388.29 110.37 372.64 110.80 371.80C111.23 370.96 111.92 383.36 112.30 390.00C112.68 396.64 113.18 413.18 113.50 419.20C113.82 425.22 114.12 430.26 114.60 433.00C115.08 435.74 116.14 437.92 116.90 438.80C117.66 439.68 117.68 439.31 120.00 439.30C122.32 439.29 131.61 438.78 133.50 438.70 L133.50 439.50 L47.50 439.50Z" fill="#c4c4c4" stroke="none"/>
<path d="M47.50 438.70C50.54 438.74 65.62 439.38 69.20 439.00C72.78 438.62 72.23 437.26 73.10 436.00C73.97 434.74 74.87 432.24 75.40 430.00C75.93 427.76 76.51 423.78 76.90 420.00C77.29 416.22 77.86 406.29 78.20 403.00C78.54 399.71 79.01 397.51 79.30 396.50C79.59 395.49 80.03 394.89 80.30 395.80C80.57 396.71 80.92 401.12 81.20 403.00C81.48 404.88 82.03 408.86 82.30 409.20C82.57 409.54 82.82 409.38 83.10 405.40C83.38 401.42 83.98 387.44 84.30 380.80C84.62 374.16 85.09 358.00 85.40 358.00C85.71 358.00 86.18 373.94 86.50 380.80C86.82 387.66 87.42 402.80 87.70 407.00C87.98 411.20 88.25 411.67 88.50 410.80C88.75 409.93 89.12 403.29 89.50 400.80C89.88 398.31 90.81 393.43 91.20 393.00C91.59 392.57 91.94 394.68 92.30 397.70C92.66 400.72 93.37 410.95 93.80 414.60C94.23 418.25 94.85 423.69 95.40 423.80C95.95 423.91 97.01 414.42 97.70 415.40C98.39 416.38 99.54 429.40 100.30 430.80C101.06 432.20 102.39 425.40 103.10 425.40C103.81 425.40 104.76 430.59 105.40 430.80C106.04 431.01 107.17 431.77 107.70 426.90C108.23 422.03 108.77 403.71 109.20 396.00C109.63 388.29 110.37 372.64 110.80 371.80C111.23 370.96 111.92 383.36 112.30 390.00C112.68 396.64 113.18 413.18 113.50 419.20C113.82 425.22 114.12 430.26 114.60 433.00C115.08 435.74 116.14 437.92 116.90 438.80C117.66 439.68 117.68 439.31 120.00 439.30C122.32 439.29 131.61 438.78 133.50 438.70" fill="none" stroke="#2e2e2e" stroke-width="0.85"/>
<rect x="47.00" y="353.00" width="87.00" height="86.50" fill="none" stroke="#7c7c7c" stroke-width="0.95"/>
<path d="M45.70 353.00h2.6 M45.70 357.55h2.6 M45.70 362.11h2.6 M45.70 366.66h2.6 M45.70 371.21h2.6 M45.70 375.76h2.6 M45.70 380.32h2.6 M45.70 384.87h2.6 M45.70 389.42h2.6 M45.70 393.97h2.6 M45.70 398.53h2.6 M45.70 403.08h2.6 M45.70 407.63h2.6 M45.70 412.18h2.6 M45.70 416.74h2.6 M45.70 421.29h2.6 M45.70 425.84h2.6 M45.70 430.39h2.6 M45.70 434.95h2.6 M45.70 439.50h2.6" stroke="#888" stroke-width="0.9" fill="none"/>
<path d="M47.00 438.20v2.6 M62.20 438.20v2.6 M68.75 438.20v2.6 M83.95 438.20v2.6 M90.50 438.20v2.6 M105.70 438.20v2.6 M112.25 438.20v2.6 M127.45 438.20v2.6 M134.00 438.20v2.6" stroke="#888" stroke-width="0.9" fill="none"/>
<line x1="44.50" y1="422.00" x2="47.00" y2="422.00" stroke="#333" stroke-width="0.8"/>
<text x="44.20" y="423.70" font-size="4.6" font-weight="bold" text-anchor="end" fill="#555">100</text>
<line x1="44.50" y1="404.50" x2="47.00" y2="404.50" stroke="#333" stroke-width="0.8"/>
<text x="44.20" y="406.20" font-size="4.6" font-weight="bold" text-anchor="end" fill="#555">200</text>
<line x1="44.50" y1="387.00" x2="47.00" y2="387.00" stroke="#333" stroke-width="0.8"/>
<text x="44.20" y="388.70" font-size="4.6" font-weight="bold" text-anchor="end" fill="#555">300</text>
<line x1="44.50" y1="369.50" x2="47.00" y2="369.50" stroke="#333" stroke-width="0.8"/>
<text x="44.20" y="371.20" font-size="4.6" font-weight="bold" text-anchor="end" fill="#555">400</text>
<line x1="47.00" y1="439.50" x2="47.00" y2="441.50" stroke="#555" stroke-width="0.8"/>
<text x="47.00" y="446.70" font-size="4.4" font-weight="bold" text-anchor="middle" fill="#555">10<tspan font-size="3.30" dy="-2.20">0</tspan></text>
<line x1="68.75" y1="439.50" x2="68.75" y2="441.50" stroke="#555" stroke-width="0.8"/>
<text x="68.75" y="446.70" font-size="4.4" font-weight="bold" text-anchor="middle" fill="#555">10<tspan font-size="3.30" dy="-2.20">1</tspan></text>
<line x1="90.50" y1="439.50" x2="90.50" y2="441.50" stroke="#555" stroke-width="0.8"/>
<text x="90.50" y="446.70" font-size="4.4" font-weight="bold" text-anchor="middle" fill="#555">10<tspan font-size="3.30" dy="-2.20">2</tspan></text>
<line x1="112.25" y1="439.50" x2="112.25" y2="441.50" stroke="#555" stroke-width="0.8"/>
<text x="112.25" y="446.70" font-size="4.4" font-weight="bold" text-anchor="middle" fill="#555">10<tspan font-size="3.30" dy="-2.20">3</tspan></text>
<line x1="134.00" y1="439.50" x2="134.00" y2="441.50" stroke="#555" stroke-width="0.8"/>
<text x="134.00" y="446.70" font-size="4.4" font-weight="bold" text-anchor="middle" fill="#555">10<tspan font-size="3.30" dy="-2.20">4</tspan></text>
<text x="90.50" y="452.00" font-size="3.8" font-weight="bold" text-anchor="middle" fill="#444">FL1-H</text>
<text x="36.40" y="396.25" font-size="4.4" font-weight="bold" text-anchor="middle" fill="#333" transform="rotate(-90 36.40 396.25)"># Cells</text>
<path d="M158.00 439.20C160.87 439.21 175.21 439.89 178.50 439.30C181.79 438.71 180.65 436.58 181.50 435.00C182.35 433.42 183.94 429.78 184.60 428.00C185.26 426.22 185.84 424.40 186.20 422.30C186.56 420.20 186.88 417.52 187.20 413.00C187.52 408.48 188.11 394.41 188.50 390.00C188.89 385.59 189.62 380.42 190.00 381.50C190.38 382.58 190.88 394.58 191.20 397.70C191.52 400.82 191.99 405.09 192.30 403.80C192.61 402.51 193.04 394.74 193.40 388.50C193.76 382.26 194.47 359.20 194.90 359.20C195.33 359.20 196.04 380.52 196.50 388.50C196.96 396.48 197.78 414.06 198.20 416.20C198.62 418.34 199.14 405.75 199.50 403.80C199.86 401.85 200.45 402.08 200.80 402.30C201.15 402.52 201.62 402.39 202.00 405.40C202.38 408.41 203.07 420.36 203.50 423.80C203.93 427.24 204.55 430.53 205.10 430.00C205.65 429.47 206.67 419.47 207.40 420.00C208.13 420.53 209.40 432.51 210.30 433.80C211.20 435.09 212.97 429.20 213.80 429.20C214.63 429.20 215.54 435.84 216.20 433.80C216.86 431.76 217.80 420.09 218.50 414.60C219.20 409.11 220.63 396.53 221.20 394.60C221.77 392.67 222.24 396.49 222.60 400.80C222.96 405.11 223.45 420.12 223.80 425.40C224.15 430.68 224.44 436.53 225.10 438.50C225.76 440.47 225.92 439.40 228.50 439.50C231.08 439.60 241.40 439.24 243.50 439.20 L243.50 440.00 L158.00 440.00Z" fill="#c4c4c4" stroke="none"/>
<path d="M158.00 439.20C160.87 439.21 175.21 439.89 178.50 439.30C181.79 438.71 180.65 436.58 181.50 435.00C182.35 433.42 183.94 429.78 184.60 428.00C185.26 426.22 185.84 424.40 186.20 422.30C186.56 420.20 186.88 417.52 187.20 413.00C187.52 408.48 188.11 394.41 188.50 390.00C188.89 385.59 189.62 380.42 190.00 381.50C190.38 382.58 190.88 394.58 191.20 397.70C191.52 400.82 191.99 405.09 192.30 403.80C192.61 402.51 193.04 394.74 193.40 388.50C193.76 382.26 194.47 359.20 194.90 359.20C195.33 359.20 196.04 380.52 196.50 388.50C196.96 396.48 197.78 414.06 198.20 416.20C198.62 418.34 199.14 405.75 199.50 403.80C199.86 401.85 200.45 402.08 200.80 402.30C201.15 402.52 201.62 402.39 202.00 405.40C202.38 408.41 203.07 420.36 203.50 423.80C203.93 427.24 204.55 430.53 205.10 430.00C205.65 429.47 206.67 419.47 207.40 420.00C208.13 420.53 209.40 432.51 210.30 433.80C211.20 435.09 212.97 429.20 213.80 429.20C214.63 429.20 215.54 435.84 216.20 433.80C216.86 431.76 217.80 420.09 218.50 414.60C219.20 409.11 220.63 396.53 221.20 394.60C221.77 392.67 222.24 396.49 222.60 400.80C222.96 405.11 223.45 420.12 223.80 425.40C224.15 430.68 224.44 436.53 225.10 438.50C225.76 440.47 225.92 439.40 228.50 439.50C231.08 439.60 241.40 439.24 243.50 439.20" fill="none" stroke="#2e2e2e" stroke-width="0.85"/>
<rect x="157.50" y="353.80" width="86.50" height="86.20" fill="none" stroke="#7c7c7c" stroke-width="0.95"/>
<path d="M156.20 353.80h2.6 M156.20 358.34h2.6 M156.20 362.87h2.6 M156.20 367.41h2.6 M156.20 371.95h2.6 M156.20 376.48h2.6 M156.20 381.02h2.6 M156.20 385.56h2.6 M156.20 390.09h2.6 M156.20 394.63h2.6 M156.20 399.17h2.6 M156.20 403.71h2.6 M156.20 408.24h2.6 M156.20 412.78h2.6 M156.20 417.32h2.6 M156.20 421.85h2.6 M156.20 426.39h2.6 M156.20 430.93h2.6 M156.20 435.46h2.6 M156.20 440.00h2.6" stroke="#888" stroke-width="0.9" fill="none"/>
<path d="M157.50 438.70v2.6 M172.62 438.70v2.6 M179.12 438.70v2.6 M194.24 438.70v2.6 M200.75 438.70v2.6 M215.87 438.70v2.6 M222.38 438.70v2.6 M237.49 438.70v2.6 M244.00 438.70v2.6" stroke="#888" stroke-width="0.9" fill="none"/>
<line x1="155.00" y1="440.00" x2="157.50" y2="440.00" stroke="#333" stroke-width="0.8"/>
<text x="154.70" y="441.70" font-size="4.6" font-weight="bold" text-anchor="end" fill="#555">0</text>
<line x1="155.00" y1="425.00" x2="157.50" y2="425.00" stroke="#333" stroke-width="0.8"/>
<text x="154.70" y="426.70" font-size="4.6" font-weight="bold" text-anchor="end" fill="#555">100</text>
<line x1="155.00" y1="410.00" x2="157.50" y2="410.00" stroke="#333" stroke-width="0.8"/>
<text x="154.70" y="411.70" font-size="4.6" font-weight="bold" text-anchor="end" fill="#555">200</text>
<line x1="155.00" y1="395.00" x2="157.50" y2="395.00" stroke="#333" stroke-width="0.8"/>
<text x="154.70" y="396.70" font-size="4.6" font-weight="bold" text-anchor="end" fill="#555">300</text>
<line x1="155.00" y1="380.00" x2="157.50" y2="380.00" stroke="#333" stroke-width="0.8"/>
<text x="154.70" y="381.70" font-size="4.6" font-weight="bold" text-anchor="end" fill="#555">400</text>
<line x1="155.00" y1="365.00" x2="157.50" y2="365.00" stroke="#333" stroke-width="0.8"/>
<text x="154.70" y="366.70" font-size="4.6" font-weight="bold" text-anchor="end" fill="#555">500</text>
<line x1="157.50" y1="440.00" x2="157.50" y2="442.00" stroke="#555" stroke-width="0.8"/>
<text x="157.50" y="447.20" font-size="4.4" font-weight="bold" text-anchor="middle" fill="#555">10<tspan font-size="3.30" dy="-2.20">0</tspan></text>
<line x1="179.12" y1="440.00" x2="179.12" y2="442.00" stroke="#555" stroke-width="0.8"/>
<text x="179.12" y="447.20" font-size="4.4" font-weight="bold" text-anchor="middle" fill="#555">10<tspan font-size="3.30" dy="-2.20">1</tspan></text>
<line x1="200.75" y1="440.00" x2="200.75" y2="442.00" stroke="#555" stroke-width="0.8"/>
<text x="200.75" y="447.20" font-size="4.4" font-weight="bold" text-anchor="middle" fill="#555">10<tspan font-size="3.30" dy="-2.20">2</tspan></text>
<line x1="222.38" y1="440.00" x2="222.38" y2="442.00" stroke="#555" stroke-width="0.8"/>
<text x="222.38" y="447.20" font-size="4.4" font-weight="bold" text-anchor="middle" fill="#555">10<tspan font-size="3.30" dy="-2.20">3</tspan></text>
<line x1="244.00" y1="440.00" x2="244.00" y2="442.00" stroke="#555" stroke-width="0.8"/>
<text x="244.00" y="447.20" font-size="4.4" font-weight="bold" text-anchor="middle" fill="#555">10<tspan font-size="3.30" dy="-2.20">4</tspan></text>
<text x="200.75" y="452.50" font-size="3.8" font-weight="bold" text-anchor="middle" fill="#444">FL1-H</text>
<text x="146.90" y="396.90" font-size="4.4" font-weight="bold" text-anchor="middle" fill="#333" transform="rotate(-90 146.90 396.90)"># Cells</text>
<text x="41.70" y="462.30" font-size="10.6" font-weight="bold" text-anchor="start" fill="#000">CFSE</text>
<line x1="73.90" y1="457.70" x2="94.40" y2="457.70" stroke="#000" stroke-width="1.9"/>
<path d="M99.40 457.70 L93.80 455.40 L93.80 460.00Z" fill="#000"/>
<path d="M75.00 455.90 Q71.80 458.70 74.80 462.30" fill="none" stroke="#000" stroke-width="1.5"/>
<line x1="71.75" y1="475.50" x2="71.75" y2="582.05" stroke="#000" stroke-width="1.5"/>
<line x1="71.00" y1="581.30" x2="197.50" y2="581.30" stroke="#000" stroke-width="1.5"/>
<line x1="68.55" y1="581.30" x2="71.75" y2="581.30" stroke="#000" stroke-width="1.5"/>
<text x="62.75" y="585.70" font-size="10.5" font-weight="bold" text-anchor="end" fill="#000">0</text>
<line x1="68.55" y1="560.40" x2="71.75" y2="560.40" stroke="#000" stroke-width="1.5"/>
<text x="62.75" y="564.80" font-size="10.5" font-weight="bold" text-anchor="end" fill="#000">20</text>
<line x1="68.55" y1="539.50" x2="71.75" y2="539.50" stroke="#000" stroke-width="1.5"/>
<text x="62.75" y="543.90" font-size="10.5" font-weight="bold" text-anchor="end" fill="#000">40</text>
<line x1="68.55" y1="518.60" x2="71.75" y2="518.60" stroke="#000" stroke-width="1.5"/>
<text x="62.75" y="523.00" font-size="10.5" font-weight="bold" text-anchor="end" fill="#000">60</text>
<line x1="68.55" y1="497.70" x2="71.75" y2="497.70" stroke="#000" stroke-width="1.5"/>
<text x="62.75" y="502.10" font-size="10.5" font-weight="bold" text-anchor="end" fill="#000">80</text>
<line x1="68.55" y1="476.80" x2="71.75" y2="476.80" stroke="#000" stroke-width="1.5"/>
<text x="62.75" y="481.20" font-size="10.5" font-weight="bold" text-anchor="end" fill="#000">100</text>
<line x1="71.75" y1="581.30" x2="71.75" y2="584.50" stroke="#000" stroke-width="1.5"/>
<text x="71.75" y="601.90" font-size="10.5" font-weight="bold" text-anchor="middle" fill="#000">0.01</text>
<line x1="103.25" y1="581.30" x2="103.25" y2="584.50" stroke="#000" stroke-width="1.5"/>
<text x="103.25" y="601.90" font-size="10.5" font-weight="bold" text-anchor="middle" fill="#000">0.1</text>
<line x1="134.75" y1="581.30" x2="134.75" y2="584.50" stroke="#000" stroke-width="1.5"/>
<text x="134.75" y="601.90" font-size="10.5" font-weight="bold" text-anchor="middle" fill="#000">1</text>
<line x1="166.25" y1="581.30" x2="166.25" y2="584.50" stroke="#000" stroke-width="1.5"/>
<text x="166.25" y="601.90" font-size="10.5" font-weight="bold" text-anchor="middle" fill="#000">10</text>
<path d="M87.92 575.76 L109.42 572.94 L131.70 565.83 L153.26 538.35 L175.39 501.36 L197.19 493.10" fill="none" stroke="#000" stroke-width="2.2" stroke-linejoin="miter"/>
<path d="M87.92 577.02 L109.42 575.76 L131.70 572.00 L153.26 541.28 L175.39 495.61 L197.19 496.34" fill="none" stroke="#000" stroke-width="2.2" stroke-linejoin="miter"/>
<rect x="84.32" y="572.16" width="7.20" height="7.20" fill="#000" stroke="none" stroke-width="1"/>
<rect x="105.82" y="569.34" width="7.20" height="7.20" fill="#000" stroke="none" stroke-width="1"/>
<rect x="128.10" y="562.23" width="7.20" height="7.20" fill="#000" stroke="none" stroke-width="1"/>
<rect x="149.66" y="534.75" width="7.20" height="7.20" fill="#000" stroke="none" stroke-width="1"/>
<rect x="171.79" y="497.76" width="7.20" height="7.20" fill="#000" stroke="none" stroke-width="1"/>
<rect x="193.59" y="489.50" width="7.20" height="7.20" fill="#000" stroke="none" stroke-width="1"/>
<rect x="85.07" y="574.17" width="5.70" height="5.70" fill="#fff" stroke="#000" stroke-width="1.5"/>
<rect x="106.57" y="572.91" width="5.70" height="5.70" fill="#fff" stroke="#000" stroke-width="1.5"/>
<rect x="128.85" y="569.15" width="5.70" height="5.70" fill="#fff" stroke="#000" stroke-width="1.5"/>
<rect x="150.41" y="538.43" width="5.70" height="5.70" fill="#fff" stroke="#000" stroke-width="1.5"/>
<rect x="172.54" y="492.76" width="5.70" height="5.70" fill="#fff" stroke="#000" stroke-width="1.5"/>
<rect x="194.34" y="493.49" width="5.70" height="5.70" fill="#fff" stroke="#000" stroke-width="1.5"/>
<text x="38.00" y="529.00" font-size="10.6" font-weight="bold" text-anchor="middle" fill="#000" transform="rotate(-90 38.00 529.00)">% Divided</text>
<text x="134.00" y="620.30" font-size="10.6" font-weight="bold" text-anchor="middle" fill="#000">Peptide (nM)</text>
<line x1="218.40" y1="530.20" x2="234.20" y2="530.20" stroke="#000" stroke-width="1.4"/>
<rect x="223.00" y="526.90" width="6.60" height="6.60" fill="#000" stroke="none" stroke-width="1"/>
<text x="235.20" y="534.00" font-size="10.2" font-weight="bold" text-anchor="start" fill="#000">WT</text>
<line x1="218.40" y1="542.70" x2="234.20" y2="542.70" stroke="#000" stroke-width="1.4"/>
<rect x="223.65" y="540.05" width="5.30" height="5.30" fill="#fff" stroke="#000" stroke-width="1.3"/>
<text x="235.20" y="546.50" font-size="10.2" font-weight="bold" text-anchor="start" fill="#000">DF</text>
<text x="287.00" y="322.00" font-size="16.5" font-weight="bold" text-anchor="start" fill="#000">D</text>
<text x="332.90" y="330.60" font-size="12" font-weight="bold" text-anchor="start" fill="#000">OT2 Peptide (pulsed)</text>
<line x1="284.80" y1="335.10" x2="498.80" y2="335.10" stroke="#000" stroke-width="2"/>
<text x="337.50" y="350.40" font-size="10.5" font-weight="bold" text-anchor="middle" fill="#000">WT</text>
<text x="457.50" y="350.40" font-size="10.5" font-weight="bold" text-anchor="middle" fill="#000">DF</text>
<path d="M288.50 439.20C291.23 439.26 304.78 439.63 308.00 439.60C311.22 439.57 310.46 439.81 311.50 439.00C312.54 438.19 314.53 436.14 315.40 433.80C316.27 431.46 317.22 424.88 317.70 422.30C318.18 419.72 318.48 416.48 318.80 415.40C319.12 414.32 319.62 415.78 320.00 414.60C320.38 413.42 321.11 411.73 321.50 407.00C321.89 402.27 322.48 387.49 322.80 380.80C323.12 374.11 323.44 358.56 323.80 359.20C324.16 359.84 325.01 380.01 325.40 385.40C325.79 390.79 326.28 396.64 326.60 397.70C326.92 398.76 327.29 397.75 327.70 393.00C328.11 388.25 329.07 364.43 329.50 363.80C329.93 363.17 330.41 381.82 330.80 388.50C331.19 395.18 331.92 407.62 332.30 411.50C332.68 415.38 332.95 417.49 333.50 416.20C334.05 414.91 335.61 401.66 336.20 402.30C336.79 402.94 337.21 416.92 337.70 420.80C338.19 424.68 339.13 429.36 339.70 430.00C340.27 430.64 341.23 425.29 341.80 425.40C342.37 425.51 343.09 434.92 343.80 430.80C344.51 426.68 346.10 403.00 346.90 396.00C347.70 389.00 348.93 380.80 349.50 380.80C350.07 380.80 350.61 389.55 351.00 396.00C351.39 402.45 351.91 421.06 352.30 426.90C352.69 432.74 353.14 435.92 353.80 437.70C354.46 439.48 354.17 439.39 357.00 439.60C359.83 439.81 371.62 439.26 374.00 439.20 L374.00 440.00 L288.50 440.00Z" fill="#c4c4c4" stroke="none"/>
<path d="M288.50 439.20C291.23 439.26 304.78 439.63 308.00 439.60C311.22 439.57 310.46 439.81 311.50 439.00C312.54 438.19 314.53 436.14 315.40 433.80C316.27 431.46 317.22 424.88 317.70 422.30C318.18 419.72 318.48 416.48 318.80 415.40C319.12 414.32 319.62 415.78 320.00 414.60C320.38 413.42 321.11 411.73 321.50 407.00C321.89 402.27 322.48 387.49 322.80 380.80C323.12 374.11 323.44 358.56 323.80 359.20C324.16 359.84 325.01 380.01 325.40 385.40C325.79 390.79 326.28 396.64 326.60 397.70C326.92 398.76 327.29 397.75 327.70 393.00C328.11 388.25 329.07 364.43 329.50 363.80C329.93 363.17 330.41 381.82 330.80 388.50C331.19 395.18 331.92 407.62 332.30 411.50C332.68 415.38 332.95 417.49 333.50 416.20C334.05 414.91 335.61 401.66 336.20 402.30C336.79 402.94 337.21 416.92 337.70 420.80C338.19 424.68 339.13 429.36 339.70 430.00C340.27 430.64 341.23 425.29 341.80 425.40C342.37 425.51 343.09 434.92 343.80 430.80C344.51 426.68 346.10 403.00 346.90 396.00C347.70 389.00 348.93 380.80 349.50 380.80C350.07 380.80 350.61 389.55 351.00 396.00C351.39 402.45 351.91 421.06 352.30 426.90C352.69 432.74 353.14 435.92 353.80 437.70C354.46 439.48 354.17 439.39 357.00 439.60C359.83 439.81 371.62 439.26 374.00 439.20" fill="none" stroke="#2e2e2e" stroke-width="0.85"/>
<rect x="288.00" y="353.75" width="86.50" height="86.25" fill="none" stroke="#7c7c7c" stroke-width="0.95"/>
<path d="M286.70 353.75h2.6 M286.70 358.29h2.6 M286.70 362.83h2.6 M286.70 367.37h2.6 M286.70 371.91h2.6 M286.70 376.45h2.6 M286.70 380.99h2.6 M286.70 385.53h2.6 M286.70 390.07h2.6 M286.70 394.61h2.6 M286.70 399.14h2.6 M286.70 403.68h2.6 M286.70 408.22h2.6 M286.70 412.76h2.6 M286.70 417.30h2.6 M286.70 421.84h2.6 M286.70 426.38h2.6 M286.70 430.92h2.6 M286.70 435.46h2.6 M286.70 440.00h2.6" stroke="#888" stroke-width="0.9" fill="none"/>
<path d="M288.00 438.70v2.6 M303.12 438.70v2.6 M309.62 438.70v2.6 M324.74 438.70v2.6 M331.25 438.70v2.6 M346.37 438.70v2.6 M352.88 438.70v2.6 M367.99 438.70v2.6 M374.50 438.70v2.6" stroke="#888" stroke-width="0.9" fill="none"/>
<line x1="285.50" y1="440.00" x2="288.00" y2="440.00" stroke="#333" stroke-width="0.8"/>
<text x="285.20" y="441.70" font-size="4.6" font-weight="bold" text-anchor="end" fill="#555">0</text>
<line x1="285.50" y1="418.40" x2="288.00" y2="418.40" stroke="#333" stroke-width="0.8"/>
<text x="285.20" y="420.10" font-size="4.6" font-weight="bold" text-anchor="end" fill="#555">100</text>
<line x1="285.50" y1="396.80" x2="288.00" y2="396.80" stroke="#333" stroke-width="0.8"/>
<text x="285.20" y="398.50" font-size="4.6" font-weight="bold" text-anchor="end" fill="#555">200</text>
<line x1="285.50" y1="375.20" x2="288.00" y2="375.20" stroke="#333" stroke-width="0.8"/>
<text x="285.20" y="376.90" font-size="4.6" font-weight="bold" text-anchor="end" fill="#555">300</text>
<line x1="285.50" y1="353.60" x2="288.00" y2="353.60" stroke="#333" stroke-width="0.8"/>
<text x="285.20" y="355.30" font-size="4.6" font-weight="bold" text-anchor="end" fill="#555">400</text>
<line x1="288.00" y1="440.00" x2="288.00" y2="442.00" stroke="#555" stroke-width="0.8"/>
<text x="288.00" y="447.20" font-size="4.4" font-weight="bold" text-anchor="middle" fill="#555">10<tspan font-size="3.30" dy="-2.20">0</tspan></text>
<line x1="309.62" y1="440.00" x2="309.62" y2="442.00" stroke="#555" stroke-width="0.8"/>
<text x="309.62" y="447.20" font-size="4.4" font-weight="bold" text-anchor="middle" fill="#555">10<tspan font-size="3.30" dy="-2.20">1</tspan></text>
<line x1="331.25" y1="440.00" x2="331.25" y2="442.00" stroke="#555" stroke-width="0.8"/>
<text x="331.25" y="447.20" font-size="4.4" font-weight="bold" text-anchor="middle" fill="#555">10<tspan font-size="3.30" dy="-2.20">2</tspan></text>
<line x1="352.88" y1="440.00" x2="352.88" y2="442.00" stroke="#555" stroke-width="0.8"/>
<text x="352.88" y="447.20" font-size="4.4" font-weight="bold" text-anchor="middle" fill="#555">10<tspan font-size="3.30" dy="-2.20">3</tspan></text>
<line x1="374.50" y1="440.00" x2="374.50" y2="442.00" stroke="#555" stroke-width="0.8"/>
<text x="374.50" y="447.20" font-size="4.4" font-weight="bold" text-anchor="middle" fill="#555">10<tspan font-size="3.30" dy="-2.20">4</tspan></text>
<text x="331.25" y="452.50" font-size="3.8" font-weight="bold" text-anchor="middle" fill="#444">FL1-H</text>
<text x="277.40" y="396.88" font-size="4.4" font-weight="bold" text-anchor="middle" fill="#333" transform="rotate(-90 277.40 396.88)"># Cells</text>
<path d="M401.00 439.20C404.22 439.20 419.83 439.34 424.00 439.20C428.17 439.06 429.47 438.44 430.80 438.20C432.13 437.96 432.56 437.82 433.50 437.50C434.44 437.18 436.38 436.00 437.50 435.90C438.62 435.80 440.18 436.77 441.50 436.80C442.82 436.83 445.77 435.96 446.90 436.10C448.03 436.24 448.56 437.60 449.60 437.80C450.64 438.00 453.36 438.30 454.30 437.50C455.24 436.70 455.82 435.87 456.30 432.10C456.78 428.33 457.32 417.39 457.70 410.60C458.08 403.81 458.54 390.87 459.00 383.60C459.46 376.33 460.52 358.70 461.00 358.70C461.48 358.70 462.02 375.40 462.40 383.60C462.78 391.80 463.32 410.13 463.70 417.30C464.08 424.47 464.53 431.87 465.10 434.80C465.67 437.73 466.58 437.54 467.80 438.20C469.02 438.86 471.29 439.36 473.80 439.50C476.31 439.64 484.08 439.24 485.75 439.20 L485.75 440.00 L401.00 440.00Z" fill="#c4c4c4" stroke="none"/>
<path d="M401.00 439.20C404.22 439.20 419.83 439.34 424.00 439.20C428.17 439.06 429.47 438.44 430.80 438.20C432.13 437.96 432.56 437.82 433.50 437.50C434.44 437.18 436.38 436.00 437.50 435.90C438.62 435.80 440.18 436.77 441.50 436.80C442.82 436.83 445.77 435.96 446.90 436.10C448.03 436.24 448.56 437.60 449.60 437.80C450.64 438.00 453.36 438.30 454.30 437.50C455.24 436.70 455.82 435.87 456.30 432.10C456.78 428.33 457.32 417.39 457.70 410.60C458.08 403.81 458.54 390.87 459.00 383.60C459.46 376.33 460.52 358.70 461.00 358.70C461.48 358.70 462.02 375.40 462.40 383.60C462.78 391.80 463.32 410.13 463.70 417.30C464.08 424.47 464.53 431.87 465.10 434.80C465.67 437.73 466.58 437.54 467.80 438.20C469.02 438.86 471.29 439.36 473.80 439.50C476.31 439.64 484.08 439.24 485.75 439.20" fill="none" stroke="#2e2e2e" stroke-width="0.85"/>
<rect x="400.50" y="353.75" width="85.75" height="86.25" fill="none" stroke="#7c7c7c" stroke-width="0.95"/>
<path d="M399.20 353.75h2.6 M399.20 358.29h2.6 M399.20 362.83h2.6 M399.20 367.37h2.6 M399.20 371.91h2.6 M399.20 376.45h2.6 M399.20 380.99h2.6 M399.20 385.53h2.6 M399.20 390.07h2.6 M399.20 394.61h2.6 M399.20 399.14h2.6 M399.20 403.68h2.6 M399.20 408.22h2.6 M399.20 412.76h2.6 M399.20 417.30h2.6 M399.20 421.84h2.6 M399.20 426.38h2.6 M399.20 430.92h2.6 M399.20 435.46h2.6 M399.20 440.00h2.6" stroke="#888" stroke-width="0.9" fill="none"/>
<path d="M400.50 438.70v2.6 M415.48 438.70v2.6 M421.94 438.70v2.6 M436.92 438.70v2.6 M443.38 438.70v2.6 M458.36 438.70v2.6 M464.81 438.70v2.6 M479.80 438.70v2.6 M486.25 438.70v2.6" stroke="#888" stroke-width="0.9" fill="none"/>
<line x1="398.00" y1="440.00" x2="400.50" y2="440.00" stroke="#333" stroke-width="0.8"/>
<text x="397.70" y="441.70" font-size="4.6" font-weight="bold" text-anchor="end" fill="#555">0</text>
<line x1="398.00" y1="425.00" x2="400.50" y2="425.00" stroke="#333" stroke-width="0.8"/>
<text x="397.70" y="426.70" font-size="4.6" font-weight="bold" text-anchor="end" fill="#555">100</text>
<line x1="398.00" y1="410.00" x2="400.50" y2="410.00" stroke="#333" stroke-width="0.8"/>
<text x="397.70" y="411.70" font-size="4.6" font-weight="bold" text-anchor="end" fill="#555">200</text>
<line x1="398.00" y1="395.00" x2="400.50" y2="395.00" stroke="#333" stroke-width="0.8"/>
<text x="397.70" y="396.70" font-size="4.6" font-weight="bold" text-anchor="end" fill="#555">300</text>
<line x1="398.00" y1="380.00" x2="400.50" y2="380.00" stroke="#333" stroke-width="0.8"/>
<text x="397.70" y="381.70" font-size="4.6" font-weight="bold" text-anchor="end" fill="#555">400</text>
<line x1="398.00" y1="365.00" x2="400.50" y2="365.00" stroke="#333" stroke-width="0.8"/>
<text x="397.70" y="366.70" font-size="4.6" font-weight="bold" text-anchor="end" fill="#555">500</text>
<line x1="400.50" y1="440.00" x2="400.50" y2="442.00" stroke="#555" stroke-width="0.8"/>
<text x="400.50" y="447.20" font-size="4.4" font-weight="bold" text-anchor="middle" fill="#555">10<tspan font-size="3.30" dy="-2.20">0</tspan></text>
<line x1="421.94" y1="440.00" x2="421.94" y2="442.00" stroke="#555" stroke-width="0.8"/>
<text x="421.94" y="447.20" font-size="4.4" font-weight="bold" text-anchor="middle" fill="#555">10<tspan font-size="3.30" dy="-2.20">1</tspan></text>
<line x1="443.38" y1="440.00" x2="443.38" y2="442.00" stroke="#555" stroke-width="0.8"/>
<text x="443.38" y="447.20" font-size="4.4" font-weight="bold" text-anchor="middle" fill="#555">10<tspan font-size="3.30" dy="-2.20">2</tspan></text>
<line x1="464.81" y1="440.00" x2="464.81" y2="442.00" stroke="#555" stroke-width="0.8"/>
<text x="464.81" y="447.20" font-size="4.4" font-weight="bold" text-anchor="middle" fill="#555">10<tspan font-size="3.30" dy="-2.20">3</tspan></text>
<line x1="486.25" y1="440.00" x2="486.25" y2="442.00" stroke="#555" stroke-width="0.8"/>
<text x="486.25" y="447.20" font-size="4.4" font-weight="bold" text-anchor="middle" fill="#555">10<tspan font-size="3.30" dy="-2.20">4</tspan></text>
<text x="443.38" y="452.50" font-size="3.8" font-weight="bold" text-anchor="middle" fill="#444">FL1-H</text>
<text x="389.90" y="396.88" font-size="4.4" font-weight="bold" text-anchor="middle" fill="#333" transform="rotate(-90 389.90 396.88)"># Cells</text>
<text x="294.80" y="463.20" font-size="10.6" font-weight="bold" text-anchor="start" fill="#000">CFSE</text>
<line x1="324.70" y1="459.40" x2="345.70" y2="459.40" stroke="#000" stroke-width="1.9"/>
<path d="M350.80 459.40 L345.20 457.00 L345.20 461.80Z" fill="#000"/>
<line x1="313.00" y1="477.00" x2="313.00" y2="583.35" stroke="#000" stroke-width="1.5"/>
<line x1="312.25" y1="582.60" x2="444.50" y2="582.60" stroke="#000" stroke-width="1.5"/>
<line x1="309.80" y1="582.60" x2="313.00" y2="582.60" stroke="#000" stroke-width="1.5"/>
<text x="304.00" y="587.00" font-size="10.5" font-weight="bold" text-anchor="end" fill="#000">0</text>
<line x1="309.80" y1="561.68" x2="313.00" y2="561.68" stroke="#000" stroke-width="1.5"/>
<text x="304.00" y="566.08" font-size="10.5" font-weight="bold" text-anchor="end" fill="#000">20</text>
<line x1="309.80" y1="540.76" x2="313.00" y2="540.76" stroke="#000" stroke-width="1.5"/>
<text x="304.00" y="545.16" font-size="10.5" font-weight="bold" text-anchor="end" fill="#000">40</text>
<line x1="309.80" y1="519.84" x2="313.00" y2="519.84" stroke="#000" stroke-width="1.5"/>
<text x="304.00" y="524.24" font-size="10.5" font-weight="bold" text-anchor="end" fill="#000">60</text>
<line x1="309.80" y1="498.92" x2="313.00" y2="498.92" stroke="#000" stroke-width="1.5"/>
<text x="304.00" y="503.32" font-size="10.5" font-weight="bold" text-anchor="end" fill="#000">80</text>
<line x1="309.80" y1="478.00" x2="313.00" y2="478.00" stroke="#000" stroke-width="1.5"/>
<text x="304.00" y="482.40" font-size="10.5" font-weight="bold" text-anchor="end" fill="#000">100</text>
<line x1="313.00" y1="582.60" x2="313.00" y2="585.80" stroke="#000" stroke-width="1.5"/>
<text x="313.00" y="602.60" font-size="10.5" font-weight="bold" text-anchor="middle" fill="#000">0</text>
<line x1="339.24" y1="582.60" x2="339.24" y2="585.80" stroke="#000" stroke-width="1.5"/>
<text x="339.24" y="602.60" font-size="10.5" font-weight="bold" text-anchor="middle" fill="#000">5</text>
<line x1="365.48" y1="582.60" x2="365.48" y2="585.80" stroke="#000" stroke-width="1.5"/>
<text x="365.48" y="602.60" font-size="10.5" font-weight="bold" text-anchor="middle" fill="#000">10</text>
<line x1="391.72" y1="582.60" x2="391.72" y2="585.80" stroke="#000" stroke-width="1.5"/>
<text x="391.72" y="602.60" font-size="10.5" font-weight="bold" text-anchor="middle" fill="#000">15</text>
<line x1="417.96" y1="582.60" x2="417.96" y2="585.80" stroke="#000" stroke-width="1.5"/>
<text x="417.96" y="602.60" font-size="10.5" font-weight="bold" text-anchor="middle" fill="#000">20</text>
<line x1="444.20" y1="582.60" x2="444.20" y2="585.80" stroke="#000" stroke-width="1.5"/>
<text x="444.20" y="602.60" font-size="10.5" font-weight="bold" text-anchor="middle" fill="#000">25</text>
<path d="M313.00 578.83 L329.40 544.00 L345.80 531.03 L378.60 516.60 L444.20 499.97" fill="none" stroke="#000" stroke-width="2.3" stroke-linejoin="miter"/>
<path d="M313.00 578.83 L329.40 580.09 L345.80 575.91 L378.60 573.40 L444.20 570.88" fill="none" stroke="#000" stroke-width="2.3" stroke-linejoin="miter"/>
<rect x="309.10" y="574.93" width="7.80" height="7.80" fill="#000" stroke="none" stroke-width="1"/>
<rect x="325.50" y="540.10" width="7.80" height="7.80" fill="#000" stroke="none" stroke-width="1"/>
<rect x="341.90" y="527.13" width="7.80" height="7.80" fill="#000" stroke="none" stroke-width="1"/>
<rect x="374.70" y="512.70" width="7.80" height="7.80" fill="#000" stroke="none" stroke-width="1"/>
<rect x="440.30" y="496.07" width="7.80" height="7.80" fill="#000" stroke="none" stroke-width="1"/>
<rect x="309.85" y="575.68" width="6.30" height="6.30" fill="#fff" stroke="#000" stroke-width="1.5"/>
<rect x="326.25" y="576.94" width="6.30" height="6.30" fill="#fff" stroke="#000" stroke-width="1.5"/>
<rect x="342.65" y="572.76" width="6.30" height="6.30" fill="#fff" stroke="#000" stroke-width="1.5"/>
<rect x="375.45" y="570.25" width="6.30" height="6.30" fill="#fff" stroke="#000" stroke-width="1.5"/>
<rect x="441.05" y="567.73" width="6.30" height="6.30" fill="#fff" stroke="#000" stroke-width="1.5"/>
<text x="278.80" y="530.00" font-size="10.6" font-weight="bold" text-anchor="middle" fill="#000" transform="rotate(-90 278.80 530.00)">% Divided</text>
<text x="378.40" y="621.00" font-size="10.6" font-weight="bold" text-anchor="middle" fill="#000">DCs (x1000)</text>
<line x1="462.00" y1="530.00" x2="477.00" y2="530.00" stroke="#000" stroke-width="1.4"/>
<rect x="466.20" y="526.70" width="6.60" height="6.60" fill="#000" stroke="none" stroke-width="1"/>
<text x="478.00" y="533.80" font-size="10.5" font-weight="bold" text-anchor="start" fill="#000">WT</text>
<line x1="462.00" y1="542.50" x2="477.00" y2="542.50" stroke="#000" stroke-width="1.4"/>
<rect x="466.85" y="539.85" width="5.30" height="5.30" fill="#fff" stroke="#000" stroke-width="1.3"/>
<text x="478.00" y="546.30" font-size="10.5" font-weight="bold" text-anchor="start" fill="#000">DF</text>
<text x="5.20" y="643.80" font-size="16.5" font-weight="bold" text-anchor="start" fill="#000">E</text>
<text x="73.40" y="646.50" font-size="12.25" font-weight="bold" text-anchor="start" fill="#000">OT2 Peptide (continuous)</text>
<line x1="37.80" y1="651.90" x2="252.00" y2="651.90" stroke="#000" stroke-width="2"/>
<text x="88.60" y="668.50" font-size="10.5" font-weight="bold" text-anchor="middle" fill="#000">WT</text>
<text x="201.00" y="668.00" font-size="10.5" font-weight="bold" text-anchor="middle" fill="#000">Vav<tspan font-size="7" dy="-3.6">NULL</tspan></text>
<path d="M49.25 757.20C53.67 757.24 75.92 757.67 80.80 757.50C85.68 757.33 83.26 757.05 84.10 756.00C84.94 754.95 86.14 750.92 86.80 750.00C87.46 749.08 88.23 749.57 88.80 749.40C89.37 749.23 90.42 750.02 90.90 748.80C91.38 747.58 91.82 742.97 92.20 740.70C92.58 738.43 93.22 734.21 93.60 732.60C93.98 730.99 94.54 728.44 94.90 729.20C95.26 729.96 95.82 736.21 96.20 738.00C96.58 739.79 97.28 742.76 97.60 742.00C97.92 741.24 98.18 734.85 98.50 732.60C98.82 730.35 99.52 726.08 99.90 725.90C100.28 725.72 100.82 728.95 101.20 731.30C101.58 733.65 101.97 741.10 102.60 742.70C103.23 744.30 104.99 742.04 105.70 742.70C106.41 743.36 106.96 746.18 107.70 747.40C108.44 748.62 110.06 751.12 111.00 751.40C111.94 751.68 113.64 750.52 114.40 749.40C115.16 748.28 115.98 747.26 116.40 743.40C116.82 739.54 117.08 729.53 117.40 721.80C117.72 714.07 118.32 694.70 118.70 688.20C119.08 681.70 119.76 675.40 120.10 675.40C120.44 675.40 120.81 681.70 121.10 688.20C121.39 694.70 121.91 713.69 122.20 721.80C122.49 729.91 122.68 741.76 123.20 746.10C123.72 750.44 125.06 751.39 125.90 752.80C126.74 754.21 127.98 755.54 129.20 756.20C130.42 756.86 133.68 757.36 134.60 757.50C135.52 757.64 135.59 757.24 135.75 757.20 L135.75 758.00 L49.25 758.00Z" fill="#c4c4c4" stroke="none"/>
<path d="M49.25 757.20C53.67 757.24 75.92 757.67 80.80 757.50C85.68 757.33 83.26 757.05 84.10 756.00C84.94 754.95 86.14 750.92 86.80 750.00C87.46 749.08 88.23 749.57 88.80 749.40C89.37 749.23 90.42 750.02 90.90 748.80C91.38 747.58 91.82 742.97 92.20 740.70C92.58 738.43 93.22 734.21 93.60 732.60C93.98 730.99 94.54 728.44 94.90 729.20C95.26 729.96 95.82 736.21 96.20 738.00C96.58 739.79 97.28 742.76 97.60 742.00C97.92 741.24 98.18 734.85 98.50 732.60C98.82 730.35 99.52 726.08 99.90 725.90C100.28 725.72 100.82 728.95 101.20 731.30C101.58 733.65 101.97 741.10 102.60 742.70C103.23 744.30 104.99 742.04 105.70 742.70C106.41 743.36 106.96 746.18 107.70 747.40C108.44 748.62 110.06 751.12 111.00 751.40C111.94 751.68 113.64 750.52 114.40 749.40C115.16 748.28 115.98 747.26 116.40 743.40C116.82 739.54 117.08 729.53 117.40 721.80C117.72 714.07 118.32 694.70 118.70 688.20C119.08 681.70 119.76 675.40 120.10 675.40C120.44 675.40 120.81 681.70 121.10 688.20C121.39 694.70 121.91 713.69 122.20 721.80C122.49 729.91 122.68 741.76 123.20 746.10C123.72 750.44 125.06 751.39 125.90 752.80C126.74 754.21 127.98 755.54 129.20 756.20C130.42 756.86 133.68 757.36 134.60 757.50C135.52 757.64 135.59 757.24 135.75 757.20" fill="none" stroke="#2e2e2e" stroke-width="0.85"/>
<rect x="48.75" y="670.50" width="87.50" height="87.50" fill="none" stroke="#7c7c7c" stroke-width="0.95"/>
<path d="M47.45 670.50h2.6 M47.45 675.11h2.6 M47.45 679.71h2.6 M47.45 684.32h2.6 M47.45 688.92h2.6 M47.45 693.53h2.6 M47.45 698.13h2.6 M47.45 702.74h2.6 M47.45 707.34h2.6 M47.45 711.95h2.6 M47.45 716.55h2.6 M47.45 721.16h2.6 M47.45 725.76h2.6 M47.45 730.37h2.6 M47.45 734.97h2.6 M47.45 739.58h2.6 M47.45 744.18h2.6 M47.45 748.79h2.6 M47.45 753.39h2.6 M47.45 758.00h2.6" stroke="#888" stroke-width="0.9" fill="none"/>
<path d="M48.75 756.70v2.6 M64.04 756.70v2.6 M70.62 756.70v2.6 M85.91 756.70v2.6 M92.50 756.70v2.6 M107.79 756.70v2.6 M114.38 756.70v2.6 M129.66 756.70v2.6 M136.25 756.70v2.6" stroke="#888" stroke-width="0.9" fill="none"/>
<line x1="46.25" y1="758.00" x2="48.75" y2="758.00" stroke="#333" stroke-width="0.8"/>
<text x="45.75" y="760.30" font-size="6.4" font-weight="bold" text-anchor="end" fill="#222">0</text>
<line x1="46.25" y1="733.75" x2="48.75" y2="733.75" stroke="#333" stroke-width="0.8"/>
<text x="45.75" y="736.05" font-size="6.4" font-weight="bold" text-anchor="end" fill="#222">200</text>
<line x1="46.25" y1="709.50" x2="48.75" y2="709.50" stroke="#333" stroke-width="0.8"/>
<text x="45.75" y="711.80" font-size="6.4" font-weight="bold" text-anchor="end" fill="#222">400</text>
<line x1="46.25" y1="685.25" x2="48.75" y2="685.25" stroke="#333" stroke-width="0.8"/>
<text x="45.75" y="687.55" font-size="6.4" font-weight="bold" text-anchor="end" fill="#222">600</text>
<line x1="48.75" y1="758.00" x2="48.75" y2="760.00" stroke="#555" stroke-width="0.8"/>
<text x="48.75" y="768.20" font-size="6.4" font-weight="bold" text-anchor="middle" fill="#222">10<tspan font-size="4.80" dy="-3.20">0</tspan></text>
<line x1="70.62" y1="758.00" x2="70.62" y2="760.00" stroke="#555" stroke-width="0.8"/>
<text x="70.62" y="768.20" font-size="6.4" font-weight="bold" text-anchor="middle" fill="#222">10<tspan font-size="4.80" dy="-3.20">1</tspan></text>
<line x1="92.50" y1="758.00" x2="92.50" y2="760.00" stroke="#555" stroke-width="0.8"/>
<text x="92.50" y="768.20" font-size="6.4" font-weight="bold" text-anchor="middle" fill="#222">10<tspan font-size="4.80" dy="-3.20">2</tspan></text>
<line x1="114.38" y1="758.00" x2="114.38" y2="760.00" stroke="#555" stroke-width="0.8"/>
<text x="114.38" y="768.20" font-size="6.4" font-weight="bold" text-anchor="middle" fill="#222">10<tspan font-size="4.80" dy="-3.20">3</tspan></text>
<line x1="136.25" y1="758.00" x2="136.25" y2="760.00" stroke="#555" stroke-width="0.8"/>
<text x="136.25" y="768.20" font-size="6.4" font-weight="bold" text-anchor="middle" fill="#222">10<tspan font-size="4.80" dy="-3.20">4</tspan></text>
<path d="M159.25 757.45C163.29 757.46 183.50 757.70 188.10 757.50C192.70 757.30 191.16 756.98 192.10 756.00C193.04 755.02 194.23 751.51 194.80 750.50C195.37 749.49 195.86 750.17 196.20 748.80C196.54 747.43 196.92 742.11 197.20 740.70C197.48 739.29 197.88 738.70 198.20 738.70C198.52 738.70 199.18 740.32 199.50 740.70C199.82 741.08 200.18 742.53 200.50 741.40C200.82 740.27 201.31 734.69 201.80 732.60C202.29 730.51 203.51 726.12 204.00 726.50C204.49 726.88 204.89 733.21 205.30 735.30C205.71 737.39 206.34 742.25 206.90 741.40C207.46 740.55 208.77 729.87 209.30 729.20C209.83 728.53 210.28 734.33 210.70 736.60C211.12 738.87 211.74 744.45 212.30 745.40C212.86 746.35 214.14 743.30 214.70 743.40C215.26 743.50 215.70 745.16 216.30 746.10C216.90 747.04 218.27 749.82 219.00 750.10C219.73 750.38 220.84 748.00 221.50 748.10C222.16 748.20 223.10 751.46 223.70 750.80C224.30 750.14 225.32 749.34 225.80 743.40C226.28 737.46 226.58 717.92 227.10 708.40C227.62 698.88 228.97 677.29 229.50 675.40C230.03 673.51 230.52 686.51 230.90 694.90C231.28 703.29 231.79 727.47 232.20 735.30C232.61 743.13 233.00 747.97 233.80 750.80C234.60 753.63 236.57 754.56 237.90 755.50C239.23 756.44 242.20 757.23 243.30 757.50C244.40 757.77 245.41 757.46 245.75 757.45 L245.75 758.25 L159.25 758.25Z" fill="#c4c4c4" stroke="none"/>
<path d="M159.25 757.45C163.29 757.46 183.50 757.70 188.10 757.50C192.70 757.30 191.16 756.98 192.10 756.00C193.04 755.02 194.23 751.51 194.80 750.50C195.37 749.49 195.86 750.17 196.20 748.80C196.54 747.43 196.92 742.11 197.20 740.70C197.48 739.29 197.88 738.70 198.20 738.70C198.52 738.70 199.18 740.32 199.50 740.70C199.82 741.08 200.18 742.53 200.50 741.40C200.82 740.27 201.31 734.69 201.80 732.60C202.29 730.51 203.51 726.12 204.00 726.50C204.49 726.88 204.89 733.21 205.30 735.30C205.71 737.39 206.34 742.25 206.90 741.40C207.46 740.55 208.77 729.87 209.30 729.20C209.83 728.53 210.28 734.33 210.70 736.60C211.12 738.87 211.74 744.45 212.30 745.40C212.86 746.35 214.14 743.30 214.70 743.40C215.26 743.50 215.70 745.16 216.30 746.10C216.90 747.04 218.27 749.82 219.00 750.10C219.73 750.38 220.84 748.00 221.50 748.10C222.16 748.20 223.10 751.46 223.70 750.80C224.30 750.14 225.32 749.34 225.80 743.40C226.28 737.46 226.58 717.92 227.10 708.40C227.62 698.88 228.97 677.29 229.50 675.40C230.03 673.51 230.52 686.51 230.90 694.90C231.28 703.29 231.79 727.47 232.20 735.30C232.61 743.13 233.00 747.97 233.80 750.80C234.60 753.63 236.57 754.56 237.90 755.50C239.23 756.44 242.20 757.23 243.30 757.50C244.40 757.77 245.41 757.46 245.75 757.45" fill="none" stroke="#2e2e2e" stroke-width="0.85"/>
<rect x="158.75" y="671.25" width="87.50" height="87.00" fill="none" stroke="#7c7c7c" stroke-width="0.95"/>
<path d="M157.45 671.25h2.6 M157.45 675.83h2.6 M157.45 680.41h2.6 M157.45 684.99h2.6 M157.45 689.57h2.6 M157.45 694.14h2.6 M157.45 698.72h2.6 M157.45 703.30h2.6 M157.45 707.88h2.6 M157.45 712.46h2.6 M157.45 717.04h2.6 M157.45 721.62h2.6 M157.45 726.20h2.6 M157.45 730.78h2.6 M157.45 735.36h2.6 M157.45 739.93h2.6 M157.45 744.51h2.6 M157.45 749.09h2.6 M157.45 753.67h2.6 M157.45 758.25h2.6" stroke="#888" stroke-width="0.9" fill="none"/>
<path d="M158.75 756.95v2.6 M174.04 756.95v2.6 M180.62 756.95v2.6 M195.91 756.95v2.6 M202.50 756.95v2.6 M217.79 756.95v2.6 M224.38 756.95v2.6 M239.66 756.95v2.6 M246.25 756.95v2.6" stroke="#888" stroke-width="0.9" fill="none"/>
<line x1="156.25" y1="758.25" x2="158.75" y2="758.25" stroke="#333" stroke-width="0.8"/>
<text x="155.75" y="760.55" font-size="6.4" font-weight="bold" text-anchor="end" fill="#222">0</text>
<line x1="156.25" y1="732.65" x2="158.75" y2="732.65" stroke="#333" stroke-width="0.8"/>
<text x="155.75" y="734.95" font-size="6.4" font-weight="bold" text-anchor="end" fill="#222">200</text>
<line x1="156.25" y1="707.05" x2="158.75" y2="707.05" stroke="#333" stroke-width="0.8"/>
<text x="155.75" y="709.35" font-size="6.4" font-weight="bold" text-anchor="end" fill="#222">400</text>
<line x1="156.25" y1="681.45" x2="158.75" y2="681.45" stroke="#333" stroke-width="0.8"/>
<text x="155.75" y="683.75" font-size="6.4" font-weight="bold" text-anchor="end" fill="#222">600</text>
<line x1="158.75" y1="758.25" x2="158.75" y2="760.25" stroke="#555" stroke-width="0.8"/>
<text x="158.75" y="768.45" font-size="6.4" font-weight="bold" text-anchor="middle" fill="#222">10<tspan font-size="4.80" dy="-3.20">0</tspan></text>
<line x1="180.62" y1="758.25" x2="180.62" y2="760.25" stroke="#555" stroke-width="0.8"/>
<text x="180.62" y="768.45" font-size="6.4" font-weight="bold" text-anchor="middle" fill="#222">10<tspan font-size="4.80" dy="-3.20">1</tspan></text>
<line x1="202.50" y1="758.25" x2="202.50" y2="760.25" stroke="#555" stroke-width="0.8"/>
<text x="202.50" y="768.45" font-size="6.4" font-weight="bold" text-anchor="middle" fill="#222">10<tspan font-size="4.80" dy="-3.20">2</tspan></text>
<line x1="224.38" y1="758.25" x2="224.38" y2="760.25" stroke="#555" stroke-width="0.8"/>
<text x="224.38" y="768.45" font-size="6.4" font-weight="bold" text-anchor="middle" fill="#222">10<tspan font-size="4.80" dy="-3.20">3</tspan></text>
<line x1="246.25" y1="758.25" x2="246.25" y2="760.25" stroke="#555" stroke-width="0.8"/>
<text x="246.25" y="768.45" font-size="6.4" font-weight="bold" text-anchor="middle" fill="#222">10<tspan font-size="4.80" dy="-3.20">4</tspan></text>
<text x="44.00" y="779.90" font-size="10.6" font-weight="bold" text-anchor="start" fill="#000">CFSE</text>
<line x1="76.10" y1="775.70" x2="96.50" y2="775.70" stroke="#000" stroke-width="1.9"/>
<path d="M101.60 775.70 L96.00 773.30 L96.00 778.10Z" fill="#000"/>
<line x1="78.00" y1="797.50" x2="78.00" y2="902.50" stroke="#000" stroke-width="1.5"/>
<line x1="77.25" y1="901.75" x2="195.50" y2="901.75" stroke="#000" stroke-width="1.5"/>
<line x1="74.80" y1="901.75" x2="78.00" y2="901.75" stroke="#000" stroke-width="1.5"/>
<text x="69.00" y="906.15" font-size="10.5" font-weight="bold" text-anchor="end" fill="#000">0</text>
<line x1="74.80" y1="881.15" x2="78.00" y2="881.15" stroke="#000" stroke-width="1.5"/>
<text x="69.00" y="885.55" font-size="10.5" font-weight="bold" text-anchor="end" fill="#000">10</text>
<line x1="74.80" y1="860.55" x2="78.00" y2="860.55" stroke="#000" stroke-width="1.5"/>
<text x="69.00" y="864.95" font-size="10.5" font-weight="bold" text-anchor="end" fill="#000">20</text>
<line x1="74.80" y1="839.95" x2="78.00" y2="839.95" stroke="#000" stroke-width="1.5"/>
<text x="69.00" y="844.35" font-size="10.5" font-weight="bold" text-anchor="end" fill="#000">30</text>
<line x1="74.80" y1="819.35" x2="78.00" y2="819.35" stroke="#000" stroke-width="1.5"/>
<text x="69.00" y="823.75" font-size="10.5" font-weight="bold" text-anchor="end" fill="#000">40</text>
<line x1="74.80" y1="798.75" x2="78.00" y2="798.75" stroke="#000" stroke-width="1.5"/>
<text x="69.00" y="803.15" font-size="10.5" font-weight="bold" text-anchor="end" fill="#000">50</text>
<line x1="77.90" y1="901.75" x2="77.90" y2="904.95" stroke="#000" stroke-width="1.5"/>
<text x="77.90" y="922.55" font-size="10.5" font-weight="bold" text-anchor="middle" fill="#000">0.01</text>
<line x1="107.20" y1="901.75" x2="107.20" y2="904.95" stroke="#000" stroke-width="1.5"/>
<text x="107.20" y="922.55" font-size="10.5" font-weight="bold" text-anchor="middle" fill="#000">0.1</text>
<line x1="136.50" y1="901.75" x2="136.50" y2="904.95" stroke="#000" stroke-width="1.5"/>
<text x="136.50" y="922.55" font-size="10.5" font-weight="bold" text-anchor="middle" fill="#000">1</text>
<line x1="165.80" y1="901.75" x2="165.80" y2="904.95" stroke="#000" stroke-width="1.5"/>
<text x="165.80" y="922.55" font-size="10.5" font-weight="bold" text-anchor="middle" fill="#000">10</text>
<path d="M77.90 900.00 L107.20 899.48 L136.50 886.92 L165.80 820.59 L195.10 806.99" fill="none" stroke="#000" stroke-width="1.5" stroke-linejoin="miter"/>
<path d="M77.90 899.69 L107.20 899.48 L136.50 892.48 L165.80 848.81 L195.10 799.57" fill="none" stroke="#000" stroke-width="1.5" stroke-linejoin="miter"/>
<rect x="74.10" y="896.20" width="7.60" height="7.60" fill="#000" stroke="none" stroke-width="1"/>
<rect x="103.40" y="895.68" width="7.60" height="7.60" fill="#000" stroke="none" stroke-width="1"/>
<rect x="132.70" y="883.12" width="7.60" height="7.60" fill="#000" stroke="none" stroke-width="1"/>
<rect x="162.00" y="816.79" width="7.60" height="7.60" fill="#000" stroke="none" stroke-width="1"/>
<rect x="191.30" y="803.19" width="7.60" height="7.60" fill="#000" stroke="none" stroke-width="1"/>
<rect x="74.85" y="896.64" width="6.10" height="6.10" fill="#fff" stroke="#000" stroke-width="1.5"/>
<rect x="104.15" y="896.43" width="6.10" height="6.10" fill="#fff" stroke="#000" stroke-width="1.5"/>
<rect x="133.45" y="889.43" width="6.10" height="6.10" fill="#fff" stroke="#000" stroke-width="1.5"/>
<rect x="162.75" y="845.76" width="6.10" height="6.10" fill="#fff" stroke="#000" stroke-width="1.5"/>
<rect x="192.05" y="796.52" width="6.10" height="6.10" fill="#fff" stroke="#000" stroke-width="1.5"/>
<text x="46.70" y="850.00" font-size="10.6" font-weight="bold" text-anchor="middle" fill="#000" transform="rotate(-90 46.70 850.00)">% Divided</text>
<text x="135.00" y="939.60" font-size="10.6" font-weight="bold" text-anchor="middle" fill="#000">Peptide (nM)</text>
<line x1="197.50" y1="847.20" x2="212.50" y2="847.20" stroke="#000" stroke-width="1.4"/>
<rect x="201.70" y="843.90" width="6.60" height="6.60" fill="#000" stroke="none" stroke-width="1"/>
<text x="213.50" y="851.00" font-size="10.5" font-weight="bold" text-anchor="start" fill="#000">WT</text>
<line x1="197.50" y1="858.90" x2="212.50" y2="858.90" stroke="#000" stroke-width="1.4"/>
<rect x="202.35" y="856.25" width="5.30" height="5.30" fill="#fff" stroke="#000" stroke-width="1.3"/>
<text x="213.50" y="862.70" font-size="10.5" font-weight="bold" text-anchor="start" fill="#000">VavNULL</text>
<text x="284.00" y="643.20" font-size="16.5" font-weight="bold" text-anchor="start" fill="#000">F</text>
<text x="330.60" y="648.60" font-size="12.25" font-weight="bold" text-anchor="start" fill="#000">OT2 Peptide (pulsed)</text>
<line x1="282.80" y1="652.80" x2="497.00" y2="652.80" stroke="#000" stroke-width="2"/>
<text x="335.50" y="667.50" font-size="10.5" font-weight="bold" text-anchor="middle" fill="#000">WT</text>
<text x="448.60" y="667.50" font-size="10.5" font-weight="bold" text-anchor="middle" fill="#000">Vav<tspan font-size="7" dy="-3.6">NULL</tspan></text>
<path d="M293.75 757.45C297.34 757.53 315.40 758.34 319.40 758.00C323.40 757.66 321.60 756.12 322.30 755.00C323.00 753.88 323.90 752.10 324.40 750.00C324.90 747.90 325.54 742.94 325.90 740.00C326.26 737.06 326.71 731.00 327.00 729.00C327.29 727.00 327.69 725.35 328.00 725.70C328.31 726.05 328.89 730.30 329.20 731.50C329.51 732.70 329.86 735.52 330.20 734.30C330.54 733.08 331.15 726.13 331.60 722.80C332.05 719.47 332.95 710.29 333.40 710.50C333.85 710.71 334.34 720.76 334.80 724.30C335.26 727.84 336.03 735.41 336.70 735.80C337.37 736.19 339.00 727.31 339.60 727.10C340.20 726.89 340.54 732.48 341.00 734.30C341.46 736.12 342.44 738.78 342.90 740.10C343.36 741.42 343.82 743.29 344.30 743.70C344.78 744.11 345.81 742.59 346.30 743.00C346.79 743.41 347.39 745.59 347.80 746.60C348.21 747.61 348.64 749.70 349.20 750.20C349.76 750.70 351.03 750.10 351.80 750.20C352.57 750.30 354.08 751.10 354.70 750.90C355.32 750.70 355.79 754.34 356.20 748.80C356.61 743.26 357.04 721.51 357.60 711.30C358.16 701.09 359.64 677.93 360.20 675.90C360.76 673.87 361.19 687.81 361.60 696.80C362.01 705.79 362.75 732.41 363.10 740.10C363.45 747.79 363.46 749.47 364.10 751.70C364.74 753.93 366.59 755.12 367.70 756.00C368.81 756.88 370.24 757.80 372.00 758.00C373.76 758.20 379.10 757.53 380.25 757.45 L380.25 758.25 L293.75 758.25Z" fill="#c4c4c4" stroke="none"/>
<path d="M293.75 757.45C297.34 757.53 315.40 758.34 319.40 758.00C323.40 757.66 321.60 756.12 322.30 755.00C323.00 753.88 323.90 752.10 324.40 750.00C324.90 747.90 325.54 742.94 325.90 740.00C326.26 737.06 326.71 731.00 327.00 729.00C327.29 727.00 327.69 725.35 328.00 725.70C328.31 726.05 328.89 730.30 329.20 731.50C329.51 732.70 329.86 735.52 330.20 734.30C330.54 733.08 331.15 726.13 331.60 722.80C332.05 719.47 332.95 710.29 333.40 710.50C333.85 710.71 334.34 720.76 334.80 724.30C335.26 727.84 336.03 735.41 336.70 735.80C337.37 736.19 339.00 727.31 339.60 727.10C340.20 726.89 340.54 732.48 341.00 734.30C341.46 736.12 342.44 738.78 342.90 740.10C343.36 741.42 343.82 743.29 344.30 743.70C344.78 744.11 345.81 742.59 346.30 743.00C346.79 743.41 347.39 745.59 347.80 746.60C348.21 747.61 348.64 749.70 349.20 750.20C349.76 750.70 351.03 750.10 351.80 750.20C352.57 750.30 354.08 751.10 354.70 750.90C355.32 750.70 355.79 754.34 356.20 748.80C356.61 743.26 357.04 721.51 357.60 711.30C358.16 701.09 359.64 677.93 360.20 675.90C360.76 673.87 361.19 687.81 361.60 696.80C362.01 705.79 362.75 732.41 363.10 740.10C363.45 747.79 363.46 749.47 364.10 751.70C364.74 753.93 366.59 755.12 367.70 756.00C368.81 756.88 370.24 757.80 372.00 758.00C373.76 758.20 379.10 757.53 380.25 757.45" fill="none" stroke="#2e2e2e" stroke-width="0.85"/>
<rect x="293.25" y="670.75" width="87.50" height="87.50" fill="none" stroke="#7c7c7c" stroke-width="0.95"/>
<path d="M291.95 670.75h2.6 M291.95 675.36h2.6 M291.95 679.96h2.6 M291.95 684.57h2.6 M291.95 689.17h2.6 M291.95 693.78h2.6 M291.95 698.38h2.6 M291.95 702.99h2.6 M291.95 707.59h2.6 M291.95 712.20h2.6 M291.95 716.80h2.6 M291.95 721.41h2.6 M291.95 726.01h2.6 M291.95 730.62h2.6 M291.95 735.22h2.6 M291.95 739.83h2.6 M291.95 744.43h2.6 M291.95 749.04h2.6 M291.95 753.64h2.6 M291.95 758.25h2.6" stroke="#888" stroke-width="0.9" fill="none"/>
<path d="M293.25 756.95v2.6 M308.54 756.95v2.6 M315.12 756.95v2.6 M330.41 756.95v2.6 M337.00 756.95v2.6 M352.29 756.95v2.6 M358.88 756.95v2.6 M374.16 756.95v2.6 M380.75 756.95v2.6" stroke="#888" stroke-width="0.9" fill="none"/>
<line x1="290.75" y1="758.25" x2="293.25" y2="758.25" stroke="#333" stroke-width="0.8"/>
<text x="290.25" y="760.55" font-size="6.4" font-weight="bold" text-anchor="end" fill="#222">0</text>
<line x1="290.75" y1="738.50" x2="293.25" y2="738.50" stroke="#333" stroke-width="0.8"/>
<text x="290.25" y="740.80" font-size="6.4" font-weight="bold" text-anchor="end" fill="#222">100</text>
<line x1="290.75" y1="718.75" x2="293.25" y2="718.75" stroke="#333" stroke-width="0.8"/>
<text x="290.25" y="721.05" font-size="6.4" font-weight="bold" text-anchor="end" fill="#222">200</text>
<line x1="290.75" y1="699.00" x2="293.25" y2="699.00" stroke="#333" stroke-width="0.8"/>
<text x="290.25" y="701.30" font-size="6.4" font-weight="bold" text-anchor="end" fill="#222">300</text>
<line x1="290.75" y1="679.25" x2="293.25" y2="679.25" stroke="#333" stroke-width="0.8"/>
<text x="290.25" y="681.55" font-size="6.4" font-weight="bold" text-anchor="end" fill="#222">400</text>
<line x1="293.25" y1="758.25" x2="293.25" y2="760.25" stroke="#555" stroke-width="0.8"/>
<text x="293.25" y="768.45" font-size="6.4" font-weight="bold" text-anchor="middle" fill="#222">10<tspan font-size="4.80" dy="-3.20">0</tspan></text>
<line x1="315.12" y1="758.25" x2="315.12" y2="760.25" stroke="#555" stroke-width="0.8"/>
<text x="315.12" y="768.45" font-size="6.4" font-weight="bold" text-anchor="middle" fill="#222">10<tspan font-size="4.80" dy="-3.20">1</tspan></text>
<line x1="337.00" y1="758.25" x2="337.00" y2="760.25" stroke="#555" stroke-width="0.8"/>
<text x="337.00" y="768.45" font-size="6.4" font-weight="bold" text-anchor="middle" fill="#222">10<tspan font-size="4.80" dy="-3.20">2</tspan></text>
<line x1="358.88" y1="758.25" x2="358.88" y2="760.25" stroke="#555" stroke-width="0.8"/>
<text x="358.88" y="768.45" font-size="6.4" font-weight="bold" text-anchor="middle" fill="#222">10<tspan font-size="4.80" dy="-3.20">3</tspan></text>
<line x1="380.75" y1="758.25" x2="380.75" y2="760.25" stroke="#555" stroke-width="0.8"/>
<text x="380.75" y="768.45" font-size="6.4" font-weight="bold" text-anchor="middle" fill="#222">10<tspan font-size="4.80" dy="-3.20">4</tspan></text>
<path d="M410.50 757.45C414.63 757.44 433.45 757.49 440.00 757.40C446.55 757.31 453.10 756.91 457.30 756.80C461.50 756.69 467.98 757.08 470.00 756.60C472.02 756.12 471.21 756.12 471.70 753.40C472.19 750.68 473.09 742.69 473.50 737.20C473.91 731.71 474.32 720.65 474.60 714.20C474.88 707.75 475.26 694.82 475.50 691.10C475.74 687.38 476.13 688.90 476.30 687.60C476.47 686.30 476.56 683.49 476.70 681.80C476.84 680.11 477.10 675.01 477.30 675.50C477.50 675.99 477.83 679.88 478.10 685.30C478.37 690.72 478.88 706.61 479.20 714.20C479.52 721.79 480.15 735.79 480.40 739.50C480.65 743.21 480.80 741.18 481.00 740.70C481.20 740.22 481.59 736.94 481.80 736.10C482.01 735.26 482.29 734.38 482.50 734.70C482.71 735.02 483.03 736.43 483.30 738.40C483.57 740.37 483.92 746.62 484.40 748.80C484.88 750.98 485.97 752.88 486.70 754.00C487.43 755.12 488.55 756.27 489.60 756.80C490.65 757.33 493.09 757.71 494.20 757.80C495.31 757.89 497.04 757.50 497.50 757.45 L497.50 758.25 L410.50 758.25Z" fill="#c4c4c4" stroke="none"/>
<path d="M410.50 757.45C414.63 757.44 433.45 757.49 440.00 757.40C446.55 757.31 453.10 756.91 457.30 756.80C461.50 756.69 467.98 757.08 470.00 756.60C472.02 756.12 471.21 756.12 471.70 753.40C472.19 750.68 473.09 742.69 473.50 737.20C473.91 731.71 474.32 720.65 474.60 714.20C474.88 707.75 475.26 694.82 475.50 691.10C475.74 687.38 476.13 688.90 476.30 687.60C476.47 686.30 476.56 683.49 476.70 681.80C476.84 680.11 477.10 675.01 477.30 675.50C477.50 675.99 477.83 679.88 478.10 685.30C478.37 690.72 478.88 706.61 479.20 714.20C479.52 721.79 480.15 735.79 480.40 739.50C480.65 743.21 480.80 741.18 481.00 740.70C481.20 740.22 481.59 736.94 481.80 736.10C482.01 735.26 482.29 734.38 482.50 734.70C482.71 735.02 483.03 736.43 483.30 738.40C483.57 740.37 483.92 746.62 484.40 748.80C484.88 750.98 485.97 752.88 486.70 754.00C487.43 755.12 488.55 756.27 489.60 756.80C490.65 757.33 493.09 757.71 494.20 757.80C495.31 757.89 497.04 757.50 497.50 757.45" fill="none" stroke="#2e2e2e" stroke-width="0.85"/>
<rect x="410.00" y="671.25" width="88.00" height="87.00" fill="none" stroke="#7c7c7c" stroke-width="0.95"/>
<path d="M408.70 671.25h2.6 M408.70 675.83h2.6 M408.70 680.41h2.6 M408.70 684.99h2.6 M408.70 689.57h2.6 M408.70 694.14h2.6 M408.70 698.72h2.6 M408.70 703.30h2.6 M408.70 707.88h2.6 M408.70 712.46h2.6 M408.70 717.04h2.6 M408.70 721.62h2.6 M408.70 726.20h2.6 M408.70 730.78h2.6 M408.70 735.36h2.6 M408.70 739.93h2.6 M408.70 744.51h2.6 M408.70 749.09h2.6 M408.70 753.67h2.6 M408.70 758.25h2.6" stroke="#888" stroke-width="0.9" fill="none"/>
<path d="M410.00 756.95v2.6 M425.38 756.95v2.6 M432.00 756.95v2.6 M447.38 756.95v2.6 M454.00 756.95v2.6 M469.38 756.95v2.6 M476.00 756.95v2.6 M491.38 756.95v2.6 M498.00 756.95v2.6" stroke="#888" stroke-width="0.9" fill="none"/>
<line x1="407.50" y1="758.25" x2="410.00" y2="758.25" stroke="#333" stroke-width="0.8"/>
<text x="407.00" y="760.55" font-size="6.4" font-weight="bold" text-anchor="end" fill="#222">0</text>
<line x1="407.50" y1="743.15" x2="410.00" y2="743.15" stroke="#333" stroke-width="0.8"/>
<text x="407.00" y="745.45" font-size="6.4" font-weight="bold" text-anchor="end" fill="#222">50</text>
<line x1="407.50" y1="728.05" x2="410.00" y2="728.05" stroke="#333" stroke-width="0.8"/>
<text x="407.00" y="730.35" font-size="6.4" font-weight="bold" text-anchor="end" fill="#222">100</text>
<line x1="407.50" y1="712.95" x2="410.00" y2="712.95" stroke="#333" stroke-width="0.8"/>
<text x="407.00" y="715.25" font-size="6.4" font-weight="bold" text-anchor="end" fill="#222">150</text>
<line x1="407.50" y1="697.85" x2="410.00" y2="697.85" stroke="#333" stroke-width="0.8"/>
<text x="407.00" y="700.15" font-size="6.4" font-weight="bold" text-anchor="end" fill="#222">200</text>
<line x1="407.50" y1="682.75" x2="410.00" y2="682.75" stroke="#333" stroke-width="0.8"/>
<text x="407.00" y="685.05" font-size="6.4" font-weight="bold" text-anchor="end" fill="#222">250</text>
<line x1="410.00" y1="758.25" x2="410.00" y2="760.25" stroke="#555" stroke-width="0.8"/>
<text x="410.00" y="768.45" font-size="6.4" font-weight="bold" text-anchor="middle" fill="#222">10<tspan font-size="4.80" dy="-3.20">0</tspan></text>
<line x1="432.00" y1="758.25" x2="432.00" y2="760.25" stroke="#555" stroke-width="0.8"/>
<text x="432.00" y="768.45" font-size="6.4" font-weight="bold" text-anchor="middle" fill="#222">10<tspan font-size="4.80" dy="-3.20">1</tspan></text>
<line x1="454.00" y1="758.25" x2="454.00" y2="760.25" stroke="#555" stroke-width="0.8"/>
<text x="454.00" y="768.45" font-size="6.4" font-weight="bold" text-anchor="middle" fill="#222">10<tspan font-size="4.80" dy="-3.20">2</tspan></text>
<line x1="476.00" y1="758.25" x2="476.00" y2="760.25" stroke="#555" stroke-width="0.8"/>
<text x="476.00" y="768.45" font-size="6.4" font-weight="bold" text-anchor="middle" fill="#222">10<tspan font-size="4.80" dy="-3.20">3</tspan></text>
<line x1="498.00" y1="758.25" x2="498.00" y2="760.25" stroke="#555" stroke-width="0.8"/>
<text x="498.00" y="768.45" font-size="6.4" font-weight="bold" text-anchor="middle" fill="#222">10<tspan font-size="4.80" dy="-3.20">4</tspan></text>
<text x="297.10" y="780.90" font-size="10.6" font-weight="bold" text-anchor="start" fill="#000">CFSE</text>
<line x1="327.30" y1="777.40" x2="348.10" y2="777.40" stroke="#000" stroke-width="1.9"/>
<path d="M353.20 777.40 L347.60 775.00 L347.60 779.80Z" fill="#000"/>
<line x1="315.70" y1="797.00" x2="315.70" y2="900.75" stroke="#000" stroke-width="1.5"/>
<line x1="314.95" y1="900.00" x2="445.80" y2="900.00" stroke="#000" stroke-width="1.5"/>
<line x1="312.50" y1="900.00" x2="315.70" y2="900.00" stroke="#000" stroke-width="1.5"/>
<text x="306.70" y="904.40" font-size="10.5" font-weight="bold" text-anchor="end" fill="#000">0</text>
<line x1="312.50" y1="879.60" x2="315.70" y2="879.60" stroke="#000" stroke-width="1.5"/>
<text x="306.70" y="884.00" font-size="10.5" font-weight="bold" text-anchor="end" fill="#000">20</text>
<line x1="312.50" y1="859.20" x2="315.70" y2="859.20" stroke="#000" stroke-width="1.5"/>
<text x="306.70" y="863.60" font-size="10.5" font-weight="bold" text-anchor="end" fill="#000">40</text>
<line x1="312.50" y1="838.80" x2="315.70" y2="838.80" stroke="#000" stroke-width="1.5"/>
<text x="306.70" y="843.20" font-size="10.5" font-weight="bold" text-anchor="end" fill="#000">60</text>
<line x1="312.50" y1="818.40" x2="315.70" y2="818.40" stroke="#000" stroke-width="1.5"/>
<text x="306.70" y="822.80" font-size="10.5" font-weight="bold" text-anchor="end" fill="#000">80</text>
<line x1="312.50" y1="798.00" x2="315.70" y2="798.00" stroke="#000" stroke-width="1.5"/>
<text x="306.70" y="802.40" font-size="10.5" font-weight="bold" text-anchor="end" fill="#000">100</text>
<line x1="315.70" y1="900.00" x2="315.70" y2="903.20" stroke="#000" stroke-width="1.5"/>
<text x="315.70" y="919.90" font-size="10.5" font-weight="bold" text-anchor="middle" fill="#000">0</text>
<line x1="341.60" y1="900.00" x2="341.60" y2="903.20" stroke="#000" stroke-width="1.5"/>
<text x="341.60" y="919.90" font-size="10.5" font-weight="bold" text-anchor="middle" fill="#000">5</text>
<line x1="367.50" y1="900.00" x2="367.50" y2="903.20" stroke="#000" stroke-width="1.5"/>
<text x="367.50" y="919.90" font-size="10.5" font-weight="bold" text-anchor="middle" fill="#000">10</text>
<line x1="393.40" y1="900.00" x2="393.40" y2="903.20" stroke="#000" stroke-width="1.5"/>
<text x="393.40" y="919.90" font-size="10.5" font-weight="bold" text-anchor="middle" fill="#000">15</text>
<line x1="419.30" y1="900.00" x2="419.30" y2="903.20" stroke="#000" stroke-width="1.5"/>
<text x="419.30" y="919.90" font-size="10.5" font-weight="bold" text-anchor="middle" fill="#000">20</text>
<line x1="445.20" y1="900.00" x2="445.20" y2="903.20" stroke="#000" stroke-width="1.5"/>
<text x="445.20" y="919.90" font-size="10.5" font-weight="bold" text-anchor="middle" fill="#000">25</text>
<path d="M315.70 898.98 L323.79 873.28 L331.89 855.53 L348.07 834.52 L380.45 818.81 L445.20 808.20" fill="none" stroke="#000" stroke-width="1.5" stroke-linejoin="miter"/>
<path d="M315.70 899.39 L323.79 899.29 L331.89 897.96 L348.07 895.72 L380.45 892.45 L445.20 881.64" fill="none" stroke="#000" stroke-width="1.5" stroke-linejoin="miter"/>
<rect x="312.00" y="895.28" width="7.40" height="7.40" fill="#000" stroke="none" stroke-width="1"/>
<rect x="320.09" y="869.58" width="7.40" height="7.40" fill="#000" stroke="none" stroke-width="1"/>
<rect x="328.19" y="851.83" width="7.40" height="7.40" fill="#000" stroke="none" stroke-width="1"/>
<rect x="344.38" y="830.82" width="7.40" height="7.40" fill="#000" stroke="none" stroke-width="1"/>
<rect x="376.75" y="815.11" width="7.40" height="7.40" fill="#000" stroke="none" stroke-width="1"/>
<rect x="441.50" y="804.50" width="7.40" height="7.40" fill="#000" stroke="none" stroke-width="1"/>
<rect x="312.75" y="896.44" width="5.90" height="5.90" fill="#fff" stroke="#000" stroke-width="1.5"/>
<rect x="320.84" y="896.34" width="5.90" height="5.90" fill="#fff" stroke="#000" stroke-width="1.5"/>
<rect x="328.94" y="895.01" width="5.90" height="5.90" fill="#fff" stroke="#000" stroke-width="1.5"/>
<rect x="345.12" y="892.77" width="5.90" height="5.90" fill="#fff" stroke="#000" stroke-width="1.5"/>
<rect x="377.50" y="889.50" width="5.90" height="5.90" fill="#fff" stroke="#000" stroke-width="1.5"/>
<rect x="442.25" y="878.69" width="5.90" height="5.90" fill="#fff" stroke="#000" stroke-width="1.5"/>
<text x="281.20" y="847.20" font-size="10.6" font-weight="bold" text-anchor="middle" fill="#000" transform="rotate(-90 281.20 847.20)">%Divided</text>
<text x="386.00" y="940.60" font-size="10.6" font-weight="bold" text-anchor="middle" fill="#000">DCs (x1000)</text>
<line x1="447.50" y1="845.50" x2="462.50" y2="845.50" stroke="#000" stroke-width="1.4"/>
<rect x="451.70" y="842.20" width="6.60" height="6.60" fill="#000" stroke="none" stroke-width="1"/>
<text x="463.50" y="849.30" font-size="10.5" font-weight="bold" text-anchor="start" fill="#000">WT</text>
<line x1="447.50" y1="858.00" x2="462.50" y2="858.00" stroke="#000" stroke-width="1.4"/>
<rect x="452.35" y="855.35" width="5.30" height="5.30" fill="#fff" stroke="#000" stroke-width="1.3"/>
<text x="463.50" y="861.80" font-size="10.5" font-weight="bold" text-anchor="start" fill="#000">VavNULL</text>
</svg></body></html>
